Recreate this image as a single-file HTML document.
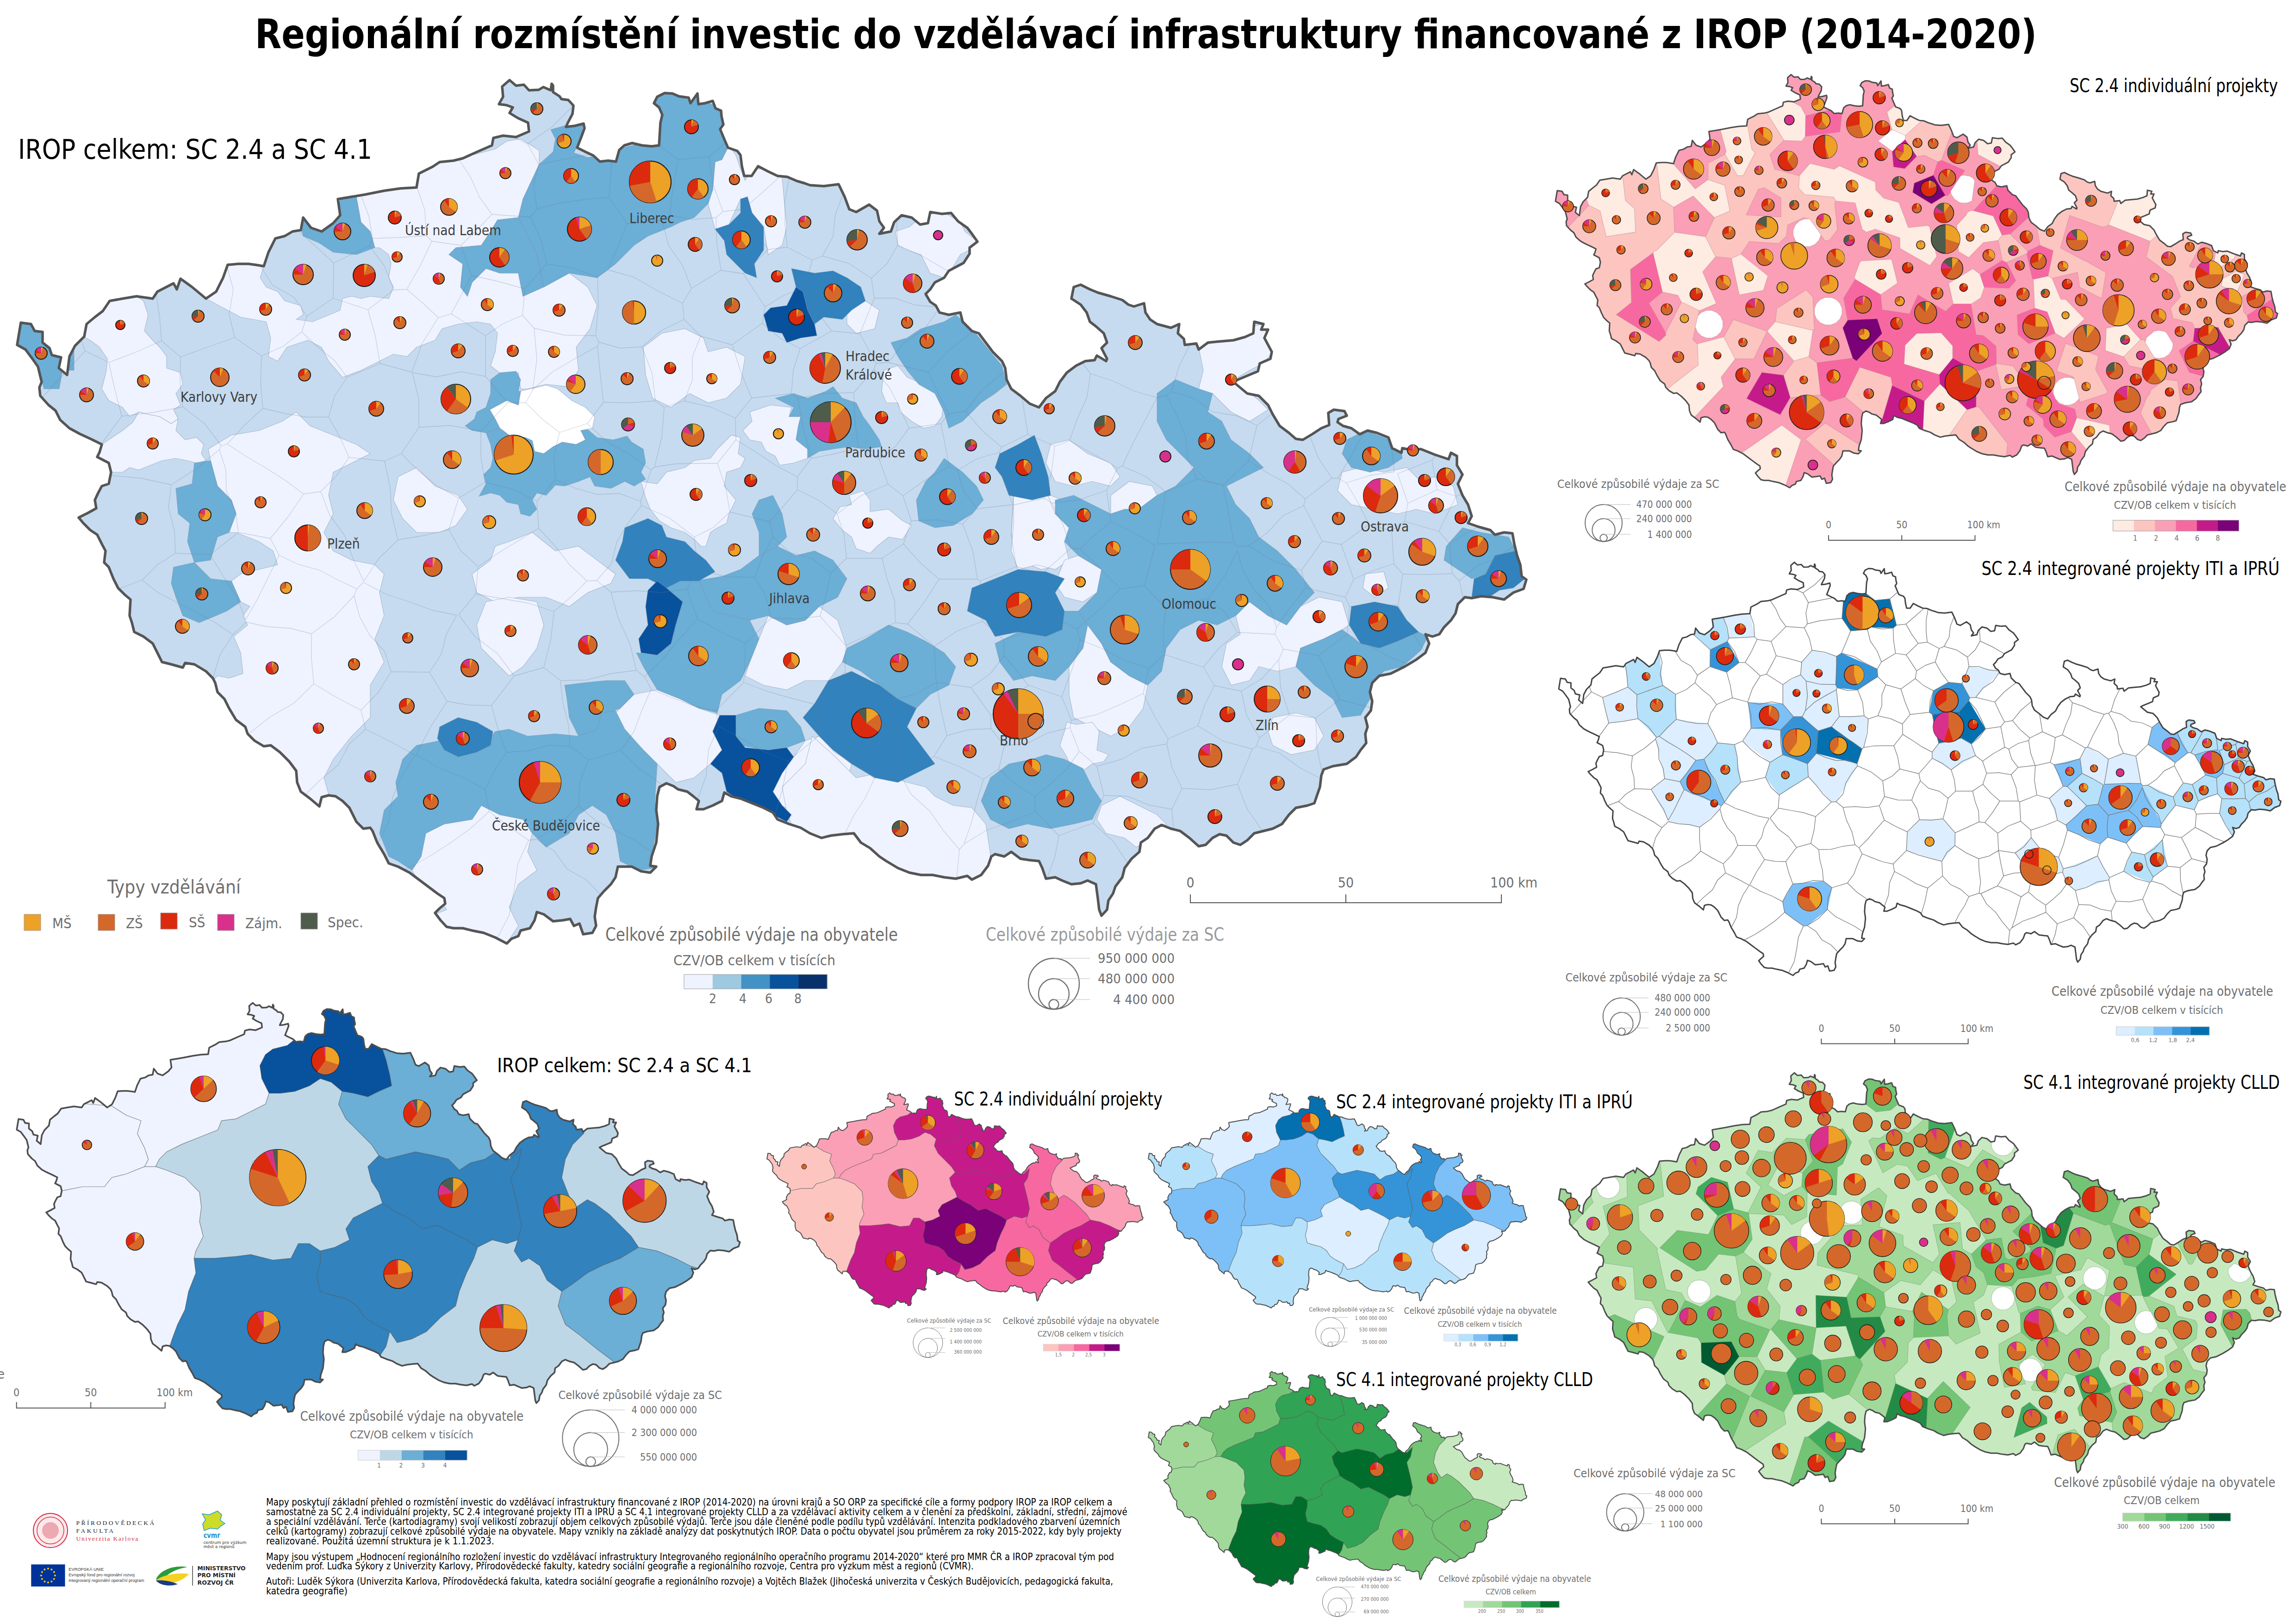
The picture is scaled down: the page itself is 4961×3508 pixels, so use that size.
<!DOCTYPE html><html><head><meta charset="utf-8"><style>html,body{margin:0;padding:0;background:#fff;overflow:hidden}svg{display:block}</style></head><body><svg width="4961" height="3508" viewBox="0 0 4961 3508" font-family="'DejaVu Sans Condensed','Liberation Sans','DejaVu Sans',sans-serif">
<defs><path id="mesh" d="M175,734L184,758M184,758L146,799M140,806L91,859M1239,228L1193,274L1140,311M1140,311L1107,295M184,758L235,783M219,959L263,899M235,783L248,841L263,899M337,634L345,685L349,736M235,783L293,761L349,736M1822,419L1805,463L1800,511L1777,553M1937,475L1940,529M1777,553L1834,569L1883,601M1883,601L1917,569L1940,529M257,1272L307,1253M239,1027L305,1033L370,1047M307,1253L340,1220L379,1195M370,1047L364,1097L377,1146L379,1195M2830,941L2849,990L2878,1033M2878,1033L2891,1033M2947,934L2920,984L2891,1033M2049,586L1996,555L1940,529M1883,601L1889,644M1889,644L1934,644L1978,659L2023,663M2820,1078L2878,1033M2749,893L2716,919M2820,1078L2783,1045L2739,1022L2698,995M2716,919L2698,995M2571,744L2547,793L2531,846M2716,919L2671,898L2621,890L2579,860L2531,846M263,899L330,891L395,879M349,736L390,771M395,879L389,825L390,771M491,576L504,626L495,679L507,729M390,771L448,750L507,729M3006,961L3013,1019M2891,1033L2909,1043M3013,1019L2960,1027L2909,1043M2437,1865L2405,1817L2362,1778M2262,1898L2279,1852L2288,1805M2362,1778L2288,1805M2521,1607L2468,1616L2421,1641L2370,1655M2521,1607L2532,1657L2554,1703M2554,1703L2532,1748M2532,1748L2483,1739L2436,1720L2385,1718M2385,1718L2370,1655M2674,1694L2695,1748L2728,1795M2536,1791L2532,1748M2674,1694L2615,1706L2554,1703M2362,1778L2385,1718M2332,1623L2370,1655M2332,1623L2305,1661L2271,1692L2236,1721M2236,1721L2237,1753M2288,1805L2237,1753M1943,1669L2018,1634M1943,1669L1969,1716L2009,1752L2039,1795L2073,1835M2018,1634L2073,1656L2125,1683M2125,1683L2111,1730L2099,1777L2083,1823M2073,1835L2083,1823M2067,1898L2073,1835M1935,1667L1943,1669M1889,1682L1935,1667M1889,1682L1870,1723L1845,1761L1825,1802M2237,1753L2185,1775L2132,1793L2083,1823M2158,1661L2195,1694L2236,1721M2158,1661L2125,1683M1777,553L1755,562M1705,384L1696,434L1696,484L1701,534M1755,562L1701,534M1074,2027L1100,1977L1111,1922L1119,1866L1142,1815M873,1879L923,1853L970,1823L1015,1791L1057,1753M1057,1753L1099,1785L1142,1815M1298,1933L1266,1900L1225,1877L1198,1839L1159,1813M1142,1815L1159,1813M1411,1841L1371,1815L1329,1794L1286,1772L1250,1740M1159,1813L1209,1782L1250,1740M562,574L589,616L635,642L663,683M507,729L565,769M565,769L612,748L652,717M663,683L652,717M652,717L686,749L722,778L750,815M568,882L563,825L565,769M568,882L615,893L662,901L710,901M710,901L723,855L750,815M568,882L528,919L491,959M395,879L443,916L478,963M491,959L478,963M370,1047L425,1012L474,971M474,971L478,963M3273,1178L3234,1206L3189,1224L3153,1255M3194,1138L3132,1174M3132,1174L3138,1239M3153,1255L3138,1239M3103,983L3094,994M3094,994L3020,1023M2524,1596L2588,1568M2524,1596L2521,1607M2674,1694L2706,1618M2588,1568L2643,1601L2706,1618M2854,1682L2808,1658L2765,1627L2714,1612M2706,1618L2714,1612M2588,1568L2603,1523L2624,1481M2721,1594L2714,1612M2721,1594L2694,1546L2682,1493M2682,1493L2624,1481M2158,1661L2170,1611M2332,1623L2312,1572M2312,1572L2264,1583L2219,1606L2170,1611M2018,1634L2046,1589M2046,1589L2093,1576L2141,1574M2170,1611L2141,1574M1057,1753L1048,1705M1048,1705L1069,1664L1094,1625M1094,1625L1140,1622L1185,1610L1232,1612M1250,1740L1253,1689L1271,1642M1232,1612L1271,1642M2519,1062L2587,1035M2519,1062L2475,1029L2425,1007M2587,1035L2567,991L2561,942L2543,897L2520,854M2425,1007L2448,957L2474,908L2500,859M2520,854L2500,859M2643,1048L2587,1035M2643,1048L2655,1110L2666,1172M2666,1172L2611,1171L2555,1173L2500,1175M2500,1175L2510,1119L2519,1062M2698,995L2643,1048M2531,846L2520,854M2311,952L2328,904L2349,857L2356,807M2311,952L2363,981L2415,1011M2356,807L2405,823L2451,845L2500,859M2415,1011L2425,1007M1160,451L1211,438L1264,431L1316,426M1164,355L1153,402L1160,451M1164,355L1220,344L1275,333M1316,426L1322,348M1568,308L1532,338M1532,338L1465,345M1465,345L1424,314M1140,311L1164,355M1355,483L1431,476M1314,583L1335,533L1355,483M1314,583L1371,599L1422,629L1475,655M1475,655L1494,623M1494,623L1475,574L1444,529L1431,476M1355,483L1316,426M1465,345L1454,405L1447,465M1447,465L1431,476M1889,1682L1851,1649L1805,1627L1770,1589M1674,1761L1691,1703L1703,1644M1703,1644L1770,1589M644,498L683,533L721,568M663,683L720,644M721,568L720,644M750,815L821,785M821,785L811,726L795,669M720,644L795,669M991,344L1017,383L1036,426L1063,463M1160,451L1146,469M1063,463L1146,469M816,1822L840,1776L848,1723L869,1675L897,1631M659,1717L694,1683L731,1652L754,1608L790,1575M790,1575L844,1602L897,1631M1048,1705L999,1679L947,1658L899,1630M1094,1625L1076,1575L1062,1524M1062,1524L1014,1523L966,1515M899,1630L930,1571L966,1515M1062,1524L1111,1460M1211,1470L1216,1517L1228,1564L1232,1612M1211,1470L1175,1442M1175,1442L1111,1460M3035,1126L3042,1087M3035,1126L3109,1148M3042,1087L3105,1058M3109,1148L3146,1072M3146,1072L3105,1058M3094,994L3105,1058M3020,1023L3042,1087M3132,1174L3109,1148M3159,1067L3146,1072M2820,1078L2817,1092M2857,1169L2898,1176M2817,1092L2857,1169M2909,1043L2935,1087L2958,1133M2898,1176L2958,1133M3035,1126L3007,1147M2958,1133L3007,1147M2674,1366L2634,1400L2600,1441M2600,1441L2516,1414M2610,1293L2648,1324L2674,1366M2610,1293L2564,1303L2519,1315M2519,1315L2513,1364L2516,1414M1797,715L1729,753M1797,715L1764,671L1737,623M1729,753L1685,730L1647,698M1737,623L1693,638L1653,663M1653,663L1647,698M1755,562L1737,623M1858,721L1797,715M1889,644L1858,721M1271,1642L1341,1621M1432,1696L1383,1662L1341,1621M1703,1644L1651,1624L1603,1595L1553,1569M1507,1727L1526,1675L1531,1619L1553,1569M1606,591L1660,539M1606,591L1558,584M1558,584L1549,527L1547,470M1660,539L1630,497L1605,452M1605,452L1562,457M1562,457L1547,470M1701,534L1660,539M1653,663L1606,591M1494,623L1558,584M1447,465L1497,474L1547,470M1686,381L1646,417L1605,452M1532,338L1541,399L1562,457M1710,850L1624,860M1710,850L1714,800L1729,753M1647,698L1582,745M1624,860L1601,804L1582,745M1475,655L1478,690M1478,690L1514,726M1582,745L1514,726M879,625L908,574L933,521M879,625L851,626M851,626L831,575L798,531M921,509L863,513L805,515M921,509L933,521M805,515L798,531M721,568L798,531M795,669L851,626M780,422L797,467L805,515M900,402L918,454L921,509M996,530L1030,497L1063,463M996,530L933,521M1314,583L1291,598M1146,469L1169,518L1181,570M1291,598L1238,579L1181,570M1111,1460L1075,1412L1027,1376L991,1328M1197,1321L1190,1382L1175,1442M1197,1321L1142,1303L1085,1293L1028,1283M1028,1283L991,1328M966,1515L928,1452M928,1452L953,1414L965,1369L987,1329M790,1575L780,1534M928,1452L845,1451M845,1451L817,1496L780,1534M379,1195L454,1198M474,971L488,1015L489,1061L509,1104L515,1150M515,1150L454,1198M2925,1251L2968,1232L3012,1218M2925,1251L2907,1290M2907,1290L2916,1310M2916,1310L2969,1307L3021,1307M3021,1307L3031,1240M3031,1240L3012,1218M2898,1176L2925,1251M3007,1147L3012,1218M3138,1239L3085,1241L3031,1240M2758,1355L2789,1311L2822,1270M2758,1355L2743,1310L2710,1274L2686,1234L2673,1189M2698,1179L2751,1212L2812,1232M2698,1179L2674,1181M2812,1232L2822,1270M2674,1366L2755,1370M2610,1293L2647,1244L2673,1189M2755,1370L2758,1355M2857,1169L2812,1232M2817,1092L2772,1114L2738,1151L2698,1179M2666,1172L2674,1181M2907,1290L2822,1270M2519,1315L2473,1265M2496,1178L2473,1265M2682,1493L2728,1465L2763,1425M2600,1441L2624,1481M2755,1370L2773,1402M2763,1425L2773,1402M2721,1594L2786,1545M2763,1425L2767,1486L2786,1545M2857,1670L2845,1611L2843,1551M2843,1551L2786,1545M2314,1184L2333,1185M2314,1184L2297,1134L2273,1087M2333,1185L2400,1126M2273,1087L2333,1079L2391,1059M2391,1059L2400,1126M2496,1178L2449,1150L2400,1126M2473,1265L2421,1272M2421,1272L2377,1228L2333,1185M2415,1011L2391,1059M2311,952L2279,964M2279,964L2272,1021L2256,1076M2256,1076L2273,1087M2524,1596L2495,1548L2470,1498M2516,1414L2482,1444M2470,1498L2482,1444M2312,1572L2315,1556M2470,1498L2420,1522L2369,1544L2315,1556M1772,1331L1785,1285L1795,1238M1772,1331L1719,1337L1666,1335M1795,1238L1756,1207L1707,1193L1670,1160M1666,1335L1655,1288L1631,1247M1670,1160L1647,1202L1631,1247M1577,1106L1663,1127M1663,1127L1670,1160M1500,1160L1508,1230M1508,1230L1568,1246L1631,1247M1500,1160L1542,1139L1577,1106M1767,1523L1770,1589M1935,1667L1942,1615L1935,1563L1933,1511M1767,1523L1790,1482L1826,1452M1826,1452L1877,1485L1933,1511M1547,1535L1499,1525L1452,1507L1407,1489M1547,1535L1607,1474M1607,1474L1611,1390M1393,1462L1407,1489M1393,1462L1433,1422L1469,1379L1507,1337M1611,1390L1558,1365L1507,1337M1341,1621L1370,1580L1387,1534L1407,1489M1553,1569L1547,1535M1767,1523L1713,1509L1659,1494L1607,1474M1666,1335L1611,1390M1826,1452L1827,1394M1772,1331L1827,1394M1211,1470L1267,1469L1320,1455L1375,1448M1375,1448L1393,1462M1375,1448L1361,1390L1336,1336L1320,1279M1485,1272L1430,1280L1375,1276L1320,1279M1485,1272L1507,1337M1508,1230L1485,1272M1624,860L1589,903M1514,726L1496,771L1496,821L1478,866M1589,903L1535,879L1478,866M1500,1160L1447,1119L1386,1092M1320,1279L1289,1254M1386,1092L1357,1130L1333,1170L1321,1218L1289,1254M1197,1321L1234,1289L1268,1255M1268,1255L1289,1254M1478,690L1429,714L1387,749M1387,749L1340,752L1294,739M1291,598L1293,662L1287,725M1287,725L1294,739M1268,1255L1230,1219L1199,1179L1164,1141M1028,1283L1033,1224M1033,1224L1076,1195L1120,1168L1164,1141M1386,1092L1384,1083M1384,1083L1339,1066L1290,1068L1244,1055L1200,1036M1200,1036L1160,1083M1164,1141L1160,1083M987,1329L934,1318L884,1300L833,1283L785,1258M765,1287L777,1332L799,1372L831,1407L845,1451M765,1287L771,1272M771,1272L785,1258M491,959L532,986L575,1011L617,1038L656,1067M515,1150L584,1163M656,1067L622,1117L584,1163M531,1338L557,1293L580,1246L603,1199M454,1198L482,1244L511,1289L531,1338M584,1163L603,1199M678,1477L673,1423L673,1369M678,1477L635,1519L583,1549L536,1586M673,1369L627,1357L579,1354L532,1344M460,1465L475,1415L503,1371M503,1371L532,1344M765,1287L723,1332L673,1369M780,1534L728,1507L678,1477M771,1272L729,1252L689,1231L644,1219L603,1199M307,1253L343,1281L384,1302L425,1323L465,1345L503,1371M2911,1370L2849,1416M2911,1370L2955,1392L2997,1417L3043,1435M2849,1416L2873,1463L2895,1511M2895,1511L2963,1529M2916,1310L2911,1370M2773,1402L2849,1416M3021,1307L3048,1360L3080,1410M2843,1551L2895,1511M3153,1255L3162,1293M2356,807L2338,783M2221,938L2208,858M2279,964L2221,938M2141,1545L2181,1512L2222,1480M2141,1574L2141,1545M2315,1556L2294,1505M2222,1480L2294,1505M2482,1444L2431,1427L2384,1402L2334,1382M2294,1505L2317,1444L2334,1382M2252,1239L2314,1184M2252,1239L2278,1286L2289,1338M2421,1272L2375,1317L2327,1359M2289,1338L2327,1359M2327,1359L2334,1382M2046,1589L2033,1532L2023,1474M2141,1545L2098,1485M2023,1474L2098,1485M1933,1511L1980,1499L2023,1474M2222,1480L2170,1416M2098,1485L2139,1456L2170,1416M2289,1338L2230,1362L2169,1382M2169,1382L2170,1416M2252,1239L2196,1224M2256,1076L2189,1091M2189,1091L2185,1158L2196,1224M2173,800L2125,840L2086,888M2221,938L2164,966M2164,966L2122,930L2086,888M1407,1015L1361,982L1311,954L1269,915M1407,1015L1414,1009M1414,1009L1430,945L1435,880M1269,915L1304,869M1304,869L1360,870L1416,866M1435,880L1416,866M1209,934L1197,984L1200,1036M1209,934L1269,915M1384,1083L1407,1015M1577,1106L1568,1053L1550,1001M1550,1001L1504,1001L1459,1002L1414,1009M1590,950L1550,1001M1590,950L1589,903M1478,866L1435,880M1294,739L1291,748M1291,748L1297,808L1304,869M1387,749L1409,806L1416,866M996,530L1019,595M1181,570L1134,624M1134,624L1077,608L1019,595M1033,1224L995,1189L970,1144M1048,1042L1106,1056L1160,1083M1048,1042L991,1076M991,1076L970,1144M1039,931L1039,987L1048,1042M905,923L972,919L1039,931M905,923L867,980M991,1076L945,1050L904,1017L867,980M2023,1474L2019,1396M2169,1382L2123,1342M2123,1342L2068,1363L2019,1396M2196,1224L2118,1255M2123,1342L2118,1255M2188,1090L2111,1099M2188,1090L2168,1035L2159,977M2111,1099L2082,1061L2069,1016M2159,977L2111,991L2069,1016M2118,1255L2112,1251M2080,1132L2102,1190L2112,1251M2080,1132L2111,1099M2164,966L2159,977M2080,1132L2025,1123L1969,1125M2051,1008L2069,1016M2051,1008L1999,1037L1951,1071M1969,1125L1951,1071M1964,925L2033,915M1964,925L1944,880L1921,836L1888,798M2006,804L2027,849L2050,894M2006,804L1920,783M2050,894L2033,915M1920,783L1893,785M1893,785L1888,798M2102,716L2051,756L2006,804M2086,888L2050,894M2027,669L1997,712L1952,741L1920,783M2051,1008L2042,961L2033,915M1858,721L1893,785M1845,848L1888,798M1845,848L1784,850L1724,860M1724,860L1710,850M1287,725L1220,724L1154,709M1291,748L1242,775L1193,804L1151,842M1154,709L1160,776L1151,842M1134,624L1129,681M1154,709L1129,681M1209,934L1170,904L1136,870M1039,931L1097,870M1097,870L1136,870M1136,870L1151,842M786,1256L763,1207L744,1156L712,1112L693,1062M786,1256L818,1207L860,1166M860,1166L846,1110L843,1053L831,996M693,1062L727,1028L754,988M754,988L831,996M656,1067L693,1062M970,1144L915,1157L860,1166M867,980L831,996M710,901L734,943L754,988M2029,1251L1997,1301L1961,1348M2029,1251L1988,1215L1952,1175M1906,1206L1952,1175M1906,1206L1917,1252L1933,1297L1935,1345M1935,1345L1961,1348M2112,1251L2029,1251M2019,1396L1961,1348M1969,1125L1952,1175M1827,1394L1881,1370L1935,1345M1795,1238L1829,1206M1829,1206L1906,1206M1900,993L1919,1046M1900,993L1855,967M1919,1046L1860,1071L1809,1110M1855,967L1805,980L1753,990M1809,1110L1768,1080L1723,1058M1753,990L1723,1030M1723,1058L1723,1030M1951,1071L1919,1046M1964,925L1936,963L1900,993M1845,848L1847,908L1855,967M1829,1206L1824,1157L1809,1110M1724,860L1736,926L1753,990M1663,1127L1693,1093L1723,1058M1590,950L1634,977L1677,1006L1723,1030M1049,813L1049,725M1049,813L997,803L943,814L891,805M1049,725L975,678M890,804L912,742L947,686M947,686L975,678M1129,681L1087,699L1049,725M1097,870L1049,813M905,923L905,863L891,805M1019,595L997,637L975,678M821,785L890,804M879,625L914,655L947,686" fill="none"/><polygon id="cz" points="45,697 67,700 75,715 92,717 92,740 107,752 112,767 132,772 127,795 145,810 150,770 162,747 182,727 187,700 205,685 222,672 237,650 265,645 295,640 330,645 340,630 375,612 382,625 390,602 415,620 445,645 467,630 482,600 492,572 515,570 537,570 552,572 570,575 580,545 595,515 615,510 632,500 650,497 655,470 672,492 695,500 720,482 735,465 730,430 760,425 790,420 830,412 865,407 900,405 905,375 935,360 950,350 980,347 1000,342 1031,328 1063,314 1066,298 1087,293 1115,296 1143,284 1141,265 1119,255 1101,244 1108,232 1094,227 1078,225 1087,209 1085,187 1101,173 1115,185 1132,183 1143,195 1164,194 1174,188 1190,195 1192,181 1195,185 1195,199 1209,208 1213,214 1228,216 1239,228 1237,246 1227,265 1223,274 1241,272 1261,267 1263,277 1256,296 1247,319 1265,328 1282,336 1296,349 1314,347 1331,349 1338,324 1349,314 1366,309 1387,314 1408,316 1424,314 1427,265 1431,248 1424,232 1413,223 1420,209 1436,201 1453,202 1467,208 1488,211 1492,223 1507,202 1509,225 1523,223 1540,218 1546,234 1558,239 1559,251 1563,269 1556,279 1566,303 1573,319 1593,326 1600,335 1603,359 1608,380 1624,380 1638,359 1659,370 1680,380 1701,382 1722,391 1739,396 1750,400 1780,402 1812,398 1825,425 1835,452 1850,458 1878,442 1895,455 1900,478 1910,492 1900,505 1925,500 1932,480 1948,465 1970,470 1988,485 2005,482 2010,458 2035,462 2055,460 2070,478 2090,492 2100,505 2112,522 2095,535 2095,548 2082,568 2050,585 2040,600 2020,610 2010,625 2000,635 2010,652 2022,660 2030,675 2050,680 2075,675 2080,695 2100,715 2115,720 2130,740 2145,760 2165,780 2172,795 2175,820 2185,840 2205,855 2225,872 2245,880 2260,860 2280,845 2290,825 2305,805 2325,790 2345,780 2365,778 2370,768 2390,780 2392,775 2380,752 2392,740 2385,720 2368,705 2355,695 2348,675 2335,658 2315,645 2320,620 2335,615 2355,625 2372,632 2400,640 2425,648 2438,658 2450,662 2472,655 2475,675 2485,690 2500,700 2530,708 2548,700 2545,720 2558,732 2560,745 2585,742 2590,755 2610,740 2630,738 2665,735 2690,728 2708,720 2710,695 2730,700 2725,712 2740,712 2732,730 2748,760 2745,775 2722,785 2718,802 2675,820 2665,825 2695,850 2720,855 2740,875 2750,895 2765,920 2785,935 2800,948 2815,950 2835,938 2855,925 2872,918 2870,892 2882,885 2905,888 2910,898 2892,905 2890,912 2902,920 2920,925 2938,938 2955,930 2975,935 3000,945 3008,968 3028,978 3030,968 3050,972 3070,970 3100,982 3130,992 3135,978 3148,985 3148,1005 3160,1025 3150,1045 3160,1070 3172,1090 3180,1115 3172,1130 3195,1138 3220,1145 3230,1155 3250,1150 3268,1152 3272,1175 3278,1200 3285,1220 3288,1245 3298,1252 3292,1272 3270,1280 3250,1295 3225,1290 3200,1288 3180,1292 3165,1290 3150,1305 3145,1325 3135,1340 3120,1355 3110,1370 3095,1375 3080,1370 3088,1390 3080,1410 3060,1425 3035,1440 3005,1455 2980,1460 2965,1475 2960,1495 2965,1515 2962,1535 2950,1550 2955,1570 2950,1585 2952,1605 2940,1620 2930,1635 2910,1650 2880,1655 2860,1662 2855,1675 2852,1700 2845,1720 2840,1735 2825,1740 2800,1745 2785,1760 2770,1780 2750,1790 2730,1795 2710,1800 2695,1815 2680,1825 2665,1820 2650,1805 2635,1802 2620,1810 2605,1825 2590,1828 2570,1810 2550,1795 2530,1790 2510,1782 2495,1790 2480,1810 2465,1820 2462,1840 2445,1855 2430,1875 2425,1895 2410,1915 2405,1930 2395,1945 2392,1965 2380,1978 2375,1965 2372,1940 2368,1910 2350,1902 2335,1908 2315,1910 2295,1902 2280,1895 2260,1898 2252,1875 2245,1860 2225,1858 2205,1855 2185,1840 2170,1850 2150,1845 2142,1850 2135,1870 2120,1890 2100,1900 2090,1892 2065,1898 2040,1895 2015,1890 1990,1890 1965,1885 1940,1875 1915,1860 1900,1850 1880,1832 1860,1820 1845,1800 1820,1802 1795,1805 1775,1810 1750,1800 1730,1788 1705,1780 1680,1770 1670,1755 1650,1745 1625,1735 1600,1725 1580,1720 1565,1712 1560,1730 1540,1740 1520,1748 1505,1748 1510,1730 1498,1720 1485,1710 1465,1705 1455,1698 1440,1692 1425,1700 1420,1720 1418,1750 1422,1780 1418,1820 1408,1850 1405,1870 1418,1872 1405,1885 1385,1882 1365,1872 1335,1872 1330,1895 1320,1910 1305,1925 1292,1940 1288,1960 1285,1980 1288,2000 1280,2015 1260,2018 1252,1995 1240,2000 1232,1985 1215,1988 1195,1990 1175,1975 1160,1970 1155,1988 1145,2005 1125,2010 1120,2022 1105,2028 1095,2038 1070,2025 1045,2015 1020,2010 1000,2005 980,2005 965,2002 952,1988 940,1972 950,1962 962,1952 960,1940 945,1930 925,1915 905,1900 885,1885 860,1872 840,1865 830,1845 815,1820 805,1795 800,1788 785,1790 770,1775 755,1745 740,1730 725,1720 710,1718 695,1722 690,1742 670,1725 650,1710 642,1690 640,1665 625,1645 605,1625 585,1610 570,1612 550,1600 535,1585 530,1570 510,1555 495,1530 485,1510 470,1495 465,1475 460,1465 445,1450 420,1435 400,1432 395,1442 370,1435 350,1430 340,1410 330,1390 310,1375 290,1365 285,1345 280,1330 282,1295 270,1285 255,1270 245,1250 235,1225 225,1215 228,1190 220,1175 210,1155 195,1145 180,1130 170,1118 190,1108 208,1098 205,1080 212,1065 220,1050 235,1045 240,1020 235,1000 210,987 215,977 220,960 200,950 172,937 150,925 130,907 120,887 105,875 87,855 85,837 90,825 82,792 70,775 55,755 37,745" stroke-linejoin="round"/></defs>
<clipPath id="c1"><use href="#cz" transform="matrix(1,0,0,1,0,0)"/></clipPath>
<g clip-path="url(#c1)">
<use href="#cz" transform="matrix(1,0,0,1,0,0)" fill="#c6dbef"/>
<g stroke="#7f93ad" stroke-opacity="0.5" stroke-width="1.2">
<polygon points="445,645 467,630 482,600 492,572 515,570 537,570 552,572 570,575 562,600 575,620 600,630 615,650 650,660 655,680 640,690 675,695 700,685 735,670 740,645 760,640 780,645 800,640 840,645 850,620 840,600 845,570 840,550 820,535 810,535 800,500 780,480 770,425 790,420 830,412 865,407 900,405 905,375 935,360 950,350 980,347 1010,337 1040,330 1070,322 1095,305 1125,300 1165,325 1165,355 1130,430 1120,470 1075,475 1060,500 1040,530 985,535 970,550 1000,570 995,620 1010,640 1020,610 1050,580 1080,590 1120,590 1130,640 1175,620 1230,590 1270,620 1290,660 1275,710 1245,750 1250,800 1225,835 1180,830 1140,840 1125,840 1120,805 1085,810 1060,790 1070,760 1075,720 1060,700 1030,695 990,700 955,710 940,735 900,750 880,770 850,765 820,780 780,800 740,815 710,780 695,750 665,735 620,750 600,780 580,770 585,730 575,695 520,685" fill="#eff3ff"/>
<polygon points="187,700 205,685 222,672 237,650 265,645 295,640 310,650 320,680 312,715 330,735 345,750 360,770 360,795 390,805 395,830 380,850 390,875 375,885 385,905 370,915 345,900 320,895 300,890 280,900 265,880 235,865 220,840 230,800 232,775 215,750 195,735 180,727" fill="#eff3ff"/>
<polygon points="220,960 265,930 287,912 300,890 320,895 345,900 370,915 385,905 380,930 400,950 425,945 440,960 435,980 445,995 425,1000 405,995 380,990 350,995 325,1005 300,1015 280,1010 265,1020 240,1020 235,1000 210,987 215,977" fill="#eff3ff"/>
<polygon points="450,970 500,940 560,930 610,910 640,890 670,920 720,940 770,960 800,980 760,1000 720,1020 710,1070 720,1110 700,1150 720,1190 760,1210 810,1220 830,1240 820,1280 830,1330 810,1380 830,1430 800,1480 800,1550 760,1590 720,1640 700,1680 720,1750 650,1810 560,1690 430,1500 470,1460 495,1465 525,1455 520,1410 505,1375 535,1350 525,1330 540,1310 520,1300 500,1255 520,1240 560,1230 600,1220 590,1190 560,1170 510,1150 495,1150 510,1110 500,1080 470,1050 455,995" fill="#eff3ff"/>
<polygon points="860,1030 900,1010 940,1050 990,1070 1010,1100 985,1135 950,1150 900,1150 870,1120 850,1080" fill="#eff3ff"/>
<polygon points="1100,1170 1150,1150 1200,1190 1250,1180 1290,1210 1330,1240 1320,1260 1270,1280 1230,1310 1180,1290 1120,1290 1070,1300 1030,1280 1020,1240 1060,1210 1070,1180" fill="#eff3ff"/>
<polygon points="1050,1300 1100,1290 1160,1300 1175,1350 1160,1400 1130,1440 1100,1460 1070,1430 1040,1400 1030,1350" fill="#eff3ff"/>
<polygon points="1390,750 1430,720 1480,710 1520,730 1530,760 1570,750 1610,770 1600,830 1570,860 1530,870 1490,850 1450,880 1410,860 1395,810" fill="#eff3ff"/>
<polygon points="1385,1040 1420,1045 1440,1020 1480,1010 1500,995 1535,990 1550,970 1580,940 1600,945 1595,980 1610,990 1600,1010 1570,1020 1565,1050 1590,1080 1575,1110 1570,1130 1550,1140 1535,1150 1525,1180 1515,1180 1500,1165 1480,1150 1450,1140 1425,1125 1405,1100 1395,1075" fill="#eff3ff"/>
<polygon points="1605,930 1625,910 1620,890 1665,875 1710,880 1705,900 1730,900 1725,920 1720,950 1745,970 1745,990 1715,1000 1685,1005 1675,985 1655,975 1645,955 1620,950" fill="#eff3ff"/>
<polygon points="1800,1120 1815,1095 1840,1090 1835,1070 1865,1060 1880,1080 1880,1105 1920,1100 1950,1125 1970,1135 1950,1165 1920,1160 1895,1180 1880,1195 1850,1185 1840,1160 1820,1145" fill="#eff3ff"/>
<polygon points="1905,845 1910,800 1940,790 1960,815 1995,830 2025,835 2040,865 2035,900 2020,920 1995,925 1970,910 1945,890 1940,870 1915,870" fill="#eff3ff"/>
<polygon points="1545,350 1575,315 1590,335 1600,365 1610,390 1625,365 1665,365 1690,385 1695,440 1700,490 1690,530 1660,550 1650,490 1625,460 1615,425 1600,430 1575,485 1545,495 1530,440 1540,410" fill="#eff3ff"/>
<polygon points="1935,500 1965,490 1995,465 2025,455 2050,465 2075,480 2085,500 2110,520 2095,540 2075,550 2060,575 2040,600 2010,590 1990,550 1960,540 1940,530" fill="#eff3ff"/>
<polygon points="1830,670 1870,650 1900,670 1890,710 1850,720 1830,700" fill="#eff3ff"/>
<polygon points="1340,1530 1370,1500 1420,1490 1470,1510 1510,1530 1555,1545 1540,1580 1560,1620 1535,1650 1500,1680 1460,1690 1420,1650 1390,1620 1350,1580 1330,1540" fill="#eff3ff"/>
<polygon points="1740,1600 1770,1590 1800,1620 1840,1650 1830,1690 1800,1730 1760,1750 1720,1760 1690,1740 1670,1710 1690,1670 1715,1635" fill="#eff3ff"/>
<polygon points="1640,1380 1660,1330 1700,1350 1740,1340 1770,1310 1810,1340 1830,1400 1820,1430 1790,1470 1740,1470 1700,1490 1650,1480 1610,1460 1620,1430" fill="#eff3ff"/>
<polygon points="2190,1070 2230,1080 2270,1070 2296,1080 2296,1220 2250,1230 2200,1210 2185,1150" fill="#eff3ff"/>
<polygon points="2590,750 2620,740 2650,730 2680,720 2705,705 2730,700 2740,725 2735,740 2750,760 2730,785 2700,800 2675,815 2690,840 2720,865 2740,885 2700,910 2660,890 2620,850 2590,840 2600,800" fill="#eff3ff"/>
<polygon points="2900,1020 2940,1010 2990,1020 3040,1010 3070,1040 3100,1030 3140,1050 3150,1090 3100,1110 3060,1100 3020,1110 2970,1100 2920,1090 2890,1060" fill="#eff3ff"/>
<polygon points="2190,1070 2260,1060 2280,1110 2310,1140 2300,1170 2310,1210 2280,1230 2240,1220 2200,1230 2185,1190 2190,1130" fill="#eff3ff"/>
<polygon points="2400,1070 2440,1040 2490,1050 2500,1070 2460,1100 2430,1100 2400,1110" fill="#eff3ff"/>
<polygon points="2270,960 2310,950 2350,980 2400,1000 2420,1030 2400,1050 2360,1040 2320,1050 2280,1040 2260,1000" fill="#eff3ff"/>
<polygon points="2300,1210 2330,1200 2380,1230 2390,1260 2370,1280 2340,1300 2300,1290 2280,1260" fill="#eff3ff"/>
<polygon points="2350,1350 2380,1390 2400,1430 2440,1460 2480,1480 2470,1530 2440,1570 2400,1590 2360,1570 2320,1550 2310,1500 2310,1440 2340,1400" fill="#eff3ff"/>
<polygon points="2670,1330 2700,1300 2740,1330 2780,1350 2810,1310 2850,1290 2900,1300 2915,1350 2900,1360 2860,1380 2810,1400 2800,1440 2760,1450 2720,1440 2700,1470 2660,1480 2640,1440 2650,1390 2680,1370" fill="#eff3ff"/>
<polygon points="2750,1550 2800,1540 2840,1550 2860,1590 2840,1620 2790,1630 2750,1610 2740,1580" fill="#eff3ff"/>
<polygon points="2950,1240 2990,1235 3000,1270 2970,1290 2945,1270" fill="#eff3ff"/>
<polygon points="1700,1755 1690,1700 1740,1650 1755,1590 1800,1630 1850,1680 1900,1670 1960,1690 2000,1700 2020,1720 2060,1740 2100,1745 2130,1780 2140,1845 2130,1920 2080,1930 2040,1930 2000,1925 1960,1920 1920,1905 1890,1880 1860,1865 1840,1845 1800,1830 1760,1820 1720,1805" fill="#eff3ff"/>
<polygon points="2380,1740 2420,1720 2460,1740 2500,1760 2520,1780 2505,1790 2480,1815 2455,1830 2430,1810 2390,1800 2370,1770" fill="#eff3ff"/>
<polygon points="920,1800 960,1780 1020,1770 1040,1740 1080,1760 1130,1770 1150,1800 1140,1840 1160,1880 1120,1910 1100,1960 1120,2000 1095,2037 1050,2020 1000,2010 960,2000 940,1975 965,1965 950,1940 910,1910 890,1880 910,1850" fill="#eff3ff"/>
<polygon points="2305,1560 2325,1565 2360,1560 2375,1580 2370,1620 2395,1630 2385,1645 2360,1650 2340,1665 2315,1660 2305,1635 2290,1610 2300,1580" fill="#eff3ff"/>
<polygon points="1058,885 1095,865 1120,875 1125,845 1180,832 1205,840 1235,865 1265,880 1285,900 1280,925 1255,930 1265,950 1245,960 1215,955 1195,965 1175,980 1155,975 1150,952 1135,945 1100,940 1080,925 1070,905" fill="#ffffff"/>
<polygon points="20,680 90,680 160,750 160,800 135,800 128,840 95,840 85,800 20,770" fill="#6baed6"/>
<polygon points="735,430 770,425 780,480 800,500 810,535 770,550 720,545 690,525 655,510 650,490 660,470 700,485 730,455" fill="#6baed6"/>
<polygon points="1165,355 1195,328 1200,300 1190,280 1225,270 1260,270 1255,300 1240,330 1270,340 1300,335 1330,340 1340,320 1385,310 1425,300 1425,250 1410,230 1420,210 1450,200 1470,205 1485,215 1500,200 1525,220 1550,230 1565,260 1560,280 1575,315 1560,345 1545,350 1540,410 1530,440 1500,470 1470,480 1450,490 1400,510 1370,530 1330,570 1290,600 1230,590 1175,620 1160,550 1120,470 1130,430" fill="#6baed6"/>
<polygon points="1075,475 1120,470 1160,550 1175,620 1130,640 1120,590 1080,590 1050,580 1020,610 1010,640 995,620 1000,570 970,550 985,535 1040,530 1060,500" fill="#6baed6"/>
<polygon points="1060,820 1080,805 1115,802 1125,820 1120,845 1125,845 1120,875 1095,865 1058,885 1070,905 1080,925 1050,935 1020,930 1005,920 1025,905 1030,890 1050,880 1060,850" fill="#6baed6"/>
<polygon points="1050,935 1080,925 1100,940 1135,945 1150,952 1155,975 1175,980 1195,965 1215,955 1245,960 1265,950 1255,930 1270,928 1290,945 1325,950 1355,942 1365,955 1390,970 1395,1000 1385,1020 1395,1035 1370,1050 1350,1040 1320,1055 1285,1050 1275,1030 1250,1040 1220,1050 1200,1048 1180,1070 1160,1065 1150,1080 1160,1100 1145,1115 1125,1110 1120,1090 1095,1085 1080,1070 1060,1065 1035,1072 1050,1045 1045,1025 1060,1010 1065,990 1060,960" fill="#6baed6"/>
<polygon points="420,1000 455,995 470,1050 500,1080 510,1110 495,1150 470,1160 455,1210 420,1215 405,1170 410,1130 385,1110 380,1055 415,1045" fill="#6baed6"/>
<polygon points="375,1225 420,1215 455,1250 500,1255 520,1300 490,1320 455,1335 430,1345 395,1330 380,1290 370,1260" fill="#6baed6"/>
<polygon points="1675,860 1715,850 1745,860 1785,845 1800,835 1820,860 1850,870 1865,900 1880,920 1900,950 1905,965 1870,970 1835,965 1800,970 1770,975 1745,990 1745,970 1720,950 1725,920 1730,900 1705,900 1715,880" fill="#6baed6"/>
<polygon points="1990,710 2040,695 2065,680 2100,710 2140,760 2165,790 2175,830 2150,850 2120,870 2080,910 2050,925 2040,890 2020,850 1985,830 1960,800 1940,770 1925,740 1960,730" fill="#6baed6"/>
<polygon points="2040,990 2080,1020 2110,1050 2125,1080 2100,1110 2060,1135 2020,1140 1985,1125 1980,1080 2000,1040 2020,1020" fill="#6baed6"/>
<polygon points="1560,1245 1600,1230 1640,1200 1680,1180 1720,1200 1760,1190 1800,1210 1830,1250 1810,1290 1770,1310 1740,1340 1700,1350 1660,1330 1620,1340 1580,1330 1540,1320 1510,1290 1500,1255" fill="#6baed6"/>
<polygon points="1510,1255 1540,1320 1580,1330 1620,1340 1640,1380 1620,1430 1600,1470 1560,1500 1550,1540 1510,1530 1470,1510 1420,1490 1390,1440 1375,1410 1420,1415 1450,1390 1460,1350 1475,1300 1440,1270 1470,1255" fill="#6baed6"/>
<polygon points="1640,1080 1670,1070 1690,1110 1700,1160 1680,1180 1640,1200 1640,1150 1625,1110" fill="#6baed6"/>
<polygon points="1220,1480 1260,1475 1310,1470 1350,1470 1370,1500 1340,1530 1300,1545 1290,1580 1250,1590 1230,1550 1225,1510" fill="#6baed6"/>
<polygon points="1830,1400 1870,1380 1920,1350 1960,1365 2000,1385 2040,1410 2065,1440 2050,1480 2010,1500 1980,1530 1940,1510 1900,1480 1860,1450 1820,1430" fill="#6baed6"/>
<polygon points="1590,1545 1640,1530 1700,1535 1730,1570 1740,1600 1700,1615 1650,1620 1600,1610 1585,1580" fill="#6baed6"/>
<polygon points="870,1640 900,1610 950,1600 990,1635 1040,1620 1070,1580 1100,1575 1140,1590 1200,1585 1250,1590 1290,1575 1300,1540 1330,1535 1350,1575 1390,1620 1420,1650 1415,1730 1420,1780 1410,1840 1415,1875 1380,1880 1340,1860 1330,1800 1310,1760 1280,1740 1250,1760 1230,1800 1180,1830 1150,1800 1130,1770 1080,1760 1040,1740 1020,1770 960,1780 920,1800 910,1850 890,1880 860,1860 840,1850 820,1800 830,1750 860,1720 855,1690" fill="#6baed6"/>
<polygon points="2500,850 2540,820 2590,840 2620,850 2610,890 2640,910 2660,950 2700,980 2730,1010 2690,1030 2650,1050 2610,1040 2580,1010 2550,980 2520,950 2500,910" fill="#6baed6"/>
<polygon points="2460,1100 2500,1070 2540,1050 2580,1010 2610,1040 2650,1050 2670,1090 2700,1120 2720,1160 2760,1190 2800,1230 2840,1280 2810,1310 2780,1350 2740,1330 2700,1300 2670,1330 2630,1350 2590,1340 2550,1360 2520,1400 2510,1450 2480,1480 2440,1460 2400,1430 2380,1390 2350,1350 2330,1320 2370,1280 2380,1230 2330,1200 2300,1170 2310,1140 2280,1110 2280,1080 2320,1070 2360,1090 2400,1110 2430,1100" fill="#6baed6"/>
<polygon points="2910,950 2950,930 2990,945 3025,960 3030,990 3000,1010 2960,1020 2920,1010 2900,980" fill="#6baed6"/>
<polygon points="3125,1180 3160,1140 3200,1150 3260,1160 3275,1190 3230,1200 3210,1240 3180,1250 3150,1230 3120,1210" fill="#6baed6"/>
<polygon points="2810,1400 2860,1380 2900,1360 2940,1390 2980,1400 3020,1385 3065,1365 3085,1375 3070,1405 3030,1440 2990,1450 2970,1475 2960,1510 2940,1545 2900,1550 2880,1510 2840,1480 2800,1440" fill="#6baed6"/>
<polygon points="2200,1365 2260,1375 2295,1360 2300,1320 2330,1320 2350,1350 2340,1400 2310,1440 2280,1470 2230,1460 2190,1470 2160,1430 2150,1390" fill="#6baed6"/>
<polygon points="2140,1680 2180,1650 2230,1640 2260,1630 2300,1640 2340,1660 2360,1700 2380,1730 2360,1770 2320,1780 2270,1790 2220,1780 2180,1790 2140,1770 2120,1730" fill="#6baed6"/>
<polygon points="1600,430 1615,425 1625,460 1650,490 1650,540 1630,570 1635,600 1610,590 1590,570 1570,550 1565,520 1545,495 1575,485 1600,460" fill="#3182bd"/>
<polygon points="1710,580 1760,590 1800,585 1830,600 1860,620 1870,650 1840,670 1820,690 1780,685 1760,700 1745,670 1735,630 1720,620" fill="#3182bd"/>
<polygon points="1400,1120 1430,1135 1440,1160 1480,1170 1500,1190 1525,1210 1545,1235 1510,1255 1470,1255 1440,1270 1400,1250 1360,1250 1330,1210 1345,1170 1350,1140" fill="#3182bd"/>
<polygon points="2160,980 2200,960 2235,940 2250,980 2265,1030 2270,1070 2230,1080 2180,1070 2165,1030 2150,1010" fill="#3182bd"/>
<polygon points="950,1570 990,1550 1030,1560 1065,1580 1060,1610 1030,1625 990,1635 960,1620 945,1595" fill="#3182bd"/>
<polygon points="1790,1470 1840,1450 1900,1480 1940,1510 1980,1530 1960,1570 1990,1610 2020,1650 1980,1670 1940,1690 1890,1680 1840,1650 1800,1620 1770,1590 1735,1550 1760,1520" fill="#3182bd"/>
<polygon points="2100,1270 2150,1250 2200,1230 2260,1235 2300,1250 2280,1280 2300,1320 2295,1360 2260,1375 2200,1365 2150,1375 2130,1340 2090,1320" fill="#3182bd"/>
<polygon points="3230,1200 3275,1190 3285,1225 3295,1250 3270,1270 3240,1275 3210,1295 3180,1290 3185,1250 3210,1240" fill="#3182bd"/>
<polygon points="2920,1310 2970,1300 3020,1310 3040,1340 3065,1365 3020,1385 2980,1400 2940,1390 2915,1350" fill="#3182bd"/>
<polygon points="1720,620 1735,630 1745,670 1760,700 1765,725 1730,730 1700,740 1690,720 1660,715 1650,680 1665,665 1700,660 1710,640" fill="#08519c"/>
<polygon points="1420,1255 1440,1270 1475,1300 1460,1350 1450,1390 1420,1415 1385,1410 1380,1380 1400,1350 1395,1310 1400,1275" fill="#08519c"/>
<polygon points="1555,1545 1590,1545 1590,1590 1610,1615 1660,1620 1700,1615 1715,1635 1690,1670 1670,1710 1690,1740 1710,1760 1700,1775 1650,1750 1600,1730 1570,1710 1560,1670 1535,1650 1560,1620 1540,1580" fill="#08519c"/>
</g>
<use href="#mesh" stroke="#6b7f9c" stroke-opacity="0.3" stroke-width="1.3"/>
</g>
<use href="#cz" transform="matrix(1,0,0,1,0,0)" fill="none" stroke="#555" stroke-width="5.5"/>
<circle cx="2200" cy="1542" r="54" fill="#dc2a0e" stroke="#1a1a1a" stroke-width="2"/><path d="M2200,1542L2200.0,1488.0A54,54 0 0 1 2254.0,1542.0Z" fill="#eda126"/><path d="M2200,1542L2254.0,1542.0A54,54 0 0 1 2200.0,1596.0Z" fill="#d4682a"/><path d="M2200,1542L2168.3,1498.3A54,54 0 0 1 2177.0,1493.1Z" fill="#d9308c"/><path d="M2200,1542L2177.0,1493.1A54,54 0 0 1 2200.0,1488.0Z" fill="#4f5b4b"/>
<circle cx="1405" cy="393" r="45" fill="#eda126" stroke="#1a1a1a" stroke-width="2"/><path d="M1405,393L1418.9,435.8A45,45 0 0 1 1360.8,401.4Z" fill="#d4682a"/><path d="M1405,393L1360.8,401.4A45,45 0 0 1 1405.0,348.0Z" fill="#dc2a0e"/>
<circle cx="1167" cy="1690" r="45" fill="#dc2a0e" stroke="#1a1a1a" stroke-width="2"/><path d="M1167,1690L1167.0,1645.0A45,45 0 0 1 1212.0,1690.0Z" fill="#eda126"/><path d="M1167,1690L1212.0,1690.0A45,45 0 0 1 1145.3,1729.4Z" fill="#d4682a"/><path d="M1167,1690L1153.1,1647.2A45,45 0 0 1 1167.0,1645.0Z" fill="#d9308c"/>
<circle cx="1795" cy="912" r="44" fill="#d4682a" stroke="#1a1a1a" stroke-width="2"/><path d="M1795,912L1795.0,868.0A44,44 0 0 1 1825.1,879.9Z" fill="#eda126"/><path d="M1795,912L1808.6,953.8A44,44 0 0 1 1789.5,955.7Z" fill="#dc2a0e"/><path d="M1795,912L1789.5,955.7A44,44 0 0 1 1751.0,912.0Z" fill="#d9308c"/><path d="M1795,912L1751.0,912.0A44,44 0 0 1 1795.0,868.0Z" fill="#4f5b4b"/>
<circle cx="2572" cy="1230" r="43" fill="#d4682a" stroke="#1a1a1a" stroke-width="2"/><path d="M2572,1230L2572.0,1187.0A43,43 0 0 1 2606.8,1255.3Z" fill="#eda126"/><path d="M2572,1230L2529.0,1230.0A43,43 0 0 1 2572.0,1187.0Z" fill="#dc2a0e"/>
<circle cx="1110" cy="982" r="42" fill="#eda126" stroke="#1a1a1a" stroke-width="2"/><path d="M1110,982L1070.1,995.0A42,42 0 0 1 1104.7,940.3Z" fill="#d4682a"/><path d="M1110,982L1104.7,940.3A42,42 0 0 1 1110.0,940.0Z" fill="#dc2a0e"/>
<circle cx="2983" cy="1071" r="37" fill="#d4682a" stroke="#1a1a1a" stroke-width="2"/><path d="M2983,1071L2983.0,1034.0A37,37 0 0 1 3012.9,1049.3Z" fill="#eda126"/><path d="M2983,1071L2971.6,1106.2A37,37 0 0 1 2953.1,1049.3Z" fill="#dc2a0e"/><path d="M2983,1071L2953.1,1049.3A37,37 0 0 1 2983.0,1034.0Z" fill="#d9308c"/>
<circle cx="1783" cy="795" r="33" fill="#d4682a" stroke="#1a1a1a" stroke-width="2"/><path d="M1783,795L1783.0,762.0A33,33 0 0 1 1798.9,766.1Z" fill="#eda126"/><path d="M1783,795L1776.8,827.4A33,33 0 0 1 1768.9,765.1Z" fill="#dc2a0e"/><path d="M1783,795L1768.9,765.1A33,33 0 0 1 1774.8,763.0Z" fill="#d9308c"/><path d="M1783,795L1774.8,763.0A33,33 0 0 1 1783.0,762.0Z" fill="#4f5b4b"/>
<circle cx="985" cy="862" r="32" fill="#eda126" stroke="#1a1a1a" stroke-width="2"/><path d="M985,862L1010.9,880.8A32,32 0 0 1 966.2,887.9Z" fill="#d4682a"/><path d="M985,862L966.2,887.9A32,32 0 0 1 966.2,836.1Z" fill="#dc2a0e"/><path d="M985,862L966.2,836.1A32,32 0 0 1 985.0,830.0Z" fill="#4f5b4b"/>
<circle cx="1872" cy="1562" r="32" fill="#dc2a0e" stroke="#1a1a1a" stroke-width="2"/><path d="M1872,1562L1872.0,1530.0A32,32 0 0 1 1897.9,1543.2Z" fill="#eda126"/><path d="M1872,1562L1897.9,1543.2A32,32 0 0 1 1897.9,1580.8Z" fill="#d4682a"/><path d="M1872,1562L1853.2,1536.1A32,32 0 0 1 1872.0,1530.0Z" fill="#4f5b4b"/>
<circle cx="2430" cy="1360" r="31" fill="#d4682a" stroke="#1a1a1a" stroke-width="2"/><path d="M2430,1360L2430.0,1329.0A31,31 0 0 1 2459.5,1369.6Z" fill="#eda126"/><path d="M2430,1360L2420.4,1330.5A31,31 0 0 1 2430.0,1329.0Z" fill="#dc2a0e"/>
<circle cx="3073" cy="1192" r="29" fill="#d4682a" stroke="#1a1a1a" stroke-width="2"/><path d="M3073,1192L3073.0,1163.0A29,29 0 0 1 3100.6,1201.0Z" fill="#eda126"/><path d="M3073,1192L3049.5,1175.0A29,29 0 0 1 3056.0,1168.5Z" fill="#dc2a0e"/><path d="M3073,1192L3056.0,1168.5A29,29 0 0 1 3073.0,1163.0Z" fill="#d9308c"/>
<circle cx="665" cy="1162" r="28" fill="#dc2a0e" stroke="#1a1a1a" stroke-width="2"/><path d="M665,1162L665.0,1134.0A28,28 0 0 1 668.5,1134.2Z" fill="#eda126"/><path d="M665,1162L668.5,1134.2A28,28 0 0 1 665.0,1190.0Z" fill="#d4682a"/>
<circle cx="2738" cy="1510" r="28" fill="#dc2a0e" stroke="#1a1a1a" stroke-width="2"/><path d="M2738,1510L2738.0,1482.0A28,28 0 0 1 2766.0,1510.0Z" fill="#eda126"/><path d="M2738,1510L2766.0,1510.0A28,28 0 0 1 2738.0,1538.0Z" fill="#d4682a"/>
<circle cx="1298" cy="998" r="27" fill="#eda126" stroke="#1a1a1a" stroke-width="2"/><path d="M1298,998L1298.0,1025.0A27,27 0 0 1 1298.0,971.0Z" fill="#d4682a"/>
<circle cx="2202" cy="1307" r="27" fill="#d4682a" stroke="#1a1a1a" stroke-width="2"/><path d="M2202,1307L2202.0,1280.0A27,27 0 0 1 2223.8,1291.1Z" fill="#eda126"/><path d="M2202,1307L2176.3,1315.3A27,27 0 0 1 2202.0,1280.0Z" fill="#dc2a0e"/>
<circle cx="1252" cy="495" r="26" fill="#dc2a0e" stroke="#1a1a1a" stroke-width="2"/><path d="M1252,495L1252.0,469.0A26,26 0 0 1 1276.7,487.0Z" fill="#eda126"/><path d="M1252,495L1276.7,487.0A26,26 0 0 1 1267.3,516.0Z" fill="#d4682a"/><path d="M1252,495L1244.0,470.3A26,26 0 0 1 1252.0,469.0Z" fill="#d9308c"/>
<circle cx="1370" cy="675" r="25" fill="#eda126" stroke="#1a1a1a" stroke-width="2"/><path d="M1370,675L1370.0,700.0A25,25 0 0 1 1366.9,650.2Z" fill="#d4682a"/><path d="M1370,675L1366.9,650.2A25,25 0 0 1 1370.0,650.0Z" fill="#dc2a0e"/>
<circle cx="1824" cy="1043" r="25" fill="#d4682a" stroke="#1a1a1a" stroke-width="2"/><path d="M1824,1043L1824.0,1018.0A25,25 0 0 1 1838.7,1022.8Z" fill="#eda126"/><path d="M1824,1043L1824.0,1068.0A25,25 0 0 1 1800.2,1035.3Z" fill="#dc2a0e"/><path d="M1824,1043L1800.2,1035.3A25,25 0 0 1 1809.3,1022.8Z" fill="#d9308c"/><path d="M1824,1043L1809.3,1022.8A25,25 0 0 1 1824.0,1018.0Z" fill="#4f5b4b"/>
<circle cx="2615" cy="1632" r="25" fill="#d4682a" stroke="#1a1a1a" stroke-width="2"/><path d="M2615,1632L2615.0,1607.0A25,25 0 0 1 2618.1,1607.2Z" fill="#eda126"/><path d="M2615,1632L2590.0,1632.0A25,25 0 0 1 2594.8,1617.3Z" fill="#dc2a0e"/><path d="M2615,1632L2594.8,1617.3A25,25 0 0 1 2615.0,1607.0Z" fill="#d9308c"/>
<circle cx="787" cy="595" r="24" fill="#dc2a0e" stroke="#1a1a1a" stroke-width="2"/><path d="M787,595L787.0,571.0A24,24 0 0 1 794.4,572.2Z" fill="#eda126"/><path d="M787,595L794.4,572.2A24,24 0 0 1 809.8,587.6Z" fill="#d4682a"/>
<circle cx="1497" cy="940" r="24" fill="#d4682a" stroke="#1a1a1a" stroke-width="2"/><path d="M1497,940L1497.0,916.0A24,24 0 0 1 1516.4,925.9Z" fill="#eda126"/><path d="M1497,940L1474.2,932.6A24,24 0 0 1 1482.9,920.6Z" fill="#d9308c"/><path d="M1497,940L1482.9,920.6A24,24 0 0 1 1497.0,916.0Z" fill="#4f5b4b"/>
<circle cx="2798" cy="998" r="24" fill="#d4682a" stroke="#1a1a1a" stroke-width="2"/><path d="M2798,998L2798.0,974.0A24,24 0 0 1 2801.0,974.2Z" fill="#eda126"/><path d="M2798,998L2809.6,1019.0A24,24 0 0 1 2783.9,1017.4Z" fill="#dc2a0e"/><path d="M2798,998L2783.9,1017.4A24,24 0 0 1 2798.0,974.0Z" fill="#d9308c"/>
<circle cx="2930" cy="1440" r="24" fill="#d4682a" stroke="#1a1a1a" stroke-width="2"/><path d="M2930,1440L2930.0,1416.0A24,24 0 0 1 2944.1,1420.6Z" fill="#eda126"/><path d="M2930,1440L2907.2,1432.6A24,24 0 0 1 2930.0,1416.0Z" fill="#dc2a0e"/>
<circle cx="1704" cy="1240" r="23" fill="#d4682a" stroke="#1a1a1a" stroke-width="2"/><path d="M1704,1240L1704.0,1217.0A23,23 0 0 1 1725.9,1247.1Z" fill="#eda126"/><path d="M1704,1240L1682.1,1232.9A23,23 0 0 1 1704.0,1217.0Z" fill="#dc2a0e"/>
<circle cx="1508" cy="408" r="22" fill="#eda126" stroke="#1a1a1a" stroke-width="2"/><path d="M1508,408L1520.9,425.8A22,22 0 0 1 1495.1,425.8Z" fill="#d4682a"/><path d="M1508,408L1495.1,425.8A22,22 0 0 1 1508.0,386.0Z" fill="#dc2a0e"/>
<circle cx="1852" cy="518" r="22" fill="#d4682a" stroke="#1a1a1a" stroke-width="2"/><path d="M1852,518L1852.0,496.0A22,22 0 0 1 1856.1,496.4Z" fill="#eda126"/><path d="M1852,518L1836.0,533.1A22,22 0 0 1 1830.2,520.8Z" fill="#dc2a0e"/><path d="M1852,518L1830.2,520.8A22,22 0 0 1 1852.0,496.0Z" fill="#4f5b4b"/>
<circle cx="655" cy="593" r="22" fill="#d4682a" stroke="#1a1a1a" stroke-width="2"/><path d="M655,593L655.0,571.0A22,22 0 0 1 661.8,572.1Z" fill="#eda126"/><path d="M655,593L633.0,593.0A22,22 0 0 1 637.2,580.1Z" fill="#dc2a0e"/><path d="M655,593L637.2,580.1A22,22 0 0 1 655.0,571.0Z" fill="#d9308c"/>
<circle cx="2387" cy="920" r="22" fill="#d4682a" stroke="#1a1a1a" stroke-width="2"/><path d="M2387,920L2387.0,898.0A22,22 0 0 1 2391.1,898.4Z" fill="#eda126"/><path d="M2387,920L2371.0,935.1A22,22 0 0 1 2365.2,922.8Z" fill="#dc2a0e"/><path d="M2387,920L2365.2,922.8A22,22 0 0 1 2387.0,898.0Z" fill="#4f5b4b"/>
<circle cx="3193" cy="1180" r="22" fill="#d4682a" stroke="#1a1a1a" stroke-width="2"/><path d="M3193,1180L3193.0,1158.0A22,22 0 0 1 3205.9,1162.2Z" fill="#eda126"/><path d="M3193,1180L3172.1,1186.8A22,22 0 0 1 3193.0,1158.0Z" fill="#dc2a0e"/>
<circle cx="1079" cy="556" r="21" fill="#dc2a0e" stroke="#1a1a1a" stroke-width="2"/><path d="M1079,556L1079.0,535.0A21,21 0 0 1 1091.3,539.0Z" fill="#eda126"/><path d="M1079,556L1091.3,539.0A21,21 0 0 1 1091.3,573.0Z" fill="#d4682a"/>
<circle cx="1509" cy="1417" r="21" fill="#d4682a" stroke="#1a1a1a" stroke-width="2"/><path d="M1509,1417L1509.0,1396.0A21,21 0 0 1 1526.0,1429.3Z" fill="#eda126"/><path d="M1509,1417L1496.7,1400.0A21,21 0 0 1 1509.0,1396.0Z" fill="#dc2a0e"/>
<circle cx="2243" cy="1418" r="21" fill="#d4682a" stroke="#1a1a1a" stroke-width="2"/><path d="M2243,1418L2243.0,1397.0A21,21 0 0 1 2260.0,1430.3Z" fill="#eda126"/><path d="M2243,1418L2230.7,1401.0A21,21 0 0 1 2243.0,1397.0Z" fill="#dc2a0e"/>
<circle cx="1972" cy="612" r="20" fill="#d4682a" stroke="#1a1a1a" stroke-width="2"/><path d="M1972,612L1972.0,592.0A20,20 0 0 1 1978.2,593.0Z" fill="#eda126"/><path d="M1972,612L1978.2,631.0A20,20 0 0 1 1955.8,600.2Z" fill="#dc2a0e"/><path d="M1972,612L1955.8,600.2A20,20 0 0 1 1972.0,592.0Z" fill="#d9308c"/>
<circle cx="475" cy="815" r="20" fill="#d4682a" stroke="#1a1a1a" stroke-width="2"/><path d="M475,815L475.0,795.0A20,20 0 0 1 482.4,796.4Z" fill="#eda126"/><path d="M475,815L461.3,800.4A20,20 0 0 1 475.0,795.0Z" fill="#dc2a0e"/>
<circle cx="1244" cy="830" r="20" fill="#eda126" stroke="#1a1a1a" stroke-width="2"/><path d="M1244,830L1232.2,846.2A20,20 0 0 1 1225.0,823.8Z" fill="#d4682a"/><path d="M1244,830L1225.0,823.8A20,20 0 0 1 1227.8,818.2Z" fill="#dc2a0e"/><path d="M1244,830L1227.8,818.2A20,20 0 0 1 1244.0,810.0Z" fill="#d9308c"/>
<circle cx="935" cy="1225" r="20" fill="#d4682a" stroke="#1a1a1a" stroke-width="2"/><path d="M935,1225L935.0,1205.0A20,20 0 0 1 941.2,1206.0Z" fill="#eda126"/><path d="M935,1225L915.0,1225.0A20,20 0 0 1 918.8,1213.2Z" fill="#dc2a0e"/><path d="M935,1225L918.8,1213.2A20,20 0 0 1 935.0,1205.0Z" fill="#d9308c"/>
<circle cx="1270" cy="1393" r="20" fill="#d4682a" stroke="#1a1a1a" stroke-width="2"/><path d="M1270,1393L1270.0,1373.0A20,20 0 0 1 1276.2,1374.0Z" fill="#eda126"/><path d="M1270,1393L1276.2,1412.0A20,20 0 0 1 1253.8,1381.2Z" fill="#dc2a0e"/><path d="M1270,1393L1253.8,1381.2A20,20 0 0 1 1270.0,1373.0Z" fill="#d9308c"/>
<circle cx="2978" cy="1343" r="20" fill="#d4682a" stroke="#1a1a1a" stroke-width="2"/><path d="M2978,1343L2978.0,1323.0A20,20 0 0 1 2989.8,1326.8Z" fill="#eda126"/><path d="M2978,1343L2959.0,1349.2A20,20 0 0 1 2978.0,1323.0Z" fill="#dc2a0e"/>
<circle cx="1602" cy="518" r="19" fill="#eda126" stroke="#1a1a1a" stroke-width="2"/><path d="M1602,518L1613.2,533.4A19,19 0 0 1 1590.8,533.4Z" fill="#d4682a"/><path d="M1602,518L1590.8,533.4A19,19 0 0 1 1602.0,499.0Z" fill="#dc2a0e"/>
<circle cx="1800" cy="633" r="19" fill="#d4682a" stroke="#1a1a1a" stroke-width="2"/><path d="M1800,633L1800.0,614.0A19,19 0 0 1 1807.0,615.3Z" fill="#eda126"/><path d="M1800,633L1787.0,619.1A19,19 0 0 1 1800.0,614.0Z" fill="#dc2a0e"/>
<circle cx="977" cy="993" r="19" fill="#d4682a" stroke="#1a1a1a" stroke-width="2"/><path d="M977,993L977.0,974.0A19,19 0 0 1 992.4,1004.2Z" fill="#eda126"/><path d="M977,993L965.8,977.6A19,19 0 0 1 977.0,974.0Z" fill="#dc2a0e"/>
<circle cx="1268" cy="1116" r="19" fill="#eda126" stroke="#1a1a1a" stroke-width="2"/><path d="M1268,1116L1279.2,1131.4A19,19 0 0 1 1256.8,1131.4Z" fill="#d4682a"/><path d="M1268,1116L1256.8,1131.4A19,19 0 0 1 1268.0,1097.0Z" fill="#dc2a0e"/>
<circle cx="1421" cy="1207" r="19" fill="#d4682a" stroke="#1a1a1a" stroke-width="2"/><path d="M1421,1207L1421.0,1188.0A19,19 0 0 1 1426.9,1188.9Z" fill="#eda126"/><path d="M1421,1207L1402.0,1207.0A19,19 0 0 1 1405.6,1195.8Z" fill="#dc2a0e"/><path d="M1421,1207L1405.6,1195.8A19,19 0 0 1 1421.0,1188.0Z" fill="#d9308c"/>
<circle cx="1943" cy="1432" r="19" fill="#d4682a" stroke="#1a1a1a" stroke-width="2"/><path d="M1943,1432L1943.0,1413.0A19,19 0 0 1 1948.9,1413.9Z" fill="#eda126"/><path d="M1943,1432L1924.0,1432.0A19,19 0 0 1 1927.6,1420.8Z" fill="#dc2a0e"/><path d="M1943,1432L1927.6,1420.8A19,19 0 0 1 1943.0,1413.0Z" fill="#d9308c"/>
<circle cx="1015" cy="1443" r="19" fill="#d4682a" stroke="#1a1a1a" stroke-width="2"/><path d="M1015,1443L1015.0,1424.0A19,19 0 0 1 1020.9,1424.9Z" fill="#eda126"/><path d="M1015,1443L996.0,1443.0A19,19 0 0 1 999.6,1431.8Z" fill="#dc2a0e"/><path d="M1015,1443L999.6,1431.8A19,19 0 0 1 1015.0,1424.0Z" fill="#d9308c"/>
<circle cx="1622" cy="1658" r="19" fill="#eda126" stroke="#1a1a1a" stroke-width="2"/><path d="M1622,1658L1633.2,1673.4A19,19 0 0 1 1610.8,1673.4Z" fill="#d4682a"/><path d="M1622,1658L1610.8,1673.4A19,19 0 0 1 1622.0,1639.0Z" fill="#dc2a0e"/>
<circle cx="2963" cy="985" r="19" fill="#d4682a" stroke="#1a1a1a" stroke-width="2"/><path d="M2963,985L2963.0,966.0A19,19 0 0 1 2978.4,996.2Z" fill="#eda126"/><path d="M2963,985L2951.8,969.6A19,19 0 0 1 2963.0,966.0Z" fill="#dc2a0e"/>
<circle cx="3124" cy="1030" r="19" fill="#dc2a0e" stroke="#1a1a1a" stroke-width="2"/><path d="M3124,1030L3124.0,1011.0A19,19 0 0 1 3135.2,1014.6Z" fill="#eda126"/><path d="M3124,1030L3135.2,1014.6A19,19 0 0 1 3135.2,1045.4Z" fill="#d4682a"/>
<circle cx="2605" cy="1366" r="19" fill="#d4682a" stroke="#1a1a1a" stroke-width="2"/><path d="M2605,1366L2605.0,1347.0A19,19 0 0 1 2610.9,1347.9Z" fill="#eda126"/><path d="M2605,1366L2610.9,1384.1A19,19 0 0 1 2589.6,1354.8Z" fill="#dc2a0e"/><path d="M2605,1366L2589.6,1354.8A19,19 0 0 1 2605.0,1347.0Z" fill="#d9308c"/>
<circle cx="970" cy="447" r="18" fill="#d4682a" stroke="#1a1a1a" stroke-width="2"/><path d="M970,447L970.0,429.0A18,18 0 0 1 984.6,457.6Z" fill="#eda126"/><path d="M970,447L959.4,432.4A18,18 0 0 1 970.0,429.0Z" fill="#dc2a0e"/>
<circle cx="740" cy="500" r="18" fill="#d4682a" stroke="#1a1a1a" stroke-width="2"/><path d="M740,500L740.0,482.0A18,18 0 0 1 745.6,482.9Z" fill="#eda126"/><path d="M740,500L722.0,500.0A18,18 0 0 1 725.4,489.4Z" fill="#dc2a0e"/><path d="M740,500L725.4,489.4A18,18 0 0 1 740.0,482.0Z" fill="#d9308c"/>
<circle cx="2230" cy="1658" r="18" fill="#d4682a" stroke="#1a1a1a" stroke-width="2"/><path d="M2230,1658L2230.0,1640.0A18,18 0 0 1 2244.6,1668.6Z" fill="#eda126"/><path d="M2230,1658L2219.4,1643.4A18,18 0 0 1 2230.0,1640.0Z" fill="#dc2a0e"/>
<circle cx="2302" cy="1725" r="18" fill="#d4682a" stroke="#1a1a1a" stroke-width="2"/><path d="M2302,1725L2302.0,1707.0A18,18 0 0 1 2312.6,1710.4Z" fill="#eda126"/><path d="M2302,1725L2284.9,1730.6A18,18 0 0 1 2302.0,1707.0Z" fill="#dc2a0e"/>
<circle cx="1721" cy="685" r="17" fill="#dc2a0e" stroke="#1a1a1a" stroke-width="2"/><path d="M1721,685L1721.0,668.0A17,17 0 0 1 1726.3,668.8Z" fill="#eda126"/><path d="M1721,685L1726.3,668.8A17,17 0 0 1 1737.2,679.7Z" fill="#d4682a"/>
<circle cx="2073" cy="813" r="17" fill="#dc2a0e" stroke="#1a1a1a" stroke-width="2"/><path d="M2073,813L2073.0,796.0A17,17 0 0 1 2083.0,799.2Z" fill="#eda126"/><path d="M2073,813L2083.0,799.2A17,17 0 0 1 2083.0,826.8Z" fill="#d4682a"/>
<circle cx="2212" cy="1010" r="17" fill="#dc2a0e" stroke="#1a1a1a" stroke-width="2"/><path d="M2212,1010L2212.0,993.0A17,17 0 0 1 2222.0,996.2Z" fill="#eda126"/><path d="M2212,1010L2222.0,996.2A17,17 0 0 1 2222.0,1023.8Z" fill="#d4682a"/>
<circle cx="2047" cy="1073" r="17" fill="#dc2a0e" stroke="#1a1a1a" stroke-width="2"/><path d="M2047,1073L2047.0,1056.0A17,17 0 0 1 2057.0,1059.2Z" fill="#eda126"/><path d="M2047,1073L2057.0,1059.2A17,17 0 0 1 2057.0,1086.8Z" fill="#d4682a"/>
<circle cx="788" cy="1103" r="17" fill="#d4682a" stroke="#1a1a1a" stroke-width="2"/><path d="M788,1103L788.0,1086.0A17,17 0 0 1 801.8,1113.0Z" fill="#eda126"/><path d="M788,1103L778.0,1089.2A17,17 0 0 1 788.0,1086.0Z" fill="#dc2a0e"/>
<circle cx="1710" cy="1427" r="17" fill="#eda126" stroke="#1a1a1a" stroke-width="2"/><path d="M1710,1427L1720.0,1440.8A17,17 0 0 1 1700.0,1440.8Z" fill="#d4682a"/><path d="M1710,1427L1700.0,1440.8A17,17 0 0 1 1710.0,1410.0Z" fill="#dc2a0e"/>
<circle cx="2607" cy="953" r="17" fill="#d4682a" stroke="#1a1a1a" stroke-width="2"/><path d="M2607,953L2607.0,936.0A17,17 0 0 1 2617.0,939.2Z" fill="#eda126"/><path d="M2607,953L2590.8,958.3A17,17 0 0 1 2607.0,936.0Z" fill="#dc2a0e"/>
<circle cx="2755" cy="1260" r="17" fill="#d4682a" stroke="#1a1a1a" stroke-width="2"/><path d="M2755,1260L2755.0,1243.0A17,17 0 0 1 2768.8,1270.0Z" fill="#eda126"/><path d="M2755,1260L2745.0,1246.2A17,17 0 0 1 2755.0,1243.0Z" fill="#dc2a0e"/>
<circle cx="3238" cy="1250" r="17" fill="#d4682a" stroke="#1a1a1a" stroke-width="2"/><path d="M3238,1250L3238.0,1233.0A17,17 0 0 1 3243.3,1233.8Z" fill="#eda126"/><path d="M3238,1250L3221.0,1250.0A17,17 0 0 1 3224.2,1240.0Z" fill="#dc2a0e"/><path d="M3238,1250L3224.2,1240.0A17,17 0 0 1 3238.0,1233.0Z" fill="#d9308c"/>
<circle cx="2462" cy="1685" r="17" fill="#d4682a" stroke="#1a1a1a" stroke-width="2"/><path d="M2462,1685L2462.0,1668.0A17,17 0 0 1 2472.0,1671.2Z" fill="#eda126"/><path d="M2462,1685L2445.8,1690.3A17,17 0 0 1 2462.0,1668.0Z" fill="#dc2a0e"/>
<circle cx="1945" cy="1790" r="17" fill="#d4682a" stroke="#1a1a1a" stroke-width="2"/><path d="M1945,1790L1945.0,1773.0A17,17 0 0 1 1948.2,1773.3Z" fill="#eda126"/><path d="M1945,1790L1932.6,1801.6A17,17 0 0 1 1928.1,1792.1Z" fill="#dc2a0e"/><path d="M1945,1790L1928.1,1792.1A17,17 0 0 1 1945.0,1773.0Z" fill="#4f5b4b"/>
<circle cx="2350" cy="1858" r="17" fill="#d4682a" stroke="#1a1a1a" stroke-width="2"/><path d="M2350,1858L2350.0,1841.0A17,17 0 0 1 2363.8,1868.0Z" fill="#eda126"/><path d="M2350,1858L2340.0,1844.2A17,17 0 0 1 2350.0,1841.0Z" fill="#dc2a0e"/>
<circle cx="1234" cy="380" r="16" fill="#eda126" stroke="#1a1a1a" stroke-width="2"/><path d="M1234,380L1243.4,392.9A16,16 0 0 1 1224.6,392.9Z" fill="#d4682a"/><path d="M1234,380L1224.6,392.9A16,16 0 0 1 1234.0,364.0Z" fill="#dc2a0e"/>
<circle cx="1582" cy="660" r="16" fill="#d4682a" stroke="#1a1a1a" stroke-width="2"/><path d="M1582,660L1582.0,644.0A16,16 0 0 1 1585.0,644.3Z" fill="#eda126"/><path d="M1582,660L1570.3,671.0A16,16 0 0 1 1566.1,662.0Z" fill="#dc2a0e"/><path d="M1582,660L1566.1,662.0A16,16 0 0 1 1582.0,644.0Z" fill="#4f5b4b"/>
<circle cx="813" cy="883" r="16" fill="#d4682a" stroke="#1a1a1a" stroke-width="2"/><path d="M813,883L813.0,867.0A16,16 0 0 1 822.4,870.1Z" fill="#eda126"/><path d="M813,883L797.8,887.9A16,16 0 0 1 813.0,867.0Z" fill="#dc2a0e"/>
<circle cx="2142" cy="1160" r="16" fill="#d4682a" stroke="#1a1a1a" stroke-width="2"/><path d="M2142,1160L2142.0,1144.0A16,16 0 0 1 2151.4,1147.1Z" fill="#eda126"/><path d="M2142,1160L2126.8,1164.9A16,16 0 0 1 2142.0,1144.0Z" fill="#dc2a0e"/>
<circle cx="1875" cy="1282" r="16" fill="#d4682a" stroke="#1a1a1a" stroke-width="2"/><path d="M1875,1282L1875.0,1266.0A16,16 0 0 1 1879.9,1266.8Z" fill="#eda126"/><path d="M1875,1282L1859.0,1282.0A16,16 0 0 1 1862.1,1272.6Z" fill="#dc2a0e"/><path d="M1875,1282L1862.1,1272.6A16,16 0 0 1 1875.0,1266.0Z" fill="#d9308c"/>
<circle cx="879" cy="1525" r="16" fill="#d4682a" stroke="#1a1a1a" stroke-width="2"/><path d="M879,1525L879.0,1509.0A16,16 0 0 1 888.4,1512.1Z" fill="#eda126"/><path d="M879,1525L863.8,1529.9A16,16 0 0 1 879.0,1509.0Z" fill="#dc2a0e"/>
<circle cx="931" cy="1732" r="16" fill="#d4682a" stroke="#1a1a1a" stroke-width="2"/><path d="M931,1732L931.0,1716.0A16,16 0 0 1 936.9,1717.1Z" fill="#eda126"/><path d="M931,1732L920.0,1720.3A16,16 0 0 1 931.0,1716.0Z" fill="#dc2a0e"/>
<circle cx="3103" cy="1092" r="16" fill="#d4682a" stroke="#1a1a1a" stroke-width="2"/><path d="M3103,1092L3103.0,1076.0A16,16 0 0 1 3107.9,1076.8Z" fill="#eda126"/><path d="M3103,1092L3107.9,1107.2A16,16 0 0 1 3090.1,1082.6Z" fill="#dc2a0e"/><path d="M3103,1092L3090.1,1082.6A16,16 0 0 1 3103.0,1076.0Z" fill="#d9308c"/>
<circle cx="2560" cy="1505" r="16" fill="#d4682a" stroke="#1a1a1a" stroke-width="2"/><path d="M2560,1505L2560.0,1489.0A16,16 0 0 1 2563.0,1489.3Z" fill="#eda126"/><path d="M2560,1505L2548.3,1516.0A16,16 0 0 1 2544.1,1507.0Z" fill="#dc2a0e"/><path d="M2560,1505L2544.1,1507.0A16,16 0 0 1 2560.0,1489.0Z" fill="#4f5b4b"/>
<circle cx="2652" cy="1543" r="16" fill="#dc2a0e" stroke="#1a1a1a" stroke-width="2"/><path d="M2652,1543L2652.0,1527.0A16,16 0 0 1 2656.9,1527.8Z" fill="#eda126"/><path d="M2652,1543L2656.9,1527.8A16,16 0 0 1 2667.2,1538.1Z" fill="#d4682a"/>
<circle cx="1219" cy="305" r="15" fill="#eda126" stroke="#1a1a1a" stroke-width="2"/><path d="M1219,305L1204.7,309.6A15,15 0 0 1 1214.4,290.7Z" fill="#d4682a"/><path d="M1219,305L1214.4,290.7A15,15 0 0 1 1219.0,290.0Z" fill="#dc2a0e"/>
<circle cx="1494" cy="274" r="15" fill="#dc2a0e" stroke="#1a1a1a" stroke-width="2"/><path d="M1494,274L1494.0,259.0A15,15 0 0 1 1498.6,259.7Z" fill="#eda126"/><path d="M1494,274L1498.6,259.7A15,15 0 0 1 1508.3,269.4Z" fill="#d4682a"/>
<circle cx="1502" cy="528" r="15" fill="#dc2a0e" stroke="#1a1a1a" stroke-width="2"/><path d="M1502,528L1502.0,513.0A15,15 0 0 1 1510.8,515.9Z" fill="#eda126"/><path d="M1502,528L1510.8,515.9A15,15 0 0 1 1510.8,540.1Z" fill="#d4682a"/>
<circle cx="2003" cy="737" r="15" fill="#d4682a" stroke="#1a1a1a" stroke-width="2"/><path d="M2003,737L2003.0,722.0A15,15 0 0 1 2008.5,723.1Z" fill="#eda126"/><path d="M2003,737L1992.7,726.1A15,15 0 0 1 2003.0,722.0Z" fill="#dc2a0e"/>
<circle cx="990" cy="758" r="15" fill="#d4682a" stroke="#1a1a1a" stroke-width="2"/><path d="M990,758L990.0,743.0A15,15 0 0 1 998.8,745.9Z" fill="#eda126"/><path d="M990,758L975.7,762.6A15,15 0 0 1 990.0,743.0Z" fill="#dc2a0e"/>
<circle cx="187" cy="853" r="15" fill="#d4682a" stroke="#1a1a1a" stroke-width="2"/><path d="M187,853L187.0,838.0A15,15 0 0 1 191.6,838.7Z" fill="#eda126"/><path d="M187,853L172.0,853.0A15,15 0 0 1 174.9,844.2Z" fill="#dc2a0e"/><path d="M187,853L174.9,844.2A15,15 0 0 1 187.0,838.0Z" fill="#d9308c"/>
<circle cx="2160" cy="900" r="15" fill="#d4682a" stroke="#1a1a1a" stroke-width="2"/><path d="M2160,900L2160.0,885.0A15,15 0 0 1 2172.1,908.8Z" fill="#eda126"/><path d="M2160,900L2151.2,887.9A15,15 0 0 1 2160.0,885.0Z" fill="#dc2a0e"/>
<circle cx="394" cy="1353" r="15" fill="#d4682a" stroke="#1a1a1a" stroke-width="2"/><path d="M394,1353L394.0,1338.0A15,15 0 0 1 406.1,1361.8Z" fill="#eda126"/><path d="M394,1353L385.2,1340.9A15,15 0 0 1 394.0,1338.0Z" fill="#dc2a0e"/>
<circle cx="1288" cy="1528" r="15" fill="#d4682a" stroke="#1a1a1a" stroke-width="2"/><path d="M1288,1528L1288.0,1513.0A15,15 0 0 1 1300.1,1536.8Z" fill="#eda126"/><path d="M1288,1528L1279.2,1515.9A15,15 0 0 1 1288.0,1513.0Z" fill="#dc2a0e"/>
<circle cx="2453" cy="740" r="15" fill="#d4682a" stroke="#1a1a1a" stroke-width="2"/><path d="M2453,740L2453.0,725.0A15,15 0 0 1 2461.8,727.9Z" fill="#eda126"/><path d="M2453,740L2438.7,744.6A15,15 0 0 1 2453.0,725.0Z" fill="#dc2a0e"/>
<circle cx="2570" cy="1118" r="15" fill="#d4682a" stroke="#1a1a1a" stroke-width="2"/><path d="M2570,1118L2570.0,1103.0A15,15 0 0 1 2582.1,1126.8Z" fill="#eda126"/><path d="M2570,1118L2561.2,1105.9A15,15 0 0 1 2570.0,1103.0Z" fill="#dc2a0e"/>
<circle cx="2405" cy="1185" r="15" fill="#d4682a" stroke="#1a1a1a" stroke-width="2"/><path d="M2405,1185L2405.0,1170.0A15,15 0 0 1 2417.1,1193.8Z" fill="#eda126"/><path d="M2405,1185L2396.2,1172.9A15,15 0 0 1 2405.0,1170.0Z" fill="#dc2a0e"/>
<circle cx="2875" cy="1227" r="15" fill="#d4682a" stroke="#1a1a1a" stroke-width="2"/><path d="M2875,1227L2875.0,1212.0A15,15 0 0 1 2879.6,1212.7Z" fill="#eda126"/><path d="M2875,1227L2879.6,1241.3A15,15 0 0 1 2862.9,1218.2Z" fill="#dc2a0e"/><path d="M2875,1227L2862.9,1218.2A15,15 0 0 1 2875.0,1212.0Z" fill="#d9308c"/>
<circle cx="2760" cy="1692" r="15" fill="#d4682a" stroke="#1a1a1a" stroke-width="2"/><path d="M2760,1692L2760.0,1677.0A15,15 0 0 1 2768.8,1679.9Z" fill="#eda126"/><path d="M2760,1692L2745.7,1696.6A15,15 0 0 1 2760.0,1677.0Z" fill="#dc2a0e"/>
<circle cx="2625" cy="1764" r="15" fill="#dc2a0e" stroke="#1a1a1a" stroke-width="2"/><path d="M2625,1764L2625.0,1749.0A15,15 0 0 1 2629.6,1749.7Z" fill="#eda126"/><path d="M2625,1764L2629.6,1749.7A15,15 0 0 1 2639.3,1759.4Z" fill="#d4682a"/>
<circle cx="853" cy="470" r="14" fill="#dc2a0e" stroke="#1a1a1a" stroke-width="2"/><path d="M853,470L853.0,456.0A14,14 0 0 1 857.3,456.7Z" fill="#eda126"/><path d="M853,470L857.3,456.7A14,14 0 0 1 866.3,465.7Z" fill="#d4682a"/>
<circle cx="1357" cy="917" r="14" fill="#d9308c" stroke="#1a1a1a" stroke-width="2"/><path d="M1357,917L1357.0,903.0A14,14 0 0 1 1370.3,912.7Z" fill="#d4682a"/><path d="M1357,917L1370.3,912.7A14,14 0 0 1 1370.3,921.3Z" fill="#dc2a0e"/><path d="M1357,917L1345.7,925.2A14,14 0 0 1 1357.0,903.0Z" fill="#4f5b4b"/>
<circle cx="1057" cy="1128" r="14" fill="#eda126" stroke="#1a1a1a" stroke-width="2"/><path d="M1057,1128L1043.7,1132.3A14,14 0 0 1 1052.7,1114.7Z" fill="#d4682a"/><path d="M1057,1128L1052.7,1114.7A14,14 0 0 1 1057.0,1114.0Z" fill="#dc2a0e"/>
<circle cx="1757" cy="1155" r="14" fill="#d4682a" stroke="#1a1a1a" stroke-width="2"/><path d="M1757,1155L1757.0,1141.0A14,14 0 0 1 1762.2,1142.0Z" fill="#eda126"/><path d="M1757,1155L1747.4,1144.8A14,14 0 0 1 1757.0,1141.0Z" fill="#dc2a0e"/>
<circle cx="2040" cy="1187" r="14" fill="#dc2a0e" stroke="#1a1a1a" stroke-width="2"/><path d="M2040,1187L2040.0,1173.0A14,14 0 0 1 2044.3,1173.7Z" fill="#eda126"/><path d="M2040,1187L2044.3,1173.7A14,14 0 0 1 2053.3,1182.7Z" fill="#d4682a"/>
<circle cx="536" cy="1228" r="14" fill="#d4682a" stroke="#1a1a1a" stroke-width="2"/><path d="M536,1228L536.0,1214.0A14,14 0 0 1 541.2,1215.0Z" fill="#eda126"/><path d="M536,1228L526.4,1217.8A14,14 0 0 1 536.0,1214.0Z" fill="#dc2a0e"/>
<circle cx="1427" cy="1342" r="14" fill="#eda126" stroke="#1a1a1a" stroke-width="2"/><path d="M1427,1342L1413.7,1346.3A14,14 0 0 1 1422.7,1328.7Z" fill="#d4682a"/><path d="M1427,1342L1422.7,1328.7A14,14 0 0 1 1427.0,1328.0Z" fill="#dc2a0e"/>
<circle cx="2098" cy="1425" r="14" fill="#eda126" stroke="#1a1a1a" stroke-width="2"/><path d="M2098,1425L2084.7,1429.3A14,14 0 0 1 2093.7,1411.7Z" fill="#d4682a"/><path d="M2098,1425L2093.7,1411.7A14,14 0 0 1 2098.0,1411.0Z" fill="#dc2a0e"/>
<circle cx="1000" cy="1595" r="14" fill="#d4682a" stroke="#1a1a1a" stroke-width="2"/><path d="M1000,1595L1000.0,1581.0A14,14 0 0 1 1004.3,1581.7Z" fill="#eda126"/><path d="M1000,1595L1004.3,1608.3A14,14 0 0 1 988.7,1586.8Z" fill="#dc2a0e"/><path d="M1000,1595L988.7,1586.8A14,14 0 0 1 1000.0,1581.0Z" fill="#d9308c"/>
<circle cx="2060" cy="1700" r="14" fill="#d4682a" stroke="#1a1a1a" stroke-width="2"/><path d="M2060,1700L2060.0,1686.0A14,14 0 0 1 2071.3,1708.2Z" fill="#eda126"/><path d="M2060,1700L2051.8,1688.7A14,14 0 0 1 2060.0,1686.0Z" fill="#dc2a0e"/>
<circle cx="1347" cy="1728" r="14" fill="#dc2a0e" stroke="#1a1a1a" stroke-width="2"/><path d="M1347,1728L1347.0,1714.0A14,14 0 0 1 1351.3,1714.7Z" fill="#eda126"/><path d="M1347,1728L1351.3,1714.7A14,14 0 0 1 1360.3,1723.7Z" fill="#d4682a"/>
<circle cx="2342" cy="1113" r="14" fill="#dc2a0e" stroke="#1a1a1a" stroke-width="2"/><path d="M2342,1113L2342.0,1099.0A14,14 0 0 1 2350.2,1101.7Z" fill="#eda126"/><path d="M2342,1113L2350.2,1101.7A14,14 0 0 1 2350.2,1124.3Z" fill="#d4682a"/>
<circle cx="2948" cy="1200" r="14" fill="#d4682a" stroke="#1a1a1a" stroke-width="2"/><path d="M2948,1200L2948.0,1186.0A14,14 0 0 1 2956.2,1188.7Z" fill="#eda126"/><path d="M2948,1200L2934.7,1204.3A14,14 0 0 1 2948.0,1186.0Z" fill="#dc2a0e"/>
<circle cx="3074" cy="1288" r="14" fill="#d4682a" stroke="#1a1a1a" stroke-width="2"/><path d="M3074,1288L3074.0,1274.0A14,14 0 0 1 3085.3,1296.2Z" fill="#eda126"/><path d="M3074,1288L3065.8,1276.7A14,14 0 0 1 3074.0,1274.0Z" fill="#dc2a0e"/>
<circle cx="2386" cy="1465" r="14" fill="#d4682a" stroke="#1a1a1a" stroke-width="2"/><path d="M2386,1465L2386.0,1451.0A14,14 0 0 1 2390.3,1451.7Z" fill="#eda126"/><path d="M2386,1465L2372.0,1465.0A14,14 0 0 1 2374.7,1456.8Z" fill="#dc2a0e"/><path d="M2386,1465L2374.7,1456.8A14,14 0 0 1 2386.0,1451.0Z" fill="#d9308c"/>
<circle cx="2095" cy="1623" r="14" fill="#d4682a" stroke="#1a1a1a" stroke-width="2"/><path d="M2095,1623L2095.0,1609.0A14,14 0 0 1 2099.3,1609.7Z" fill="#eda126"/><path d="M2095,1623L2081.0,1623.0A14,14 0 0 1 2083.7,1614.8Z" fill="#dc2a0e"/><path d="M2095,1623L2083.7,1614.8A14,14 0 0 1 2095.0,1609.0Z" fill="#d9308c"/>
<circle cx="2443" cy="1778" r="14" fill="#d4682a" stroke="#1a1a1a" stroke-width="2"/><path d="M2443,1778L2443.0,1764.0A14,14 0 0 1 2454.3,1786.2Z" fill="#eda126"/><path d="M2443,1778L2434.8,1766.7A14,14 0 0 1 2443.0,1764.0Z" fill="#dc2a0e"/>
<circle cx="1160" cy="235" r="13" fill="#d4682a" stroke="#1a1a1a" stroke-width="2"/><path d="M1160,235L1160.0,222.0A13,13 0 0 1 1162.4,222.2Z" fill="#eda126"/><path d="M1160,235L1150.5,243.9A13,13 0 0 1 1147.1,236.6Z" fill="#dc2a0e"/><path d="M1160,235L1147.1,236.6A13,13 0 0 1 1160.0,222.0Z" fill="#4f5b4b"/>
<circle cx="1739" cy="480" r="13" fill="#d4682a" stroke="#1a1a1a" stroke-width="2"/><path d="M1739,480L1739.0,467.0A13,13 0 0 1 1743.0,467.6Z" fill="#eda126"/><path d="M1739,480L1726.0,480.0A13,13 0 0 1 1728.5,472.4Z" fill="#dc2a0e"/><path d="M1739,480L1728.5,472.4A13,13 0 0 1 1739.0,467.0Z" fill="#d9308c"/>
<circle cx="1053" cy="658" r="13" fill="#d4682a" stroke="#1a1a1a" stroke-width="2"/><path d="M1053,658L1053.0,645.0A13,13 0 0 1 1063.5,665.6Z" fill="#eda126"/><path d="M1053,658L1045.4,647.5A13,13 0 0 1 1053.0,645.0Z" fill="#dc2a0e"/>
<circle cx="1208" cy="670" r="13" fill="#d4682a" stroke="#1a1a1a" stroke-width="2"/><path d="M1208,670L1208.0,657.0A13,13 0 0 1 1215.6,659.5Z" fill="#eda126"/><path d="M1208,670L1195.6,674.0A13,13 0 0 1 1208.0,657.0Z" fill="#dc2a0e"/>
<circle cx="574" cy="668" r="13" fill="#d4682a" stroke="#1a1a1a" stroke-width="2"/><path d="M574,668L574.0,655.0A13,13 0 0 1 581.6,657.5Z" fill="#eda126"/><path d="M574,668L561.6,672.0A13,13 0 0 1 574.0,655.0Z" fill="#dc2a0e"/>
<circle cx="428" cy="683" r="13" fill="#d4682a" stroke="#1a1a1a" stroke-width="2"/><path d="M428,683L428.0,670.0A13,13 0 0 1 430.4,670.2Z" fill="#eda126"/><path d="M428,683L418.5,691.9A13,13 0 0 1 415.1,684.6Z" fill="#dc2a0e"/><path d="M428,683L415.1,684.6A13,13 0 0 1 428.0,670.0Z" fill="#4f5b4b"/>
<circle cx="864" cy="697" r="13" fill="#d4682a" stroke="#1a1a1a" stroke-width="2"/><path d="M864,697L864.0,684.0A13,13 0 0 1 868.8,684.9Z" fill="#eda126"/><path d="M864,697L855.1,687.5A13,13 0 0 1 864.0,684.0Z" fill="#dc2a0e"/>
<circle cx="1663" cy="772" r="13" fill="#d4682a" stroke="#1a1a1a" stroke-width="2"/><path d="M1663,772L1663.0,759.0A13,13 0 0 1 1670.6,761.5Z" fill="#eda126"/><path d="M1663,772L1650.6,776.0A13,13 0 0 1 1663.0,759.0Z" fill="#dc2a0e"/>
<circle cx="89" cy="763" r="13" fill="#d4682a" stroke="#1a1a1a" stroke-width="2"/><path d="M89,763L89.0,750.0A13,13 0 0 1 93.0,750.6Z" fill="#eda126"/><path d="M89,763L76.0,763.0A13,13 0 0 1 78.5,755.4Z" fill="#dc2a0e"/><path d="M89,763L78.5,755.4A13,13 0 0 1 89.0,750.0Z" fill="#d9308c"/>
<circle cx="658" cy="810" r="13" fill="#d4682a" stroke="#1a1a1a" stroke-width="2"/><path d="M658,810L658.0,797.0A13,13 0 0 1 665.6,799.5Z" fill="#eda126"/><path d="M658,810L645.6,814.0A13,13 0 0 1 658.0,797.0Z" fill="#dc2a0e"/>
<circle cx="310" cy="823" r="13" fill="#d4682a" stroke="#1a1a1a" stroke-width="2"/><path d="M310,823L310.0,810.0A13,13 0 0 1 320.5,830.6Z" fill="#eda126"/><path d="M310,823L302.4,812.5A13,13 0 0 1 310.0,810.0Z" fill="#dc2a0e"/>
<circle cx="1355" cy="818" r="13" fill="#d4682a" stroke="#1a1a1a" stroke-width="2"/><path d="M1355,818L1355.0,805.0A13,13 0 0 1 1359.8,805.9Z" fill="#eda126"/><path d="M1355,818L1346.1,808.5A13,13 0 0 1 1355.0,805.0Z" fill="#dc2a0e"/>
<circle cx="1905" cy="902" r="13" fill="#dc2a0e" stroke="#1a1a1a" stroke-width="2"/><path d="M1905,902L1905.0,889.0A13,13 0 0 1 1909.0,889.6Z" fill="#eda126"/><path d="M1905,902L1909.0,889.6A13,13 0 0 1 1917.4,898.0Z" fill="#d4682a"/>
<circle cx="1990" cy="983" r="13" fill="#d4682a" stroke="#1a1a1a" stroke-width="2"/><path d="M1990,983L1990.0,970.0A13,13 0 0 1 2000.5,990.6Z" fill="#eda126"/><path d="M1990,983L1982.4,972.5A13,13 0 0 1 1990.0,970.0Z" fill="#dc2a0e"/>
<circle cx="1622" cy="1038" r="13" fill="#dc2a0e" stroke="#1a1a1a" stroke-width="2"/><path d="M1622,1038L1622.0,1025.0A13,13 0 0 1 1626.0,1025.6Z" fill="#eda126"/><path d="M1622,1038L1626.0,1025.6A13,13 0 0 1 1634.4,1034.0Z" fill="#d4682a"/>
<circle cx="1504" cy="1068" r="13" fill="#dc2a0e" stroke="#1a1a1a" stroke-width="2"/><path d="M1504,1068L1504.0,1055.0A13,13 0 0 1 1511.6,1057.5Z" fill="#eda126"/><path d="M1504,1068L1511.6,1057.5A13,13 0 0 1 1511.6,1078.5Z" fill="#d4682a"/>
<circle cx="306" cy="1120" r="13" fill="#d4682a" stroke="#1a1a1a" stroke-width="2"/><path d="M306,1120L306.0,1107.0A13,13 0 0 1 308.4,1107.2Z" fill="#eda126"/><path d="M306,1120L296.5,1128.9A13,13 0 0 1 293.1,1121.6Z" fill="#dc2a0e"/><path d="M306,1120L293.1,1121.6A13,13 0 0 1 306.0,1107.0Z" fill="#4f5b4b"/>
<circle cx="443" cy="1112" r="13" fill="#eda126" stroke="#1a1a1a" stroke-width="2"/><path d="M443,1112L435.4,1122.5A13,13 0 0 1 430.6,1108.0Z" fill="#d4682a"/><path d="M443,1112L430.6,1108.0A13,13 0 0 1 432.5,1104.4Z" fill="#dc2a0e"/><path d="M443,1112L432.5,1104.4A13,13 0 0 1 443.0,1099.0Z" fill="#d9308c"/>
<circle cx="1587" cy="1188" r="13" fill="#eda126" stroke="#1a1a1a" stroke-width="2"/><path d="M1587,1188L1574.6,1192.0A13,13 0 0 1 1583.0,1175.6Z" fill="#d4682a"/><path d="M1587,1188L1583.0,1175.6A13,13 0 0 1 1587.0,1175.0Z" fill="#dc2a0e"/>
<circle cx="1965" cy="1263" r="13" fill="#d4682a" stroke="#1a1a1a" stroke-width="2"/><path d="M1965,1263L1965.0,1250.0A13,13 0 0 1 1972.6,1252.5Z" fill="#eda126"/><path d="M1965,1263L1952.6,1267.0A13,13 0 0 1 1965.0,1250.0Z" fill="#dc2a0e"/>
<circle cx="436" cy="1283" r="13" fill="#d4682a" stroke="#1a1a1a" stroke-width="2"/><path d="M436,1283L436.0,1270.0A13,13 0 0 1 438.4,1270.2Z" fill="#eda126"/><path d="M436,1283L426.5,1291.9A13,13 0 0 1 423.1,1284.6Z" fill="#dc2a0e"/><path d="M436,1283L423.1,1284.6A13,13 0 0 1 436.0,1270.0Z" fill="#4f5b4b"/>
<circle cx="1573" cy="1292" r="13" fill="#dc2a0e" stroke="#1a1a1a" stroke-width="2"/><path d="M1573,1292L1573.0,1279.0A13,13 0 0 1 1577.0,1279.6Z" fill="#eda126"/><path d="M1573,1292L1577.0,1279.6A13,13 0 0 1 1585.4,1288.0Z" fill="#d4682a"/>
<circle cx="2040" cy="1315" r="13" fill="#d4682a" stroke="#1a1a1a" stroke-width="2"/><path d="M2040,1315L2040.0,1302.0A13,13 0 0 1 2044.8,1302.9Z" fill="#eda126"/><path d="M2040,1315L2031.1,1305.5A13,13 0 0 1 2040.0,1302.0Z" fill="#dc2a0e"/>
<circle cx="588" cy="1443" r="13" fill="#d4682a" stroke="#1a1a1a" stroke-width="2"/><path d="M588,1443L588.0,1430.0A13,13 0 0 1 592.0,1430.6Z" fill="#eda126"/><path d="M588,1443L592.0,1455.4A13,13 0 0 1 577.5,1435.4Z" fill="#dc2a0e"/><path d="M588,1443L577.5,1435.4A13,13 0 0 1 588.0,1430.0Z" fill="#d9308c"/>
<circle cx="2157" cy="1488" r="13" fill="#eda126" stroke="#1a1a1a" stroke-width="2"/><path d="M2157,1488L2144.6,1492.0A13,13 0 0 1 2153.0,1475.6Z" fill="#d4682a"/><path d="M2157,1488L2153.0,1475.6A13,13 0 0 1 2157.0,1475.0Z" fill="#dc2a0e"/>
<circle cx="1666" cy="1570" r="13" fill="#d4682a" stroke="#1a1a1a" stroke-width="2"/><path d="M1666,1570L1666.0,1557.0A13,13 0 0 1 1676.5,1577.6Z" fill="#eda126"/><path d="M1666,1570L1658.4,1559.5A13,13 0 0 1 1666.0,1557.0Z" fill="#dc2a0e"/>
<circle cx="1447" cy="1607" r="13" fill="#d4682a" stroke="#1a1a1a" stroke-width="2"/><path d="M1447,1607L1447.0,1594.0A13,13 0 0 1 1451.0,1594.6Z" fill="#eda126"/><path d="M1447,1607L1451.0,1619.4A13,13 0 0 1 1436.5,1599.4Z" fill="#dc2a0e"/><path d="M1447,1607L1436.5,1599.4A13,13 0 0 1 1447.0,1594.0Z" fill="#d9308c"/>
<circle cx="2170" cy="1733" r="13" fill="#d4682a" stroke="#1a1a1a" stroke-width="2"/><path d="M2170,1733L2170.0,1720.0A13,13 0 0 1 2180.5,1740.6Z" fill="#eda126"/><path d="M2170,1733L2162.4,1722.5A13,13 0 0 1 2170.0,1720.0Z" fill="#dc2a0e"/>
<circle cx="2895" cy="947" r="13" fill="#d4682a" stroke="#1a1a1a" stroke-width="2"/><path d="M2895,947L2895.0,934.0A13,13 0 0 1 2902.6,936.5Z" fill="#eda126"/><path d="M2895,947L2882.6,951.0A13,13 0 0 1 2895.0,934.0Z" fill="#dc2a0e"/>
<circle cx="2323" cy="1033" r="13" fill="#d4682a" stroke="#1a1a1a" stroke-width="2"/><path d="M2323,1033L2323.0,1020.0A13,13 0 0 1 2333.5,1040.6Z" fill="#eda126"/><path d="M2323,1033L2315.4,1022.5A13,13 0 0 1 2323.0,1020.0Z" fill="#dc2a0e"/>
<circle cx="3078" cy="1038" r="13" fill="#dc2a0e" stroke="#1a1a1a" stroke-width="2"/><path d="M3078,1038L3078.0,1025.0A13,13 0 0 1 3082.0,1025.6Z" fill="#eda126"/><path d="M3078,1038L3082.0,1025.6A13,13 0 0 1 3090.4,1034.0Z" fill="#d4682a"/>
<circle cx="3157" cy="1118" r="13" fill="#dc2a0e" stroke="#1a1a1a" stroke-width="2"/><path d="M3157,1118L3157.0,1105.0A13,13 0 0 1 3161.0,1105.6Z" fill="#eda126"/><path d="M3157,1118L3161.0,1105.6A13,13 0 0 1 3169.4,1114.0Z" fill="#d4682a"/>
<circle cx="2892" cy="1120" r="13" fill="#d4682a" stroke="#1a1a1a" stroke-width="2"/><path d="M2892,1120L2892.0,1107.0A13,13 0 0 1 2896.8,1107.9Z" fill="#eda126"/><path d="M2892,1120L2883.1,1110.5A13,13 0 0 1 2892.0,1107.0Z" fill="#dc2a0e"/>
<circle cx="2797" cy="1170" r="13" fill="#d4682a" stroke="#1a1a1a" stroke-width="2"/><path d="M2797,1170L2797.0,1157.0A13,13 0 0 1 2804.6,1159.5Z" fill="#eda126"/><path d="M2797,1170L2784.6,1174.0A13,13 0 0 1 2797.0,1157.0Z" fill="#dc2a0e"/>
<circle cx="2683" cy="1297" r="13" fill="#eda126" stroke="#1a1a1a" stroke-width="2"/><path d="M2683,1297L2670.6,1301.0A13,13 0 0 1 2679.0,1284.6Z" fill="#d4682a"/><path d="M2683,1297L2679.0,1284.6A13,13 0 0 1 2683.0,1284.0Z" fill="#dc2a0e"/>
<circle cx="2850" cy="1332" r="13" fill="#dc2a0e" stroke="#1a1a1a" stroke-width="2"/><path d="M2850,1332L2850.0,1319.0A13,13 0 0 1 2857.6,1321.5Z" fill="#eda126"/><path d="M2850,1332L2857.6,1321.5A13,13 0 0 1 2857.6,1342.5Z" fill="#d4682a"/>
<circle cx="2818" cy="1495" r="13" fill="#d4682a" stroke="#1a1a1a" stroke-width="2"/><path d="M2818,1495L2818.0,1482.0A13,13 0 0 1 2822.8,1482.9Z" fill="#eda126"/><path d="M2818,1495L2809.1,1485.5A13,13 0 0 1 2818.0,1482.0Z" fill="#dc2a0e"/>
<circle cx="2082" cy="1542" r="13" fill="#d4682a" stroke="#1a1a1a" stroke-width="2"/><path d="M2082,1542L2082.0,1529.0A13,13 0 0 1 2086.0,1529.6Z" fill="#eda126"/><path d="M2082,1542L2069.0,1542.0A13,13 0 0 1 2071.5,1534.4Z" fill="#dc2a0e"/><path d="M2082,1542L2071.5,1534.4A13,13 0 0 1 2082.0,1529.0Z" fill="#d9308c"/>
<circle cx="2890" cy="1590" r="13" fill="#d4682a" stroke="#1a1a1a" stroke-width="2"/><path d="M2890,1590L2890.0,1577.0A13,13 0 0 1 2897.6,1579.5Z" fill="#eda126"/><path d="M2890,1590L2877.6,1594.0A13,13 0 0 1 2890.0,1577.0Z" fill="#dc2a0e"/>
<circle cx="2806" cy="1600" r="13" fill="#dc2a0e" stroke="#1a1a1a" stroke-width="2"/><path d="M2806,1600L2806.0,1587.0A13,13 0 0 1 2810.0,1587.6Z" fill="#eda126"/><path d="M2806,1600L2810.0,1587.6A13,13 0 0 1 2818.4,1596.0Z" fill="#d4682a"/>
<circle cx="2208" cy="1817" r="13" fill="#d4682a" stroke="#1a1a1a" stroke-width="2"/><path d="M2208,1817L2208.0,1804.0A13,13 0 0 1 2218.5,1824.6Z" fill="#eda126"/><path d="M2208,1817L2200.4,1806.5A13,13 0 0 1 2208.0,1804.0Z" fill="#dc2a0e"/>
<circle cx="1196" cy="1931" r="13" fill="#d4682a" stroke="#1a1a1a" stroke-width="2"/><path d="M1196,1931L1196.0,1918.0A13,13 0 0 1 1200.0,1918.6Z" fill="#eda126"/><path d="M1196,1931L1200.0,1943.4A13,13 0 0 1 1185.5,1923.4Z" fill="#dc2a0e"/><path d="M1196,1931L1185.5,1923.4A13,13 0 0 1 1196.0,1918.0Z" fill="#d9308c"/>
<circle cx="1092" cy="374" r="12" fill="#d4682a" stroke="#1a1a1a" stroke-width="2"/><path d="M1092,374L1092.0,362.0A12,12 0 0 1 1095.7,362.6Z" fill="#eda126"/><path d="M1092,374L1080.0,374.0A12,12 0 0 1 1082.3,366.9Z" fill="#dc2a0e"/><path d="M1092,374L1082.3,366.9A12,12 0 0 1 1092.0,362.0Z" fill="#d9308c"/>
<circle cx="1666" cy="478" r="12" fill="#d4682a" stroke="#1a1a1a" stroke-width="2"/><path d="M1666,478L1666.0,466.0A12,12 0 0 1 1670.4,466.8Z" fill="#eda126"/><path d="M1666,478L1657.8,469.3A12,12 0 0 1 1666.0,466.0Z" fill="#dc2a0e"/>
<circle cx="1420" cy="563" r="12" fill="#eda126" stroke="#1a1a1a" stroke-width="2"/><path d="M1420,563L1416.3,551.6A12,12 0 0 1 1420.0,551.0Z" fill="#d4682a"/>
<circle cx="948" cy="602" r="12" fill="#d4682a" stroke="#1a1a1a" stroke-width="2"/><path d="M948,602L948.0,590.0A12,12 0 0 1 951.7,590.6Z" fill="#eda126"/><path d="M948,602L951.7,613.4A12,12 0 0 1 938.3,594.9Z" fill="#dc2a0e"/><path d="M948,602L938.3,594.9A12,12 0 0 1 948.0,590.0Z" fill="#d9308c"/>
<circle cx="1679" cy="597" r="12" fill="#dc2a0e" stroke="#1a1a1a" stroke-width="2"/><path d="M1679,597L1679.0,585.0A12,12 0 0 1 1682.7,585.6Z" fill="#eda126"/><path d="M1679,597L1682.7,585.6A12,12 0 0 1 1690.4,593.3Z" fill="#d4682a"/>
<circle cx="745" cy="723" r="12" fill="#d4682a" stroke="#1a1a1a" stroke-width="2"/><path d="M745,723L745.0,711.0A12,12 0 0 1 748.7,711.6Z" fill="#eda126"/><path d="M745,723L733.0,723.0A12,12 0 0 1 735.3,715.9Z" fill="#dc2a0e"/><path d="M745,723L735.3,715.9A12,12 0 0 1 745.0,711.0Z" fill="#d9308c"/>
<circle cx="1960" cy="697" r="12" fill="#d4682a" stroke="#1a1a1a" stroke-width="2"/><path d="M1960,697L1960.0,685.0A12,12 0 0 1 1964.4,685.8Z" fill="#eda126"/><path d="M1960,697L1951.8,688.3A12,12 0 0 1 1960.0,685.0Z" fill="#dc2a0e"/>
<circle cx="1108" cy="758" r="12" fill="#d4682a" stroke="#1a1a1a" stroke-width="2"/><path d="M1108,758L1108.0,746.0A12,12 0 0 1 1115.1,748.3Z" fill="#eda126"/><path d="M1108,758L1096.6,761.7A12,12 0 0 1 1108.0,746.0Z" fill="#dc2a0e"/>
<circle cx="1197" cy="760" r="12" fill="#d4682a" stroke="#1a1a1a" stroke-width="2"/><path d="M1197,760L1197.0,748.0A12,12 0 0 1 1206.7,767.1Z" fill="#eda126"/><path d="M1197,760L1189.9,750.3A12,12 0 0 1 1197.0,748.0Z" fill="#dc2a0e"/>
<circle cx="1448" cy="795" r="12" fill="#dc2a0e" stroke="#1a1a1a" stroke-width="2"/><path d="M1448,795L1448.0,783.0A12,12 0 0 1 1451.7,783.6Z" fill="#eda126"/><path d="M1448,795L1451.7,783.6A12,12 0 0 1 1459.4,791.3Z" fill="#d4682a"/>
<circle cx="330" cy="958" r="12" fill="#d4682a" stroke="#1a1a1a" stroke-width="2"/><path d="M330,958L330.0,946.0A12,12 0 0 1 337.1,948.3Z" fill="#eda126"/><path d="M330,958L318.6,961.7A12,12 0 0 1 330.0,946.0Z" fill="#dc2a0e"/>
<circle cx="635" cy="975" r="12" fill="#dc2a0e" stroke="#1a1a1a" stroke-width="2"/><path d="M635,975L635.0,963.0A12,12 0 0 1 638.7,963.6Z" fill="#eda126"/><path d="M635,975L638.7,963.6A12,12 0 0 1 646.4,971.3Z" fill="#d4682a"/>
<circle cx="2098" cy="962" r="12" fill="#d9308c" stroke="#1a1a1a" stroke-width="2"/><path d="M2098,962L2098.0,950.0A12,12 0 0 1 2109.4,958.3Z" fill="#d4682a"/><path d="M2098,962L2109.4,958.3A12,12 0 0 1 2109.4,965.7Z" fill="#dc2a0e"/><path d="M2098,962L2088.3,969.1A12,12 0 0 1 2098.0,950.0Z" fill="#4f5b4b"/>
<circle cx="2128" cy="1032" r="12" fill="#d4682a" stroke="#1a1a1a" stroke-width="2"/><path d="M2128,1032L2128.0,1020.0A12,12 0 0 1 2131.7,1020.6Z" fill="#eda126"/><path d="M2128,1032L2131.7,1043.4A12,12 0 0 1 2118.3,1024.9Z" fill="#dc2a0e"/><path d="M2128,1032L2118.3,1024.9A12,12 0 0 1 2128.0,1020.0Z" fill="#d9308c"/>
<circle cx="563" cy="1085" r="12" fill="#d4682a" stroke="#1a1a1a" stroke-width="2"/><path d="M563,1085L563.0,1073.0A12,12 0 0 1 567.4,1073.8Z" fill="#eda126"/><path d="M563,1085L554.8,1076.3A12,12 0 0 1 563.0,1073.0Z" fill="#dc2a0e"/>
<circle cx="907" cy="1083" r="12" fill="#eda126" stroke="#1a1a1a" stroke-width="2"/><path d="M907,1083L895.6,1086.7A12,12 0 0 1 903.3,1071.6Z" fill="#d4682a"/><path d="M907,1083L903.3,1071.6A12,12 0 0 1 907.0,1071.0Z" fill="#dc2a0e"/>
<circle cx="2243" cy="1155" r="12" fill="#d4682a" stroke="#1a1a1a" stroke-width="2"/><path d="M2243,1155L2243.0,1143.0A12,12 0 0 1 2247.4,1143.8Z" fill="#eda126"/><path d="M2243,1155L2234.8,1146.3A12,12 0 0 1 2243.0,1143.0Z" fill="#dc2a0e"/>
<circle cx="1130" cy="1243" r="12" fill="#d4682a" stroke="#1a1a1a" stroke-width="2"/><path d="M1130,1243L1130.0,1231.0A12,12 0 0 1 1134.4,1231.8Z" fill="#eda126"/><path d="M1130,1243L1121.8,1234.3A12,12 0 0 1 1130.0,1231.0Z" fill="#dc2a0e"/>
<circle cx="618" cy="1270" r="12" fill="#eda126" stroke="#1a1a1a" stroke-width="2"/><path d="M618,1270L606.6,1273.7A12,12 0 0 1 614.3,1258.6Z" fill="#d4682a"/><path d="M618,1270L614.3,1258.6A12,12 0 0 1 618.0,1258.0Z" fill="#dc2a0e"/>
<circle cx="1103" cy="1363" r="12" fill="#d4682a" stroke="#1a1a1a" stroke-width="2"/><path d="M1103,1363L1103.0,1351.0A12,12 0 0 1 1110.1,1353.3Z" fill="#eda126"/><path d="M1103,1363L1091.6,1366.7A12,12 0 0 1 1103.0,1351.0Z" fill="#dc2a0e"/>
<circle cx="765" cy="1435" r="12" fill="#d4682a" stroke="#1a1a1a" stroke-width="2"/><path d="M765,1435L765.0,1423.0A12,12 0 0 1 769.4,1423.8Z" fill="#eda126"/><path d="M765,1435L756.8,1426.3A12,12 0 0 1 765.0,1423.0Z" fill="#dc2a0e"/>
<circle cx="1154" cy="1547" r="12" fill="#d4682a" stroke="#1a1a1a" stroke-width="2"/><path d="M1154,1547L1154.0,1535.0A12,12 0 0 1 1161.1,1537.3Z" fill="#eda126"/><path d="M1154,1547L1142.6,1550.7A12,12 0 0 1 1154.0,1535.0Z" fill="#dc2a0e"/>
<circle cx="1995" cy="1560" r="12" fill="#d4682a" stroke="#1a1a1a" stroke-width="2"/><path d="M1995,1560L1995.0,1548.0A12,12 0 0 1 1999.4,1548.8Z" fill="#eda126"/><path d="M1995,1560L1986.8,1551.3A12,12 0 0 1 1995.0,1548.0Z" fill="#dc2a0e"/>
<circle cx="800" cy="1677" r="12" fill="#d4682a" stroke="#1a1a1a" stroke-width="2"/><path d="M800,1677L800.0,1665.0A12,12 0 0 1 803.7,1665.6Z" fill="#eda126"/><path d="M800,1677L803.7,1688.4A12,12 0 0 1 790.3,1669.9Z" fill="#dc2a0e"/><path d="M800,1677L790.3,1669.9A12,12 0 0 1 800.0,1665.0Z" fill="#d9308c"/>
<circle cx="2660" cy="820" r="12" fill="#dc2a0e" stroke="#1a1a1a" stroke-width="2"/><path d="M2660,820L2660.0,808.0A12,12 0 0 1 2667.1,810.3Z" fill="#eda126"/><path d="M2660,820L2667.1,810.3A12,12 0 0 1 2667.1,829.7Z" fill="#d4682a"/>
<circle cx="2518" cy="986" r="12" fill="#d9308c" stroke="#1a1a1a" stroke-width="2"/>
<circle cx="3053" cy="973" r="12" fill="#d4682a" stroke="#1a1a1a" stroke-width="2"/><path d="M3053,973L3053.0,961.0A12,12 0 0 1 3056.7,961.6Z" fill="#eda126"/><path d="M3053,973L3041.0,973.0A12,12 0 0 1 3043.3,965.9Z" fill="#dc2a0e"/><path d="M3053,973L3043.3,965.9A12,12 0 0 1 3053.0,961.0Z" fill="#d9308c"/>
<circle cx="2452" cy="1098" r="12" fill="#eda126" stroke="#1a1a1a" stroke-width="2"/><path d="M2452,1098L2440.6,1101.7A12,12 0 0 1 2448.3,1086.6Z" fill="#d4682a"/><path d="M2452,1098L2448.3,1086.6A12,12 0 0 1 2452.0,1086.0Z" fill="#dc2a0e"/>
<circle cx="2737" cy="1087" r="12" fill="#d4682a" stroke="#1a1a1a" stroke-width="2"/><path d="M2737,1087L2737.0,1075.0A12,12 0 0 1 2746.7,1094.1Z" fill="#eda126"/><path d="M2737,1087L2729.9,1077.3A12,12 0 0 1 2737.0,1075.0Z" fill="#dc2a0e"/>
<circle cx="2976" cy="1274" r="12" fill="#d4682a" stroke="#1a1a1a" stroke-width="2"/><path d="M2976,1274L2976.0,1262.0A12,12 0 0 1 2979.7,1262.6Z" fill="#eda126"/><path d="M2976,1274L2979.7,1285.4A12,12 0 0 1 2966.3,1266.9Z" fill="#dc2a0e"/><path d="M2976,1274L2966.3,1266.9A12,12 0 0 1 2976.0,1262.0Z" fill="#d9308c"/>
<circle cx="2675" cy="1435" r="12" fill="#d9308c" stroke="#1a1a1a" stroke-width="2"/>
<circle cx="2428" cy="1578" r="12" fill="#eda126" stroke="#1a1a1a" stroke-width="2"/><path d="M2428,1578L2416.6,1581.7A12,12 0 0 1 2424.3,1566.6Z" fill="#d4682a"/><path d="M2428,1578L2424.3,1566.6A12,12 0 0 1 2428.0,1566.0Z" fill="#dc2a0e"/>
<circle cx="1281" cy="1833" r="12" fill="#eda126" stroke="#1a1a1a" stroke-width="2"/><path d="M1281,1833L1273.9,1842.7A12,12 0 0 1 1269.6,1829.3Z" fill="#d4682a"/><path d="M1281,1833L1269.6,1829.3A12,12 0 0 1 1271.3,1825.9Z" fill="#dc2a0e"/><path d="M1281,1833L1271.3,1825.9A12,12 0 0 1 1281.0,1821.0Z" fill="#d9308c"/>
<circle cx="1031" cy="1878" r="12" fill="#d4682a" stroke="#1a1a1a" stroke-width="2"/><path d="M1031,1878L1031.0,1866.0A12,12 0 0 1 1034.7,1866.6Z" fill="#eda126"/><path d="M1031,1878L1034.7,1889.4A12,12 0 0 1 1021.3,1870.9Z" fill="#dc2a0e"/><path d="M1031,1878L1021.3,1870.9A12,12 0 0 1 1031.0,1866.0Z" fill="#d9308c"/>
<circle cx="1587" cy="388" r="11" fill="#d4682a" stroke="#1a1a1a" stroke-width="2"/><path d="M1587,388L1587.0,377.0A11,11 0 0 1 1591.0,377.8Z" fill="#eda126"/><path d="M1587,388L1579.5,380.0A11,11 0 0 1 1587.0,377.0Z" fill="#dc2a0e"/>
<circle cx="858" cy="555" r="11" fill="#d4682a" stroke="#1a1a1a" stroke-width="2"/><path d="M858,555L858.0,544.0A11,11 0 0 1 864.5,546.1Z" fill="#eda126"/><path d="M858,555L847.5,558.4A11,11 0 0 1 858.0,544.0Z" fill="#dc2a0e"/>
<circle cx="1538" cy="818" r="11" fill="#d4682a" stroke="#1a1a1a" stroke-width="2"/><path d="M1538,818L1538.0,807.0A11,11 0 0 1 1546.9,824.5Z" fill="#eda126"/><path d="M1538,818L1531.5,809.1A11,11 0 0 1 1538.0,807.0Z" fill="#dc2a0e"/>
<circle cx="1972" cy="862" r="11" fill="#eda126" stroke="#1a1a1a" stroke-width="2"/><path d="M1972,862L1961.5,865.4A11,11 0 0 1 1968.6,851.5Z" fill="#d4682a"/><path d="M1972,862L1968.6,851.5A11,11 0 0 1 1972.0,851.0Z" fill="#dc2a0e"/>
<circle cx="2267" cy="883" r="11" fill="#d4682a" stroke="#1a1a1a" stroke-width="2"/><path d="M2267,883L2267.0,872.0A11,11 0 0 1 2273.5,874.1Z" fill="#eda126"/><path d="M2267,883L2256.5,886.4A11,11 0 0 1 2267.0,872.0Z" fill="#dc2a0e"/>
<circle cx="1682" cy="937" r="11" fill="#eda126" stroke="#1a1a1a" stroke-width="2"/><path d="M1682,937L1678.6,926.5A11,11 0 0 1 1682.0,926.0Z" fill="#d4682a"/>
<circle cx="1875" cy="1130" r="11" fill="#dc2a0e" stroke="#1a1a1a" stroke-width="2"/><path d="M1875,1130L1875.0,1119.0A11,11 0 0 1 1878.4,1119.5Z" fill="#eda126"/><path d="M1875,1130L1878.4,1119.5A11,11 0 0 1 1885.5,1126.6Z" fill="#d4682a"/>
<circle cx="881" cy="1378" r="11" fill="#d4682a" stroke="#1a1a1a" stroke-width="2"/><path d="M881,1378L881.0,1367.0A11,11 0 0 1 887.5,1369.1Z" fill="#eda126"/><path d="M881,1378L870.5,1381.4A11,11 0 0 1 881.0,1367.0Z" fill="#dc2a0e"/>
<circle cx="688" cy="1573" r="11" fill="#d4682a" stroke="#1a1a1a" stroke-width="2"/><path d="M688,1573L688.0,1562.0A11,11 0 0 1 691.4,1562.5Z" fill="#eda126"/><path d="M688,1573L691.4,1583.5A11,11 0 0 1 679.1,1566.5Z" fill="#dc2a0e"/><path d="M688,1573L679.1,1566.5A11,11 0 0 1 688.0,1562.0Z" fill="#d9308c"/>
<circle cx="1768" cy="1695" r="11" fill="#d4682a" stroke="#1a1a1a" stroke-width="2"/><path d="M1768,1695L1768.0,1684.0A11,11 0 0 1 1774.5,1686.1Z" fill="#eda126"/><path d="M1768,1695L1757.5,1698.4A11,11 0 0 1 1768.0,1684.0Z" fill="#dc2a0e"/>
<circle cx="2334" cy="1257" r="11" fill="#eda126" stroke="#1a1a1a" stroke-width="2"/><path d="M2334,1257L2323.5,1260.4A11,11 0 0 1 2330.6,1246.5Z" fill="#d4682a"/><path d="M2334,1257L2330.6,1246.5A11,11 0 0 1 2334.0,1246.0Z" fill="#dc2a0e"/>
<circle cx="2027" cy="508" r="10" fill="#d9308c" stroke="#1a1a1a" stroke-width="2"/>
<circle cx="260" cy="702" r="10" fill="#dc2a0e" stroke="#1a1a1a" stroke-width="2"/><path d="M260,702L260.0,692.0A10,10 0 0 1 263.1,692.5Z" fill="#eda126"/><path d="M260,702L263.1,692.5A10,10 0 0 1 269.5,698.9Z" fill="#d4682a"/>
<circle cx="2238" cy="1558" r="17" fill="none" stroke="#1a1a1a" stroke-width="2"/>
<g font-size="29.5" fill="#3c3c3c">
<text x="1360" y="482">Liberec</text>
<text x="875" y="508">Ústí nad Labem</text>
<text x="390" y="868">Karlovy Vary</text>
<text x="707" y="1185">Plzeň</text>
<text x="1827" y="780">Hradec</text>
<text x="1827" y="820">Králové</text>
<text x="1826" y="988">Pardubice</text>
<text x="1662" y="1303">Jihlava</text>
<text x="2160" y="1610">Brno</text>
<text x="1063" y="1794">České Budějovice</text>
<text x="2510" y="1315">Olomouc</text>
<text x="2940" y="1148">Ostrava</text>
<text x="2713" y="1577">Zlín</text>
</g>
<clipPath id="c2"><use href="#cz" transform="matrix(0.4785,0,0,0.4785,3343.2,78.3)"/></clipPath>
<g clip-path="url(#c2)">
<use href="#cz" transform="matrix(0.4785,0,0,0.4785,3343.2,78.3)" fill="#fa9fb5"/>
<g stroke="#b07a8a" stroke-opacity="0.4" stroke-width="1.2">
<polygon points="3745.9,139.7 3678.9,140.0 3729.8,327.0 3726.9,333.8 3753.8,380.0 3766.9,379.7 3792.8,329.7 3785.7,322.2 3756.1,153.4" fill="#feebe2"/>
<polygon points="3902.0,250.3 3890.8,229.8 3767.0,163.6 3854.1,303.3 3893.1,304.7 3901.1,294.0" fill="#feebe2"/>
<polygon points="3479.4,139.9 3339.7,140.0 3339.7,182.0 3432.8,443.8 3456.7,455.6 3470.3,511.6 3534.4,501.6 3532.1,449.9 3512.6,433.0" fill="#feebe2"/>
<polygon points="3588.4,430.0 3615.7,447.8 3658.3,423.3 3704.8,470.4 3738.6,456.1 3727.1,399.6 3691.0,387.7 3662.9,408.1 3573.6,305.9" fill="#feebe2"/>
<polygon points="3911.0,353.0 3887.6,379.8 3885.9,406.4 3898.6,420.5 3962.0,426.6 3965.9,434.0 4008.6,438.2 4023.7,495.3 4032.4,501.6 4052.0,495.0 4105.1,513.7 4105.6,536.8 4170.3,573.4 4184.7,554.1 4169.4,490.0 4165.5,487.2 4123.4,491.6 4102.9,437.2 4070.3,428.1 4053.2,410.8 4052.1,393.3 3974.5,358.2 3963.2,365.8" fill="#feebe2"/>
<polygon points="3707.2,554.1 3685.6,511.3 3617.7,501.7 3579.4,540.0 3573.3,542.1 3571.3,546.0 3591.6,630.7 3625.5,637.8 3633.3,653.0 3671.4,671.5 3708.4,655.6 3679.0,587.3" fill="#feebe2"/>
<polygon points="3761.1,548.6 3741.1,557.9 3758.1,636.9 3810.1,627.1 3819.9,595.7" fill="#feebe2"/>
<polygon points="3908.2,771.0 3917.3,713.0 3836.2,694.4 3818.1,715.4 3876.6,779.9" fill="#feebe2"/>
<polygon points="3749.5,774.9 3725.2,727.6 3667.2,743.0 3668.9,788.1 3504.1,915.7 3382.5,1080.2 3492.3,1080.2 3723.9,835.0 3718.8,815.0" fill="#feebe2"/>
<polygon points="3891.8,949.7 3850.0,918.3 3711.2,1014.3 3655.7,1080.1 3847.5,1080.3" fill="#feebe2"/>
<polygon points="4077.3,242.1 4088.3,280.5 4117.2,293.4 4162.7,252.3 4231.2,139.8 4204.3,139.7" fill="#feebe2"/>
<polygon points="4546.9,140.0 4264.3,139.8 4262.2,159.9 4273.9,333.9 4372.9,386.1 4387.3,387.7 4415.1,383.2" fill="#feebe2"/>
<polygon points="4866.0,140.1 4694.1,139.8 4555.5,485.2 4646.1,521.3 4680.1,494.5" fill="#feebe2"/>
<polygon points="4783.1,569.0 4794.4,580.2 4828.1,558.7 4961.3,227.6 4961.1,139.7 4909.2,139.9 4807.5,434.6" fill="#feebe2"/>
<polygon points="4318.2,519.0 4326.6,508.1 4307.1,465.9 4264.4,454.7 4257.6,455.2 4250.8,458.8 4248.6,464.5 4228.1,486.4 4232.0,543.5 4253.9,556.3 4285.6,523.7" fill="#feebe2"/>
<polygon points="4007.2,597.6 4008.4,603.8 4063.2,636.8 4099.9,611.4 4087.1,559.9 4021.5,563.6 4018.3,566.7" fill="#feebe2"/>
<polygon points="4834.6,629.8 4850.6,592.7 4831.8,585.5 4801.8,601.7 4799.1,618.4" fill="#feebe2"/>
<polygon points="4278.8,592.9 4262.8,580.5 4210.5,612.0 4220.5,657.1 4258.6,657.2 4279.5,643.6 4287.8,620.2" fill="#feebe2"/>
<polygon points="4433.8,601.0 4425.6,595.7 4393.6,602.7 4396.3,666.1 4422.9,674.1 4440.2,719.5 4459.7,730.4 4504.3,688.8 4463.5,647.0 4452.8,646.4" fill="#feebe2"/>
<polygon points="4589.1,770.7 4625.5,734.0 4594.9,699.5 4551.1,709.2 4549.0,757.1" fill="#feebe2"/>
<polygon points="4141.4,719.7 4115.7,745.4 4113.6,786.9 4190.8,809.7 4219.7,774.1 4219.7,746.8 4194.4,718.4" fill="#feebe2"/>
<polygon points="4157.4,866.3 4149.3,1029.9 4149.6,1030.2 4251.0,884.8 4191.9,828.9" fill="#feebe2"/>
<polygon points="4565.4,1038.8 4558.0,918.3 4486.8,902.2 4475.3,932.2" fill="#feebe2"/>
<polygon points="3975.6,284.8 3981.0,231.3 3901.4,250.3 3900.7,294.2" fill="#f768a1"/>
<polygon points="4202.8,422.3 4209.0,422.7 4244.9,368.2 4194.6,345.9 4187.0,349.1 4177.1,378.7" fill="#f768a1"/>
<polygon points="3592.1,630.7 3571.5,545.7 3522.3,581.8 3524.5,653.3 3491.6,680.0 3585.1,738.3 3599.7,724.5 3599.3,719.2 3562.7,654.8" fill="#f768a1"/>
<polygon points="3983.5,644.1 3992.4,691.9 4055.6,689.1 4066.0,720.2 4011.3,779.1 4003.6,773.6 3925.2,783.7 3933.5,852.8 3953.2,867.6 3987.3,857.5 4018.6,793.8 4085.4,815.4 4088.5,833.2 4157.9,866.6 4192.1,829.3 4191.0,809.4 4114.2,786.5 4116.3,745.6 4141.7,720.3 4194.2,718.9 4219.1,747.1 4219.2,774.2 4270.4,802.1 4312.6,786.9 4313.7,785.7 4312.9,747.9 4285.9,725.1 4269.8,723.2 4258.7,656.6 4220.6,656.6 4204.1,672.5 4144.2,636.9 4125.9,677.9 4066.7,669.2 4063.5,636.3 4008.6,603.3" fill="#f768a1"/>
<polygon points="4316.5,398.8 4264.1,455.1 4306.8,466.4 4326.1,508.3 4342.8,506.0 4394.9,458.2 4417.6,395.0 4415.2,382.9 4387.3,387.1 4373.0,385.5" fill="#f768a1"/>
<polygon points="4393.9,603.2 4425.9,596.2 4436.8,541.0 4408.4,529.4 4381.0,543.1 4379.1,547.7 4391.5,602.0" fill="#f768a1"/>
<polygon points="4341.2,622.6 4355.6,606.0 4335.6,566.7 4326.9,562.3 4278.3,593.0 4287.4,620.5" fill="#f768a1"/>
<polygon points="4423.4,673.7 4396.6,665.7 4358.5,680.4 4360.4,722.7 4383.7,742.4 4440.7,719.6" fill="#f768a1"/>
<polygon points="4854.5,682.0 4889.4,833.8 4839.3,787.0 4739.2,736.2 4708.3,757.6 4730.5,804.2 4900.2,851.7 4961.1,914.5 4961.2,611.9" fill="#f768a1"/>
<polygon points="4378.1,875.1 4414.9,905.5 4416.0,920.3 4439.9,944.2 4475.8,932.2 4487.2,902.5 4483.0,883.8 4447.1,871.9 4430.2,840.5 4383.8,852.6" fill="#f768a1"/>
<path d="M3854.5,303.1 3767.5,163.6 3755.7,153.2 3785.1,322.4 3792.2,329.8 3766.7,379.1 3754.2,379.5 3727.2,333.4 3690.8,352.5 3690.8,388.1 3726.6,400.1 3738.0,455.9 3704.6,469.9 3685.2,511.5 3706.7,554.3 3741.6,558.2 3761.2,549.1 3780.0,521.7 3843.5,525.9 3859.6,510.3 3862.7,486.1 3897.2,470.2 3910.3,473.5 3943.7,520.8 3953.8,517.6 3970.0,496.1 3964.2,439.1 3966.2,433.6 3962.4,426.1 3898.9,420.0 3886.5,406.3 3888.1,379.7 3834.5,365.5 3824.0,333.7ZM3848.2,427.8 3848.2,468.6 3772.9,464.3 3799.2,408.7 3812.3,405.3Z" fill="#fcc5c0" fill-rule="evenodd"/>
<polygon points="3512.0,433.3 3531.6,450.2 3533.8,501.4 3470.6,511.0 3457.2,455.3 3433.0,443.4 3339.7,542.7 3339.9,1080.3 3382.9,1080.2 3504.5,916.1 3669.5,788.3 3667.7,743.2 3657.4,733.4 3671.6,671.0 3633.4,652.5 3598.8,719.1 3599.2,724.2 3584.9,737.7 3492.4,679.8 3525.1,653.5 3522.9,582.1 3571.7,546.3 3573.8,542.5 3579.8,540.5 3618.2,501.9 3615.9,447.4 3589.0,429.7 3573.9,306.1 3541.9,223.8 3491.8,139.8 3479.0,139.7" fill="#fcc5c0"/>
<polygon points="3818.2,715.7 3745.2,690.1 3724.8,727.9 3749.0,775.1 3789.4,775.2" fill="#fcc5c0"/>
<polygon points="4187.2,349.5 4194.9,346.3 4262.8,159.9 4264.6,139.7 4230.8,139.8 4162.2,252.0 4116.8,293.0 4115.7,301.4 4141.0,337.9 4158.9,335.7" fill="#fcc5c0"/>
<polygon points="4694.6,139.9 4546.4,139.9 4414.6,382.9 4417.0,394.9 4394.3,458.0 4408.1,529.9 4436.2,541.4 4425.3,596.0 4433.4,601.4 4489.1,588.3 4493.5,620.3 4541.2,644.8 4550.2,588.7 4503.8,562.2 4502.5,562.5 4452.1,535.4 4471.8,465.3 4543.2,490.8 4551.2,488.8 4556.0,485.2" fill="#fcc5c0"/>
<polygon points="4379.7,547.8 4381.5,543.1 4342.9,505.4 4326.1,507.9 4317.7,518.6 4326.5,562.7 4335.3,567.1" fill="#fcc5c0"/>
<polygon points="3839.1,666.6 3836.1,695.0 3917.0,713.5 3920.2,710.7 3916.9,641.6 3902.7,626.3" fill="#fcc5c0"/>
<polygon points="4444.0,800.7 4444.6,801.7 4480.3,814.3 4494.0,868.7 4551.9,850.1 4553.4,844.9 4527.7,798.1 4534.6,769.3 4463.2,741.6" fill="#fcc5c0"/>
<polygon points="4370.8,820.3 4349.7,790.7 4313.4,785.3 4312.3,786.5 4324.1,841.7 4370.3,834.2" fill="#fcc5c0"/>
<polygon points="3853.1,810.7 3867.7,859.0 3934.1,852.9 3925.7,783.8 3908.2,770.5 3876.6,779.4" fill="#fcc5c0"/>
<polygon points="4085.9,815.0 4018.3,793.2 3986.8,857.3 4062.9,920.4 4088.9,833.0" fill="#fcc5c0"/>
<polygon points="4337.8,958.3 4276.5,879.9 4269.6,878.5 4250.5,884.6 4149.4,1029.7 4129.2,1080.1 4324.7,1080.3" fill="#fcc5c0"/>
<polygon points="4084.0,1003.0 3943.8,914.0 3900.5,948.6 4048.0,1080.3 4123.0,1080.3" fill="#fcc5c0"/>
<path d="M4808.0,434.8 4909.6,139.7 4865.5,139.8 4679.6,494.1 4645.8,520.8 4637.4,555.1 4694.6,597.5 4711.6,640.6 4689.8,665.8 4695.6,688.0 4737.1,697.3 4742.1,709.7 4792.0,707.4 4838.9,787.4 4890.0,835.0 4855.1,682.1 4847.7,673.8 4844.8,640.2 4961.3,578.4 4961.2,227.3 4827.6,558.3 4794.4,579.6 4783.4,568.7 4737.3,579.0 4730.2,575.2ZM4834.3,629.2 4799.7,618.2 4802.3,602.1 4831.8,586.1 4849.9,592.9Z" fill="#fcc5c0" fill-rule="evenodd"/>
<polygon points="4600.4,790.2 4628.4,795.9 4655.7,772.9 4632.5,734.3 4625.1,733.9 4588.7,770.2" fill="#fcc5c0"/>
<polygon points="4647.8,842.3 4643.7,853.2 4639.8,856.1 4625.0,892.0 4726.3,1080.2 4871.7,1080.2 4714.0,886.5 4705.1,823.0 4678.2,819.7" fill="#fcc5c0"/>
<polygon points="4088.4,326.4 4091.5,360.4 4115.5,364.2 4141.4,337.7 4116.1,300.9" fill="#c51b8a"/>
<polygon points="4742.1,709.1 4738.9,736.7 4839.3,787.4 4792.3,706.9" fill="#c51b8a"/>
<polygon points="4219.5,773.7 4190.4,809.3 4191.5,829.3 4250.5,885.1 4269.7,879.1 4270.8,801.7" fill="#c51b8a"/>
<polygon points="3807.0,804.5 3774.0,860.8 3846.5,895.8 3868.2,858.7 3853.7,810.6" fill="#c51b8a"/>
<polygon points="4062.7,920.1 4083.6,1003.3 4122.6,1080.2 4129.6,1080.3 4149.9,1029.9 4158.0,866.2 4088.5,832.7" fill="#c51b8a"/>
<polygon points="4132.7,415.4 4173.5,440.6 4203.2,422.0 4177.5,378.4 4136.2,395.6" fill="#7a0177"/>
<polygon points="4056.1,688.6 3992.5,691.4 3981.7,708.1 4003.3,774.0 4011.2,779.8 4066.6,720.4" fill="#7a0177"/>
<polygon points="4088.6,280.0 4058.1,304.4 4088.6,326.9 4116.2,301.4 4117.2,294.4 4116.5,292.6" fill="#ffffff"/>
<polygon points="4266.8,390.2 4262.4,384.4 4256.0,380.7 4244.5,378.4 4236.7,379.6 4214.6,413.2 4216.4,420.3 4223.0,430.1 4232.8,436.7 4238.5,438.4 4250.3,438.4 4260.8,434.1" fill="#ffffff"/>
<polygon points="3898.9,532.5 3910.4,532.5 3921.3,528.0 3929.7,519.6 3934.2,508.7 3934.3,506.5 3910.4,473.1 3898.5,473.1 3887.6,477.6 3879.3,486.0 3874.7,496.9 3874.7,508.7 3879.3,519.6 3882.3,523.3" fill="#ffffff"/>
<polygon points="3944.3,642.4 3933.5,646.9 3925.1,655.3 3920.6,666.2 3920.6,678.0 3925.1,689.0 3933.5,697.3 3944.4,701.8 3956.2,701.8 3967.2,697.3 3975.5,689.0 3980.0,678.0 3980.0,666.2 3975.5,655.3 3967.2,646.9 3957.9,642.9" fill="#ffffff"/>
<polygon points="3663.1,706.2 3667.6,717.2 3676.0,725.5 3686.9,730.1 3698.7,730.1 3709.6,725.5 3718.0,717.2 3722.5,706.3 3722.5,694.4 3718.0,683.5 3709.6,675.2 3698.7,670.6 3686.9,670.6 3676.0,675.2 3668.6,682.3" fill="#ffffff"/>
<polygon points="4654.9,772.4 4665.0,774.3 4676.6,772.0 4686.4,765.4 4693.0,755.6 4694.7,749.9 4695.1,741.6 4680.7,718.2 4676.6,716.0 4665.0,713.7 4654.6,715.6 4639.1,728.5 4637.0,732.4 4635.2,739.7" fill="#ffffff"/>
<polygon points="4482.2,819.3 4472.5,815.4 4460.7,815.4 4449.8,820.0 4441.4,828.3 4436.9,839.3 4436.9,851.1 4441.4,862.0 4449.8,870.4 4460.7,874.9 4472.5,874.9 4483.4,870.4 4491.8,862.0 4492.5,860.5" fill="#ffffff"/>
</g>
</g>
<use href="#cz" transform="matrix(0.4785,0,0,0.4785,3343.2,78.3)" fill="none" stroke="#4d4d4d" stroke-width="6.27"/>
<circle cx="4399.5" cy="820.1" r="40.3" fill="#dc2a0e" stroke="#1a1a1a" stroke-width="1.5"/><path d="M4399.5,820.1L4399.5,779.8A40.3,40.3 0 0 1 4439.1,812.5Z" fill="#eda126"/><path d="M4399.5,820.1L4439.1,812.5A40.3,40.3 0 0 1 4433.5,841.7Z" fill="#d4682a"/><path d="M4399.5,820.1L4363.0,802.9A40.3,40.3 0 0 1 4366.9,796.4Z" fill="#d9308c"/><path d="M4399.5,820.1L4366.9,796.4A40.3,40.3 0 0 1 4399.5,779.8Z" fill="#4f5b4b"/>
<circle cx="4241.3" cy="827.1" r="38.8" fill="#dc2a0e" stroke="#1a1a1a" stroke-width="1.5"/><path d="M4241.3,827.1L4241.3,788.3A38.8,38.8 0 0 1 4272.7,804.3Z" fill="#eda126"/><path d="M4241.3,827.1L4272.7,804.3A38.8,38.8 0 0 1 4278.2,839.1Z" fill="#d4682a"/><path d="M4241.3,827.1L4229.3,790.2A38.8,38.8 0 0 1 4241.3,788.3Z" fill="#4f5b4b"/>
<circle cx="3903.6" cy="890.7" r="37.4" fill="#dc2a0e" stroke="#1a1a1a" stroke-width="1.5"/><path d="M3903.6,890.7L3903.6,853.3A37.4,37.4 0 0 1 3933.9,868.7Z" fill="#eda126"/><path d="M3903.6,890.7L3933.9,868.7A37.4,37.4 0 0 1 3933.9,912.7Z" fill="#d4682a"/><path d="M3903.6,890.7L3892.0,855.1A37.4,37.4 0 0 1 3896.6,854.0Z" fill="#d9308c"/><path d="M3903.6,890.7L3896.6,854.0A37.4,37.4 0 0 1 3903.6,853.3Z" fill="#4f5b4b"/>
<circle cx="4577.5" cy="670.3" r="33.9" fill="#eda126" stroke="#1a1a1a" stroke-width="1.5"/><path d="M4577.5,670.3L4567.0,702.5A33.9,33.9 0 0 1 4567.0,638.1Z" fill="#d4682a"/><path d="M4577.5,670.3L4567.0,638.1A33.9,33.9 0 0 1 4577.5,636.4Z" fill="#dc2a0e"/>
<circle cx="4203.8" cy="516.4" r="31.1" fill="#4f5b4b" stroke="#1a1a1a" stroke-width="1.5"/><path d="M4203.8,516.4L4203.8,485.3A31.1,31.1 0 0 1 4233.4,526.0Z" fill="#eda126"/><path d="M4203.8,516.4L4233.4,526.0A31.1,31.1 0 0 1 4203.8,547.5Z" fill="#d4682a"/>
<circle cx="4773.8" cy="592.6" r="29.7" fill="#d4682a" stroke="#1a1a1a" stroke-width="1.5"/><path d="M4773.8,592.6L4773.8,562.9A29.7,29.7 0 0 1 4803.5,592.6Z" fill="#eda126"/><path d="M4773.8,592.6L4745.6,601.8A29.7,29.7 0 0 1 4749.8,575.1Z" fill="#dc2a0e"/><path d="M4773.8,592.6L4749.8,575.1A29.7,29.7 0 0 1 4773.8,562.9Z" fill="#d9308c"/>
<circle cx="3876.8" cy="552.4" r="29.0" fill="#eda126" stroke="#1a1a1a" stroke-width="1.5"/><path d="M3876.8,552.4L3867.8,524.8A29.0,29.0 0 0 1 3876.8,523.4Z" fill="#d4682a"/>
<circle cx="4509.0" cy="730.4" r="29.0" fill="#d4682a" stroke="#1a1a1a" stroke-width="1.5"/><path d="M4509.0,730.4L4509.0,701.4A29.0,29.0 0 0 1 4526.0,706.9Z" fill="#eda126"/><path d="M4509.0,730.4L4500.0,702.8A29.0,29.0 0 0 1 4509.0,701.4Z" fill="#4f5b4b"/>
<circle cx="4018.1" cy="269.1" r="28.3" fill="#eda126" stroke="#1a1a1a" stroke-width="1.5"/><path d="M4018.1,269.1L4026.8,296.0A28.3,28.3 0 0 1 3990.3,274.4Z" fill="#d4682a"/><path d="M4018.1,269.1L3990.3,274.4A28.3,28.3 0 0 1 4018.1,240.8Z" fill="#dc2a0e"/>
<circle cx="4596.5" cy="862.5" r="28.3" fill="#d4682a" stroke="#1a1a1a" stroke-width="1.5"/><path d="M4596.5,862.5L4596.5,834.2A28.3,28.3 0 0 1 4600.0,834.4Z" fill="#eda126"/><path d="M4596.5,862.5L4568.7,867.8A28.3,28.3 0 0 1 4573.6,845.9Z" fill="#dc2a0e"/><path d="M4596.5,862.5L4573.6,845.9A28.3,28.3 0 0 1 4596.5,834.2Z" fill="#d9308c"/>
<circle cx="4816.2" cy="650.6" r="27.5" fill="#d4682a" stroke="#1a1a1a" stroke-width="1.5"/><path d="M4816.2,650.6L4816.2,623.1A27.5,27.5 0 0 1 4842.4,659.1Z" fill="#eda126"/><path d="M4816.2,650.6L4794.0,634.4A27.5,27.5 0 0 1 4800.0,628.4Z" fill="#dc2a0e"/><path d="M4816.2,650.6L4800.0,628.4A27.5,27.5 0 0 1 4816.2,623.1Z" fill="#d9308c"/>
<circle cx="4398.1" cy="705.6" r="27.5" fill="#d4682a" stroke="#1a1a1a" stroke-width="1.5"/><path d="M4398.1,705.6L4398.1,678.1A27.5,27.5 0 0 1 4425.6,705.6Z" fill="#eda126"/><path d="M4398.1,705.6L4371.9,697.1A27.5,27.5 0 0 1 4398.1,678.1Z" fill="#dc2a0e"/>
<circle cx="4747.7" cy="770.6" r="26.8" fill="#d4682a" stroke="#1a1a1a" stroke-width="1.5"/><path d="M4747.7,770.6L4747.7,743.8A26.8,26.8 0 0 1 4763.5,748.9Z" fill="#eda126"/><path d="M4747.7,770.6L4722.2,778.9A26.8,26.8 0 0 1 4747.7,743.8Z" fill="#dc2a0e"/>
<circle cx="4655.2" cy="803.1" r="26.1" fill="#eda126" stroke="#1a1a1a" stroke-width="1.5"/><path d="M4655.2,803.1L4670.5,824.2A26.1,26.1 0 0 1 4639.9,824.2Z" fill="#d4682a"/><path d="M4655.2,803.1L4639.9,824.2A26.1,26.1 0 0 1 4655.2,777.0Z" fill="#dc2a0e"/>
<circle cx="3943.9" cy="317.2" r="25.4" fill="#dc2a0e" stroke="#1a1a1a" stroke-width="1.5"/><path d="M3943.9,317.2L3943.9,291.8A25.4,25.4 0 0 1 3951.7,341.4Z" fill="#eda126"/><path d="M3943.9,317.2L3951.7,341.4A25.4,25.4 0 0 1 3947.1,342.4Z" fill="#d4682a"/><path d="M3943.9,317.2L3940.7,292.0A25.4,25.4 0 0 1 3943.9,291.8Z" fill="#4f5b4b"/>
<circle cx="4061.2" cy="530.5" r="25.4" fill="#d4682a" stroke="#1a1a1a" stroke-width="1.5"/><path d="M4061.2,530.5L4061.2,505.1A25.4,25.4 0 0 1 4085.4,538.3Z" fill="#eda126"/><path d="M4061.2,530.5L4040.7,515.6A25.4,25.4 0 0 1 4046.3,510.0Z" fill="#d9308c"/><path d="M4061.2,530.5L4046.3,510.0A25.4,25.4 0 0 1 4061.2,505.1Z" fill="#4f5b4b"/>
<circle cx="3817.5" cy="491.6" r="24.0" fill="#eda126" stroke="#1a1a1a" stroke-width="1.5"/><path d="M3817.5,491.6L3794.7,499.0A24.0,24.0 0 0 1 3794.7,484.2Z" fill="#d4682a"/><path d="M3817.5,491.6L3794.7,484.2A24.0,24.0 0 0 1 3796.5,480.0Z" fill="#dc2a0e"/><path d="M3817.5,491.6L3796.5,480.0A24.0,24.0 0 0 1 3817.5,467.6Z" fill="#4f5b4b"/>
<circle cx="4160.7" cy="675.3" r="24.0" fill="#d4682a" stroke="#1a1a1a" stroke-width="1.5"/><path d="M4160.7,675.3L4160.7,651.3A24.0,24.0 0 0 1 4172.3,654.3Z" fill="#eda126"/><path d="M4160.7,675.3L4144.3,657.8A24.0,24.0 0 0 1 4150.5,653.6Z" fill="#dc2a0e"/><path d="M4160.7,675.3L4150.5,653.6A24.0,24.0 0 0 1 4160.7,651.3Z" fill="#4f5b4b"/>
<circle cx="4231.4" cy="329.9" r="23.3" fill="#d4682a" stroke="#1a1a1a" stroke-width="1.5"/><path d="M4231.4,329.9L4224.2,352.1A23.3,23.3 0 0 1 4209.2,337.1Z" fill="#dc2a0e"/><path d="M4231.4,329.9L4209.2,337.1A23.3,23.3 0 0 1 4231.4,306.6Z" fill="#4f5b4b"/>
<circle cx="4218.0" cy="579.9" r="23.3" fill="#d4682a" stroke="#1a1a1a" stroke-width="1.5"/><path d="M4218.0,579.9L4218.0,556.6A23.3,23.3 0 0 1 4231.7,561.0Z" fill="#eda126"/><path d="M4218.0,579.9L4204.3,598.8A23.3,23.3 0 0 1 4194.7,579.9Z" fill="#dc2a0e"/><path d="M4218.0,579.9L4194.7,579.9A23.3,23.3 0 0 1 4199.1,566.2Z" fill="#d9308c"/><path d="M4218.0,579.9L4199.1,566.2A23.3,23.3 0 0 1 4218.0,556.6Z" fill="#4f5b4b"/>
<circle cx="4487.8" cy="518.5" r="22.6" fill="#d4682a" stroke="#1a1a1a" stroke-width="1.5"/><path d="M4487.8,518.5L4487.8,495.9A22.6,22.6 0 0 1 4510.4,518.5Z" fill="#eda126"/><path d="M4487.8,518.5L4465.2,518.5A22.6,22.6 0 0 1 4466.3,511.5Z" fill="#dc2a0e"/><path d="M4487.8,518.5L4466.3,511.5A22.6,22.6 0 0 1 4474.5,500.2Z" fill="#d9308c"/><path d="M4487.8,518.5L4474.5,500.2A22.6,22.6 0 0 1 4487.8,495.9Z" fill="#4f5b4b"/>
<circle cx="3659.3" cy="365.2" r="21.9" fill="#d4682a" stroke="#1a1a1a" stroke-width="1.5"/><path d="M3659.3,365.2L3659.3,343.3A21.9,21.9 0 0 1 3677.0,378.1Z" fill="#eda126"/><path d="M3659.3,365.2L3646.4,347.5A21.9,21.9 0 0 1 3659.3,343.3Z" fill="#dc2a0e"/>
<circle cx="4067.5" cy="758.6" r="21.9" fill="#d4682a" stroke="#1a1a1a" stroke-width="1.5"/><path d="M4067.5,758.6L4067.5,736.7A21.9,21.9 0 0 1 4085.2,771.5Z" fill="#eda126"/><path d="M4067.5,758.6L4054.6,740.9A21.9,21.9 0 0 1 4067.5,736.7Z" fill="#dc2a0e"/>
<circle cx="4771.7" cy="723.3" r="21.9" fill="#d4682a" stroke="#1a1a1a" stroke-width="1.5"/><path d="M4771.7,723.3L4771.7,701.4A21.9,21.9 0 0 1 4784.6,705.6Z" fill="#eda126"/><path d="M4771.7,723.3L4750.9,730.1A21.9,21.9 0 0 1 4771.7,701.4Z" fill="#dc2a0e"/>
<circle cx="4419.3" cy="758.6" r="21.9" fill="#eda126" stroke="#1a1a1a" stroke-width="1.5"/><path d="M4419.3,758.6L4432.2,776.3A21.9,21.9 0 0 1 4406.4,776.3Z" fill="#d4682a"/><path d="M4419.3,758.6L4406.4,776.3A21.9,21.9 0 0 1 4419.3,736.7Z" fill="#dc2a0e"/>
<circle cx="3862.7" cy="347.5" r="21.2" fill="#dc2a0e" stroke="#1a1a1a" stroke-width="1.5"/><path d="M3862.7,347.5L3862.7,326.3A21.2,21.2 0 0 1 3875.2,330.3Z" fill="#eda126"/><path d="M3862.7,347.5L3875.2,330.3A21.2,21.2 0 0 1 3875.2,364.7Z" fill="#d4682a"/>
<circle cx="4200.3" cy="459.9" r="21.2" fill="#d4682a" stroke="#1a1a1a" stroke-width="1.5"/><path d="M4200.3,459.9L4200.3,438.7A21.2,21.2 0 0 1 4212.8,442.7Z" fill="#eda126"/><path d="M4200.3,459.9L4206.9,480.1A21.2,21.2 0 0 1 4179.1,459.9Z" fill="#dc2a0e"/><path d="M4200.3,459.9L4179.1,459.9A21.2,21.2 0 0 1 4183.1,447.4Z" fill="#d9308c"/><path d="M4200.3,459.9L4183.1,447.4A21.2,21.2 0 0 1 4200.3,438.7Z" fill="#4f5b4b"/>
<circle cx="3953.1" cy="746.6" r="20.5" fill="#d4682a" stroke="#1a1a1a" stroke-width="1.5"/><path d="M3953.1,746.6L3953.1,726.1A20.5,20.5 0 0 1 3965.1,730.0Z" fill="#eda126"/><path d="M3953.1,746.6L3933.6,752.9A20.5,20.5 0 0 1 3953.1,726.1Z" fill="#dc2a0e"/>
<circle cx="3831.6" cy="771.3" r="20.5" fill="#d4682a" stroke="#1a1a1a" stroke-width="1.5"/><path d="M3831.6,771.3L3831.6,750.8A20.5,20.5 0 0 1 3837.9,751.8Z" fill="#eda126"/><path d="M3831.6,771.3L3811.1,771.3A20.5,20.5 0 0 1 3815.0,759.3Z" fill="#dc2a0e"/><path d="M3831.6,771.3L3815.0,759.3A20.5,20.5 0 0 1 3831.6,750.8Z" fill="#d9308c"/>
<circle cx="4275.9" cy="763.6" r="20.5" fill="#d4682a" stroke="#1a1a1a" stroke-width="1.5"/><path d="M4275.9,763.6L4275.9,743.1A20.5,20.5 0 0 1 4292.5,775.6Z" fill="#eda126"/><path d="M4275.9,763.6L4263.9,747.0A20.5,20.5 0 0 1 4275.9,743.1Z" fill="#dc2a0e"/>
<circle cx="4290.0" cy="373.7" r="19.8" fill="#dc2a0e" stroke="#1a1a1a" stroke-width="1.5"/><path d="M4290.0,373.7L4290.0,353.9A19.8,19.8 0 0 1 4301.6,357.7Z" fill="#eda126"/><path d="M4290.0,373.7L4301.6,357.7A19.8,19.8 0 0 1 4301.6,389.7Z" fill="#d4682a"/>
<circle cx="3792.0" cy="664.7" r="19.8" fill="#d4682a" stroke="#1a1a1a" stroke-width="1.5"/><path d="M3792.0,664.7L3792.0,644.9A19.8,19.8 0 0 1 3798.1,645.9Z" fill="#eda126"/><path d="M3792.0,664.7L3772.2,664.7A19.8,19.8 0 0 1 3776.0,653.1Z" fill="#dc2a0e"/><path d="M3792.0,664.7L3776.0,653.1A19.8,19.8 0 0 1 3792.0,644.9Z" fill="#d9308c"/>
<circle cx="3809.7" cy="294.6" r="19.1" fill="#d4682a" stroke="#1a1a1a" stroke-width="1.5"/><path d="M3809.7,294.6L3809.7,275.5A19.1,19.1 0 0 1 3825.2,305.8Z" fill="#eda126"/><path d="M3809.7,294.6L3798.5,279.1A19.1,19.1 0 0 1 3809.7,275.5Z" fill="#dc2a0e"/>
<circle cx="4113.4" cy="329.2" r="19.1" fill="#eda126" stroke="#1a1a1a" stroke-width="1.5"/><path d="M4113.4,329.2L4102.2,344.7A19.1,19.1 0 0 1 4095.2,323.3Z" fill="#d4682a"/><path d="M4113.4,329.2L4095.2,323.3A19.1,19.1 0 0 1 4097.9,318.0Z" fill="#dc2a0e"/><path d="M4113.4,329.2L4097.9,318.0A19.1,19.1 0 0 1 4113.4,310.1Z" fill="#d9308c"/>
<circle cx="3966.5" cy="557.3" r="19.1" fill="#d4682a" stroke="#1a1a1a" stroke-width="1.5"/><path d="M3966.5,557.3L3966.5,538.2A19.1,19.1 0 0 1 3982.0,568.5Z" fill="#eda126"/><path d="M3966.5,557.3L3955.3,541.8A19.1,19.1 0 0 1 3966.5,538.2Z" fill="#dc2a0e"/>
<circle cx="3952.4" cy="613.8" r="19.1" fill="#eda126" stroke="#1a1a1a" stroke-width="1.5"/><path d="M3952.4,613.8L3934.2,619.7A19.1,19.1 0 0 1 3946.5,595.6Z" fill="#d4682a"/><path d="M3952.4,613.8L3946.5,595.6A19.1,19.1 0 0 1 3952.4,594.7Z" fill="#dc2a0e"/>
<circle cx="4874.1" cy="645.6" r="19.1" fill="#d4682a" stroke="#1a1a1a" stroke-width="1.5"/><path d="M4874.1,645.6L4874.1,626.5A19.1,19.1 0 0 1 4885.3,630.1Z" fill="#eda126"/><path d="M4874.1,645.6L4855.9,651.5A19.1,19.1 0 0 1 4874.1,626.5Z" fill="#dc2a0e"/>
<circle cx="4413.6" cy="873.8" r="19.1" fill="#eda126" stroke="#1a1a1a" stroke-width="1.5"/><path d="M4413.6,873.8L4402.4,889.3A19.1,19.1 0 0 1 4395.4,867.9Z" fill="#d4682a"/><path d="M4413.6,873.8L4395.4,867.9A19.1,19.1 0 0 1 4398.1,862.6Z" fill="#dc2a0e"/><path d="M4413.6,873.8L4398.1,862.6A19.1,19.1 0 0 1 4413.6,854.7Z" fill="#d9308c"/>
<circle cx="4207.4" cy="384.3" r="18.4" fill="#d4682a" stroke="#1a1a1a" stroke-width="1.5"/><path d="M4207.4,384.3L4207.4,365.9A18.4,18.4 0 0 1 4214.2,367.2Z" fill="#eda126"/><path d="M4207.4,384.3L4194.8,370.9A18.4,18.4 0 0 1 4207.4,365.9Z" fill="#dc2a0e"/>
<circle cx="4339.4" cy="469.7" r="18.4" fill="#dc2a0e" stroke="#1a1a1a" stroke-width="1.5"/><path d="M4339.4,469.7L4339.4,451.3A18.4,18.4 0 0 1 4350.2,454.8Z" fill="#eda126"/><path d="M4339.4,469.7L4350.2,454.8A18.4,18.4 0 0 1 4350.2,484.6Z" fill="#d4682a"/>
<circle cx="4025.1" cy="658.3" r="18.4" fill="#d4682a" stroke="#1a1a1a" stroke-width="1.5"/><path d="M4025.1,658.3L4025.1,639.9A18.4,18.4 0 0 1 4030.8,640.8Z" fill="#eda126"/><path d="M4025.1,658.3L4006.7,658.3A18.4,18.4 0 0 1 4010.2,647.5Z" fill="#dc2a0e"/><path d="M4025.1,658.3L4010.2,647.5A18.4,18.4 0 0 1 4025.1,639.9Z" fill="#d9308c"/>
<circle cx="4121.9" cy="875.2" r="18.4" fill="#eda126" stroke="#1a1a1a" stroke-width="1.5"/><path d="M4121.9,875.2L4132.7,890.1A18.4,18.4 0 0 1 4111.1,890.1Z" fill="#d4682a"/><path d="M4121.9,875.2L4111.1,890.1A18.4,18.4 0 0 1 4121.9,856.8Z" fill="#dc2a0e"/>
<circle cx="3936.8" cy="260.7" r="17.7" fill="#eda126" stroke="#1a1a1a" stroke-width="1.5"/><path d="M3936.8,260.7L3947.2,275.0A17.7,17.7 0 0 1 3926.4,275.0Z" fill="#d4682a"/><path d="M3936.8,260.7L3926.4,275.0A17.7,17.7 0 0 1 3936.8,243.0Z" fill="#dc2a0e"/>
<circle cx="4167.8" cy="407.6" r="17.7" fill="#dc2a0e" stroke="#1a1a1a" stroke-width="1.5"/><path d="M4167.8,407.6L4167.8,389.9A17.7,17.7 0 0 1 4173.3,390.8Z" fill="#eda126"/><path d="M4167.8,407.6L4173.3,390.8A17.7,17.7 0 0 1 4184.6,402.1Z" fill="#d4682a"/>
<circle cx="3813.2" cy="555.9" r="17.7" fill="#d4682a" stroke="#1a1a1a" stroke-width="1.5"/><path d="M3813.2,555.9L3813.2,538.2A17.7,17.7 0 0 1 3827.5,566.3Z" fill="#eda126"/><path d="M3813.2,555.9L3802.8,541.6A17.7,17.7 0 0 1 3813.2,538.2Z" fill="#dc2a0e"/>
<circle cx="4569.0" cy="801.0" r="17.7" fill="#d4682a" stroke="#1a1a1a" stroke-width="1.5"/><path d="M4569.0,801.0L4569.0,783.3A17.7,17.7 0 0 1 4572.3,783.6Z" fill="#eda126"/><path d="M4569.0,801.0L4556.1,813.1A17.7,17.7 0 0 1 4551.4,803.2Z" fill="#dc2a0e"/><path d="M4569.0,801.0L4551.4,803.2A17.7,17.7 0 0 1 4569.0,783.3Z" fill="#4f5b4b"/>
<circle cx="4446.8" cy="905.5" r="17.7" fill="#d4682a" stroke="#1a1a1a" stroke-width="1.5"/><path d="M4446.8,905.5L4446.8,887.8A17.7,17.7 0 0 1 4461.1,915.9Z" fill="#eda126"/><path d="M4446.8,905.5L4436.4,891.2A17.7,17.7 0 0 1 4446.8,887.8Z" fill="#dc2a0e"/>
<circle cx="3698.8" cy="319.3" r="17.0" fill="#d4682a" stroke="#1a1a1a" stroke-width="1.5"/><path d="M3698.8,319.3L3698.8,302.3A17.0,17.0 0 0 1 3704.1,303.1Z" fill="#eda126"/><path d="M3698.8,319.3L3681.8,319.3A17.0,17.0 0 0 1 3685.0,309.3Z" fill="#dc2a0e"/><path d="M3698.8,319.3L3685.0,309.3A17.0,17.0 0 0 1 3698.8,302.3Z" fill="#d9308c"/>
<circle cx="4404.4" cy="564.4" r="17.0" fill="#d4682a" stroke="#1a1a1a" stroke-width="1.5"/><path d="M4404.4,564.4L4404.4,547.4A17.0,17.0 0 0 1 4414.4,550.6Z" fill="#eda126"/><path d="M4404.4,564.4L4388.2,569.7A17.0,17.0 0 0 1 4404.4,547.4Z" fill="#dc2a0e"/>
<circle cx="4323.9" cy="594.1" r="17.0" fill="#eda126" stroke="#1a1a1a" stroke-width="1.5"/><path d="M4323.9,594.1L4333.9,607.9A17.0,17.0 0 0 1 4313.9,607.9Z" fill="#d4682a"/><path d="M4323.9,594.1L4313.9,607.9A17.0,17.0 0 0 1 4323.9,577.1Z" fill="#dc2a0e"/>
<circle cx="4593.7" cy="536.1" r="16.2" fill="#d4682a" stroke="#1a1a1a" stroke-width="1.5"/><path d="M4593.7,536.1L4593.7,519.9A16.2,16.2 0 0 1 4603.2,523.0Z" fill="#eda126"/><path d="M4593.7,536.1L4578.3,541.1A16.2,16.2 0 0 1 4593.7,519.9Z" fill="#dc2a0e"/>
<circle cx="4764.6" cy="551.7" r="16.2" fill="#d4682a" stroke="#1a1a1a" stroke-width="1.5"/><path d="M4764.6,551.7L4764.6,535.5A16.2,16.2 0 0 1 4777.7,561.2Z" fill="#eda126"/><path d="M4764.6,551.7L4755.1,538.6A16.2,16.2 0 0 1 4764.6,535.5Z" fill="#dc2a0e"/>
<circle cx="3790.6" cy="909.1" r="16.2" fill="#d4682a" stroke="#1a1a1a" stroke-width="1.5"/><path d="M3790.6,909.1L3790.6,892.9A16.2,16.2 0 0 1 3800.1,896.0Z" fill="#eda126"/><path d="M3790.6,909.1L3775.2,914.1A16.2,16.2 0 0 1 3790.6,892.9Z" fill="#dc2a0e"/>
<circle cx="4524.5" cy="887.9" r="16.2" fill="#d4682a" stroke="#1a1a1a" stroke-width="1.5"/><path d="M4524.5,887.9L4524.5,871.7A16.2,16.2 0 0 1 4534.0,874.8Z" fill="#eda126"/><path d="M4524.5,887.9L4509.1,892.9A16.2,16.2 0 0 1 4524.5,871.7Z" fill="#dc2a0e"/>
<circle cx="4276.6" cy="937.3" r="16.2" fill="#d4682a" stroke="#1a1a1a" stroke-width="1.5"/><path d="M4276.6,937.3L4276.6,921.1A16.2,16.2 0 0 1 4279.6,921.4Z" fill="#eda126"/><path d="M4276.6,937.3L4264.8,948.4A16.2,16.2 0 0 1 4260.5,939.3Z" fill="#dc2a0e"/><path d="M4276.6,937.3L4260.5,939.3A16.2,16.2 0 0 1 4276.6,921.1Z" fill="#4f5b4b"/>
<circle cx="4468.7" cy="970.5" r="16.2" fill="#d4682a" stroke="#1a1a1a" stroke-width="1.5"/><path d="M4468.7,970.5L4468.7,954.3A16.2,16.2 0 0 1 4481.8,980.0Z" fill="#eda126"/><path d="M4468.7,970.5L4459.2,957.4A16.2,16.2 0 0 1 4468.7,954.3Z" fill="#dc2a0e"/>
<circle cx="4067.5" cy="276.2" r="15.5" fill="#dc2a0e" stroke="#1a1a1a" stroke-width="1.5"/><path d="M4067.5,276.2L4067.5,260.7A15.5,15.5 0 0 1 4072.3,261.5Z" fill="#eda126"/><path d="M4067.5,276.2L4072.3,261.5A15.5,15.5 0 0 1 4082.2,271.4Z" fill="#d4682a"/>
<circle cx="3722.8" cy="365.2" r="15.5" fill="#d4682a" stroke="#1a1a1a" stroke-width="1.5"/><path d="M3722.8,365.2L3722.8,349.7A15.5,15.5 0 0 1 3727.6,350.5Z" fill="#eda126"/><path d="M3722.8,365.2L3707.3,365.2A15.5,15.5 0 0 1 3710.3,356.1Z" fill="#dc2a0e"/><path d="M3722.8,365.2L3710.3,356.1A15.5,15.5 0 0 1 3722.8,349.7Z" fill="#d9308c"/>
<circle cx="3940.4" cy="477.5" r="15.5" fill="#eda126" stroke="#1a1a1a" stroke-width="1.5"/><path d="M3940.4,477.5L3931.3,490.0A15.5,15.5 0 0 1 3925.7,472.7Z" fill="#d4682a"/><path d="M3940.4,477.5L3925.7,472.7A15.5,15.5 0 0 1 3927.9,468.4Z" fill="#dc2a0e"/><path d="M3940.4,477.5L3927.9,468.4A15.5,15.5 0 0 1 3940.4,462.0Z" fill="#d9308c"/>
<circle cx="3723.5" cy="610.3" r="15.5" fill="#d4682a" stroke="#1a1a1a" stroke-width="1.5"/><path d="M3723.5,610.3L3723.5,594.8A15.5,15.5 0 0 1 3736.0,619.4Z" fill="#eda126"/><path d="M3723.5,610.3L3714.4,597.8A15.5,15.5 0 0 1 3723.5,594.8Z" fill="#dc2a0e"/>
<circle cx="4242.7" cy="692.9" r="15.5" fill="#d4682a" stroke="#1a1a1a" stroke-width="1.5"/><path d="M4242.7,692.9L4242.7,677.4A15.5,15.5 0 0 1 4247.5,678.2Z" fill="#eda126"/><path d="M4242.7,692.9L4227.2,692.9A15.5,15.5 0 0 1 4230.2,683.8Z" fill="#dc2a0e"/><path d="M4242.7,692.9L4230.2,683.8A15.5,15.5 0 0 1 4242.7,677.4Z" fill="#d9308c"/>
<circle cx="4664.3" cy="683.0" r="15.5" fill="#d4682a" stroke="#1a1a1a" stroke-width="1.5"/><path d="M4664.3,683.0L4664.3,667.5A15.5,15.5 0 0 1 4676.8,692.1Z" fill="#eda126"/><path d="M4664.3,683.0L4655.2,670.5A15.5,15.5 0 0 1 4664.3,667.5Z" fill="#dc2a0e"/>
<circle cx="4896.0" cy="678.8" r="15.5" fill="#d4682a" stroke="#1a1a1a" stroke-width="1.5"/><path d="M4896.0,678.8L4896.0,663.3A15.5,15.5 0 0 1 4908.5,687.9Z" fill="#eda126"/><path d="M4896.0,678.8L4886.9,666.3A15.5,15.5 0 0 1 4896.0,663.3Z" fill="#dc2a0e"/>
<circle cx="3765.9" cy="810.2" r="15.5" fill="#dc2a0e" stroke="#1a1a1a" stroke-width="1.5"/><path d="M3765.9,810.2L3765.9,794.7A15.5,15.5 0 0 1 3775.0,797.7Z" fill="#eda126"/><path d="M3765.9,810.2L3775.0,797.7A15.5,15.5 0 0 1 3775.0,822.7Z" fill="#d4682a"/>
<circle cx="4102.8" cy="396.3" r="14.8" fill="#d4682a" stroke="#1a1a1a" stroke-width="1.5"/><path d="M4102.8,396.3L4102.8,381.5A14.8,14.8 0 0 1 4105.6,381.8Z" fill="#eda126"/><path d="M4102.8,396.3L4092.0,406.4A14.8,14.8 0 0 1 4088.1,398.2Z" fill="#dc2a0e"/><path d="M4102.8,396.3L4088.1,398.2A14.8,14.8 0 0 1 4102.8,381.5Z" fill="#4f5b4b"/>
<circle cx="4685.5" cy="558.7" r="14.8" fill="#d4682a" stroke="#1a1a1a" stroke-width="1.5"/><path d="M4685.5,558.7L4685.5,543.9A14.8,14.8 0 0 1 4690.1,544.6Z" fill="#eda126"/><path d="M4685.5,558.7L4670.7,558.7A14.8,14.8 0 0 1 4673.5,550.0Z" fill="#dc2a0e"/><path d="M4685.5,558.7L4673.5,550.0A14.8,14.8 0 0 1 4685.5,543.9Z" fill="#d9308c"/>
<circle cx="4602.2" cy="926.0" r="14.8" fill="#dc2a0e" stroke="#1a1a1a" stroke-width="1.5"/><path d="M4602.2,926.0L4602.2,911.2A14.8,14.8 0 0 1 4610.9,914.0Z" fill="#eda126"/><path d="M4602.2,926.0L4610.9,914.0A14.8,14.8 0 0 1 4610.9,938.0Z" fill="#d4682a"/>
<circle cx="3433.9" cy="488.8" r="14.1" fill="#d4682a" stroke="#1a1a1a" stroke-width="1.5"/><path d="M3433.9,488.8L3433.9,474.7A14.1,14.1 0 0 1 3438.3,475.4Z" fill="#eda126"/><path d="M3433.9,488.8L3419.8,488.8A14.1,14.1 0 0 1 3422.5,480.5Z" fill="#dc2a0e"/><path d="M3433.9,488.8L3422.5,480.5A14.1,14.1 0 0 1 3433.9,474.7Z" fill="#d9308c"/>
<circle cx="3573.1" cy="471.2" r="14.1" fill="#d4682a" stroke="#1a1a1a" stroke-width="1.5"/><path d="M3573.1,471.2L3573.1,457.1A14.1,14.1 0 0 1 3578.3,458.1Z" fill="#eda126"/><path d="M3573.1,471.2L3563.4,460.9A14.1,14.1 0 0 1 3573.1,457.1Z" fill="#dc2a0e"/>
<circle cx="4842.3" cy="573.6" r="14.1" fill="#d4682a" stroke="#1a1a1a" stroke-width="1.5"/><path d="M4842.3,573.6L4842.3,559.5A14.1,14.1 0 0 1 4847.5,560.5Z" fill="#eda126"/><path d="M4842.3,573.6L4832.6,563.3A14.1,14.1 0 0 1 4842.3,559.5Z" fill="#dc2a0e"/>
<circle cx="3961.6" cy="813.0" r="14.1" fill="#eda126" stroke="#1a1a1a" stroke-width="1.5"/><path d="M3961.6,813.0L3969.9,824.4A14.1,14.1 0 0 1 3953.3,824.4Z" fill="#d4682a"/><path d="M3961.6,813.0L3953.3,824.4A14.1,14.1 0 0 1 3961.6,798.9Z" fill="#dc2a0e"/>
<circle cx="3989.8" cy="908.4" r="14.1" fill="#dc2a0e" stroke="#1a1a1a" stroke-width="1.5"/><path d="M3989.8,908.4L3989.8,894.3A14.1,14.1 0 0 1 3998.1,897.0Z" fill="#eda126"/><path d="M3989.8,908.4L3998.1,897.0A14.1,14.1 0 0 1 3998.1,919.8Z" fill="#d4682a"/>
<circle cx="3928.4" cy="225.4" r="13.4" fill="#eda126" stroke="#1a1a1a" stroke-width="1.5"/><path d="M3928.4,225.4L3915.7,229.5A13.4,13.4 0 0 1 3924.3,212.7Z" fill="#d4682a"/><path d="M3928.4,225.4L3924.3,212.7A13.4,13.4 0 0 1 3928.4,212.0Z" fill="#dc2a0e"/>
<circle cx="4060.4" cy="211.2" r="13.4" fill="#dc2a0e" stroke="#1a1a1a" stroke-width="1.5"/><path d="M4060.4,211.2L4060.4,197.8A13.4,13.4 0 0 1 4064.5,198.5Z" fill="#eda126"/><path d="M4060.4,211.2L4064.5,198.5A13.4,13.4 0 0 1 4073.1,207.1Z" fill="#d4682a"/>
<circle cx="4064.7" cy="333.4" r="13.4" fill="#dc2a0e" stroke="#1a1a1a" stroke-width="1.5"/><path d="M4064.7,333.4L4064.7,320.0A13.4,13.4 0 0 1 4072.6,322.6Z" fill="#eda126"/><path d="M4064.7,333.4L4072.6,322.6A13.4,13.4 0 0 1 4072.6,344.2Z" fill="#d4682a"/>
<circle cx="4304.1" cy="433.7" r="13.4" fill="#d4682a" stroke="#1a1a1a" stroke-width="1.5"/><path d="M4304.1,433.7L4304.1,420.3A13.4,13.4 0 0 1 4309.0,421.2Z" fill="#eda126"/><path d="M4304.1,433.7L4294.9,423.9A13.4,13.4 0 0 1 4304.1,420.3Z" fill="#dc2a0e"/>
<circle cx="3820.3" cy="442.9" r="13.4" fill="#d4682a" stroke="#1a1a1a" stroke-width="1.5"/><path d="M3820.3,442.9L3820.3,429.5A13.4,13.4 0 0 1 3828.2,432.1Z" fill="#eda126"/><path d="M3820.3,442.9L3807.6,447.0A13.4,13.4 0 0 1 3820.3,429.5Z" fill="#dc2a0e"/>
<circle cx="3735.5" cy="502.9" r="13.4" fill="#d4682a" stroke="#1a1a1a" stroke-width="1.5"/><path d="M3735.5,502.9L3735.5,489.5A13.4,13.4 0 0 1 3743.4,492.1Z" fill="#eda126"/><path d="M3735.5,502.9L3722.8,507.0A13.4,13.4 0 0 1 3735.5,489.5Z" fill="#dc2a0e"/>
<circle cx="4378.3" cy="512.1" r="13.4" fill="#dc2a0e" stroke="#1a1a1a" stroke-width="1.5"/><path d="M4378.3,512.1L4378.3,498.7A13.4,13.4 0 0 1 4386.2,501.3Z" fill="#eda126"/><path d="M4378.3,512.1L4386.2,501.3A13.4,13.4 0 0 1 4386.2,522.9Z" fill="#d4682a"/>
<circle cx="4574.6" cy="615.9" r="13.4" fill="#d4682a" stroke="#1a1a1a" stroke-width="1.5"/><path d="M4574.6,615.9L4574.6,602.5A13.4,13.4 0 0 1 4579.5,603.4Z" fill="#eda126"/><path d="M4574.6,615.9L4565.4,606.1A13.4,13.4 0 0 1 4574.6,602.5Z" fill="#dc2a0e"/>
<circle cx="4371.2" cy="635.7" r="13.4" fill="#d4682a" stroke="#1a1a1a" stroke-width="1.5"/><path d="M4371.2,635.7L4371.2,622.3A13.4,13.4 0 0 1 4379.1,624.9Z" fill="#eda126"/><path d="M4371.2,635.7L4358.5,639.8A13.4,13.4 0 0 1 4371.2,622.3Z" fill="#dc2a0e"/>
<circle cx="3664.9" cy="635.7" r="13.4" fill="#dc2a0e" stroke="#1a1a1a" stroke-width="1.5"/><path d="M3664.9,635.7L3664.9,622.3A13.4,13.4 0 0 1 3669.0,623.0Z" fill="#eda126"/><path d="M3664.9,635.7L3669.0,623.0A13.4,13.4 0 0 1 3677.6,631.6Z" fill="#d4682a"/>
<circle cx="3822.4" cy="843.4" r="13.4" fill="#d4682a" stroke="#1a1a1a" stroke-width="1.5"/><path d="M3822.4,843.4L3822.4,830.0A13.4,13.4 0 0 1 3826.5,830.7Z" fill="#eda126"/><path d="M3822.4,843.4L3809.0,843.4A13.4,13.4 0 0 1 3811.6,835.5Z" fill="#dc2a0e"/><path d="M3822.4,843.4L3811.6,835.5A13.4,13.4 0 0 1 3822.4,830.0Z" fill="#d9308c"/>
<circle cx="3901.5" cy="193.6" r="12.7" fill="#d4682a" stroke="#1a1a1a" stroke-width="1.5"/><path d="M3901.5,193.6L3901.5,180.9A12.7,12.7 0 0 1 3903.9,181.1Z" fill="#eda126"/><path d="M3901.5,193.6L3892.2,202.3A12.7,12.7 0 0 1 3888.9,195.2Z" fill="#dc2a0e"/><path d="M3901.5,193.6L3888.9,195.2A12.7,12.7 0 0 1 3901.5,180.9Z" fill="#4f5b4b"/>
<circle cx="4001.8" cy="401.9" r="12.7" fill="#d4682a" stroke="#1a1a1a" stroke-width="1.5"/><path d="M4001.8,401.9L4001.8,389.2A12.7,12.7 0 0 1 4012.1,409.4Z" fill="#eda126"/><path d="M4001.8,401.9L3994.3,391.6A12.7,12.7 0 0 1 4001.8,389.2Z" fill="#dc2a0e"/>
<circle cx="4297.1" cy="551.7" r="12.7" fill="#d4682a" stroke="#1a1a1a" stroke-width="1.5"/><path d="M4297.1,551.7L4297.1,539.0A12.7,12.7 0 0 1 4307.4,559.2Z" fill="#eda126"/><path d="M4297.1,551.7L4289.6,541.4A12.7,12.7 0 0 1 4297.1,539.0Z" fill="#dc2a0e"/>
<circle cx="3556.8" cy="613.8" r="12.7" fill="#eda126" stroke="#1a1a1a" stroke-width="1.5"/><path d="M3556.8,613.8L3549.3,624.1A12.7,12.7 0 0 1 3544.7,609.9Z" fill="#d4682a"/><path d="M3556.8,613.8L3544.7,609.9A12.7,12.7 0 0 1 3546.5,606.3Z" fill="#dc2a0e"/><path d="M3556.8,613.8L3546.5,606.3A12.7,12.7 0 0 1 3556.8,601.1Z" fill="#d9308c"/>
<circle cx="4185.5" cy="633.6" r="12.7" fill="#d4682a" stroke="#1a1a1a" stroke-width="1.5"/><path d="M4185.5,633.6L4185.5,620.9A12.7,12.7 0 0 1 4193.0,623.3Z" fill="#eda126"/><path d="M4185.5,633.6L4173.4,637.5A12.7,12.7 0 0 1 4185.5,620.9Z" fill="#dc2a0e"/>
<circle cx="4496.9" cy="647.7" r="12.7" fill="#d4682a" stroke="#1a1a1a" stroke-width="1.5"/><path d="M4496.9,647.7L4496.9,635.0A12.7,12.7 0 0 1 4501.6,635.9Z" fill="#eda126"/><path d="M4496.9,647.7L4488.2,638.4A12.7,12.7 0 0 1 4496.9,635.0Z" fill="#dc2a0e"/>
<circle cx="4028.0" cy="721.9" r="12.7" fill="#eda126" stroke="#1a1a1a" stroke-width="1.5"/><path d="M4028.0,721.9L4015.9,725.8A12.7,12.7 0 0 1 4024.1,709.8Z" fill="#d4682a"/><path d="M4028.0,721.9L4024.1,709.8A12.7,12.7 0 0 1 4028.0,709.2Z" fill="#dc2a0e"/>
<circle cx="4097.9" cy="698.6" r="12.7" fill="#dc2a0e" stroke="#1a1a1a" stroke-width="1.5"/><path d="M4097.9,698.6L4097.9,685.9A12.7,12.7 0 0 1 4105.4,688.3Z" fill="#eda126"/><path d="M4097.9,698.6L4105.4,688.3A12.7,12.7 0 0 1 4105.4,708.9Z" fill="#d4682a"/>
<circle cx="4162.9" cy="763.6" r="12.7" fill="#d4682a" stroke="#1a1a1a" stroke-width="1.5"/><path d="M4162.9,763.6L4162.9,750.9A12.7,12.7 0 0 1 4170.4,753.3Z" fill="#eda126"/><path d="M4162.9,763.6L4150.8,767.5A12.7,12.7 0 0 1 4162.9,750.9Z" fill="#dc2a0e"/>
<circle cx="4347.9" cy="857.5" r="12.7" fill="#d4682a" stroke="#1a1a1a" stroke-width="1.5"/><path d="M4347.9,857.5L4347.9,844.8A12.7,12.7 0 0 1 4358.2,865.0Z" fill="#eda126"/><path d="M4347.9,857.5L4340.4,847.2A12.7,12.7 0 0 1 4347.9,844.8Z" fill="#dc2a0e"/>
<circle cx="4331.7" cy="894.2" r="12.7" fill="#eda126" stroke="#1a1a1a" stroke-width="1.5"/><path d="M4331.7,894.2L4319.6,898.1A12.7,12.7 0 0 1 4327.8,882.1Z" fill="#d4682a"/><path d="M4331.7,894.2L4327.8,882.1A12.7,12.7 0 0 1 4331.7,881.5Z" fill="#dc2a0e"/>
<circle cx="4666.5" cy="891.4" r="12.7" fill="#d4682a" stroke="#1a1a1a" stroke-width="1.5"/><path d="M4666.5,891.4L4666.5,878.7A12.7,12.7 0 0 1 4670.4,879.3Z" fill="#eda126"/><path d="M4666.5,891.4L4670.4,903.5A12.7,12.7 0 0 1 4656.2,883.9Z" fill="#dc2a0e"/><path d="M4666.5,891.4L4656.2,883.9A12.7,12.7 0 0 1 4666.5,878.7Z" fill="#d9308c"/>
<circle cx="4518.1" cy="433.7" r="12.0" fill="#d4682a" stroke="#1a1a1a" stroke-width="1.5"/><path d="M4518.1,433.7L4518.1,421.7A12.0,12.0 0 0 1 4520.3,421.9Z" fill="#eda126"/><path d="M4518.1,433.7L4509.4,441.9A12.0,12.0 0 0 1 4506.2,435.2Z" fill="#dc2a0e"/><path d="M4518.1,433.7L4506.2,435.2A12.0,12.0 0 0 1 4518.1,421.7Z" fill="#4f5b4b"/>
<circle cx="3388.0" cy="445.7" r="12.0" fill="#d4682a" stroke="#1a1a1a" stroke-width="1.5"/><path d="M3388.0,445.7L3388.0,433.7A12.0,12.0 0 0 1 3391.7,434.3Z" fill="#eda126"/><path d="M3388.0,445.7L3376.0,445.7A12.0,12.0 0 0 1 3378.3,438.6Z" fill="#dc2a0e"/><path d="M3388.0,445.7L3378.3,438.6A12.0,12.0 0 0 1 3388.0,433.7Z" fill="#d9308c"/>
<circle cx="3994.8" cy="471.9" r="12.0" fill="#d4682a" stroke="#1a1a1a" stroke-width="1.5"/><path d="M3994.8,471.9L3994.8,459.9A12.0,12.0 0 0 1 4004.5,479.0Z" fill="#eda126"/><path d="M3994.8,471.9L3987.7,462.2A12.0,12.0 0 0 1 3994.8,459.9Z" fill="#dc2a0e"/>
<circle cx="3490.4" cy="615.9" r="12.0" fill="#d4682a" stroke="#1a1a1a" stroke-width="1.5"/><path d="M3490.4,615.9L3490.4,603.9A12.0,12.0 0 0 1 3492.6,604.1Z" fill="#eda126"/><path d="M3490.4,615.9L3481.7,624.1A12.0,12.0 0 0 1 3478.5,617.4Z" fill="#dc2a0e"/><path d="M3490.4,615.9L3478.5,617.4A12.0,12.0 0 0 1 3490.4,603.9Z" fill="#4f5b4b"/>
<circle cx="3851.4" cy="620.9" r="12.0" fill="#eda126" stroke="#1a1a1a" stroke-width="1.5"/><path d="M3851.4,620.9L3847.7,609.5A12.0,12.0 0 0 1 3851.4,608.9Z" fill="#d4682a"/>
<circle cx="4321.8" cy="649.1" r="12.0" fill="#dc2a0e" stroke="#1a1a1a" stroke-width="1.5"/><path d="M4321.8,649.1L4321.8,637.1A12.0,12.0 0 0 1 4325.5,637.7Z" fill="#eda126"/><path d="M4321.8,649.1L4325.5,637.7A12.0,12.0 0 0 1 4333.2,645.4Z" fill="#d4682a"/>
<circle cx="3601.3" cy="668.2" r="12.0" fill="#d4682a" stroke="#1a1a1a" stroke-width="1.5"/><path d="M3601.3,668.2L3601.3,656.2A12.0,12.0 0 0 1 3605.7,657.0Z" fill="#eda126"/><path d="M3601.3,668.2L3593.1,659.5A12.0,12.0 0 0 1 3601.3,656.2Z" fill="#dc2a0e"/>
<circle cx="4720.9" cy="668.2" r="12.0" fill="#d4682a" stroke="#1a1a1a" stroke-width="1.5"/><path d="M4720.9,668.2L4720.9,656.2A12.0,12.0 0 0 1 4728.0,658.5Z" fill="#eda126"/><path d="M4720.9,668.2L4709.5,671.9A12.0,12.0 0 0 1 4720.9,656.2Z" fill="#dc2a0e"/>
<circle cx="3554.0" cy="695.1" r="12.0" fill="#d4682a" stroke="#1a1a1a" stroke-width="1.5"/><path d="M3554.0,695.1L3554.0,683.1A12.0,12.0 0 0 1 3556.2,683.3Z" fill="#eda126"/><path d="M3554.0,695.1L3545.3,703.3A12.0,12.0 0 0 1 3542.1,696.6Z" fill="#dc2a0e"/><path d="M3554.0,695.1L3542.1,696.6A12.0,12.0 0 0 1 3554.0,683.1Z" fill="#4f5b4b"/>
<circle cx="3532.8" cy="729.0" r="12.0" fill="#d4682a" stroke="#1a1a1a" stroke-width="1.5"/><path d="M3532.8,729.0L3532.8,717.0A12.0,12.0 0 0 1 3536.5,717.6Z" fill="#eda126"/><path d="M3532.8,729.0L3520.8,729.0A12.0,12.0 0 0 1 3523.1,721.9Z" fill="#dc2a0e"/><path d="M3532.8,729.0L3523.1,721.9A12.0,12.0 0 0 1 3532.8,717.0Z" fill="#d9308c"/>
<circle cx="3626.1" cy="771.3" r="12.0" fill="#d4682a" stroke="#1a1a1a" stroke-width="1.5"/><path d="M3626.1,771.3L3626.1,759.3A12.0,12.0 0 0 1 3629.8,759.9Z" fill="#eda126"/><path d="M3626.1,771.3L3614.1,771.3A12.0,12.0 0 0 1 3616.4,764.2Z" fill="#dc2a0e"/><path d="M3626.1,771.3L3616.4,764.2A12.0,12.0 0 0 1 3626.1,759.3Z" fill="#d9308c"/>
<circle cx="4142.4" cy="832.8" r="12.0" fill="#d4682a" stroke="#1a1a1a" stroke-width="1.5"/><path d="M4142.4,832.8L4142.4,820.8A12.0,12.0 0 0 1 4152.1,839.9Z" fill="#eda126"/><path d="M4142.4,832.8L4135.3,823.1A12.0,12.0 0 0 1 4142.4,820.8Z" fill="#dc2a0e"/>
<circle cx="4614.9" cy="820.1" r="12.0" fill="#dc2a0e" stroke="#1a1a1a" stroke-width="1.5"/><path d="M4614.9,820.1L4614.9,808.1A12.0,12.0 0 0 1 4618.6,808.7Z" fill="#eda126"/><path d="M4614.9,820.1L4618.6,808.7A12.0,12.0 0 0 1 4626.3,816.4Z" fill="#d4682a"/>
<circle cx="4727.9" cy="841.3" r="12.0" fill="#d4682a" stroke="#1a1a1a" stroke-width="1.5"/><path d="M4727.9,841.3L4727.9,829.3A12.0,12.0 0 0 1 4731.6,829.9Z" fill="#eda126"/><path d="M4727.9,841.3L4715.9,841.3A12.0,12.0 0 0 1 4718.2,834.2Z" fill="#dc2a0e"/><path d="M4727.9,841.3L4718.2,834.2A12.0,12.0 0 0 1 4727.9,829.3Z" fill="#d9308c"/>
<circle cx="3995.5" cy="519.2" r="11.3" fill="#d9308c" stroke="#1a1a1a" stroke-width="1.5"/><path d="M3995.5,519.2L3995.5,507.9A11.3,11.3 0 0 1 4006.2,515.7Z" fill="#d4682a"/><path d="M3995.5,519.2L4006.2,515.7A11.3,11.3 0 0 1 4006.2,522.7Z" fill="#dc2a0e"/><path d="M3995.5,519.2L3986.4,525.8A11.3,11.3 0 0 1 3995.5,507.9Z" fill="#4f5b4b"/>
<circle cx="4121.9" cy="578.5" r="11.3" fill="#dc2a0e" stroke="#1a1a1a" stroke-width="1.5"/><path d="M4121.9,578.5L4121.9,567.2A11.3,11.3 0 0 1 4125.4,567.8Z" fill="#eda126"/><path d="M4121.9,578.5L4125.4,567.8A11.3,11.3 0 0 1 4132.6,575.0Z" fill="#d4682a"/>
<circle cx="4683.4" cy="635.7" r="11.3" fill="#d4682a" stroke="#1a1a1a" stroke-width="1.5"/><path d="M4683.4,635.7L4683.4,624.4A11.3,11.3 0 0 1 4687.6,625.2Z" fill="#eda126"/><path d="M4683.4,635.7L4675.7,627.5A11.3,11.3 0 0 1 4683.4,624.4Z" fill="#dc2a0e"/>
<circle cx="4285.1" cy="685.9" r="11.3" fill="#d4682a" stroke="#1a1a1a" stroke-width="1.5"/><path d="M4285.1,685.9L4285.1,674.6A11.3,11.3 0 0 1 4289.3,675.4Z" fill="#eda126"/><path d="M4285.1,685.9L4277.4,677.7A11.3,11.3 0 0 1 4285.1,674.6Z" fill="#dc2a0e"/>
<circle cx="4350.0" cy="762.2" r="11.3" fill="#d4682a" stroke="#1a1a1a" stroke-width="1.5"/><path d="M4350.0,762.2L4350.0,750.9A11.3,11.3 0 0 1 4359.1,768.8Z" fill="#eda126"/><path d="M4350.0,762.2L4343.4,753.1A11.3,11.3 0 0 1 4350.0,750.9Z" fill="#dc2a0e"/>
<circle cx="4401.6" cy="950.7" r="11.3" fill="#d4682a" stroke="#1a1a1a" stroke-width="1.5"/><path d="M4401.6,950.7L4401.6,939.4A11.3,11.3 0 0 1 4410.7,957.3Z" fill="#eda126"/><path d="M4401.6,950.7L4395.0,941.6A11.3,11.3 0 0 1 4401.6,939.4Z" fill="#dc2a0e"/>
<circle cx="4514.6" cy="931.7" r="11.3" fill="#d4682a" stroke="#1a1a1a" stroke-width="1.5"/><path d="M4514.6,931.7L4514.6,920.4A11.3,11.3 0 0 1 4523.7,938.3Z" fill="#eda126"/><path d="M4514.6,931.7L4508.0,922.6A11.3,11.3 0 0 1 4514.6,920.4Z" fill="#dc2a0e"/>
<circle cx="3866.2" cy="259.3" r="10.6" fill="#d9308c" stroke="#1a1a1a" stroke-width="1.5"/>
<circle cx="4177.0" cy="310.1" r="10.6" fill="#d4682a" stroke="#1a1a1a" stroke-width="1.5"/><path d="M4177.0,310.1L4177.0,299.5A10.6,10.6 0 0 1 4180.9,300.2Z" fill="#eda126"/><path d="M4177.0,310.1L4169.7,302.4A10.6,10.6 0 0 1 4177.0,299.5Z" fill="#dc2a0e"/>
<circle cx="4025.1" cy="350.4" r="10.6" fill="#eda126" stroke="#1a1a1a" stroke-width="1.5"/><path d="M4025.1,350.4L4015.0,353.7A10.6,10.6 0 0 1 4021.8,340.3Z" fill="#d4682a"/><path d="M4025.1,350.4L4021.8,340.3A10.6,10.6 0 0 1 4025.1,339.8Z" fill="#dc2a0e"/>
<circle cx="3850.0" cy="395.6" r="10.6" fill="#d4682a" stroke="#1a1a1a" stroke-width="1.5"/><path d="M3850.0,395.6L3850.0,385.0A10.6,10.6 0 0 1 3856.2,387.0Z" fill="#eda126"/><path d="M3850.0,395.6L3839.9,398.9A10.6,10.6 0 0 1 3850.0,385.0Z" fill="#dc2a0e"/>
<circle cx="3550.5" cy="407.6" r="10.6" fill="#d4682a" stroke="#1a1a1a" stroke-width="1.5"/><path d="M3550.5,407.6L3550.5,397.0A10.6,10.6 0 0 1 3552.5,397.2Z" fill="#eda126"/><path d="M3550.5,407.6L3542.8,414.9A10.6,10.6 0 0 1 3540.0,408.9Z" fill="#dc2a0e"/><path d="M3550.5,407.6L3540.0,408.9A10.6,10.6 0 0 1 3550.5,397.0Z" fill="#4f5b4b"/>
<circle cx="3758.8" cy="413.9" r="10.6" fill="#d4682a" stroke="#1a1a1a" stroke-width="1.5"/><path d="M3758.8,413.9L3758.8,403.3A10.6,10.6 0 0 1 3762.7,404.0Z" fill="#eda126"/><path d="M3758.8,413.9L3751.5,406.2A10.6,10.6 0 0 1 3758.8,403.3Z" fill="#dc2a0e"/>
<circle cx="3919.2" cy="444.3" r="10.6" fill="#d4682a" stroke="#1a1a1a" stroke-width="1.5"/><path d="M3919.2,444.3L3919.2,433.7A10.6,10.6 0 0 1 3927.8,450.5Z" fill="#eda126"/><path d="M3919.2,444.3L3913.0,435.7A10.6,10.6 0 0 1 3919.2,433.7Z" fill="#dc2a0e"/>
<circle cx="3660.0" cy="467.6" r="10.6" fill="#d4682a" stroke="#1a1a1a" stroke-width="1.5"/><path d="M3660.0,467.6L3660.0,457.0A10.6,10.6 0 0 1 3666.2,459.0Z" fill="#eda126"/><path d="M3660.0,467.6L3649.9,470.9A10.6,10.6 0 0 1 3660.0,457.0Z" fill="#dc2a0e"/>
<circle cx="4350.0" cy="541.1" r="10.6" fill="#d9308c" stroke="#1a1a1a" stroke-width="1.5"/><path d="M4350.0,541.1L4350.0,530.5A10.6,10.6 0 0 1 4360.1,537.8Z" fill="#d4682a"/><path d="M4350.0,541.1L4360.1,537.8A10.6,10.6 0 0 1 4360.1,544.4Z" fill="#dc2a0e"/><path d="M4350.0,541.1L4341.4,547.3A10.6,10.6 0 0 1 4350.0,530.5Z" fill="#4f5b4b"/>
<circle cx="4457.4" cy="575.0" r="10.6" fill="#d4682a" stroke="#1a1a1a" stroke-width="1.5"/><path d="M4457.4,575.0L4457.4,564.4A10.6,10.6 0 0 1 4466.0,581.2Z" fill="#eda126"/><path d="M4457.4,575.0L4451.2,566.4A10.6,10.6 0 0 1 4457.4,564.4Z" fill="#dc2a0e"/>
<circle cx="4818.3" cy="577.1" r="10.6" fill="#d4682a" stroke="#1a1a1a" stroke-width="1.5"/><path d="M4818.3,577.1L4818.3,566.5A10.6,10.6 0 0 1 4822.2,567.2Z" fill="#eda126"/><path d="M4818.3,577.1L4811.0,569.4A10.6,10.6 0 0 1 4818.3,566.5Z" fill="#dc2a0e"/>
<circle cx="4064.7" cy="592.6" r="10.6" fill="#dc2a0e" stroke="#1a1a1a" stroke-width="1.5"/><path d="M4064.7,592.6L4064.7,582.0A10.6,10.6 0 0 1 4068.0,582.5Z" fill="#eda126"/><path d="M4064.7,592.6L4068.0,582.5A10.6,10.6 0 0 1 4074.8,589.3Z" fill="#d4682a"/>
<circle cx="4518.1" cy="606.8" r="10.6" fill="#d4682a" stroke="#1a1a1a" stroke-width="1.5"/><path d="M4518.1,606.8L4518.1,596.2A10.6,10.6 0 0 1 4526.7,613.0Z" fill="#eda126"/><path d="M4518.1,606.8L4511.9,598.2A10.6,10.6 0 0 1 4518.1,596.2Z" fill="#dc2a0e"/>
<circle cx="4466.6" cy="613.8" r="10.6" fill="#dc2a0e" stroke="#1a1a1a" stroke-width="1.5"/><path d="M4466.6,613.8L4466.6,603.2A10.6,10.6 0 0 1 4469.9,603.7Z" fill="#eda126"/><path d="M4466.6,613.8L4469.9,603.7A10.6,10.6 0 0 1 4476.7,610.5Z" fill="#d4682a"/>
<circle cx="4729.3" cy="617.4" r="10.6" fill="#d4682a" stroke="#1a1a1a" stroke-width="1.5"/><path d="M4729.3,617.4L4729.3,606.8A10.6,10.6 0 0 1 4733.2,607.5Z" fill="#eda126"/><path d="M4729.3,617.4L4722.0,609.7A10.6,10.6 0 0 1 4729.3,606.8Z" fill="#dc2a0e"/>
<circle cx="4757.6" cy="654.8" r="10.6" fill="#d4682a" stroke="#1a1a1a" stroke-width="1.5"/><path d="M4757.6,654.8L4757.6,644.2A10.6,10.6 0 0 1 4761.5,644.9Z" fill="#eda126"/><path d="M4757.6,654.8L4750.3,647.1A10.6,10.6 0 0 1 4757.6,644.2Z" fill="#dc2a0e"/>
<circle cx="4321.8" cy="709.2" r="10.6" fill="#d4682a" stroke="#1a1a1a" stroke-width="1.5"/><path d="M4321.8,709.2L4321.8,698.6A10.6,10.6 0 0 1 4325.7,699.3Z" fill="#eda126"/><path d="M4321.8,709.2L4314.5,701.5A10.6,10.6 0 0 1 4321.8,698.6Z" fill="#dc2a0e"/>
<circle cx="4710.3" cy="716.2" r="10.6" fill="#d4682a" stroke="#1a1a1a" stroke-width="1.5"/><path d="M4710.3,716.2L4710.3,705.6A10.6,10.6 0 0 1 4716.5,707.6Z" fill="#eda126"/><path d="M4710.3,716.2L4700.2,719.5A10.6,10.6 0 0 1 4710.3,705.6Z" fill="#dc2a0e"/>
<circle cx="4037.8" cy="850.4" r="10.6" fill="#d4682a" stroke="#1a1a1a" stroke-width="1.5"/><path d="M4037.8,850.4L4037.8,839.8A10.6,10.6 0 0 1 4041.1,840.3Z" fill="#eda126"/><path d="M4037.8,850.4L4041.1,860.5A10.6,10.6 0 0 1 4029.2,844.2Z" fill="#dc2a0e"/><path d="M4037.8,850.4L4029.2,844.2A10.6,10.6 0 0 1 4037.8,839.8Z" fill="#d9308c"/>
<circle cx="4489.2" cy="781.2" r="10.6" fill="#d4682a" stroke="#1a1a1a" stroke-width="1.5"/><path d="M4489.2,781.2L4489.2,770.6A10.6,10.6 0 0 1 4497.8,787.4Z" fill="#eda126"/><path d="M4489.2,781.2L4483.0,772.6A10.6,10.6 0 0 1 4489.2,770.6Z" fill="#dc2a0e"/>
<circle cx="4383.9" cy="909.8" r="10.6" fill="#d4682a" stroke="#1a1a1a" stroke-width="1.5"/><path d="M4383.9,909.8L4383.9,899.2A10.6,10.6 0 0 1 4392.5,916.0Z" fill="#eda126"/><path d="M4383.9,909.8L4377.7,901.2A10.6,10.6 0 0 1 4383.9,899.2Z" fill="#dc2a0e"/>
<circle cx="3917.1" cy="1004.4" r="10.6" fill="#d9308c" stroke="#1a1a1a" stroke-width="1.5"/>
<circle cx="4143.1" cy="308.7" r="9.9" fill="#d4682a" stroke="#1a1a1a" stroke-width="1.5"/><path d="M4143.1,308.7L4143.1,298.8A9.9,9.9 0 0 1 4146.7,299.5Z" fill="#eda126"/><path d="M4143.1,308.7L4136.3,301.5A9.9,9.9 0 0 1 4143.1,298.8Z" fill="#dc2a0e"/>
<circle cx="3620.4" cy="399.1" r="9.9" fill="#d4682a" stroke="#1a1a1a" stroke-width="1.5"/><path d="M3620.4,399.1L3620.4,389.2A9.9,9.9 0 0 1 3626.2,391.1Z" fill="#eda126"/><path d="M3620.4,399.1L3611.0,402.2A9.9,9.9 0 0 1 3620.4,389.2Z" fill="#dc2a0e"/>
<circle cx="3876.8" cy="442.9" r="9.9" fill="#d4682a" stroke="#1a1a1a" stroke-width="1.5"/><path d="M3876.8,442.9L3876.8,433.0A9.9,9.9 0 0 1 3878.7,433.2Z" fill="#eda126"/><path d="M3876.8,442.9L3869.6,449.7A9.9,9.9 0 0 1 3867.0,444.1Z" fill="#dc2a0e"/><path d="M3876.8,442.9L3867.0,444.1A9.9,9.9 0 0 1 3876.8,433.0Z" fill="#4f5b4b"/>
<circle cx="4141.7" cy="450.0" r="9.9" fill="#d4682a" stroke="#1a1a1a" stroke-width="1.5"/><path d="M4141.7,450.0L4141.7,440.1A9.9,9.9 0 0 1 4147.5,442.0Z" fill="#eda126"/><path d="M4141.7,450.0L4132.3,453.1A9.9,9.9 0 0 1 4141.7,440.1Z" fill="#dc2a0e"/>
<circle cx="4549.2" cy="552.4" r="9.9" fill="#d4682a" stroke="#1a1a1a" stroke-width="1.5"/><path d="M4549.2,552.4L4549.2,542.5A9.9,9.9 0 0 1 4552.3,543.0Z" fill="#eda126"/><path d="M4549.2,552.4L4539.3,552.4A9.9,9.9 0 0 1 4541.2,546.6Z" fill="#dc2a0e"/><path d="M4549.2,552.4L4541.2,546.6A9.9,9.9 0 0 1 4549.2,542.5Z" fill="#d9308c"/>
<circle cx="4731.4" cy="533.3" r="9.9" fill="#d4682a" stroke="#1a1a1a" stroke-width="1.5"/><path d="M4731.4,533.3L4731.4,523.4A9.9,9.9 0 0 1 4735.0,524.1Z" fill="#eda126"/><path d="M4731.4,533.3L4724.6,526.1A9.9,9.9 0 0 1 4731.4,523.4Z" fill="#dc2a0e"/>
<circle cx="4364.2" cy="573.6" r="9.9" fill="#d4682a" stroke="#1a1a1a" stroke-width="1.5"/><path d="M4364.2,573.6L4364.2,563.7A9.9,9.9 0 0 1 4367.3,564.2Z" fill="#eda126"/><path d="M4364.2,573.6L4367.3,583.0A9.9,9.9 0 0 1 4356.2,567.8Z" fill="#dc2a0e"/><path d="M4364.2,573.6L4356.2,567.8A9.9,9.9 0 0 1 4364.2,563.7Z" fill="#d9308c"/>
<circle cx="3886.0" cy="675.3" r="9.9" fill="#d4682a" stroke="#1a1a1a" stroke-width="1.5"/><path d="M3886.0,675.3L3886.0,665.4A9.9,9.9 0 0 1 3889.6,666.1Z" fill="#eda126"/><path d="M3886.0,675.3L3879.2,668.1A9.9,9.9 0 0 1 3886.0,665.4Z" fill="#dc2a0e"/>
<circle cx="4104.9" cy="650.6" r="9.9" fill="#eda126" stroke="#1a1a1a" stroke-width="1.5"/><path d="M4104.9,650.6L4095.5,653.7A9.9,9.9 0 0 1 4101.8,641.2Z" fill="#d4682a"/><path d="M4104.9,650.6L4101.8,641.2A9.9,9.9 0 0 1 4104.9,640.7Z" fill="#dc2a0e"/>
<circle cx="4816.2" cy="697.2" r="9.9" fill="#d4682a" stroke="#1a1a1a" stroke-width="1.5"/><path d="M4816.2,697.2L4816.2,687.3A9.9,9.9 0 0 1 4824.2,703.0Z" fill="#eda126"/><path d="M4816.2,697.2L4810.4,689.2A9.9,9.9 0 0 1 4816.2,687.3Z" fill="#dc2a0e"/>
<circle cx="4591.6" cy="733.9" r="9.9" fill="#d9308c" stroke="#1a1a1a" stroke-width="1.5"/><path d="M4591.6,733.9L4591.6,724.0A9.9,9.9 0 0 1 4601.0,730.8Z" fill="#d4682a"/><path d="M4591.6,733.9L4601.0,730.8A9.9,9.9 0 0 1 4601.0,737.0Z" fill="#dc2a0e"/><path d="M4591.6,733.9L4583.6,739.7A9.9,9.9 0 0 1 4591.6,724.0Z" fill="#4f5b4b"/>
<circle cx="4341.6" cy="818.7" r="9.9" fill="#eda126" stroke="#1a1a1a" stroke-width="1.5"/><path d="M4341.6,818.7L4335.8,826.7A9.9,9.9 0 0 1 4332.2,815.6Z" fill="#d4682a"/><path d="M4341.6,818.7L4332.2,815.6A9.9,9.9 0 0 1 4333.6,812.9Z" fill="#dc2a0e"/><path d="M4341.6,818.7L4333.6,812.9A9.9,9.9 0 0 1 4341.6,808.8Z" fill="#d9308c"/>
<circle cx="4378.3" cy="792.5" r="9.9" fill="#eda126" stroke="#1a1a1a" stroke-width="1.5"/><path d="M4378.3,792.5L4368.9,795.6A9.9,9.9 0 0 1 4375.2,783.1Z" fill="#d4682a"/><path d="M4378.3,792.5L4375.2,783.1A9.9,9.9 0 0 1 4378.3,782.6Z" fill="#dc2a0e"/>
<circle cx="4694.0" cy="796.1" r="9.9" fill="#d4682a" stroke="#1a1a1a" stroke-width="1.5"/><path d="M4694.0,796.1L4694.0,786.2A9.9,9.9 0 0 1 4697.6,786.9Z" fill="#eda126"/><path d="M4694.0,796.1L4687.2,788.9A9.9,9.9 0 0 1 4694.0,786.2Z" fill="#dc2a0e"/>
<circle cx="3727.1" cy="883.6" r="9.9" fill="#d9308c" stroke="#1a1a1a" stroke-width="1.5"/><path d="M3727.1,883.6L3727.1,873.7A9.9,9.9 0 0 1 3736.5,880.5Z" fill="#d4682a"/><path d="M3727.1,883.6L3736.5,880.5A9.9,9.9 0 0 1 3736.5,886.7Z" fill="#dc2a0e"/><path d="M3727.1,883.6L3719.1,889.4A9.9,9.9 0 0 1 3727.1,873.7Z" fill="#4f5b4b"/>
<circle cx="3838.0" cy="977.6" r="9.9" fill="#eda126" stroke="#1a1a1a" stroke-width="1.5"/><path d="M3838.0,977.6L3832.2,985.6A9.9,9.9 0 0 1 3828.6,974.5Z" fill="#d4682a"/><path d="M3838.0,977.6L3828.6,974.5A9.9,9.9 0 0 1 3830.0,971.8Z" fill="#dc2a0e"/><path d="M3838.0,977.6L3830.0,971.8A9.9,9.9 0 0 1 3838.0,967.7Z" fill="#d9308c"/>
<circle cx="3800.5" cy="368.0" r="9.2" fill="#d4682a" stroke="#1a1a1a" stroke-width="1.5"/><path d="M3800.5,368.0L3800.5,358.8A9.2,9.2 0 0 1 3803.3,359.3Z" fill="#eda126"/><path d="M3800.5,368.0L3791.3,368.0A9.2,9.2 0 0 1 3793.1,362.6Z" fill="#dc2a0e"/><path d="M3800.5,368.0L3793.1,362.6A9.2,9.2 0 0 1 3800.5,358.8Z" fill="#d9308c"/>
<circle cx="4150.1" cy="365.2" r="9.2" fill="#d4682a" stroke="#1a1a1a" stroke-width="1.5"/><path d="M4150.1,365.2L4150.1,356.0A9.2,9.2 0 0 1 4155.5,357.8Z" fill="#eda126"/><path d="M4150.1,365.2L4141.4,368.0A9.2,9.2 0 0 1 4150.1,356.0Z" fill="#dc2a0e"/>
<circle cx="3923.4" cy="400.5" r="9.2" fill="#d4682a" stroke="#1a1a1a" stroke-width="1.5"/><path d="M3923.4,400.5L3923.4,391.3A9.2,9.2 0 0 1 3928.8,393.1Z" fill="#eda126"/><path d="M3923.4,400.5L3914.7,403.3A9.2,9.2 0 0 1 3923.4,391.3Z" fill="#dc2a0e"/>
<circle cx="4282.9" cy="413.9" r="9.2" fill="#d4682a" stroke="#1a1a1a" stroke-width="1.5"/><path d="M4282.9,413.9L4282.9,404.7A9.2,9.2 0 0 1 4286.3,405.3Z" fill="#eda126"/><path d="M4282.9,413.9L4276.6,407.2A9.2,9.2 0 0 1 4282.9,404.7Z" fill="#dc2a0e"/>
<circle cx="3492.6" cy="474.7" r="9.2" fill="#d4682a" stroke="#1a1a1a" stroke-width="1.5"/><path d="M3492.6,474.7L3492.6,465.5A9.2,9.2 0 0 1 3496.0,466.1Z" fill="#eda126"/><path d="M3492.6,474.7L3486.3,468.0A9.2,9.2 0 0 1 3492.6,465.5Z" fill="#dc2a0e"/>
<circle cx="4150.1" cy="529.1" r="9.2" fill="#eda126" stroke="#1a1a1a" stroke-width="1.5"/><path d="M4150.1,529.1L4147.3,520.4A9.2,9.2 0 0 1 4150.1,519.9Z" fill="#d4682a"/>
<circle cx="3502.5" cy="539.7" r="9.2" fill="#d4682a" stroke="#1a1a1a" stroke-width="1.5"/><path d="M3502.5,539.7L3502.5,530.5A9.2,9.2 0 0 1 3507.9,532.3Z" fill="#eda126"/><path d="M3502.5,539.7L3493.8,542.5A9.2,9.2 0 0 1 3502.5,530.5Z" fill="#dc2a0e"/>
<circle cx="4655.2" cy="599.7" r="9.2" fill="#eda126" stroke="#1a1a1a" stroke-width="1.5"/><path d="M4655.2,599.7L4646.5,602.5A9.2,9.2 0 0 1 4652.4,591.0Z" fill="#d4682a"/><path d="M4655.2,599.7L4652.4,591.0A9.2,9.2 0 0 1 4655.2,590.5Z" fill="#dc2a0e"/>
<circle cx="4831.7" cy="601.8" r="9.2" fill="#d4682a" stroke="#1a1a1a" stroke-width="1.5"/><path d="M4831.7,601.8L4831.7,592.6A9.2,9.2 0 0 1 4835.1,593.2Z" fill="#eda126"/><path d="M4831.7,601.8L4825.4,595.1A9.2,9.2 0 0 1 4831.7,592.6Z" fill="#dc2a0e"/>
<circle cx="4856.5" cy="612.4" r="9.2" fill="#d4682a" stroke="#1a1a1a" stroke-width="1.5"/><path d="M4856.5,612.4L4856.5,603.2A9.2,9.2 0 0 1 4859.3,603.7Z" fill="#eda126"/><path d="M4856.5,612.4L4847.3,612.4A9.2,9.2 0 0 1 4849.1,607.0Z" fill="#dc2a0e"/><path d="M4856.5,612.4L4849.1,607.0A9.2,9.2 0 0 1 4856.5,603.2Z" fill="#d9308c"/>
<circle cx="3779.3" cy="598.3" r="9.2" fill="#eda126" stroke="#1a1a1a" stroke-width="1.5"/><path d="M3779.3,598.3L3776.5,589.6A9.2,9.2 0 0 1 3779.3,589.1Z" fill="#d4682a"/>
<circle cx="4419.3" cy="633.6" r="9.2" fill="#d4682a" stroke="#1a1a1a" stroke-width="1.5"/><path d="M4419.3,633.6L4419.3,624.4A9.2,9.2 0 0 1 4421.0,624.6Z" fill="#eda126"/><path d="M4419.3,633.6L4412.6,639.9A9.2,9.2 0 0 1 4410.2,634.8Z" fill="#dc2a0e"/><path d="M4419.3,633.6L4410.2,634.8A9.2,9.2 0 0 1 4419.3,624.4Z" fill="#4f5b4b"/>
<circle cx="3639.5" cy="688.0" r="9.2" fill="#eda126" stroke="#1a1a1a" stroke-width="1.5"/><path d="M3639.5,688.0L3636.7,679.3A9.2,9.2 0 0 1 3639.5,678.8Z" fill="#d4682a"/>
<circle cx="3765.9" cy="739.6" r="9.2" fill="#d4682a" stroke="#1a1a1a" stroke-width="1.5"/><path d="M3765.9,739.6L3765.9,730.4A9.2,9.2 0 0 1 3771.3,732.2Z" fill="#eda126"/><path d="M3765.9,739.6L3757.2,742.4A9.2,9.2 0 0 1 3765.9,730.4Z" fill="#dc2a0e"/>
<circle cx="4629.0" cy="700.7" r="9.2" fill="#d4682a" stroke="#1a1a1a" stroke-width="1.5"/><path d="M4629.0,700.7L4629.0,691.5A9.2,9.2 0 0 1 4636.4,706.1Z" fill="#eda126"/><path d="M4629.0,700.7L4623.6,693.3A9.2,9.2 0 0 1 4629.0,691.5Z" fill="#dc2a0e"/>
<circle cx="4625.5" cy="767.8" r="9.2" fill="#d9308c" stroke="#1a1a1a" stroke-width="1.5"/>
<circle cx="4299.2" cy="827.8" r="9.2" fill="#d4682a" stroke="#1a1a1a" stroke-width="1.5"/><path d="M4299.2,827.8L4299.2,818.6A9.2,9.2 0 0 1 4302.6,819.2Z" fill="#eda126"/><path d="M4299.2,827.8L4292.9,821.1A9.2,9.2 0 0 1 4299.2,818.6Z" fill="#dc2a0e"/>
<circle cx="4507.5" cy="834.9" r="9.2" fill="#d4682a" stroke="#1a1a1a" stroke-width="1.5"/><path d="M4507.5,834.9L4507.5,825.7A9.2,9.2 0 0 1 4514.9,840.3Z" fill="#eda126"/><path d="M4507.5,834.9L4502.1,827.5A9.2,9.2 0 0 1 4507.5,825.7Z" fill="#dc2a0e"/>
<circle cx="4687.7" cy="846.9" r="9.2" fill="#dc2a0e" stroke="#1a1a1a" stroke-width="1.5"/><path d="M4687.7,846.9L4687.7,837.7A9.2,9.2 0 0 1 4690.5,838.2Z" fill="#eda126"/><path d="M4687.7,846.9L4690.5,838.2A9.2,9.2 0 0 1 4696.4,844.1Z" fill="#d4682a"/>
<circle cx="3958.0" cy="958.5" r="9.2" fill="#d4682a" stroke="#1a1a1a" stroke-width="1.5"/><path d="M3958.0,958.5L3958.0,949.3A9.2,9.2 0 0 1 3965.4,963.9Z" fill="#eda126"/><path d="M3958.0,958.5L3952.6,951.1A9.2,9.2 0 0 1 3958.0,949.3Z" fill="#dc2a0e"/>
<circle cx="4104.2" cy="265.6" r="8.5" fill="#eda126" stroke="#1a1a1a" stroke-width="1.5"/><path d="M4104.2,265.6L4096.1,268.2A8.5,8.5 0 0 1 4101.6,257.5Z" fill="#d4682a"/><path d="M4104.2,265.6L4101.6,257.5A8.5,8.5 0 0 1 4104.2,257.1Z" fill="#dc2a0e"/>
<circle cx="3753.2" cy="304.5" r="8.5" fill="#d4682a" stroke="#1a1a1a" stroke-width="1.5"/><path d="M3753.2,304.5L3753.2,296.0A8.5,8.5 0 0 1 3755.8,296.4Z" fill="#eda126"/><path d="M3753.2,304.5L3744.7,304.5A8.5,8.5 0 0 1 3746.3,299.5Z" fill="#dc2a0e"/><path d="M3753.2,304.5L3746.3,299.5A8.5,8.5 0 0 1 3753.2,296.0Z" fill="#d9308c"/>
<circle cx="3756.7" cy="345.4" r="8.5" fill="#d4682a" stroke="#1a1a1a" stroke-width="1.5"/><path d="M3756.7,345.4L3756.7,336.9A8.5,8.5 0 0 1 3759.8,337.5Z" fill="#eda126"/><path d="M3756.7,345.4L3750.9,339.2A8.5,8.5 0 0 1 3756.7,336.9Z" fill="#dc2a0e"/>
<circle cx="3469.3" cy="416.8" r="8.5" fill="#dc2a0e" stroke="#1a1a1a" stroke-width="1.5"/><path d="M3469.3,416.8L3469.3,408.3A8.5,8.5 0 0 1 3471.9,408.7Z" fill="#eda126"/><path d="M3469.3,416.8L3471.9,408.7A8.5,8.5 0 0 1 3477.4,414.2Z" fill="#d4682a"/>
<circle cx="3703.0" cy="425.2" r="8.5" fill="#d4682a" stroke="#1a1a1a" stroke-width="1.5"/><path d="M3703.0,425.2L3703.0,416.7A8.5,8.5 0 0 1 3708.0,418.3Z" fill="#eda126"/><path d="M3703.0,425.2L3694.9,427.8A8.5,8.5 0 0 1 3703.0,416.7Z" fill="#dc2a0e"/>
<circle cx="4037.8" cy="460.6" r="8.5" fill="#dc2a0e" stroke="#1a1a1a" stroke-width="1.5"/><path d="M4037.8,460.6L4037.8,452.1A8.5,8.5 0 0 1 4040.4,452.5Z" fill="#eda126"/><path d="M4037.8,460.6L4040.4,452.5A8.5,8.5 0 0 1 4045.9,458.0Z" fill="#d4682a"/>
<circle cx="4288.6" cy="493.0" r="8.5" fill="#eda126" stroke="#1a1a1a" stroke-width="1.5"/><path d="M4288.6,493.0L4280.5,495.6A8.5,8.5 0 0 1 4286.0,484.9Z" fill="#d4682a"/><path d="M4288.6,493.0L4286.0,484.9A8.5,8.5 0 0 1 4288.6,484.5Z" fill="#dc2a0e"/>
<circle cx="4256.8" cy="512.8" r="8.5" fill="#d4682a" stroke="#1a1a1a" stroke-width="1.5"/><path d="M4256.8,512.8L4256.8,504.3A8.5,8.5 0 0 1 4259.9,504.9Z" fill="#eda126"/><path d="M4256.8,512.8L4251.0,506.6A8.5,8.5 0 0 1 4256.8,504.3Z" fill="#dc2a0e"/>
<circle cx="4429.8" cy="502.2" r="8.5" fill="#d4682a" stroke="#1a1a1a" stroke-width="1.5"/><path d="M4429.8,502.2L4429.8,493.7A8.5,8.5 0 0 1 4432.9,494.3Z" fill="#eda126"/><path d="M4429.8,502.2L4424.0,496.0A8.5,8.5 0 0 1 4429.8,493.7Z" fill="#dc2a0e"/>
<circle cx="3648.7" cy="546.7" r="8.5" fill="#dc2a0e" stroke="#1a1a1a" stroke-width="1.5"/><path d="M3648.7,546.7L3648.7,538.2A8.5,8.5 0 0 1 3651.3,538.6Z" fill="#eda126"/><path d="M3648.7,546.7L3651.3,538.6A8.5,8.5 0 0 1 3656.8,544.1Z" fill="#d4682a"/>
<circle cx="4807.0" cy="559.4" r="8.5" fill="#d4682a" stroke="#1a1a1a" stroke-width="1.5"/><path d="M4807.0,559.4L4807.0,550.9A8.5,8.5 0 0 1 4810.1,551.5Z" fill="#eda126"/><path d="M4807.0,559.4L4801.2,553.2A8.5,8.5 0 0 1 4807.0,550.9Z" fill="#dc2a0e"/>
<circle cx="3615.5" cy="599.7" r="8.5" fill="#d4682a" stroke="#1a1a1a" stroke-width="1.5"/><path d="M3615.5,599.7L3615.5,591.2A8.5,8.5 0 0 1 3618.6,591.8Z" fill="#eda126"/><path d="M3615.5,599.7L3609.7,593.5A8.5,8.5 0 0 1 3615.5,591.2Z" fill="#dc2a0e"/>
<circle cx="4242.7" cy="620.9" r="8.5" fill="#dc2a0e" stroke="#1a1a1a" stroke-width="1.5"/><path d="M4242.7,620.9L4242.7,612.4A8.5,8.5 0 0 1 4245.3,612.8Z" fill="#eda126"/><path d="M4242.7,620.9L4245.3,612.8A8.5,8.5 0 0 1 4250.8,618.3Z" fill="#d4682a"/>
<circle cx="3872.6" cy="733.9" r="8.5" fill="#d4682a" stroke="#1a1a1a" stroke-width="1.5"/><path d="M3872.6,733.9L3872.6,725.4A8.5,8.5 0 0 1 3877.6,727.0Z" fill="#eda126"/><path d="M3872.6,733.9L3864.5,736.5A8.5,8.5 0 0 1 3872.6,725.4Z" fill="#dc2a0e"/>
<circle cx="4770.3" cy="692.9" r="8.5" fill="#d4682a" stroke="#1a1a1a" stroke-width="1.5"/><path d="M4770.3,692.9L4770.3,684.4A8.5,8.5 0 0 1 4773.4,685.0Z" fill="#eda126"/><path d="M4770.3,692.9L4764.5,686.7A8.5,8.5 0 0 1 4770.3,684.4Z" fill="#dc2a0e"/>
<circle cx="3897.3" cy="820.8" r="8.5" fill="#d4682a" stroke="#1a1a1a" stroke-width="1.5"/><path d="M3897.3,820.8L3897.3,812.3A8.5,8.5 0 0 1 3902.3,813.9Z" fill="#eda126"/><path d="M3897.3,820.8L3889.2,823.4A8.5,8.5 0 0 1 3897.3,812.3Z" fill="#dc2a0e"/>
<circle cx="3674.8" cy="834.2" r="8.5" fill="#d4682a" stroke="#1a1a1a" stroke-width="1.5"/><path d="M3674.8,834.2L3674.8,825.7A8.5,8.5 0 0 1 3677.4,826.1Z" fill="#eda126"/><path d="M3674.8,834.2L3677.4,842.3A8.5,8.5 0 0 1 3667.9,829.2Z" fill="#dc2a0e"/><path d="M3674.8,834.2L3667.9,829.2A8.5,8.5 0 0 1 3674.8,825.7Z" fill="#d9308c"/>
<circle cx="4192.5" cy="878.7" r="8.5" fill="#d4682a" stroke="#1a1a1a" stroke-width="1.5"/><path d="M4192.5,878.7L4192.5,870.2A8.5,8.5 0 0 1 4197.5,871.8Z" fill="#eda126"/><path d="M4192.5,878.7L4184.4,881.3A8.5,8.5 0 0 1 4192.5,870.2Z" fill="#dc2a0e"/>
<circle cx="4316.1" cy="324.2" r="7.8" fill="#d9308c" stroke="#1a1a1a" stroke-width="1.5"/>
<circle cx="4618.4" cy="474.0" r="7.8" fill="#dc2a0e" stroke="#1a1a1a" stroke-width="1.5"/><path d="M4618.4,474.0L4618.4,466.2A7.8,7.8 0 0 1 4620.8,466.6Z" fill="#eda126"/><path d="M4618.4,474.0L4620.8,466.6A7.8,7.8 0 0 1 4625.8,471.6Z" fill="#d4682a"/>
<circle cx="4081.6" cy="472.6" r="7.8" fill="#dc2a0e" stroke="#1a1a1a" stroke-width="1.5"/><path d="M4081.6,472.6L4081.6,464.8A7.8,7.8 0 0 1 4084.0,465.2Z" fill="#eda126"/><path d="M4081.6,472.6L4084.0,465.2A7.8,7.8 0 0 1 4089.0,470.2Z" fill="#d4682a"/>
<circle cx="4463.0" cy="680.9" r="7.8" fill="#eda126" stroke="#1a1a1a" stroke-width="1.5"/><path d="M4463.0,680.9L4460.6,673.5A7.8,7.8 0 0 1 4463.0,673.1Z" fill="#d4682a"/>
<circle cx="3710.8" cy="767.8" r="7.8" fill="#dc2a0e" stroke="#1a1a1a" stroke-width="1.5"/><path d="M3710.8,767.8L3710.8,760.0A7.8,7.8 0 0 1 3713.2,760.4Z" fill="#eda126"/><path d="M3710.8,767.8L3713.2,760.4A7.8,7.8 0 0 1 3718.2,765.4Z" fill="#d4682a"/>
<circle cx="4417.1" cy="827.1" r="14.1" fill="none" stroke="#1a1a1a" stroke-width="1.5"/>
<clipPath id="c3"><use href="#cz" transform="matrix(0.4785,0,0,0.4785,3350.3,1131.8)"/></clipPath>
<g clip-path="url(#c3)">
<use href="#cz" transform="matrix(0.4785,0,0,0.4785,3350.3,1131.8)" fill="#ffffff"/>
<g stroke="#777" stroke-opacity="0" stroke-width="1.2">
<polygon points="3998.3,1363.2 4035.3,1360.0 4042.8,1354.7 4090.6,1357.0 4098.2,1350.3 4083.7,1293.2 4051.2,1296.5 3997.7,1256.7 3983.7,1286.2 3979.9,1335.6" fill="#0570b0"/>
<polygon points="4290.4,1574.6 4253.9,1513.3 4232.8,1537.2 4175.1,1543.3 4189.0,1605.8 4238.1,1595.0 4259.4,1607.1" fill="#0570b0"/>
<polygon points="3957.5,1569.2 3928.4,1578.6 3924.3,1627.7 4012.8,1650.1 4023.8,1617.5" fill="#0570b0"/>
<polygon points="3735.1,1378.6 3791.5,1375.2 3757.6,1203.0 3755.0,1199.7 3687.8,1199.7" fill="#dceeff"/>
<polygon points="3968.5,1417.8 3915.3,1404.4 3892.4,1430.4 3890.3,1457.6 3852.0,1478.7 3852.0,1520.9 3875.2,1548.4 3893.7,1548.3 3928.5,1579.0 3957.4,1569.8 4023.6,1618.0 4027.1,1614.5 4037.2,1552.9 4028.0,1546.0 3974.7,1547.1 3968.5,1489.5 3969.9,1485.5 3966.6,1478.8" fill="#dceeff"/>
<polygon points="3537.2,1500.5 3517.2,1483.7 3462.6,1506.3 3476.1,1562.1 3539.7,1552.8" fill="#dceeff"/>
<polygon points="3622.2,1553.4 3585.0,1590.5 3579.0,1592.5 3576.9,1596.1 3596.2,1681.9 3567.5,1705.2 3604.3,1772.1 3604.6,1775.2 3672.6,1787.0 3716.3,1748.1 3719.4,1740.5 3638.9,1705.3 3630.2,1688.3 3664.5,1642.9 3681.9,1640.0 3711.6,1604.4 3690.0,1562.8" fill="#dceeff"/>
<polygon points="3783.3,1573.1 3765.0,1600.8 3824.3,1646.9 3852.0,1630.7 3847.6,1577.1" fill="#dceeff"/>
<polygon points="4269.3,1506.7 4322.4,1449.6 4322.4,1449.2 4253.8,1439.5 4238.9,1476.8 4255.9,1507.5" fill="#dceeff"/>
<polygon points="4259.5,1606.6 4238.2,1594.4 4189.0,1605.2 4174.6,1624.4 4174.3,1638.3 4216.1,1663.3 4268.7,1632.4" fill="#dceeff"/>
<polygon points="4544.8,1695.9 4546.5,1694.5 4626.4,1693.0 4615.4,1633.0 4588.1,1626.8 4555.6,1639.6 4511.0,1613.3 4505.8,1615.1 4493.9,1638.6 4498.3,1670.7" fill="#dceeff"/>
<polygon points="3956.9,1732.4 3967.5,1732.2 4013.7,1654.4 4012.9,1649.8 3924.5,1627.2 3905.2,1649.9 3906.8,1677.9" fill="#dceeff"/>
<polygon points="4457.2,1697.9 4427.4,1724.6 4445.4,1772.1 4464.0,1782.6 4509.1,1740.4 4466.7,1698.4" fill="#dceeff"/>
<polygon points="4147.2,1770.2 4120.9,1797.0 4118.9,1837.0 4196.1,1860.8 4224.3,1826.9 4224.9,1798.7 4198.4,1768.6" fill="#dceeff"/>
<polygon points="4388.9,1809.3 4353.7,1842.1 4374.5,1871.1 4374.5,1885.1 4388.3,1903.0 4456.5,1884.4 4466.0,1908.7 4484.2,1924.2 4556.8,1901.1 4558.4,1895.3 4532.3,1848.4 4458.0,1875.9 4448.0,1851.7 4413.8,1839.8" fill="#dceeff"/>
<polygon points="3695.4,1404.0 3732.1,1386.0 3735.6,1378.4 3688.1,1199.8 3484.9,1199.8 3517.0,1484.1 3536.7,1500.8 3539.2,1552.7 3579.0,1593.0 3585.3,1591.0 3622.6,1553.8 3621.1,1499.7 3593.0,1480.6 3581.1,1364.8 3540.5,1262.5" fill="#b5e1fa"/>
<polygon points="4684.5,1544.4 4727.4,1626.4 4733.7,1626.6 4742.4,1631.1 4792.1,1619.5 4794.9,1621.6 4805.6,1652.2 4802.4,1670.5 4789.3,1680.2 4765.6,1673.9 4736.7,1694.1 4717.4,1691.1 4695.6,1720.8 4641.3,1695.4 4629.6,1696.7 4628.9,1700.6 4669.8,1780.1 4700.9,1739.8 4741.4,1749.4 4750.3,1730.6 4791.4,1715.0 4800.2,1725.4 4795.7,1757.4 4840.7,1836.0 4894.4,1886.9 4902.2,1899.5 4961.2,1959.5 4961.2,1199.8 4857.4,1199.8 4822.9,1288.2" fill="#b5e1fa"/>
<polygon points="3726.0,1732.8 3762.0,1689.7 3748.3,1608.5 3711.2,1604.1 3681.4,1639.9" fill="#b5e1fa"/>
<polygon points="3905.8,1649.8 3851.7,1630.2 3824.2,1646.5 3814.3,1679.4 3844.9,1717.6 3907.3,1678.0" fill="#b5e1fa"/>
<polygon points="4508.8,1740.7 4533.9,1737.1 4545.1,1695.5 4498.6,1670.3 4466.2,1698.7" fill="#b5e1fa"/>
<polygon points="4683.6,1871.0 4672.6,1813.2 4633.6,1845.9 4605.7,1840.0 4588.2,1882.3 4645.1,1906.1 4649.3,1903.1 4652.4,1894.6" fill="#b5e1fa"/>
<polygon points="3732.1,1385.5 3695.2,1403.7 3694.7,1440.1 3730.9,1452.1 3758.0,1431.6" fill="#3594d8"/>
<polygon points="4014.2,1490.5 4057.6,1462.3 4056.4,1445.0 3979.0,1410.4 3967.9,1417.8 3966.0,1479.0 3969.5,1485.9" fill="#3594d8"/>
<polygon points="4256.4,1507.4 4239.3,1476.5 4210.1,1473.4 4177.3,1492.0 4168.4,1538.7 4175.4,1543.7 4233.1,1537.7 4254.1,1513.8" fill="#3594d8"/>
<polygon points="3847.1,1577.1 3851.5,1630.6 3905.7,1650.2 3924.8,1627.6 3928.9,1578.5 3893.8,1547.7 3875.2,1547.9" fill="#3594d8"/>
<polygon points="3776.5,1516.9 3783.3,1573.7 3847.4,1577.6 3875.7,1548.2 3852.4,1520.5" fill="#7dc0f7"/>
<polygon points="4699.5,1648.1 4727.9,1626.1 4684.7,1544.3 4649.5,1571.5 4641.0,1607.9" fill="#7dc0f7"/>
<polygon points="4789.3,1680.9 4802.9,1670.8 4806.2,1652.2 4795.4,1621.2 4792.1,1618.9 4742.1,1630.6 4765.5,1674.4" fill="#7dc0f7"/>
<polygon points="4498.9,1670.7 4494.3,1638.3 4437.5,1652.0 4457.3,1698.5 4466.7,1698.9" fill="#7dc0f7"/>
<polygon points="3664.2,1642.3 3629.5,1688.2 3638.4,1705.7 3719.2,1740.8 3726.1,1734.0 3726.5,1732.5 3681.9,1639.7" fill="#7dc0f7"/>
<polygon points="4668.5,1787.8 4670.3,1779.9 4629.5,1700.5 4630.1,1696.8 4626.2,1692.4 4546.2,1693.9 4544.5,1695.5 4533.5,1736.6 4508.7,1740.2 4463.6,1782.3 4467.1,1793.1 4538.2,1822.9 4554.2,1808.7 4594.5,1821.7 4630.1,1785.6" fill="#7dc0f7"/>
<polygon points="3855.6,1970.9 3896.7,2000.6 3905.1,1999.7 3948.8,1964.8 3958.8,1917.2 3939.6,1902.9 3873.5,1908.9 3851.5,1947.6" fill="#7dc0f7"/>
</g>
<use href="#mesh" transform="translate(3350.3,1131.8) scale(.4785)" stroke="#777" stroke-width="2.6"/>
</g>
<use href="#cz" transform="matrix(0.4785,0,0,0.4785,3350.3,1131.8)" fill="none" stroke="#444" stroke-width="6.27"/>
<circle cx="4405.1" cy="1872.4" r="40.3" fill="#d4682a" stroke="#1a1a1a" stroke-width="1.5"/><path d="M4405.1,1872.4L4405.1,1832.1A40.3,40.3 0 0 1 4443.4,1884.9Z" fill="#eda126"/><path d="M4405.1,1872.4L4366.8,1859.9A40.3,40.3 0 0 1 4405.1,1832.1Z" fill="#dc2a0e"/>
<circle cx="4024.4" cy="1323.6" r="36.0" fill="#eda126" stroke="#1a1a1a" stroke-width="1.5"/><path d="M4024.4,1323.6L4024.4,1359.6A36.0,36.0 0 0 1 3995.3,1302.4Z" fill="#d4682a"/><path d="M4024.4,1323.6L3995.3,1302.4A36.0,36.0 0 0 1 4024.4,1287.6Z" fill="#dc2a0e"/>
<circle cx="4210.2" cy="1570.1" r="33.2" fill="#d4682a" stroke="#1a1a1a" stroke-width="1.5"/><path d="M4210.2,1570.1L4220.5,1601.7A33.2,33.2 0 0 1 4199.9,1601.7Z" fill="#dc2a0e"/><path d="M4210.2,1570.1L4199.9,1601.7A33.2,33.2 0 0 1 4210.2,1536.9Z" fill="#d9308c"/>
<circle cx="3882.5" cy="1604.0" r="29.7" fill="#eda126" stroke="#1a1a1a" stroke-width="1.5"/><path d="M3882.5,1604.0L3865.0,1628.0A29.7,29.7 0 0 1 3878.8,1574.5Z" fill="#d4682a"/><path d="M3882.5,1604.0L3878.8,1574.5A29.7,29.7 0 0 1 3882.5,1574.3Z" fill="#dc2a0e"/>
<circle cx="3670.6" cy="1689.5" r="26.1" fill="#d4682a" stroke="#1a1a1a" stroke-width="1.5"/><path d="M3670.6,1689.5L3655.3,1710.6A26.1,26.1 0 0 1 3670.6,1663.4Z" fill="#dc2a0e"/>
<circle cx="3910.0" cy="1941.6" r="26.1" fill="#eda126" stroke="#1a1a1a" stroke-width="1.5"/><path d="M3910.0,1941.6L3925.3,1962.7A26.1,26.1 0 0 1 3885.2,1933.5Z" fill="#d4682a"/><path d="M3910.0,1941.6L3885.2,1933.5A26.1,26.1 0 0 1 3910.0,1915.5Z" fill="#dc2a0e"/>
<circle cx="4205.9" cy="1512.9" r="25.4" fill="#d4682a" stroke="#1a1a1a" stroke-width="1.5"/><path d="M4205.9,1512.9L4185.4,1527.8A25.4,25.4 0 0 1 4205.9,1487.5Z" fill="#dc2a0e"/>
<circle cx="4581.7" cy="1722.7" r="25.4" fill="#d4682a" stroke="#1a1a1a" stroke-width="1.5"/><path d="M4581.7,1722.7L4581.7,1697.3A25.4,25.4 0 0 1 4596.6,1702.2Z" fill="#eda126"/><path d="M4581.7,1722.7L4561.2,1737.6A25.4,25.4 0 0 1 4581.7,1697.3Z" fill="#dc2a0e"/>
<circle cx="4778.8" cy="1647.1" r="24.0" fill="#d4682a" stroke="#1a1a1a" stroke-width="1.5"/><path d="M4778.8,1647.1L4786.2,1669.9A24.0,24.0 0 0 1 4759.4,1633.0Z" fill="#dc2a0e"/><path d="M4778.8,1647.1L4759.4,1633.0A24.0,24.0 0 0 1 4778.8,1623.1Z" fill="#d9308c"/>
<circle cx="4006.1" cy="1457.8" r="21.2" fill="#d4682a" stroke="#1a1a1a" stroke-width="1.5"/><path d="M4006.1,1457.8L4006.1,1436.6A21.2,21.2 0 0 1 4012.7,1478.0Z" fill="#eda126"/>
<circle cx="3822.4" cy="1546.1" r="21.2" fill="#dc2a0e" stroke="#1a1a1a" stroke-width="1.5"/><path d="M3822.4,1546.1L3822.4,1524.9A21.2,21.2 0 0 1 3829.0,1525.9Z" fill="#eda126"/><path d="M3822.4,1546.1L3829.0,1525.9A21.2,21.2 0 0 1 3839.6,1558.6Z" fill="#d4682a"/>
<circle cx="3972.2" cy="1611.1" r="19.1" fill="#eda126" stroke="#1a1a1a" stroke-width="1.5"/><path d="M3972.2,1611.1L3961.0,1626.6A19.1,19.1 0 0 1 3969.8,1592.2Z" fill="#d4682a"/><path d="M3972.2,1611.1L3969.8,1592.2A19.1,19.1 0 0 1 3972.2,1592.0Z" fill="#dc2a0e"/>
<circle cx="3727.1" cy="1417.5" r="18.4" fill="#dc2a0e" stroke="#1a1a1a" stroke-width="1.5"/><path d="M3727.1,1417.5L3727.1,1399.1A18.4,18.4 0 0 1 3732.8,1400.0Z" fill="#eda126"/><path d="M3727.1,1417.5L3732.8,1400.0A18.4,18.4 0 0 1 3744.6,1411.8Z" fill="#d4682a"/>
<circle cx="4690.5" cy="1611.8" r="18.4" fill="#d4682a" stroke="#1a1a1a" stroke-width="1.5"/><path d="M4690.5,1611.8L4705.4,1622.6A18.4,18.4 0 0 1 4675.6,1622.6Z" fill="#dc2a0e"/><path d="M4690.5,1611.8L4675.6,1622.6A18.4,18.4 0 0 1 4690.5,1593.4Z" fill="#d9308c"/>
<circle cx="4597.2" cy="1787.7" r="17.0" fill="#d4682a" stroke="#1a1a1a" stroke-width="1.5"/><path d="M4597.2,1787.7L4597.2,1770.7A17.0,17.0 0 0 1 4607.2,1773.9Z" fill="#eda126"/><path d="M4597.2,1787.7L4581.0,1793.0A17.0,17.0 0 0 1 4597.2,1770.7Z" fill="#dc2a0e"/>
<circle cx="4074.6" cy="1329.3" r="16.2" fill="#d4682a" stroke="#1a1a1a" stroke-width="1.5"/><path d="M4074.6,1329.3L4074.6,1313.1A16.2,16.2 0 0 1 4087.7,1338.8Z" fill="#eda126"/><path d="M4074.6,1329.3L4065.1,1316.2A16.2,16.2 0 0 1 4074.6,1313.1Z" fill="#dc2a0e"/>
<circle cx="4513.9" cy="1784.8" r="15.5" fill="#d4682a" stroke="#1a1a1a" stroke-width="1.5"/><path d="M4513.9,1784.8L4513.9,1769.3A15.5,15.5 0 0 1 4519.6,1770.4Z" fill="#eda126"/><path d="M4513.9,1784.8L4503.3,1773.5A15.5,15.5 0 0 1 4513.9,1769.3Z" fill="#dc2a0e"/>
<circle cx="4660.8" cy="1856.9" r="14.8" fill="#dc2a0e" stroke="#1a1a1a" stroke-width="1.5"/><path d="M4660.8,1856.9L4660.8,1842.1A14.8,14.8 0 0 1 4669.5,1844.9Z" fill="#eda126"/><path d="M4660.8,1856.9L4669.5,1844.9A14.8,14.8 0 0 1 4669.5,1868.9Z" fill="#d4682a"/>
<circle cx="4821.1" cy="1703.6" r="14.1" fill="#d4682a" stroke="#1a1a1a" stroke-width="1.5"/><path d="M4821.1,1703.6L4821.1,1689.5A14.1,14.1 0 0 1 4825.5,1690.2Z" fill="#eda126"/><path d="M4821.1,1703.6L4825.5,1717.0A14.1,14.1 0 0 1 4809.7,1695.3Z" fill="#dc2a0e"/><path d="M4821.1,1703.6L4809.7,1695.3A14.1,14.1 0 0 1 4821.1,1689.5Z" fill="#d9308c"/>
<circle cx="3579.4" cy="1523.5" r="13.4" fill="#d4682a" stroke="#1a1a1a" stroke-width="1.5"/><path d="M3579.4,1523.5L3579.4,1510.1A13.4,13.4 0 0 1 3584.3,1511.0Z" fill="#eda126"/><path d="M3579.4,1523.5L3570.2,1513.7A13.4,13.4 0 0 1 3579.4,1510.1Z" fill="#dc2a0e"/>
<circle cx="4836.0" cy="1655.6" r="13.4" fill="#d4682a" stroke="#1a1a1a" stroke-width="1.5"/><path d="M4836.0,1655.6L4836.0,1642.2A13.4,13.4 0 0 1 4840.1,1642.9Z" fill="#eda126"/><path d="M4836.0,1655.6L4840.1,1668.3A13.4,13.4 0 0 1 4825.2,1647.7Z" fill="#dc2a0e"/><path d="M4836.0,1655.6L4825.2,1647.7A13.4,13.4 0 0 1 4836.0,1642.2Z" fill="#d9308c"/>
<circle cx="4846.6" cy="1625.9" r="12.0" fill="#d4682a" stroke="#1a1a1a" stroke-width="1.5"/><path d="M4846.6,1625.9L4846.6,1613.9A12.0,12.0 0 0 1 4850.3,1614.5Z" fill="#eda126"/><path d="M4846.6,1625.9L4834.6,1625.9A12.0,12.0 0 0 1 4836.9,1618.8Z" fill="#dc2a0e"/><path d="M4846.6,1625.9L4836.9,1618.8A12.0,12.0 0 0 1 4846.6,1613.9Z" fill="#d9308c"/>
<circle cx="4879.8" cy="1698.7" r="12.0" fill="#d4682a" stroke="#1a1a1a" stroke-width="1.5"/><path d="M4879.8,1698.7L4879.8,1686.7A12.0,12.0 0 0 1 4886.9,1689.0Z" fill="#eda126"/><path d="M4879.8,1698.7L4868.4,1702.4A12.0,12.0 0 0 1 4879.8,1686.7Z" fill="#dc2a0e"/>
<circle cx="3760.3" cy="1358.9" r="11.3" fill="#dc2a0e" stroke="#1a1a1a" stroke-width="1.5"/><path d="M3760.3,1358.9L3760.3,1347.6A11.3,11.3 0 0 1 3763.8,1348.2Z" fill="#eda126"/><path d="M3760.3,1358.9L3763.8,1348.2A11.3,11.3 0 0 1 3771.0,1355.4Z" fill="#d4682a"/>
<circle cx="4263.2" cy="1565.2" r="10.6" fill="#dc2a0e" stroke="#1a1a1a" stroke-width="1.5"/><path d="M4263.2,1565.2L4263.2,1554.6A10.6,10.6 0 0 1 4266.5,1555.1Z" fill="#eda126"/><path d="M4263.2,1565.2L4266.5,1555.1A10.6,10.6 0 0 1 4273.3,1561.9Z" fill="#d4682a"/>
<circle cx="4224.3" cy="1632.3" r="10.6" fill="#dc2a0e" stroke="#1a1a1a" stroke-width="1.5"/><path d="M4224.3,1632.3L4224.3,1621.7A10.6,10.6 0 0 1 4230.5,1623.7Z" fill="#eda126"/><path d="M4224.3,1632.3L4230.5,1623.7A10.6,10.6 0 0 1 4230.5,1640.9Z" fill="#d4682a"/>
<circle cx="4727.2" cy="1721.3" r="10.6" fill="#d4682a" stroke="#1a1a1a" stroke-width="1.5"/><path d="M4727.2,1721.3L4727.2,1710.7A10.6,10.6 0 0 1 4730.5,1711.2Z" fill="#eda126"/><path d="M4727.2,1721.3L4716.6,1721.3A10.6,10.6 0 0 1 4718.6,1715.1Z" fill="#dc2a0e"/><path d="M4727.2,1721.3L4718.6,1715.1A10.6,10.6 0 0 1 4727.2,1710.7Z" fill="#d9308c"/>
<circle cx="3947.4" cy="1530.6" r="9.9" fill="#d4682a" stroke="#1a1a1a" stroke-width="1.5"/><path d="M3947.4,1530.6L3947.4,1520.7A9.9,9.9 0 0 1 3955.4,1536.4Z" fill="#eda126"/><path d="M3947.4,1530.6L3941.6,1522.6A9.9,9.9 0 0 1 3947.4,1520.7Z" fill="#dc2a0e"/>
<circle cx="3621.1" cy="1653.5" r="9.9" fill="#d4682a" stroke="#1a1a1a" stroke-width="1.5"/><path d="M3621.1,1653.5L3621.1,1643.6A9.9,9.9 0 0 1 3624.7,1644.3Z" fill="#eda126"/><path d="M3621.1,1653.5L3614.3,1646.3A9.9,9.9 0 0 1 3621.1,1643.6Z" fill="#dc2a0e"/>
<circle cx="3727.8" cy="1662.6" r="9.9" fill="#d4682a" stroke="#1a1a1a" stroke-width="1.5"/><path d="M3727.8,1662.6L3727.8,1652.7A9.9,9.9 0 0 1 3733.6,1654.6Z" fill="#eda126"/><path d="M3727.8,1662.6L3718.4,1665.7A9.9,9.9 0 0 1 3727.8,1652.7Z" fill="#dc2a0e"/>
<circle cx="4169.2" cy="1818.0" r="9.9" fill="#eda126" stroke="#1a1a1a" stroke-width="1.5"/><path d="M4169.2,1818.0L4166.1,1808.6A9.9,9.9 0 0 1 4169.2,1808.1Z" fill="#d4682a"/>
<circle cx="4768.9" cy="1605.4" r="9.9" fill="#d4682a" stroke="#1a1a1a" stroke-width="1.5"/><path d="M4768.9,1605.4L4768.9,1595.5A9.9,9.9 0 0 1 4772.0,1596.0Z" fill="#eda126"/><path d="M4768.9,1605.4L4759.0,1605.4A9.9,9.9 0 0 1 4760.9,1599.6Z" fill="#dc2a0e"/><path d="M4768.9,1605.4L4760.9,1599.6A9.9,9.9 0 0 1 4768.9,1595.5Z" fill="#d9308c"/>
<circle cx="4860.7" cy="1664.8" r="9.9" fill="#dc2a0e" stroke="#1a1a1a" stroke-width="1.5"/><path d="M4860.7,1664.8L4860.7,1654.9A9.9,9.9 0 0 1 4863.8,1655.4Z" fill="#eda126"/><path d="M4860.7,1664.8L4863.8,1655.4A9.9,9.9 0 0 1 4870.1,1661.7Z" fill="#d4682a"/>
<circle cx="4670.0" cy="1736.8" r="9.9" fill="#d4682a" stroke="#1a1a1a" stroke-width="1.5"/><path d="M4670.0,1736.8L4670.0,1726.9A9.9,9.9 0 0 1 4673.6,1727.6Z" fill="#eda126"/><path d="M4670.0,1736.8L4663.2,1729.6A9.9,9.9 0 0 1 4670.0,1726.9Z" fill="#dc2a0e"/>
<circle cx="4761.8" cy="1707.1" r="9.9" fill="#d4682a" stroke="#1a1a1a" stroke-width="1.5"/><path d="M4761.8,1707.1L4761.8,1697.2A9.9,9.9 0 0 1 4767.6,1699.1Z" fill="#eda126"/><path d="M4761.8,1707.1L4752.4,1710.2A9.9,9.9 0 0 1 4761.8,1697.2Z" fill="#dc2a0e"/>
<circle cx="3705.2" cy="1373.0" r="9.2" fill="#dc2a0e" stroke="#1a1a1a" stroke-width="1.5"/><path d="M3705.2,1373.0L3705.2,1363.8A9.2,9.2 0 0 1 3708.0,1364.3Z" fill="#eda126"/><path d="M3705.2,1373.0L3708.0,1364.3A9.2,9.2 0 0 1 3713.9,1370.2Z" fill="#d4682a"/>
<circle cx="3818.9" cy="1608.3" r="9.2" fill="#d4682a" stroke="#1a1a1a" stroke-width="1.5"/><path d="M3818.9,1608.3L3818.9,1599.1A9.2,9.2 0 0 1 3821.7,1599.6Z" fill="#eda126"/><path d="M3818.9,1608.3L3821.7,1617.0A9.2,9.2 0 0 1 3811.5,1602.9Z" fill="#dc2a0e"/><path d="M3818.9,1608.3L3811.5,1602.9A9.2,9.2 0 0 1 3818.9,1599.1Z" fill="#d9308c"/>
<circle cx="4620.6" cy="1872.4" r="9.2" fill="#dc2a0e" stroke="#1a1a1a" stroke-width="1.5"/><path d="M4620.6,1872.4L4620.6,1863.2A9.2,9.2 0 0 1 4623.4,1863.7Z" fill="#eda126"/><path d="M4620.6,1872.4L4623.4,1863.7A9.2,9.2 0 0 1 4629.3,1869.6Z" fill="#d4682a"/>
<circle cx="4812.7" cy="1612.5" r="9.2" fill="#d4682a" stroke="#1a1a1a" stroke-width="1.5"/><path d="M4812.7,1612.5L4812.7,1603.3A9.2,9.2 0 0 1 4815.5,1603.8Z" fill="#eda126"/><path d="M4812.7,1612.5L4803.5,1612.5A9.2,9.2 0 0 1 4805.3,1607.1Z" fill="#dc2a0e"/><path d="M4812.7,1612.5L4805.3,1607.1A9.2,9.2 0 0 1 4812.7,1603.3Z" fill="#d9308c"/>
<circle cx="4472.2" cy="1666.2" r="9.2" fill="#d4682a" stroke="#1a1a1a" stroke-width="1.5"/><path d="M4472.2,1666.2L4472.2,1657.0A9.2,9.2 0 0 1 4475.0,1657.5Z" fill="#eda126"/><path d="M4472.2,1666.2L4463.0,1666.2A9.2,9.2 0 0 1 4464.8,1660.8Z" fill="#dc2a0e"/><path d="M4472.2,1666.2L4464.8,1660.8A9.2,9.2 0 0 1 4472.2,1657.0Z" fill="#d9308c"/>
<circle cx="4501.9" cy="1701.5" r="9.2" fill="#d4682a" stroke="#1a1a1a" stroke-width="1.5"/><path d="M4501.9,1701.5L4501.9,1692.3A9.2,9.2 0 0 1 4509.3,1706.9Z" fill="#eda126"/><path d="M4501.9,1701.5L4496.5,1694.1A9.2,9.2 0 0 1 4501.9,1692.3Z" fill="#dc2a0e"/>
<circle cx="3556.8" cy="1461.3" r="8.5" fill="#dc2a0e" stroke="#1a1a1a" stroke-width="1.5"/><path d="M3556.8,1461.3L3556.8,1452.8A8.5,8.5 0 0 1 3561.8,1454.4Z" fill="#eda126"/><path d="M3556.8,1461.3L3561.8,1454.4A8.5,8.5 0 0 1 3561.8,1468.2Z" fill="#d4682a"/>
<circle cx="3929.1" cy="1454.3" r="8.5" fill="#dc2a0e" stroke="#1a1a1a" stroke-width="1.5"/><path d="M3929.1,1454.3L3929.1,1445.8A8.5,8.5 0 0 1 3931.7,1446.2Z" fill="#eda126"/><path d="M3929.1,1454.3L3931.7,1446.2A8.5,8.5 0 0 1 3937.2,1451.7Z" fill="#d4682a"/>
<circle cx="3499.6" cy="1527.7" r="8.5" fill="#d4682a" stroke="#1a1a1a" stroke-width="1.5"/><path d="M3499.6,1527.7L3499.6,1519.2A8.5,8.5 0 0 1 3504.6,1520.8Z" fill="#eda126"/><path d="M3499.6,1527.7L3491.5,1530.3A8.5,8.5 0 0 1 3499.6,1519.2Z" fill="#dc2a0e"/>
<circle cx="3655.7" cy="1600.5" r="8.5" fill="#dc2a0e" stroke="#1a1a1a" stroke-width="1.5"/><path d="M3655.7,1600.5L3655.7,1592.0A8.5,8.5 0 0 1 3658.3,1592.4Z" fill="#eda126"/><path d="M3655.7,1600.5L3658.3,1592.4A8.5,8.5 0 0 1 3663.8,1597.9Z" fill="#d4682a"/>
<circle cx="3857.7" cy="1673.9" r="8.5" fill="#d4682a" stroke="#1a1a1a" stroke-width="1.5"/><path d="M3857.7,1673.9L3857.7,1665.4A8.5,8.5 0 0 1 3860.8,1666.0Z" fill="#eda126"/><path d="M3857.7,1673.9L3851.9,1667.7A8.5,8.5 0 0 1 3857.7,1665.4Z" fill="#dc2a0e"/>
<circle cx="3958.7" cy="1667.6" r="8.5" fill="#d4682a" stroke="#1a1a1a" stroke-width="1.5"/><path d="M3958.7,1667.6L3958.7,1659.1A8.5,8.5 0 0 1 3963.7,1660.7Z" fill="#eda126"/><path d="M3958.7,1667.6L3950.6,1670.2A8.5,8.5 0 0 1 3958.7,1659.1Z" fill="#dc2a0e"/>
<circle cx="3607.7" cy="1721.3" r="8.5" fill="#d4682a" stroke="#1a1a1a" stroke-width="1.5"/><path d="M3607.7,1721.3L3607.7,1712.8A8.5,8.5 0 0 1 3610.8,1713.4Z" fill="#eda126"/><path d="M3607.7,1721.3L3601.9,1715.1A8.5,8.5 0 0 1 3607.7,1712.8Z" fill="#dc2a0e"/>
<circle cx="4470.1" cy="1902.8" r="8.5" fill="#d4682a" stroke="#1a1a1a" stroke-width="1.5"/><path d="M4470.1,1902.8L4470.1,1894.3A8.5,8.5 0 0 1 4473.2,1894.9Z" fill="#eda126"/><path d="M4470.1,1902.8L4464.3,1896.6A8.5,8.5 0 0 1 4470.1,1894.3Z" fill="#dc2a0e"/>
<circle cx="4581.0" cy="1669.0" r="8.5" fill="#d9308c" stroke="#1a1a1a" stroke-width="1.5"/>
<circle cx="4634.7" cy="1754.5" r="8.5" fill="#eda126" stroke="#1a1a1a" stroke-width="1.5"/><path d="M4634.7,1754.5L4626.6,1757.1A8.5,8.5 0 0 1 4632.1,1746.4Z" fill="#d4682a"/><path d="M4634.7,1754.5L4632.1,1746.4A8.5,8.5 0 0 1 4634.7,1746.0Z" fill="#dc2a0e"/>
<circle cx="4901.0" cy="1731.9" r="8.5" fill="#d4682a" stroke="#1a1a1a" stroke-width="1.5"/><path d="M4901.0,1731.9L4901.0,1723.4A8.5,8.5 0 0 1 4904.1,1724.0Z" fill="#eda126"/><path d="M4901.0,1731.9L4895.2,1725.7A8.5,8.5 0 0 1 4901.0,1723.4Z" fill="#dc2a0e"/>
<circle cx="4823.3" cy="1750.9" r="8.5" fill="#d4682a" stroke="#1a1a1a" stroke-width="1.5"/><path d="M4823.3,1750.9L4823.3,1742.4A8.5,8.5 0 0 1 4826.4,1743.0Z" fill="#eda126"/><path d="M4823.3,1750.9L4817.5,1744.7A8.5,8.5 0 0 1 4823.3,1742.4Z" fill="#dc2a0e"/>
<circle cx="4247.6" cy="1465.6" r="7.8" fill="#d4682a" stroke="#1a1a1a" stroke-width="1.5"/><path d="M4247.6,1465.6L4247.6,1457.8A7.8,7.8 0 0 1 4250.5,1458.3Z" fill="#eda126"/><path d="M4247.6,1465.6L4242.3,1459.9A7.8,7.8 0 0 1 4247.6,1457.8Z" fill="#dc2a0e"/>
<circle cx="3881.7" cy="1496.7" r="7.8" fill="#dc2a0e" stroke="#1a1a1a" stroke-width="1.5"/><path d="M3881.7,1496.7L3881.7,1488.9A7.8,7.8 0 0 1 3884.1,1489.3Z" fill="#eda126"/><path d="M3881.7,1496.7L3884.1,1489.3A7.8,7.8 0 0 1 3889.1,1494.3Z" fill="#d4682a"/>
<circle cx="3924.8" cy="1498.1" r="7.8" fill="#dc2a0e" stroke="#1a1a1a" stroke-width="1.5"/><path d="M3924.8,1498.1L3924.8,1490.3A7.8,7.8 0 0 1 3927.2,1490.7Z" fill="#eda126"/><path d="M3924.8,1498.1L3927.2,1490.7A7.8,7.8 0 0 1 3932.2,1495.7Z" fill="#d4682a"/>
<circle cx="4001.8" cy="1572.2" r="7.8" fill="#d4682a" stroke="#1a1a1a" stroke-width="1.5"/><path d="M4001.8,1572.2L4001.8,1564.4A7.8,7.8 0 0 1 4004.7,1564.9Z" fill="#eda126"/><path d="M4001.8,1572.2L3996.5,1566.5A7.8,7.8 0 0 1 4001.8,1564.4Z" fill="#dc2a0e"/>
<circle cx="3703.8" cy="1735.4" r="7.8" fill="#dc2a0e" stroke="#1a1a1a" stroke-width="1.5"/><path d="M3703.8,1735.4L3703.8,1727.6A7.8,7.8 0 0 1 3706.2,1728.0Z" fill="#eda126"/><path d="M3703.8,1735.4L3706.2,1728.0A7.8,7.8 0 0 1 3711.2,1733.0Z" fill="#d4682a"/>
<circle cx="4736.4" cy="1585.6" r="7.8" fill="#dc2a0e" stroke="#1a1a1a" stroke-width="1.5"/><path d="M4736.4,1585.6L4736.4,1577.8A7.8,7.8 0 0 1 4738.8,1578.2Z" fill="#eda126"/><path d="M4736.4,1585.6L4738.8,1578.2A7.8,7.8 0 0 1 4743.8,1583.2Z" fill="#d4682a"/>
<circle cx="4823.3" cy="1629.4" r="7.8" fill="#dc2a0e" stroke="#1a1a1a" stroke-width="1.5"/><path d="M4823.3,1629.4L4823.3,1621.6A7.8,7.8 0 0 1 4825.7,1622.0Z" fill="#eda126"/><path d="M4823.3,1629.4L4825.7,1622.0A7.8,7.8 0 0 1 4830.7,1627.0Z" fill="#d4682a"/>
<circle cx="4524.5" cy="1659.8" r="7.8" fill="#d4682a" stroke="#1a1a1a" stroke-width="1.5"/><path d="M4524.5,1659.8L4524.5,1652.0A7.8,7.8 0 0 1 4527.4,1652.5Z" fill="#eda126"/><path d="M4524.5,1659.8L4519.2,1654.1A7.8,7.8 0 0 1 4524.5,1652.0Z" fill="#dc2a0e"/>
<circle cx="4468.7" cy="1734.7" r="7.8" fill="#d4682a" stroke="#1a1a1a" stroke-width="1.5"/><path d="M4468.7,1734.7L4468.7,1726.9A7.8,7.8 0 0 1 4471.6,1727.4Z" fill="#eda126"/><path d="M4468.7,1734.7L4463.4,1729.0A7.8,7.8 0 0 1 4468.7,1726.9Z" fill="#dc2a0e"/>
<circle cx="4383.9" cy="1844.9" r="9.2" fill="none" stroke="#1a1a1a" stroke-width="1.5"/>
<circle cx="4422.8" cy="1879.5" r="9.2" fill="none" stroke="#1a1a1a" stroke-width="1.5"/>
<clipPath id="c4"><use href="#cz" transform="matrix(0.4785,0,0,0.4785,3350.3,2234.6)"/></clipPath>
<g clip-path="url(#c4)">
<use href="#cz" transform="matrix(0.4785,0,0,0.4785,3350.3,2234.6)" fill="#c7e9c0"/>
<g stroke="#5c8a5c" stroke-opacity="0.4" stroke-width="1.2">
<polygon points="3900.3,2461.6 3916.8,2507.9 3894.9,2533.1 3892.8,2563.0 3904.3,2575.5 3967.9,2581.7 3970.2,2521.6 3981.6,2514.1 4000.7,2467.1 3981.9,2438.4 3908.2,2450.7" fill="#74c476"/>
<polygon points="3777.5,2619.6 3745.7,2611.2 3711.4,2625.2 3691.6,2666.7 3624.2,2657.7 3586.4,2695.4 3665.8,2746.2 3684.9,2743.0 3713.5,2709.1 3750.5,2713.3 3767.0,2705.5 3786.1,2677.2 3778.4,2621.0" fill="#74c476"/>
<polygon points="3999.1,2847.2 4062.3,2845.2 4074.4,2823.1 4070.6,2791.6 4015.7,2758.5 3989.5,2802.1" fill="#74c476"/>
<polygon points="3709.8,2798.0 3674.3,2822.9 3640.8,2808.6 3604.8,2878.5 3668.7,2890.2 3675.6,2901.3 3740.5,2898.5 3757.3,2930.7 3796.4,2931.1 3824.3,2871.9 3758.7,2848.9 3753.9,2841.5 3749.1,2811.2" fill="#74c476"/>
<polygon points="3843.5,2850.4 3826.5,2871.2 3882.8,2935.0 3915.3,2925.5 3924.3,2868.2" fill="#74c476"/>
<polygon points="3933.1,2938.6 3940.5,3007.2 3960.5,3022.3 3994.9,3011.7 4025.4,2948.3 4018.9,2935.2 4009.9,2928.8" fill="#74c476"/>
<polygon points="3875.9,3012.3 3861.0,2964.7 3814.2,2959.6 3782.3,3015.6 3854.2,3050.1" fill="#74c476"/>
<polygon points="3595.6,2887.1 3488.8,2839.6 3339.8,2897.5 3339.8,3299.1 3509.6,3073.2" fill="#74c476"/>
<polygon points="3781.2,3016.1 3730.6,2989.0 3444.8,3300.2 3603.9,3300.2 3719.6,3167.8" fill="#74c476"/>
<polygon points="3907.8,3103.2 3899.3,3104.4 3836.0,3300.2 4124.6,3300.2" fill="#74c476"/>
<polygon points="3999.7,2361.3 4053.5,2401.7 4084.9,2398.2 4215.8,2289.9 3995.6,2289.7 3993.7,2305.2" fill="#74c476"/>
<polygon points="4479.5,2621.1 4548.4,2647.0 4558.0,2644.5 4590.0,2732.0 4615.9,2737.6 4643.6,2710.6 4652.0,2675.8 4563.4,2640.6 4702.7,2289.7 4570.8,2289.8 4422.7,2537.8 4424.4,2547.7" fill="#74c476"/>
<polygon points="4402.6,2608.2 4348.6,2660.0 4388.0,2697.0 4384.7,2704.8 4341.4,2721.0 4333.2,2716.9 4324.5,2673.7 4291.7,2678.1 4259.4,2709.2 4269.2,2736.5 4285.3,2749.0 4293.9,2775.1 4346.9,2778.2 4361.7,2762.4 4399.4,2758.0 4432.2,2751.0 4443.2,2696.0 4415.2,2684.0" fill="#74c476"/>
<polygon points="4210.5,2829.0 4151.8,2791.4 4131.6,2832.9 4135.7,2844.0 4134.1,2889.0 4210.8,2885.6 4207.5,2842.1" fill="#74c476"/>
<polygon points="4364.9,2836.5 4366.7,2878.0 4389.9,2897.3 4447.7,2874.9 4429.9,2828.5 4403.0,2820.9" fill="#74c476"/>
<polygon points="4798.1,2861.1 4839.2,2938.2 4900.8,2998.3 4861.5,2836.6 4853.4,2828.1 4803.4,2829.6" fill="#74c476"/>
<polygon points="4493.3,3058.1 4564.1,3072.5 4574.5,3050.8 4559.3,3005.2 4501.3,3022.5 4489.2,3041.8" fill="#74c476"/>
<polygon points="4198.9,2984.0 4164.6,3020.7 4156.2,3187.4 4257.2,3039.9" fill="#74c476"/>
<polygon points="3510.0,2311.1 3516.1,2585.5 3463.9,2605.7 3477.9,2665.9 3433.9,2723.5 3529.0,2737.5 3533.4,2806.3 3568.7,2810.0 3603.6,2878.9 3605.3,2878.4 3641.3,2808.8 3632.8,2792.7 3599.1,2785.7 3580.2,2699.4 3581.3,2697.0 3542.0,2656.9 3539.3,2604.7 3594.7,2584.2 3582.7,2464.9 3551.7,2382.3" fill="#a1d99b"/>
<polygon points="4045.4,2458.2 4037.8,2464.1 4068.1,2533.3 4099.3,2515.1 4121.1,2518.3 4143.0,2550.3 4183.2,2534.7 4209.2,2576.9 4211.8,2577.3 4255.6,2616.6 4255.4,2617.5 4291.7,2678.5 4324.3,2674.3 4332.8,2717.4 4341.5,2721.6 4385.2,2705.2 4388.6,2696.7 4349.3,2660.1 4402.6,2608.5 4425.0,2547.5 4423.1,2537.6 4395.8,2540.6 4380.4,2538.4 4284.0,2483.7 4253.3,2522.9 4202.1,2500.0 4193.6,2503.4 4166.5,2489.8 4167.9,2408.8 4122.4,2448.9 4095.8,2435.6 4062.6,2458.8" fill="#a1d99b"/>
<polygon points="3900.7,2461.5 3860.1,2458.4 3829.4,2489.4 3798.9,2485.0 3772.8,2534.2 3805.1,2563.7 3777.1,2619.8 3777.9,2621.3 3854.1,2624.6 3871.3,2645.2 3903.8,2628.7 3904.7,2575.2 3893.3,2562.6 3854.2,2582.5 3820.0,2559.9 3840.4,2521.6 3895.2,2533.5 3917.4,2508.2" fill="#a1d99b"/>
<polygon points="3442.4,2596.8 3340.3,2378.0 3339.9,2377.9 3339.8,2709.2" fill="#a1d99b"/>
<polygon points="4077.1,2583.2 4059.4,2565.6 4020.7,2590.6 4024.4,2646.1 3979.2,2647.7 3959.8,2673.0 3956.3,2674.1 3928.1,2706.1 3926.0,2732.7 4014.6,2753.9 4015.7,2759.0 4070.3,2792.1 4106.8,2766.2 4149.0,2775.4 4176.6,2743.0 4217.3,2767.1 4227.7,2812.5 4209.9,2829.0 4206.9,2842.1 4210.4,2885.5 4226.4,2903.6 4278.7,2879.3 4263.6,2812.8 4286.0,2797.6 4294.3,2774.8 4285.8,2748.7 4269.8,2736.2 4259.9,2709.2 4240.4,2698.1 4235.0,2640.6 4176.5,2645.8 4190.4,2709.2 4176.7,2727.4 4112.5,2691.3 4111.8,2668.6 4060.0,2649.6" fill="#a1d99b"/>
<polygon points="3766.8,2705.0 3750.1,2713.0 3763.0,2794.1 3748.6,2811.4 3753.3,2841.7 3758.3,2849.5 3824.1,2872.4 3827.0,2871.2 3843.8,2850.8 3846.5,2821.4 3817.2,2784.1 3826.8,2751.3" fill="#a1d99b"/>
<polygon points="4121.4,2941.9 4123.3,2900.5 4134.6,2888.9 4136.3,2843.9 4132.2,2832.8 4074.0,2822.7 4061.8,2845.0 4072.4,2875.8 4018.4,2935.2 4024.8,2948.2 3994.5,3011.6 4070.5,3074.3 4096.2,2988.8 4093.3,2970.6" fill="#a1d99b"/>
<polygon points="3796.4,2930.6 3757.3,2930.2 3725.7,2970.3 3730.6,2989.5 3780.5,3016.2 3719.3,3167.9 3858.9,3075.5 3854.4,3049.6 3783.0,3015.4 3814.5,2960.0" fill="#a1d99b"/>
<polygon points="4361.3,2761.9 4346.6,2778.0 4361.9,2834.7 4365.1,2837.0 4403.1,2821.5 4429.9,2829.0 4459.5,2801.5 4439.7,2755.8 4496.7,2742.4 4508.7,2719.0 4512.3,2717.6 4558.3,2743.7 4547.2,2799.3 4629.5,2798.0 4616.1,2737.2 4590.4,2731.5 4558.4,2644.0 4548.5,2646.4 4479.6,2620.6 4458.3,2690.0 4442.6,2696.0 4431.7,2750.5 4399.3,2757.5" fill="#a1d99b"/>
<polygon points="4318.9,2903.8 4319.8,2941.4 4330.9,2996.8 4376.5,2989.3 4361.2,2947.5 4391.9,2924.8 4419.5,2947.9 4389.2,2997.0 4391.9,3003.3 4441.2,3007.8 4462.3,2965.1 4484.2,2972.3 4533.9,2953.1 4539.7,2926.9 4556.5,2911.9 4558.1,2865.3 4535.4,2840.8 4546.6,2799.8 4500.8,2774.0 4468.4,2801.8 4510.6,2844.5 4465.9,2884.9 4447.4,2874.5 4390.0,2896.7 4366.9,2877.6" fill="#a1d99b"/>
<polygon points="4562.7,2640.8 4651.8,2676.3 4685.8,2649.5 4729.6,2730.8 4736.5,2731.0 4815.4,2582.2 4912.6,2289.8 4702.3,2289.8" fill="#a1d99b"/>
<polygon points="4631.8,2800.6 4631.2,2803.1 4665.2,2869.5 4682.6,2870.3 4707.4,2912.0 4677.8,2930.3 4684.2,2973.9 4654.1,2997.0 4650.2,3007.9 4648.4,3009.1 4589.8,2986.4 4560.5,2999.7 4558.8,3005.5 4573.8,3050.8 4563.6,3072.3 4573.2,3192.6 4482.5,3087.3 4446.8,3099.3 4387.6,3300.2 4961.2,3300.2 4961.3,3059.4 4901.0,2998.1 4738.4,2958.3 4715.1,2913.5 4745.7,2890.9 4748.0,2862.1 4743.6,2852.2 4703.7,2842.7 4697.2,2821.4 4642.6,2799.3" fill="#a1d99b"/>
<polygon points="4167.6,2409.0 4165.9,2490.1 4193.6,2504.0 4202.3,2500.4 4263.0,2327.0 4264.7,2289.8 4239.3,2289.8" fill="#41ab5d"/>
<polygon points="3664.4,2578.7 3711.4,2625.8 3746.0,2611.6 3732.7,2553.8 3697.8,2543.1 3669.0,2564.1" fill="#41ab5d"/>
<polygon points="4701.6,2752.3 4643.4,2710.1 4615.5,2737.2 4628.9,2798.0 4631.7,2801.2 4642.7,2799.9 4701.2,2753.6" fill="#41ab5d"/>
<polygon points="3940.9,3007.3 3933.5,2938.7 3915.2,2925.0 3882.8,2934.6 3860.6,2964.9 3875.4,3012.5" fill="#41ab5d"/>
<polygon points="4559.2,3005.7 4561.0,2999.7 4533.9,2952.6 4483.8,2971.9 4501.4,3023.0" fill="#41ab5d"/>
<polygon points="4385.5,3029.0 4368.3,3041.0 4351.5,3105.0 4423.1,3075.1 4422.6,3060.7" fill="#41ab5d"/>
<polygon points="4135.1,3240.7 4089.6,3152.9 3950.8,3069.6 3907.4,3103.3 4124.3,3300.3 4139.4,3300.1" fill="#41ab5d"/>
<polygon points="4402.1,2608.3 4414.6,2684.4 4442.8,2696.4 4458.7,2690.5 4479.9,2620.8 4424.8,2547.2" fill="#238b45"/>
<polygon points="3990.1,2802.1 3923.5,2798.1 3924.2,2868.0 3988.7,2864.5 4009.7,2929.2 4018.7,2935.7 4073.1,2875.8 4062.2,2844.7 3999.6,2846.7" fill="#238b45"/>
<polygon points="4134.5,3241.0 4156.5,3187.2 4165.2,3020.7 4095.9,2988.4 4070.1,3074.1 4089.1,3153.2" fill="#238b45"/>
<polygon points="3675.6,2900.7 3676.4,2943.0 3725.8,2970.7 3757.7,2930.6 3740.8,2898.0" fill="#005a32"/>
<polygon points="4351.1,2461.8 4345.6,2453.5 4337.4,2448.0 4327.7,2446.1 4318.1,2448.0 4309.9,2453.5 4304.4,2461.7 4302.4,2471.4 4304.4,2481.1 4309.9,2489.3 4318.1,2494.8 4327.7,2496.7 4337.4,2494.8 4345.6,2489.3 4351.1,2481.1 4353.0,2471.4" fill="#ffffff"/>
<polygon points="3498.3,2554.2 3492.8,2546.0 3484.6,2540.5 3474.9,2538.6 3465.2,2540.5 3457.0,2546.0 3451.5,2554.2 3449.6,2563.9 3451.5,2573.5 3457.0,2581.7 3465.2,2587.2 3474.9,2589.2 3484.6,2587.2 3492.8,2581.7 3498.3,2573.5 3500.2,2563.9" fill="#ffffff"/>
<polygon points="4022.3,2606.4 4018.5,2601.5 4014.7,2598.4 4005.6,2594.6 3995.7,2594.6 3986.6,2598.4 3979.6,2605.3 3975.8,2614.5 3975.8,2624.3 3979.6,2633.5 3986.6,2640.4 3995.7,2644.2 4005.6,2644.2 4014.7,2640.4 4018.5,2637.3 4023.9,2629.3" fill="#ffffff"/>
<polygon points="3923.6,2639.2 3915.3,2637.8 3905.6,2639.7 3897.4,2645.2 3892.0,2653.4 3890.0,2663.1 3892.0,2672.7 3897.4,2680.9 3905.6,2686.4 3915.3,2688.4 3925.0,2686.4 3933.2,2680.9 3938.7,2672.7 3940.6,2663.1 3939.5,2656.0" fill="#ffffff"/>
<polygon points="3694.7,2780.3 3689.2,2772.1 3681.0,2766.6 3671.3,2764.7 3661.6,2766.6 3653.4,2772.1 3647.9,2780.3 3646.0,2790.0 3647.9,2799.7 3653.4,2807.9 3661.6,2813.4 3671.3,2815.3 3681.0,2813.4 3689.2,2807.9 3694.7,2799.7 3696.6,2790.0" fill="#ffffff"/>
<polygon points="3564.0,2873.5 3570.3,2870.6 3574.1,2867.4 3579.6,2859.2 3581.5,2849.5 3579.6,2839.9 3574.1,2831.6 3565.9,2826.2 3556.2,2824.2 3546.6,2826.2 3538.4,2831.6 3532.9,2839.9 3530.9,2849.5 3532.9,2859.2" fill="#ffffff"/>
<polygon points="4827.8,2728.5 4814.8,2740.2 4814.8,2750.1 4818.6,2759.3 4825.5,2766.2 4834.7,2770.0 4844.5,2770.0 4853.6,2766.2 4860.6,2759.2 4863.0,2754.9 4864.7,2746.4" fill="#ffffff"/>
<polygon points="4521.2,2785.9 4531.1,2785.9 4540.2,2782.1 4547.2,2775.1 4550.9,2766.0 4550.9,2756.1 4547.2,2747.0 4540.2,2740.0 4531.1,2736.3 4521.2,2736.3 4512.1,2740.0 4505.1,2747.0 4501.3,2756.1 4501.3,2766.0 4505.1,2775.1 4508.1,2778.7" fill="#ffffff"/>
<polygon points="4313.7,2825.7 4322.8,2829.5 4332.7,2829.5 4341.8,2825.7 4348.8,2818.8 4352.6,2809.6 4352.6,2799.8 4348.8,2790.7 4341.8,2783.7 4332.7,2779.9 4322.8,2779.9 4313.7,2783.7 4306.7,2790.7 4302.9,2799.8 4302.9,2809.6 4306.7,2818.8" fill="#ffffff"/>
<polygon points="4647.2,2833.1 4637.2,2831.0 4627.5,2832.9 4619.3,2838.4 4613.9,2846.6 4611.9,2856.3 4613.9,2866.0 4619.3,2874.2 4627.5,2879.7 4637.2,2881.6 4646.9,2879.7 4655.1,2874.2 4660.6,2866.0 4661.9,2861.6" fill="#ffffff"/>
<polygon points="4372.6,2980.0 4377.6,2982.8 4387.2,2984.8 4392.2,2984.3 4399.6,2981.4 4412.6,2959.5 4412.1,2954.5 4408.3,2945.4 4401.3,2938.4 4392.2,2934.6 4382.3,2934.6 4373.2,2938.4 4366.2,2945.4 4362.8,2953.5" fill="#ffffff"/>
</g>
</g>
<use href="#cz" transform="matrix(0.4785,0,0,0.4785,3350.3,2234.6)" fill="none" stroke="#4d4d4d" stroke-width="6.27"/>
<circle cx="3951.0" cy="2472.2" r="39.6" fill="#d4682a" stroke="#1a1a1a" stroke-width="1.3"/><path d="M3951.0,2472.2L3951.0,2432.6A39.6,39.6 0 0 1 3988.7,2460.0Z" fill="#eda126"/><path d="M3951.0,2472.2L3931.9,2506.9A39.6,39.6 0 0 1 3919.0,2495.5Z" fill="#dc2a0e"/><path d="M3951.0,2472.2L3919.0,2495.5A39.6,39.6 0 0 1 3951.0,2432.6Z" fill="#d9308c"/>
<circle cx="3947.4" cy="2632.6" r="38.1" fill="#d4682a" stroke="#1a1a1a" stroke-width="1.3"/><path d="M3947.4,2632.6L3947.4,2594.5A38.1,38.1 0 0 1 3952.2,2670.4Z" fill="#eda126"/>
<circle cx="3741.2" cy="2658.7" r="37.4" fill="#d4682a" stroke="#1a1a1a" stroke-width="1.3"/><path d="M3741.2,2658.7L3741.2,2621.3A37.4,37.4 0 0 1 3771.5,2636.7Z" fill="#eda126"/><path d="M3741.2,2658.7L3729.6,2623.1A37.4,37.4 0 0 1 3741.2,2621.3Z" fill="#d9308c"/>
<circle cx="3883.2" cy="2706.7" r="36.0" fill="#d4682a" stroke="#1a1a1a" stroke-width="1.3"/><path d="M3883.2,2706.7L3883.2,2670.7A36.0,36.0 0 0 1 3912.3,2685.5Z" fill="#eda126"/><path d="M3883.2,2706.7L3862.0,2677.6A36.0,36.0 0 0 1 3883.2,2670.7Z" fill="#d9308c"/>
<circle cx="3868.3" cy="2501.9" r="34.6" fill="#d4682a" stroke="#1a1a1a" stroke-width="1.3"/>
<circle cx="4225.0" cy="2735.0" r="33.2" fill="#d4682a" stroke="#1a1a1a" stroke-width="1.3"/><path d="M4225.0,2735.0L4214.7,2766.6A33.2,33.2 0 0 1 4214.7,2703.4Z" fill="#dc2a0e"/><path d="M4225.0,2735.0L4214.7,2703.4A33.2,33.2 0 0 1 4225.0,2701.8Z" fill="#d9308c"/>
<circle cx="4582.4" cy="2824.7" r="33.2" fill="#d4682a" stroke="#1a1a1a" stroke-width="1.3"/><path d="M4582.4,2824.7L4582.4,2791.5A33.2,33.2 0 0 1 4601.9,2797.8Z" fill="#eda126"/><path d="M4582.4,2824.7L4555.5,2805.2A33.2,33.2 0 0 1 4582.4,2791.5Z" fill="#d9308c"/>
<circle cx="4530.1" cy="3042.2" r="32.5" fill="#d4682a" stroke="#1a1a1a" stroke-width="1.3"/><path d="M4530.1,3042.2L4511.0,3015.9A32.5,32.5 0 0 1 4530.1,3009.7Z" fill="#dc2a0e"/>
<circle cx="4405.1" cy="2860.7" r="31.8" fill="#d4682a" stroke="#1a1a1a" stroke-width="1.3"/><path d="M4405.1,2860.7L4414.9,2890.9A31.8,31.8 0 0 1 4374.9,2850.9Z" fill="#dc2a0e"/><path d="M4405.1,2860.7L4374.9,2850.9A31.8,31.8 0 0 1 4405.1,2828.9Z" fill="#d9308c"/>
<circle cx="4166.4" cy="2830.3" r="31.1" fill="#d4682a" stroke="#1a1a1a" stroke-width="1.3"/><path d="M4166.4,2830.3L4166.4,2799.2A31.1,31.1 0 0 1 4184.7,2855.5Z" fill="#eda126"/>
<circle cx="4475.8" cy="3125.6" r="30.4" fill="#d4682a" stroke="#1a1a1a" stroke-width="1.3"/><path d="M4475.8,3125.6L4475.8,3095.2A30.4,30.4 0 0 1 4493.7,3101.0Z" fill="#eda126"/>
<circle cx="3929.8" cy="2555.6" r="29.7" fill="#d4682a" stroke="#1a1a1a" stroke-width="1.3"/><path d="M3929.8,2555.6L3929.8,2525.9A29.7,29.7 0 0 1 3958.0,2546.4Z" fill="#eda126"/><path d="M3929.8,2555.6L3901.6,2564.8A29.7,29.7 0 0 1 3929.8,2525.9Z" fill="#dc2a0e"/>
<circle cx="4067.5" cy="2685.5" r="29.0" fill="#d4682a" stroke="#1a1a1a" stroke-width="1.3"/><path d="M4067.5,2685.5L4067.5,2656.5A29.0,29.0 0 0 1 4076.5,2657.9Z" fill="#eda126"/><path d="M4067.5,2685.5L4044.0,2668.5A29.0,29.0 0 0 1 4067.5,2656.5Z" fill="#d9308c"/>
<circle cx="4526.6" cy="2590.2" r="27.5" fill="#d4682a" stroke="#1a1a1a" stroke-width="1.3"/><path d="M4526.6,2590.2L4526.6,2617.7A27.5,27.5 0 0 1 4526.6,2562.7Z" fill="#dc2a0e"/>
<circle cx="3500.3" cy="2629.7" r="27.5" fill="#d4682a" stroke="#1a1a1a" stroke-width="1.3"/><path d="M3500.3,2629.7L3500.3,2602.2A27.5,27.5 0 0 1 3526.5,2621.2Z" fill="#eda126"/>
<circle cx="4184.1" cy="2464.5" r="26.8" fill="#d4682a" stroke="#1a1a1a" stroke-width="1.3"/><path d="M4184.1,2464.5L4171.2,2441.0A26.8,26.8 0 0 1 4184.1,2437.7Z" fill="#d9308c"/>
<circle cx="3709.4" cy="2581.0" r="26.8" fill="#d4682a" stroke="#1a1a1a" stroke-width="1.3"/><path d="M3709.4,2581.0L3683.9,2589.3A26.8,26.8 0 0 1 3682.6,2581.0Z" fill="#dc2a0e"/><path d="M3709.4,2581.0L3682.6,2581.0A26.8,26.8 0 0 1 3709.4,2554.2Z" fill="#d9308c"/>
<circle cx="3910.7" cy="3044.3" r="26.8" fill="#d4682a" stroke="#1a1a1a" stroke-width="1.3"/><path d="M3910.7,3044.3L3910.7,3017.5A26.8,26.8 0 0 1 3936.2,3052.6Z" fill="#eda126"/>
<circle cx="3541.3" cy="2883.3" r="26.1" fill="#eda126" stroke="#1a1a1a" stroke-width="1.3"/><path d="M3541.3,2883.3L3533.2,2858.5A26.1,26.1 0 0 1 3541.3,2857.2Z" fill="#d4682a"/>
<circle cx="3935.4" cy="2381.8" r="25.4" fill="#dc2a0e" stroke="#1a1a1a" stroke-width="1.3"/><path d="M3935.4,2381.8L3935.4,2356.4A25.4,25.4 0 0 1 3950.3,2402.3Z" fill="#d4682a"/>
<circle cx="3626.8" cy="2554.9" r="25.4" fill="#d4682a" stroke="#1a1a1a" stroke-width="1.3"/>
<circle cx="3972.9" cy="2713.8" r="25.4" fill="#d4682a" stroke="#1a1a1a" stroke-width="1.3"/>
<circle cx="4074.6" cy="2914.4" r="25.4" fill="#d4682a" stroke="#1a1a1a" stroke-width="1.3"/><path d="M4074.6,2914.4L4062.4,2892.1A25.4,25.4 0 0 1 4074.6,2889.0Z" fill="#d9308c"/>
<circle cx="4169.9" cy="2918.6" r="25.4" fill="#d4682a" stroke="#1a1a1a" stroke-width="1.3"/><path d="M4169.9,2918.6L4157.7,2896.3A25.4,25.4 0 0 1 4169.9,2893.2Z" fill="#d9308c"/>
<circle cx="3773.0" cy="2965.9" r="25.4" fill="#d4682a" stroke="#1a1a1a" stroke-width="1.3"/>
<circle cx="4604.3" cy="3017.5" r="25.4" fill="#d4682a" stroke="#1a1a1a" stroke-width="1.3"/><path d="M4604.3,3017.5L4604.3,2992.1A25.4,25.4 0 0 1 4629.7,3017.5Z" fill="#eda126"/><path d="M4604.3,3017.5L4585.8,3000.1A25.4,25.4 0 0 1 4604.3,2992.1Z" fill="#d9308c"/>
<circle cx="4672.8" cy="3047.2" r="25.4" fill="#d4682a" stroke="#1a1a1a" stroke-width="1.3"/><path d="M4672.8,3047.2L4672.8,3021.8A25.4,25.4 0 0 1 4693.3,3062.1Z" fill="#eda126"/><path d="M4672.8,3047.2L4657.9,3026.7A25.4,25.4 0 0 1 4672.8,3021.8Z" fill="#dc2a0e"/>
<circle cx="4599.4" cy="2691.2" r="24.7" fill="#d4682a" stroke="#1a1a1a" stroke-width="1.3"/><path d="M4599.4,2691.2L4587.5,2669.6A24.7,24.7 0 0 1 4599.4,2666.5Z" fill="#d9308c"/>
<circle cx="4410.8" cy="2718.7" r="24.7" fill="#d4682a" stroke="#1a1a1a" stroke-width="1.3"/><path d="M4410.8,2718.7L4410.8,2694.0A24.7,24.7 0 0 1 4418.4,2695.2Z" fill="#eda126"/><path d="M4410.8,2718.7L4418.4,2742.2A24.7,24.7 0 0 1 4390.8,2704.2Z" fill="#dc2a0e"/><path d="M4410.8,2718.7L4390.8,2704.2A24.7,24.7 0 0 1 4410.8,2694.0Z" fill="#d9308c"/>
<circle cx="4425.6" cy="2913.7" r="24.7" fill="#d4682a" stroke="#1a1a1a" stroke-width="1.3"/><path d="M4425.6,2913.7L4413.7,2892.1A24.7,24.7 0 0 1 4425.6,2889.0Z" fill="#d9308c"/>
<circle cx="4494.1" cy="2937.7" r="24.7" fill="#d4682a" stroke="#1a1a1a" stroke-width="1.3"/><path d="M4494.1,2937.7L4482.2,2916.1A24.7,24.7 0 0 1 4494.1,2913.0Z" fill="#d9308c"/>
<circle cx="4129.7" cy="3030.2" r="24.7" fill="#dc2a0e" stroke="#1a1a1a" stroke-width="1.3"/><path d="M4129.7,3030.2L4129.7,3005.5A24.7,24.7 0 0 1 4149.7,3044.7Z" fill="#d4682a"/><path d="M4129.7,3030.2L4109.7,3015.7A24.7,24.7 0 0 1 4129.7,3005.5Z" fill="#d9308c"/>
<circle cx="4295.6" cy="2528.0" r="24.0" fill="#d4682a" stroke="#1a1a1a" stroke-width="1.3"/><path d="M4295.6,2528.0L4284.0,2507.0A24.0,24.0 0 0 1 4295.6,2504.0Z" fill="#d9308c"/>
<circle cx="4424.2" cy="2982.2" r="24.0" fill="#d4682a" stroke="#1a1a1a" stroke-width="1.3"/><path d="M4424.2,2982.2L4424.2,2958.2A24.0,24.0 0 0 1 4448.2,2982.2Z" fill="#eda126"/><path d="M4424.2,2982.2L4406.7,2965.8A24.0,24.0 0 0 1 4424.2,2958.2Z" fill="#d9308c"/>
<circle cx="4007.5" cy="2558.4" r="23.3" fill="#d4682a" stroke="#1a1a1a" stroke-width="1.3"/><path d="M4007.5,2558.4L4007.5,2535.1A23.3,23.3 0 0 1 4026.4,2544.7Z" fill="#eda126"/><path d="M4007.5,2558.4L3988.6,2544.7A23.3,23.3 0 0 1 4007.5,2535.1Z" fill="#dc2a0e"/>
<circle cx="4205.9" cy="2614.9" r="23.3" fill="#d4682a" stroke="#1a1a1a" stroke-width="1.3"/><path d="M4205.9,2614.9L4205.9,2591.6A23.3,23.3 0 0 1 4224.8,2628.6Z" fill="#eda126"/><path d="M4205.9,2614.9L4192.2,2596.0A23.3,23.3 0 0 1 4205.9,2591.6Z" fill="#dc2a0e"/>
<circle cx="4494.8" cy="2674.9" r="23.3" fill="#d4682a" stroke="#1a1a1a" stroke-width="1.3"/><path d="M4494.8,2674.9L4483.6,2654.5A23.3,23.3 0 0 1 4494.8,2651.6Z" fill="#d9308c"/>
<circle cx="4072.5" cy="2747.7" r="23.3" fill="#d4682a" stroke="#1a1a1a" stroke-width="1.3"/><path d="M4072.5,2747.7L4072.5,2724.4A23.3,23.3 0 0 1 4091.4,2761.4Z" fill="#eda126"/><path d="M4072.5,2747.7L4058.8,2728.8A23.3,23.3 0 0 1 4072.5,2724.4Z" fill="#dc2a0e"/>
<circle cx="3665.6" cy="2521.0" r="22.6" fill="#d4682a" stroke="#1a1a1a" stroke-width="1.3"/><path d="M3665.6,2521.0L3654.7,2501.2A22.6,22.6 0 0 1 3665.6,2498.4Z" fill="#d9308c"/>
<circle cx="4624.1" cy="2629.0" r="22.6" fill="#d4682a" stroke="#1a1a1a" stroke-width="1.3"/><path d="M4624.1,2629.0L4624.1,2606.4A22.6,22.6 0 0 1 4642.4,2642.3Z" fill="#eda126"/><path d="M4624.1,2629.0L4610.8,2610.7A22.6,22.6 0 0 1 4624.1,2606.4Z" fill="#dc2a0e"/>
<circle cx="4044.9" cy="2616.3" r="22.6" fill="#d4682a" stroke="#1a1a1a" stroke-width="1.3"/><path d="M4044.9,2616.3L4034.0,2596.5A22.6,22.6 0 0 1 4044.9,2593.7Z" fill="#d9308c"/>
<circle cx="4385.4" cy="2665.8" r="22.6" fill="#d4682a" stroke="#1a1a1a" stroke-width="1.3"/><path d="M4385.4,2665.8L4385.4,2643.2A22.6,22.6 0 0 1 4392.4,2644.3Z" fill="#eda126"/><path d="M4385.4,2665.8L4392.4,2687.3A22.6,22.6 0 0 1 4367.1,2652.5Z" fill="#dc2a0e"/><path d="M4385.4,2665.8L4367.1,2652.5A22.6,22.6 0 0 1 4385.4,2643.2Z" fill="#d9308c"/>
<circle cx="3799.1" cy="2822.6" r="22.6" fill="#d4682a" stroke="#1a1a1a" stroke-width="1.3"/><path d="M3799.1,2822.6L3799.1,2800.0A22.6,22.6 0 0 1 3806.1,2801.1Z" fill="#eda126"/><path d="M3799.1,2822.6L3806.1,2844.1A22.6,22.6 0 0 1 3780.8,2809.3Z" fill="#dc2a0e"/><path d="M3799.1,2822.6L3780.8,2809.3A22.6,22.6 0 0 1 3799.1,2800.0Z" fill="#d9308c"/>
<circle cx="4770.3" cy="2706.7" r="21.9" fill="#d4682a" stroke="#1a1a1a" stroke-width="1.3"/>
<circle cx="4302.7" cy="2706.7" r="21.9" fill="#d4682a" stroke="#1a1a1a" stroke-width="1.3"/><path d="M4302.7,2706.7L4302.7,2684.8A21.9,21.9 0 0 1 4309.5,2685.9Z" fill="#eda126"/><path d="M4302.7,2706.7L4309.5,2727.5A21.9,21.9 0 0 1 4285.0,2693.8Z" fill="#dc2a0e"/><path d="M4302.7,2706.7L4285.0,2693.8A21.9,21.9 0 0 1 4302.7,2684.8Z" fill="#d9308c"/>
<circle cx="3719.3" cy="2923.6" r="21.9" fill="#d4682a" stroke="#1a1a1a" stroke-width="1.3"/>
<circle cx="3823.8" cy="2647.4" r="21.2" fill="#d4682a" stroke="#1a1a1a" stroke-width="1.3"/><path d="M3823.8,2647.4L3823.8,2626.2A21.2,21.2 0 0 1 3836.3,2630.2Z" fill="#eda126"/><path d="M3823.8,2647.4L3803.6,2654.0A21.2,21.2 0 0 1 3823.8,2626.2Z" fill="#dc2a0e"/>
<circle cx="4691.2" cy="2713.8" r="21.2" fill="#d4682a" stroke="#1a1a1a" stroke-width="1.3"/><path d="M4691.2,2713.8L4691.2,2692.6A21.2,21.2 0 0 1 4708.4,2726.3Z" fill="#eda126"/><path d="M4691.2,2713.8L4678.7,2696.6A21.2,21.2 0 0 1 4691.2,2692.6Z" fill="#dc2a0e"/>
<circle cx="4376.9" cy="2791.5" r="21.2" fill="#d4682a" stroke="#1a1a1a" stroke-width="1.3"/>
<circle cx="3955.9" cy="2830.3" r="21.2" fill="#d4682a" stroke="#1a1a1a" stroke-width="1.3"/><path d="M3955.9,2830.3L3955.9,2809.1A21.2,21.2 0 0 1 3973.1,2842.8Z" fill="#eda126"/><path d="M3955.9,2830.3L3943.4,2813.1A21.2,21.2 0 0 1 3955.9,2809.1Z" fill="#dc2a0e"/>
<circle cx="4608.5" cy="3079.7" r="21.2" fill="#d4682a" stroke="#1a1a1a" stroke-width="1.3"/><path d="M4608.5,3079.7L4608.5,3058.5A21.2,21.2 0 0 1 4625.7,3092.2Z" fill="#eda126"/><path d="M4608.5,3079.7L4596.0,3062.5A21.2,21.2 0 0 1 4608.5,3058.5Z" fill="#dc2a0e"/>
<circle cx="3965.8" cy="3115.0" r="21.2" fill="#d4682a" stroke="#1a1a1a" stroke-width="1.3"/><path d="M3965.8,3115.0L3965.8,3093.8A21.2,21.2 0 0 1 3987.0,3115.0Z" fill="#eda126"/><path d="M3965.8,3115.0L3950.3,3100.5A21.2,21.2 0 0 1 3965.8,3093.8Z" fill="#d9308c"/>
<circle cx="4025.1" cy="2424.2" r="20.5" fill="#d4682a" stroke="#1a1a1a" stroke-width="1.3"/>
<circle cx="4238.4" cy="2483.5" r="20.5" fill="#d4682a" stroke="#1a1a1a" stroke-width="1.3"/><path d="M4238.4,2483.5L4228.5,2465.5A20.5,20.5 0 0 1 4238.4,2463.0Z" fill="#d9308c"/>
<circle cx="4463.8" cy="2729.3" r="20.5" fill="#d4682a" stroke="#1a1a1a" stroke-width="1.3"/>
<circle cx="4067.5" cy="2367.7" r="19.8" fill="#d4682a" stroke="#1a1a1a" stroke-width="1.3"/><path d="M4067.5,2367.7L4048.7,2361.6A19.8,19.8 0 0 1 4067.5,2347.9Z" fill="#dc2a0e"/>
<circle cx="3760.3" cy="2460.9" r="19.8" fill="#d4682a" stroke="#1a1a1a" stroke-width="1.3"/>
<circle cx="4331.0" cy="2749.1" r="19.8" fill="#d4682a" stroke="#1a1a1a" stroke-width="1.3"/><path d="M4331.0,2749.1L4331.0,2729.3A19.8,19.8 0 0 1 4350.8,2749.1Z" fill="#eda126"/><path d="M4331.0,2749.1L4316.6,2735.5A19.8,19.8 0 0 1 4331.0,2729.3Z" fill="#d9308c"/>
<circle cx="3786.4" cy="2754.8" r="19.8" fill="#d4682a" stroke="#1a1a1a" stroke-width="1.3"/>
<circle cx="4249.0" cy="2775.9" r="19.8" fill="#d4682a" stroke="#1a1a1a" stroke-width="1.3"/><path d="M4249.0,2775.9L4239.5,2758.5A19.8,19.8 0 0 1 4249.0,2756.1Z" fill="#d9308c"/>
<circle cx="4032.2" cy="2814.1" r="19.8" fill="#d4682a" stroke="#1a1a1a" stroke-width="1.3"/><path d="M4032.2,2814.1L4032.2,2794.3A19.8,19.8 0 0 1 4048.2,2825.7Z" fill="#eda126"/><path d="M4032.2,2814.1L4020.6,2798.1A19.8,19.8 0 0 1 4032.2,2794.3Z" fill="#dc2a0e"/>
<circle cx="4824.0" cy="2852.9" r="19.8" fill="#d4682a" stroke="#1a1a1a" stroke-width="1.3"/><path d="M4824.0,2852.9L4814.5,2835.5A19.8,19.8 0 0 1 4824.0,2833.1Z" fill="#d9308c"/>
<circle cx="4515.3" cy="2886.8" r="19.8" fill="#d4682a" stroke="#1a1a1a" stroke-width="1.3"/><path d="M4515.3,2886.8L4505.8,2869.4A19.8,19.8 0 0 1 4515.3,2867.0Z" fill="#d9308c"/>
<circle cx="4715.9" cy="2872.7" r="19.8" fill="#d4682a" stroke="#1a1a1a" stroke-width="1.3"/>
<circle cx="4357.1" cy="2918.6" r="19.8" fill="#d4682a" stroke="#1a1a1a" stroke-width="1.3"/><path d="M4357.1,2918.6L4357.1,2898.8A19.8,19.8 0 0 1 4376.9,2918.6Z" fill="#eda126"/><path d="M4357.1,2918.6L4342.7,2905.0A19.8,19.8 0 0 1 4357.1,2898.8Z" fill="#d9308c"/>
<circle cx="4248.3" cy="2982.2" r="19.8" fill="#d4682a" stroke="#1a1a1a" stroke-width="1.3"/><path d="M4248.3,2982.2L4248.3,2962.4A19.8,19.8 0 0 1 4268.1,2982.2Z" fill="#eda126"/><path d="M4248.3,2982.2L4233.9,2968.6A19.8,19.8 0 0 1 4248.3,2962.4Z" fill="#d9308c"/>
<circle cx="4348.6" cy="2973.7" r="19.8" fill="#d4682a" stroke="#1a1a1a" stroke-width="1.3"/><path d="M4348.6,2973.7L4348.6,2953.9A19.8,19.8 0 0 1 4364.6,2985.3Z" fill="#eda126"/><path d="M4348.6,2973.7L4337.0,2957.7A19.8,19.8 0 0 1 4348.6,2953.9Z" fill="#dc2a0e"/>
<circle cx="4621.3" cy="2973.7" r="19.8" fill="#d4682a" stroke="#1a1a1a" stroke-width="1.3"/><path d="M4621.3,2973.7L4621.3,2953.9A19.8,19.8 0 0 1 4627.4,2954.9Z" fill="#eda126"/><path d="M4621.3,2973.7L4627.4,2992.5A19.8,19.8 0 0 1 4605.3,2962.1Z" fill="#dc2a0e"/><path d="M4621.3,2973.7L4605.3,2962.1A19.8,19.8 0 0 1 4621.3,2953.9Z" fill="#d9308c"/>
<circle cx="4044.9" cy="3004.8" r="19.8" fill="#d4682a" stroke="#1a1a1a" stroke-width="1.3"/>
<circle cx="3806.2" cy="2523.1" r="19.1" fill="#d4682a" stroke="#1a1a1a" stroke-width="1.3"/>
<circle cx="3825.9" cy="2598.7" r="19.1" fill="#d4682a" stroke="#1a1a1a" stroke-width="1.3"/><path d="M3825.9,2598.7L3825.9,2579.6A19.1,19.1 0 0 1 3841.4,2609.9Z" fill="#eda126"/><path d="M3825.9,2598.7L3814.7,2583.2A19.1,19.1 0 0 1 3825.9,2579.6Z" fill="#dc2a0e"/>
<circle cx="4210.9" cy="2671.4" r="19.1" fill="#d4682a" stroke="#1a1a1a" stroke-width="1.3"/><path d="M4210.9,2671.4L4210.9,2652.3A19.1,19.1 0 0 1 4226.4,2682.6Z" fill="#eda126"/><path d="M4210.9,2671.4L4199.7,2655.9A19.1,19.1 0 0 1 4210.9,2652.3Z" fill="#dc2a0e"/>
<circle cx="3656.4" cy="2702.5" r="19.1" fill="#d4682a" stroke="#1a1a1a" stroke-width="1.3"/>
<circle cx="4425.6" cy="2788.7" r="19.1" fill="#d4682a" stroke="#1a1a1a" stroke-width="1.3"/><path d="M4425.6,2788.7L4416.4,2772.0A19.1,19.1 0 0 1 4425.6,2769.6Z" fill="#d9308c"/>
<circle cx="4822.6" cy="2805.6" r="19.1" fill="#eda126" stroke="#1a1a1a" stroke-width="1.3"/><path d="M4822.6,2805.6L4804.4,2811.5A19.1,19.1 0 0 1 4816.7,2787.4Z" fill="#d4682a"/><path d="M4822.6,2805.6L4816.7,2787.4A19.1,19.1 0 0 1 4822.6,2786.5Z" fill="#dc2a0e"/>
<circle cx="4391.0" cy="3063.4" r="19.1" fill="#d4682a" stroke="#1a1a1a" stroke-width="1.3"/><path d="M4391.0,3063.4L4381.8,3046.7A19.1,19.1 0 0 1 4391.0,3044.3Z" fill="#d9308c"/>
<circle cx="4072.5" cy="2487.8" r="18.4" fill="#d4682a" stroke="#1a1a1a" stroke-width="1.3"/><path d="M4072.5,2487.8L4072.5,2469.4A18.4,18.4 0 0 1 4090.9,2487.8Z" fill="#eda126"/><path d="M4072.5,2487.8L4059.1,2475.2A18.4,18.4 0 0 1 4072.5,2469.4Z" fill="#d9308c"/>
<circle cx="4344.4" cy="2623.4" r="18.4" fill="#d4682a" stroke="#1a1a1a" stroke-width="1.3"/><path d="M4344.4,2623.4L4335.5,2607.3A18.4,18.4 0 0 1 4344.4,2605.0Z" fill="#d9308c"/>
<circle cx="4002.5" cy="2674.9" r="18.4" fill="#d4682a" stroke="#1a1a1a" stroke-width="1.3"/><path d="M4002.5,2674.9L3996.8,2692.4A18.4,18.4 0 0 1 3991.7,2689.8Z" fill="#dc2a0e"/><path d="M4002.5,2674.9L3991.7,2689.8A18.4,18.4 0 0 1 4002.5,2656.5Z" fill="#d9308c"/>
<circle cx="4737.1" cy="2689.1" r="18.4" fill="#d4682a" stroke="#1a1a1a" stroke-width="1.3"/>
<circle cx="3819.6" cy="2711.7" r="18.4" fill="#d4682a" stroke="#1a1a1a" stroke-width="1.3"/><path d="M3819.6,2711.7L3819.6,2693.3A18.4,18.4 0 0 1 3834.5,2722.5Z" fill="#eda126"/><path d="M3819.6,2711.7L3808.8,2696.8A18.4,18.4 0 0 1 3819.6,2693.3Z" fill="#dc2a0e"/>
<circle cx="4357.1" cy="2696.1" r="18.4" fill="#d4682a" stroke="#1a1a1a" stroke-width="1.3"/><path d="M4357.1,2696.1L4348.2,2680.0A18.4,18.4 0 0 1 4357.1,2677.7Z" fill="#d9308c"/>
<circle cx="3648.0" cy="2843.8" r="18.4" fill="#d4682a" stroke="#1a1a1a" stroke-width="1.3"/><path d="M3648.0,2843.8L3642.3,2861.3A18.4,18.4 0 0 1 3637.2,2858.7Z" fill="#dc2a0e"/><path d="M3648.0,2843.8L3637.2,2858.7A18.4,18.4 0 0 1 3648.0,2825.4Z" fill="#d9308c"/>
<circle cx="4754.0" cy="2924.3" r="18.4" fill="#d4682a" stroke="#1a1a1a" stroke-width="1.3"/><path d="M4754.0,2924.3L4745.1,2908.2A18.4,18.4 0 0 1 4754.0,2905.9Z" fill="#d9308c"/>
<circle cx="3968.6" cy="2968.1" r="18.4" fill="#d4682a" stroke="#1a1a1a" stroke-width="1.3"/>
<circle cx="4514.6" cy="2990.7" r="18.4" fill="#d4682a" stroke="#1a1a1a" stroke-width="1.3"/><path d="M4514.6,2990.7L4514.6,2972.3A18.4,18.4 0 0 1 4533.0,2990.7Z" fill="#eda126"/><path d="M4514.6,2990.7L4501.2,2978.1A18.4,18.4 0 0 1 4514.6,2972.3Z" fill="#d9308c"/>
<circle cx="4198.9" cy="3033.8" r="18.4" fill="#d4682a" stroke="#1a1a1a" stroke-width="1.3"/>
<circle cx="3799.1" cy="3063.4" r="18.4" fill="#d4682a" stroke="#1a1a1a" stroke-width="1.3"/><path d="M3799.1,3063.4L3790.2,3047.3A18.4,18.4 0 0 1 3799.1,3045.0Z" fill="#d9308c"/>
<circle cx="4283.6" cy="3091.7" r="18.4" fill="#d4682a" stroke="#1a1a1a" stroke-width="1.3"/>
<circle cx="3924.8" cy="3160.2" r="18.4" fill="#dc2a0e" stroke="#1a1a1a" stroke-width="1.3"/><path d="M3924.8,3160.2L3924.8,3141.8A18.4,18.4 0 0 1 3930.5,3142.7Z" fill="#eda126"/><path d="M3924.8,3160.2L3930.5,3142.7A18.4,18.4 0 0 1 3942.3,3154.5Z" fill="#d4682a"/>
<circle cx="3874.7" cy="2417.1" r="17.7" fill="#d4682a" stroke="#1a1a1a" stroke-width="1.3"/>
<circle cx="4111.3" cy="2420.7" r="17.7" fill="#d4682a" stroke="#1a1a1a" stroke-width="1.3"/>
<circle cx="4213.7" cy="2538.6" r="17.7" fill="#d4682a" stroke="#1a1a1a" stroke-width="1.3"/>
<circle cx="4249.0" cy="2849.4" r="17.7" fill="#d4682a" stroke="#1a1a1a" stroke-width="1.3"/>
<circle cx="3960.1" cy="2901.7" r="17.7" fill="#d4682a" stroke="#1a1a1a" stroke-width="1.3"/>
<circle cx="3905.1" cy="2975.1" r="17.7" fill="#d4682a" stroke="#1a1a1a" stroke-width="1.3"/>
<circle cx="4521.0" cy="3086.7" r="17.7" fill="#d4682a" stroke="#1a1a1a" stroke-width="1.3"/>
<circle cx="3816.8" cy="2451.0" r="17.0" fill="#d4682a" stroke="#1a1a1a" stroke-width="1.3"/>
<circle cx="4092.9" cy="2457.4" r="17.0" fill="#d4682a" stroke="#1a1a1a" stroke-width="1.3"/><path d="M4092.9,2457.4L4084.7,2442.5A17.0,17.0 0 0 1 4092.9,2440.4Z" fill="#d9308c"/>
<circle cx="3556.8" cy="2561.9" r="17.0" fill="#d4682a" stroke="#1a1a1a" stroke-width="1.3"/>
<circle cx="4661.5" cy="2754.8" r="17.0" fill="#d4682a" stroke="#1a1a1a" stroke-width="1.3"/><path d="M4661.5,2754.8L4653.3,2739.9A17.0,17.0 0 0 1 4661.5,2737.8Z" fill="#d9308c"/>
<circle cx="3959.4" cy="2770.3" r="17.0" fill="#eda126" stroke="#1a1a1a" stroke-width="1.3"/><path d="M3959.4,2770.3L3943.2,2775.6A17.0,17.0 0 0 1 3954.1,2754.1Z" fill="#d4682a"/><path d="M3959.4,2770.3L3954.1,2754.1A17.0,17.0 0 0 1 3959.4,2753.3Z" fill="#dc2a0e"/>
<circle cx="3608.4" cy="2823.3" r="17.0" fill="#d4682a" stroke="#1a1a1a" stroke-width="1.3"/>
<circle cx="3879.6" cy="2889.0" r="17.0" fill="#d4682a" stroke="#1a1a1a" stroke-width="1.3"/><path d="M3879.6,2889.0L3879.6,2872.0A17.0,17.0 0 0 1 3889.6,2875.2Z" fill="#eda126"/><path d="M3879.6,2889.0L3863.4,2894.3A17.0,17.0 0 0 1 3879.6,2872.0Z" fill="#dc2a0e"/>
<circle cx="3846.4" cy="3134.8" r="17.0" fill="#d4682a" stroke="#1a1a1a" stroke-width="1.3"/><path d="M3846.4,3134.8L3846.4,3117.8A17.0,17.0 0 0 1 3860.2,3144.8Z" fill="#eda126"/><path d="M3846.4,3134.8L3836.4,3121.0A17.0,17.0 0 0 1 3846.4,3117.8Z" fill="#dc2a0e"/>
<circle cx="3765.2" cy="2568.3" r="16.2" fill="#d4682a" stroke="#1a1a1a" stroke-width="1.3"/>
<circle cx="4109.9" cy="2551.3" r="16.2" fill="#d4682a" stroke="#1a1a1a" stroke-width="1.3"/>
<circle cx="3882.5" cy="2598.7" r="16.2" fill="#d4682a" stroke="#1a1a1a" stroke-width="1.3"/><path d="M3882.5,2598.7L3882.5,2582.5A16.2,16.2 0 0 1 3895.6,2608.2Z" fill="#eda126"/><path d="M3882.5,2598.7L3873.0,2585.6A16.2,16.2 0 0 1 3882.5,2582.5Z" fill="#dc2a0e"/>
<circle cx="4294.9" cy="2648.1" r="16.2" fill="#d4682a" stroke="#1a1a1a" stroke-width="1.3"/><path d="M4294.9,2648.1L4287.1,2633.9A16.2,16.2 0 0 1 4294.9,2631.9Z" fill="#d9308c"/>
<circle cx="4879.8" cy="2800.7" r="16.2" fill="#d4682a" stroke="#1a1a1a" stroke-width="1.3"/><path d="M4879.8,2800.7L4879.8,2784.5A16.2,16.2 0 0 1 4892.9,2810.2Z" fill="#eda126"/><path d="M4879.8,2800.7L4870.3,2787.6A16.2,16.2 0 0 1 4879.8,2784.5Z" fill="#dc2a0e"/>
<circle cx="4671.4" cy="2838.8" r="16.2" fill="#d4682a" stroke="#1a1a1a" stroke-width="1.3"/>
<circle cx="4034.3" cy="2877.7" r="16.2" fill="#d4682a" stroke="#1a1a1a" stroke-width="1.3"/>
<circle cx="4576.1" cy="2955.4" r="16.2" fill="#d4682a" stroke="#1a1a1a" stroke-width="1.3"/>
<circle cx="3734.8" cy="3037.3" r="16.2" fill="#d4682a" stroke="#1a1a1a" stroke-width="1.3"/>
<circle cx="3908.6" cy="2350.0" r="15.5" fill="#d4682a" stroke="#1a1a1a" stroke-width="1.3"/><path d="M3908.6,2350.0L3901.1,2336.4A15.5,15.5 0 0 1 3908.6,2334.5Z" fill="#d9308c"/>
<circle cx="3857.7" cy="2550.6" r="15.5" fill="#eda126" stroke="#1a1a1a" stroke-width="1.3"/><path d="M3857.7,2550.6L3843.0,2555.4A15.5,15.5 0 0 1 3852.9,2535.9Z" fill="#d4682a"/><path d="M3857.7,2550.6L3852.9,2535.9A15.5,15.5 0 0 1 3857.7,2535.1Z" fill="#dc2a0e"/>
<circle cx="4147.3" cy="2604.3" r="15.5" fill="#d4682a" stroke="#1a1a1a" stroke-width="1.3"/>
<circle cx="4436.9" cy="2657.3" r="15.5" fill="#d4682a" stroke="#1a1a1a" stroke-width="1.3"/><path d="M4436.9,2657.3L4436.9,2641.8A15.5,15.5 0 0 1 4441.7,2642.6Z" fill="#eda126"/><path d="M4436.9,2657.3L4441.7,2672.0A15.5,15.5 0 0 1 4424.4,2648.2Z" fill="#dc2a0e"/><path d="M4436.9,2657.3L4424.4,2648.2A15.5,15.5 0 0 1 4436.9,2641.8Z" fill="#d9308c"/>
<circle cx="4128.3" cy="2733.6" r="15.5" fill="#eda126" stroke="#1a1a1a" stroke-width="1.3"/><path d="M4128.3,2733.6L4123.5,2718.9A15.5,15.5 0 0 1 4128.3,2718.1Z" fill="#d4682a"/>
<circle cx="4735.7" cy="2772.4" r="15.5" fill="#d4682a" stroke="#1a1a1a" stroke-width="1.3"/>
<circle cx="4502.6" cy="2802.8" r="15.5" fill="#dc2a0e" stroke="#1a1a1a" stroke-width="1.3"/><path d="M4502.6,2802.8L4502.6,2787.3A15.5,15.5 0 0 1 4511.7,2790.3Z" fill="#eda126"/><path d="M4502.6,2802.8L4511.7,2790.3A15.5,15.5 0 0 1 4511.7,2815.3Z" fill="#d4682a"/>
<circle cx="3717.2" cy="2874.8" r="15.5" fill="#d4682a" stroke="#1a1a1a" stroke-width="1.3"/>
<circle cx="3773.7" cy="2895.3" r="15.5" fill="#d4682a" stroke="#1a1a1a" stroke-width="1.3"/>
<circle cx="4119.8" cy="2482.8" r="14.8" fill="#d4682a" stroke="#1a1a1a" stroke-width="1.3"/>
<circle cx="3763.8" cy="2500.5" r="14.8" fill="#d4682a" stroke="#1a1a1a" stroke-width="1.3"/>
<circle cx="4088.7" cy="2627.6" r="14.8" fill="#d4682a" stroke="#1a1a1a" stroke-width="1.3"/><path d="M4088.7,2627.6L4088.7,2612.8A14.8,14.8 0 0 1 4100.7,2636.3Z" fill="#eda126"/><path d="M4088.7,2627.6L4080.0,2615.6A14.8,14.8 0 0 1 4088.7,2612.8Z" fill="#dc2a0e"/>
<circle cx="4263.9" cy="2666.5" r="14.8" fill="#d4682a" stroke="#1a1a1a" stroke-width="1.3"/>
<circle cx="3509.5" cy="2694.7" r="14.8" fill="#d4682a" stroke="#1a1a1a" stroke-width="1.3"/>
<circle cx="3498.2" cy="2772.4" r="14.8" fill="#d4682a" stroke="#1a1a1a" stroke-width="1.3"/><path d="M3498.2,2772.4L3498.2,2757.6A14.8,14.8 0 0 1 3510.2,2781.1Z" fill="#eda126"/><path d="M3498.2,2772.4L3489.5,2760.4A14.8,14.8 0 0 1 3498.2,2757.6Z" fill="#dc2a0e"/>
<circle cx="3704.5" cy="2837.4" r="14.8" fill="#d4682a" stroke="#1a1a1a" stroke-width="1.3"/><path d="M3704.5,2837.4L3699.9,2851.5A14.8,14.8 0 0 1 3695.8,2849.4Z" fill="#dc2a0e"/><path d="M3704.5,2837.4L3695.8,2849.4A14.8,14.8 0 0 1 3704.5,2822.6Z" fill="#d9308c"/>
<circle cx="4598.7" cy="2889.7" r="14.8" fill="#d4682a" stroke="#1a1a1a" stroke-width="1.3"/>
<circle cx="4631.9" cy="2922.9" r="14.8" fill="#d4682a" stroke="#1a1a1a" stroke-width="1.3"/><path d="M4631.9,2922.9L4631.9,2908.1A14.8,14.8 0 0 1 4646.7,2922.9Z" fill="#eda126"/><path d="M4631.9,2922.9L4621.1,2912.8A14.8,14.8 0 0 1 4631.9,2908.1Z" fill="#d9308c"/>
<circle cx="4694.7" cy="2999.8" r="14.8" fill="#dc2a0e" stroke="#1a1a1a" stroke-width="1.3"/><path d="M4694.7,2999.8L4694.7,2985.0A14.8,14.8 0 0 1 4703.4,2987.8Z" fill="#eda126"/><path d="M4694.7,2999.8L4703.4,2987.8A14.8,14.8 0 0 1 4703.4,3011.8Z" fill="#d4682a"/>
<circle cx="4736.4" cy="2996.3" r="14.8" fill="#eda126" stroke="#1a1a1a" stroke-width="1.3"/><path d="M4736.4,2996.3L4722.3,3000.9A14.8,14.8 0 0 1 4731.8,2982.2Z" fill="#d4682a"/><path d="M4736.4,2996.3L4731.8,2982.2A14.8,14.8 0 0 1 4736.4,2981.5Z" fill="#dc2a0e"/>
<circle cx="3941.8" cy="2417.1" r="14.1" fill="#d4682a" stroke="#1a1a1a" stroke-width="1.3"/><path d="M3941.8,2417.1L3935.0,2404.7A14.1,14.1 0 0 1 3941.8,2403.0Z" fill="#d9308c"/>
<circle cx="4149.4" cy="2463.8" r="14.1" fill="#d4682a" stroke="#1a1a1a" stroke-width="1.3"/>
<circle cx="4249.0" cy="2566.9" r="14.1" fill="#d4682a" stroke="#1a1a1a" stroke-width="1.3"/>
<circle cx="4311.2" cy="2588.8" r="14.1" fill="#dc2a0e" stroke="#1a1a1a" stroke-width="1.3"/><path d="M4311.2,2588.8L4311.2,2574.7A14.1,14.1 0 0 1 4319.5,2577.4Z" fill="#eda126"/><path d="M4311.2,2588.8L4319.5,2577.4A14.1,14.1 0 0 1 4319.5,2600.2Z" fill="#d4682a"/>
<circle cx="3442.4" cy="2643.2" r="14.1" fill="#d4682a" stroke="#1a1a1a" stroke-width="1.3"/><path d="M3442.4,2643.2L3438.0,2656.6A14.1,14.1 0 0 1 3434.1,2654.6Z" fill="#dc2a0e"/><path d="M3442.4,2643.2L3434.1,2654.6A14.1,14.1 0 0 1 3442.4,2629.1Z" fill="#d9308c"/>
<circle cx="3564.6" cy="2768.2" r="14.1" fill="#d4682a" stroke="#1a1a1a" stroke-width="1.3"/>
<circle cx="4581.7" cy="2772.4" r="14.1" fill="#d4682a" stroke="#1a1a1a" stroke-width="1.3"/>
<circle cx="3838.0" cy="2925.7" r="14.1" fill="#d4682a" stroke="#1a1a1a" stroke-width="1.3"/>
<circle cx="3830.2" cy="2998.4" r="14.1" fill="#dc2a0e" stroke="#1a1a1a" stroke-width="1.3"/><path d="M3830.2,2998.4L3830.2,2984.3A14.1,14.1 0 0 1 3838.5,2987.0Z" fill="#d4682a"/><path d="M3830.2,2998.4L3821.9,3009.8A14.1,14.1 0 0 1 3830.2,2984.3Z" fill="#d9308c"/>
<circle cx="4420.0" cy="3029.5" r="14.1" fill="#d4682a" stroke="#1a1a1a" stroke-width="1.3"/>
<circle cx="3395.8" cy="2600.8" r="13.4" fill="#d4682a" stroke="#1a1a1a" stroke-width="1.3"/>
<circle cx="3580.1" cy="2625.5" r="13.4" fill="#d4682a" stroke="#1a1a1a" stroke-width="1.3"/>
<circle cx="4193.2" cy="2788.7" r="13.4" fill="#eda126" stroke="#1a1a1a" stroke-width="1.3"/><path d="M4193.2,2788.7L4201.1,2799.5A13.4,13.4 0 0 1 4185.3,2799.5Z" fill="#d4682a"/><path d="M4193.2,2788.7L4185.3,2799.5A13.4,13.4 0 0 1 4193.2,2775.3Z" fill="#dc2a0e"/>
<circle cx="4762.5" cy="2809.9" r="13.4" fill="#d4682a" stroke="#1a1a1a" stroke-width="1.3"/>
<circle cx="4282.2" cy="2920.7" r="13.4" fill="#d4682a" stroke="#1a1a1a" stroke-width="1.3"/>
<circle cx="4453.9" cy="3061.3" r="13.4" fill="#d4682a" stroke="#1a1a1a" stroke-width="1.3"/><path d="M4453.9,3061.3L4453.9,3047.9A13.4,13.4 0 0 1 4461.8,3050.5Z" fill="#eda126"/><path d="M4453.9,3061.3L4441.2,3065.4A13.4,13.4 0 0 1 4453.9,3047.9Z" fill="#dc2a0e"/>
<circle cx="4156.5" cy="2519.6" r="12.7" fill="#d4682a" stroke="#1a1a1a" stroke-width="1.3"/>
<circle cx="4173.5" cy="2563.3" r="12.7" fill="#d4682a" stroke="#1a1a1a" stroke-width="1.3"/>
<circle cx="3667.0" cy="2623.4" r="12.7" fill="#d4682a" stroke="#1a1a1a" stroke-width="1.3"/>
<circle cx="4813.4" cy="2714.5" r="12.7" fill="#d4682a" stroke="#1a1a1a" stroke-width="1.3"/>
<circle cx="4369.8" cy="2730.0" r="12.7" fill="#d4682a" stroke="#1a1a1a" stroke-width="1.3"/><path d="M4369.8,2730.0L4369.8,2717.3A12.7,12.7 0 0 1 4377.3,2719.7Z" fill="#eda126"/><path d="M4369.8,2730.0L4357.7,2733.9A12.7,12.7 0 0 1 4369.8,2717.3Z" fill="#dc2a0e"/>
<circle cx="3858.4" cy="2775.9" r="12.7" fill="#d4682a" stroke="#1a1a1a" stroke-width="1.3"/>
<circle cx="4327.4" cy="2864.2" r="12.7" fill="#d4682a" stroke="#1a1a1a" stroke-width="1.3"/>
<circle cx="4662.2" cy="2957.5" r="12.7" fill="#d4682a" stroke="#1a1a1a" stroke-width="1.3"/><path d="M4662.2,2957.5L4662.2,2944.8A12.7,12.7 0 0 1 4672.5,2965.0Z" fill="#eda126"/><path d="M4662.2,2957.5L4654.7,2947.2A12.7,12.7 0 0 1 4662.2,2944.8Z" fill="#dc2a0e"/>
<circle cx="4701.1" cy="2951.8" r="12.7" fill="#d4682a" stroke="#1a1a1a" stroke-width="1.3"/><path d="M4701.1,2951.8L4695.0,2940.7A12.7,12.7 0 0 1 4701.1,2939.1Z" fill="#d9308c"/>
<circle cx="4338.0" cy="3049.3" r="12.7" fill="#d4682a" stroke="#1a1a1a" stroke-width="1.3"/>
<circle cx="3728.5" cy="2518.8" r="12.0" fill="#d4682a" stroke="#1a1a1a" stroke-width="1.3"/>
<circle cx="4290.0" cy="2567.6" r="12.0" fill="#eda126" stroke="#1a1a1a" stroke-width="1.3"/><path d="M4290.0,2567.6L4297.1,2577.3A12.0,12.0 0 0 1 4282.9,2577.3Z" fill="#d4682a"/><path d="M4290.0,2567.6L4282.9,2577.3A12.0,12.0 0 0 1 4290.0,2555.6Z" fill="#dc2a0e"/>
<circle cx="4557.0" cy="2706.7" r="12.0" fill="#d4682a" stroke="#1a1a1a" stroke-width="1.3"/>
<circle cx="3622.5" cy="2755.5" r="12.0" fill="#d4682a" stroke="#1a1a1a" stroke-width="1.3"/>
<circle cx="4776.7" cy="2845.2" r="12.0" fill="#d9308c" stroke="#1a1a1a" stroke-width="1.3"/>
<circle cx="4669.3" cy="2900.3" r="12.0" fill="#d4682a" stroke="#1a1a1a" stroke-width="1.3"/>
<circle cx="3997.6" cy="3062.0" r="12.0" fill="#d4682a" stroke="#1a1a1a" stroke-width="1.3"/>
<circle cx="4032.2" cy="2505.4" r="11.3" fill="#d4682a" stroke="#1a1a1a" stroke-width="1.3"/>
<circle cx="4780.2" cy="2749.1" r="11.3" fill="#d4682a" stroke="#1a1a1a" stroke-width="1.3"/>
<circle cx="3729.2" cy="2763.9" r="11.3" fill="#d4682a" stroke="#1a1a1a" stroke-width="1.3"/>
<circle cx="4690.5" cy="2791.5" r="11.3" fill="#d4682a" stroke="#1a1a1a" stroke-width="1.3"/>
<circle cx="3892.3" cy="2831.0" r="11.3" fill="#d4682a" stroke="#1a1a1a" stroke-width="1.3"/><path d="M3892.3,2831.0L3888.8,2841.7A11.3,11.3 0 0 1 3885.7,2840.1Z" fill="#dc2a0e"/><path d="M3892.3,2831.0L3885.7,2840.1A11.3,11.3 0 0 1 3892.3,2819.7Z" fill="#d9308c"/>
<circle cx="4292.1" cy="2839.5" r="11.3" fill="#d4682a" stroke="#1a1a1a" stroke-width="1.3"/>
<circle cx="4777.4" cy="2877.7" r="11.3" fill="#d4682a" stroke="#1a1a1a" stroke-width="1.3"/>
<circle cx="4149.4" cy="2987.8" r="11.3" fill="#d4682a" stroke="#1a1a1a" stroke-width="1.3"/>
<circle cx="4306.2" cy="2982.2" r="11.3" fill="#d4682a" stroke="#1a1a1a" stroke-width="1.3"/>
<circle cx="3682.6" cy="2989.3" r="11.3" fill="#d4682a" stroke="#1a1a1a" stroke-width="1.3"/><path d="M3682.6,2989.3L3682.6,2978.0A11.3,11.3 0 0 1 3691.7,2995.9Z" fill="#eda126"/><path d="M3682.6,2989.3L3676.0,2980.2A11.3,11.3 0 0 1 3682.6,2978.0Z" fill="#dc2a0e"/>
<circle cx="4074.6" cy="2431.3" r="10.6" fill="#d4682a" stroke="#1a1a1a" stroke-width="1.3"/>
<circle cx="3705.2" cy="2475.1" r="10.6" fill="#d9308c" stroke="#1a1a1a" stroke-width="1.3"/>
<circle cx="4848.0" cy="2727.9" r="10.6" fill="#dc2a0e" stroke="#1a1a1a" stroke-width="1.3"/><path d="M4848.0,2727.9L4848.0,2717.3A10.6,10.6 0 0 1 4854.2,2719.3Z" fill="#eda126"/><path d="M4848.0,2727.9L4854.2,2719.3A10.6,10.6 0 0 1 4854.2,2736.5Z" fill="#d4682a"/>
<circle cx="4472.9" cy="2768.2" r="10.6" fill="#d4682a" stroke="#1a1a1a" stroke-width="1.3"/>
<circle cx="4112.7" cy="2804.2" r="10.6" fill="#d4682a" stroke="#1a1a1a" stroke-width="1.3"/>
<circle cx="4469.4" cy="2836.0" r="10.6" fill="#d4682a" stroke="#1a1a1a" stroke-width="1.3"/>
<circle cx="4727.9" cy="2821.9" r="10.6" fill="#d4682a" stroke="#1a1a1a" stroke-width="1.3"/>
<circle cx="4901.7" cy="2833.9" r="10.6" fill="#d4682a" stroke="#1a1a1a" stroke-width="1.3"/>
<circle cx="4104.2" cy="2853.6" r="10.6" fill="#dc2a0e" stroke="#1a1a1a" stroke-width="1.3"/><path d="M4104.2,2853.6L4104.2,2843.0A10.6,10.6 0 0 1 4107.5,2843.5Z" fill="#eda126"/><path d="M4104.2,2853.6L4107.5,2843.5A10.6,10.6 0 0 1 4114.3,2850.3Z" fill="#d4682a"/>
<circle cx="3633.1" cy="2925.7" r="10.6" fill="#d4682a" stroke="#1a1a1a" stroke-width="1.3"/><path d="M3633.1,2925.7L3633.1,2915.1A10.6,10.6 0 0 1 3641.7,2931.9Z" fill="#eda126"/><path d="M3633.1,2925.7L3626.9,2917.1A10.6,10.6 0 0 1 3633.1,2915.1Z" fill="#dc2a0e"/>
<circle cx="4471.5" cy="3005.5" r="10.6" fill="#d4682a" stroke="#1a1a1a" stroke-width="1.3"/>
<circle cx="3925.5" cy="2599.4" r="9.9" fill="#d4682a" stroke="#1a1a1a" stroke-width="1.3"/>
<circle cx="4355.0" cy="3012.6" r="9.9" fill="#d4682a" stroke="#1a1a1a" stroke-width="1.3"/>
<circle cx="4408.7" cy="3105.8" r="9.9" fill="#d4682a" stroke="#1a1a1a" stroke-width="1.3"/>
<circle cx="4156.5" cy="2683.4" r="9.2" fill="#d9308c" stroke="#1a1a1a" stroke-width="1.3"/>
<clipPath id="c5"><use href="#cz" transform="matrix(0.47917,0,0,0.479,18.44,2083.375)"/></clipPath>
<g clip-path="url(#c5)">
<use href="#cz" transform="matrix(0.47917,0,0,0.479,18.44,2083.375)" fill="#eff3ff"/>
<g stroke="#555" stroke-opacity="0.55" stroke-width="1.2">
<polygon points="4.4,2369.3 241.5,2389.1 273.2,2409.0 304.8,2420.8 296.9,2448.6 312.7,2480.3 320.6,2504.1 312.7,2519.9 273.2,2535.8 241.5,2543.7 225.7,2563.5 178.3,2563.5 138.8,2571.4 83.5,2575.4 4.4,2575.4" fill="#eff3ff"/>
<polygon points="83.5,2575.4 138.8,2571.4 178.3,2563.5 225.7,2563.5 241.5,2543.7 273.2,2535.8 312.7,2519.9 336.4,2519.9 360.1,2527.8 399.7,2543.7 431.2,2575.4 435.2,2607.1 431.2,2638.8 439.2,2670.5 423.3,2702.2 419.4,2718.1 423.3,2749.8 407.6,2789.4 399.7,2829.1 383.9,2860.8 372.0,2892.5 364.1,2916.3 320.6,3082.7 4.4,3082.7 4.4,2575.4" fill="#eff3ff"/>
<polygon points="241.5,2389.1 273.2,2409.0 304.8,2420.8 296.9,2448.6 312.7,2480.3 320.6,2504.1 312.7,2519.9 336.4,2519.9 344.3,2504.1 360.1,2488.2 391.8,2472.4 431.2,2456.5 470.8,2440.7 478.7,2420.8 510.3,2416.9 541.9,2401.0 573.6,2385.1 581.5,2361.4 565.7,2329.7 561.7,2301.9 573.6,2278.1 589.4,2266.3 621.0,2258.3 660.5,2226.6 692.1,2210.8 700.0,2163.2 478.7,2131.5 241.5,2290.0" fill="#eff3ff"/>
<polygon points="581.5,2361.4 605.2,2361.4 636.8,2357.4 668.4,2345.5 692.1,2329.7 715.8,2337.6 739.5,2357.4 731.6,2385.1 747.4,2416.9 779.1,2448.6 802.8,2472.4 818.6,2496.1 794.9,2519.9 802.8,2551.6 818.6,2575.4 826.5,2599.2 794.9,2615.0 763.3,2630.9 747.4,2654.7 755.4,2678.4 723.7,2694.3 692.1,2702.2 668.4,2686.4 644.7,2686.4 628.9,2718.1 589.4,2722.0 541.9,2710.1 510.3,2714.1 462.9,2718.1 419.4,2718.1 423.3,2702.2 439.2,2670.5 431.2,2638.8 435.2,2607.1 431.2,2575.4 399.7,2543.7 360.1,2527.8 336.4,2519.9 344.3,2504.1 360.1,2488.2 391.8,2472.4 431.2,2456.5 470.8,2440.7 478.7,2420.8 510.3,2416.9 541.9,2401.0 573.6,2385.1" fill="#bdd7e7"/>
<polygon points="589.4,2266.3 621.0,2258.3 660.5,2226.6 692.1,2210.8 700.0,2163.2 787.0,2163.2 794.9,2250.4 826.5,2266.3 834.4,2290.0 842.3,2321.7 846.3,2345.5 818.6,2357.4 794.9,2369.3 763.3,2361.4 739.5,2357.4 715.8,2337.6 692.1,2329.7 668.4,2345.5 636.8,2357.4 605.2,2361.4 581.5,2361.4 565.7,2329.7 561.7,2301.9 573.6,2278.1" fill="#08519c"/>
<polygon points="739.5,2357.4 763.3,2361.4 794.9,2369.3 818.6,2357.4 846.3,2345.5 842.3,2321.7 834.4,2290.0 826.5,2266.3 826.5,2210.8 1047.8,2210.8 1063.7,2329.7 1016.2,2361.4 1000.4,2393.1 1024.1,2424.8 1055.7,2456.5 1071.6,2488.2 1047.8,2504.1 1016.2,2512.0 992.5,2527.8 968.8,2504.1 937.2,2496.1 897.7,2488.2 866.0,2496.1 834.4,2504.1 818.6,2496.1 802.8,2472.4 779.1,2448.6 747.4,2416.9 731.6,2385.1" fill="#6baed6"/>
<polygon points="818.6,2496.1 834.4,2504.1 866.0,2496.1 897.7,2488.2 937.2,2496.1 968.8,2504.1 992.5,2527.8 1016.2,2512.0 1047.8,2504.1 1071.6,2488.2 1103.2,2504.1 1126.9,2480.3 1119.0,2519.9 1103.2,2543.7 1111.1,2575.4 1119.0,2607.1 1126.9,2646.7 1119.0,2678.4 1095.3,2686.4 1063.7,2678.4 1032.0,2694.3 1008.3,2678.4 976.7,2662.6 945.1,2646.7 913.5,2654.7 881.9,2630.9 850.2,2615.0 826.5,2599.2 818.6,2575.4 802.8,2551.6 794.9,2519.9" fill="#3182bd"/>
<polygon points="826.5,2599.2 850.2,2615.0 881.9,2630.9 913.5,2654.7 945.1,2646.7 976.7,2662.6 1008.3,2678.4 1032.0,2694.3 1024.1,2718.1 1008.3,2749.8 992.5,2789.4 984.6,2821.1 953.0,2844.9 921.4,2876.6 889.8,2892.5 858.1,2900.4 842.3,2876.6 810.7,2860.8 787.0,2844.9 771.2,2821.1 747.4,2805.3 715.8,2797.4 692.1,2789.4 684.2,2757.7 692.1,2726.0 692.1,2702.2 723.7,2694.3 755.4,2678.4 747.4,2654.7 763.3,2630.9 794.9,2615.0" fill="#3182bd"/>
<polygon points="419.4,2718.1 462.9,2718.1 510.3,2714.1 541.9,2710.1 589.4,2722.0 628.9,2718.1 644.7,2686.4 668.4,2686.4 692.1,2702.2 692.1,2726.0 684.2,2757.7 692.1,2789.4 715.8,2797.4 747.4,2805.3 771.2,2821.1 787.0,2844.9 810.7,2860.8 842.3,2876.6 834.4,2908.3 818.6,2932.1 794.9,2955.9 794.9,3082.7 320.6,3082.7 364.1,2916.3 372.0,2892.5 383.9,2860.8 399.7,2829.1 407.6,2789.4 423.3,2749.8" fill="#3182bd"/>
<polygon points="1032.0,2694.3 1063.7,2678.4 1095.3,2686.4 1119.0,2678.4 1111.1,2702.2 1126.9,2726.0 1142.7,2718.1 1166.4,2734.0 1182.2,2765.7 1213.9,2789.4 1206.0,2821.1 1221.7,2860.8 1253.4,2884.6 1292.9,2916.3 1324.5,2940.0 1348.2,2971.7 1269.2,3082.7 794.9,3082.7 794.9,2955.9 818.6,2932.1 834.4,2908.3 842.3,2876.6 858.1,2900.4 889.8,2892.5 921.4,2876.6 953.0,2844.9 984.6,2821.1 992.5,2789.4 1008.3,2749.8 1024.1,2718.1" fill="#bdd7e7"/>
<polygon points="1111.1,2369.3 1285.0,2369.3 1261.3,2448.6 1237.5,2472.4 1221.7,2504.1 1213.9,2543.7 1229.6,2583.3 1245.5,2607.1 1269.2,2591.3 1285.0,2599.2 1316.6,2623.0 1340.3,2646.7 1364.0,2670.5 1379.9,2694.3 1340.3,2718.1 1300.8,2734.0 1269.2,2749.8 1237.5,2773.6 1213.9,2789.4 1182.2,2765.7 1166.4,2734.0 1142.7,2718.1 1126.9,2726.0 1111.1,2702.2 1119.0,2678.4 1126.9,2646.7 1119.0,2607.1 1111.1,2575.4 1103.2,2543.7 1119.0,2519.9 1126.9,2480.3 1103.2,2504.1 1095.3,2432.7" fill="#3182bd"/>
<polygon points="1285.0,2369.3 1664.4,2448.6 1664.4,2765.7 1514.2,2741.9 1490.5,2734.0 1458.9,2718.1 1419.4,2702.2 1379.9,2694.3 1364.0,2670.5 1340.3,2646.7 1316.6,2623.0 1285.0,2599.2 1269.2,2591.3 1245.5,2607.1 1229.6,2583.3 1213.9,2543.7 1221.7,2504.1 1237.5,2472.4 1261.3,2448.6" fill="#bdd7e7"/>
<polygon points="1213.9,2789.4 1237.5,2773.6 1269.2,2749.8 1300.8,2734.0 1340.3,2718.1 1379.9,2694.3 1419.4,2702.2 1458.9,2718.1 1490.5,2734.0 1514.2,2741.9 1664.4,2765.7 1427.3,3003.4 1348.2,2971.7 1324.5,2940.0 1292.9,2916.3 1253.4,2884.6 1221.7,2860.8 1206.0,2821.1" fill="#6baed6"/>
</g>
<polygon points="544.3,2510.4 557.7,2502.5 572.0,2504.1 575.1,2518.3 561.7,2527.8 548.3,2524.7" fill="#fff" stroke="#666" stroke-width="0.8"/>
</g>
<use href="#cz" transform="matrix(0.47917,0,0,0.479,18.44,2083.375)" fill="none" stroke="#4d4d4d" stroke-width="7.3"/>
<circle cx="600.1" cy="2543.8" r="61.0" fill="#eda126" stroke="#1a1a1a" stroke-width="1.6"/><path d="M600.1,2543.8L626.1,2599.0A61.0,61.0 0 0 1 542.1,2524.9Z" fill="#d4682a"/><path d="M600.1,2543.8L542.1,2524.9A61.0,61.0 0 0 1 574.1,2488.6Z" fill="#dc2a0e"/><path d="M600.1,2543.8L574.1,2488.6A61.0,61.0 0 0 1 588.7,2483.9Z" fill="#d9308c"/><path d="M600.1,2543.8L588.7,2483.9A61.0,61.0 0 0 1 600.1,2482.8Z" fill="#4f5b4b"/>
<circle cx="1087.6" cy="2868.8" r="50.7" fill="#d4682a" stroke="#1a1a1a" stroke-width="1.6"/><path d="M1087.6,2868.8L1087.6,2818.1A50.7,50.7 0 0 1 1138.2,2872.0Z" fill="#eda126"/><path d="M1087.6,2868.8L1036.9,2868.8A50.7,50.7 0 0 1 1071.9,2820.6Z" fill="#dc2a0e"/><path d="M1087.6,2868.8L1071.9,2820.6A50.7,50.7 0 0 1 1081.2,2818.5Z" fill="#d9308c"/><path d="M1087.6,2868.8L1081.2,2818.5A50.7,50.7 0 0 1 1087.6,2818.1Z" fill="#4f5b4b"/>
<circle cx="1392.7" cy="2593.7" r="46.8" fill="#d4682a" stroke="#1a1a1a" stroke-width="1.6"/><path d="M1392.7,2593.7L1392.7,2546.9A46.8,46.8 0 0 1 1424.7,2559.6Z" fill="#eda126"/><path d="M1392.7,2593.7L1351.7,2616.2A46.8,46.8 0 0 1 1358.6,2561.7Z" fill="#dc2a0e"/><path d="M1392.7,2593.7L1358.6,2561.7A46.8,46.8 0 0 1 1392.7,2546.9Z" fill="#d9308c"/>
<circle cx="1210.4" cy="2615.9" r="35.7" fill="#d4682a" stroke="#1a1a1a" stroke-width="1.6"/><path d="M1210.4,2615.9L1210.4,2580.2A35.7,35.7 0 0 1 1245.5,2609.2Z" fill="#eda126"/><path d="M1210.4,2615.9L1175.3,2622.6A35.7,35.7 0 0 1 1193.2,2584.6Z" fill="#dc2a0e"/><path d="M1210.4,2615.9L1193.2,2584.6A35.7,35.7 0 0 1 1203.7,2580.8Z" fill="#d9308c"/><path d="M1210.4,2615.9L1203.7,2580.8A35.7,35.7 0 0 1 1210.4,2580.2Z" fill="#4f5b4b"/>
<circle cx="569.9" cy="2867.2" r="34.9" fill="#d4682a" stroke="#1a1a1a" stroke-width="1.6"/><path d="M569.9,2867.2L569.9,2832.3A34.9,34.9 0 0 1 601.5,2852.3Z" fill="#eda126"/><path d="M569.9,2867.2L553.1,2897.8A34.9,34.9 0 0 1 555.0,2835.6Z" fill="#dc2a0e"/><path d="M569.9,2867.2L555.0,2835.6A34.9,34.9 0 0 1 569.9,2832.3Z" fill="#d9308c"/>
<circle cx="979.0" cy="2576.3" r="31.7" fill="#d4682a" stroke="#1a1a1a" stroke-width="1.6"/><path d="M979.0,2576.3L979.0,2544.6A31.7,31.7 0 0 1 1000.7,2553.2Z" fill="#eda126"/><path d="M979.0,2576.3L975.0,2607.8A31.7,31.7 0 0 1 947.9,2582.2Z" fill="#dc2a0e"/><path d="M979.0,2576.3L947.9,2582.2A31.7,31.7 0 0 1 953.4,2557.7Z" fill="#d9308c"/><path d="M979.0,2576.3L953.4,2557.7A31.7,31.7 0 0 1 979.0,2544.6Z" fill="#4f5b4b"/>
<circle cx="860.1" cy="2752.3" r="30.9" fill="#d4682a" stroke="#1a1a1a" stroke-width="1.6"/><path d="M860.1,2752.3L860.1,2721.4A30.9,30.9 0 0 1 890.5,2746.5Z" fill="#eda126"/><path d="M860.1,2752.3L829.3,2754.2A30.9,30.9 0 0 1 856.2,2721.6Z" fill="#dc2a0e"/><path d="M860.1,2752.3L856.2,2721.6A30.9,30.9 0 0 1 860.1,2721.4Z" fill="#d9308c"/>
<circle cx="703.1" cy="2290.9" r="30.1" fill="#dc2a0e" stroke="#1a1a1a" stroke-width="1.6"/><path d="M703.1,2290.9L703.1,2260.8A30.1,30.1 0 0 1 731.7,2300.2Z" fill="#eda126"/><path d="M703.1,2290.9L731.7,2300.2A30.1,30.1 0 0 1 685.4,2315.3Z" fill="#d4682a"/><path d="M703.1,2290.9L699.3,2261.0A30.1,30.1 0 0 1 703.1,2260.8Z" fill="#d9308c"/>
<circle cx="901.3" cy="2405.1" r="29.3" fill="#d4682a" stroke="#1a1a1a" stroke-width="1.6"/><path d="M901.3,2405.1L901.3,2375.8A29.3,29.3 0 0 1 915.4,2379.4Z" fill="#eda126"/><path d="M901.3,2405.1L884.1,2428.8A29.3,29.3 0 0 1 887.2,2379.4Z" fill="#dc2a0e"/><path d="M901.3,2405.1L887.2,2379.4A29.3,29.3 0 0 1 892.2,2377.2Z" fill="#d9308c"/><path d="M901.3,2405.1L892.2,2377.2A29.3,29.3 0 0 1 901.3,2375.8Z" fill="#4f5b4b"/>
<circle cx="1346.0" cy="2810.1" r="29.3" fill="#d4682a" stroke="#1a1a1a" stroke-width="1.6"/><path d="M1346.0,2810.1L1346.0,2780.8A29.3,29.3 0 0 1 1367.4,2790.0Z" fill="#eda126"/><path d="M1346.0,2810.1L1319.5,2822.6A29.3,29.3 0 0 1 1336.9,2782.2Z" fill="#dc2a0e"/><path d="M1346.0,2810.1L1336.9,2782.2A29.3,29.3 0 0 1 1346.0,2780.8Z" fill="#d9308c"/>
<circle cx="439.9" cy="2352.0" r="27.7" fill="#d4682a" stroke="#1a1a1a" stroke-width="1.6"/><path d="M439.9,2352.0L439.9,2324.3A27.7,27.7 0 0 1 460.1,2333.0Z" fill="#eda126"/><path d="M439.9,2352.0L419.7,2371.0A27.7,27.7 0 0 1 431.3,2325.7Z" fill="#dc2a0e"/><path d="M439.9,2352.0L431.3,2325.7A27.7,27.7 0 0 1 439.9,2324.3Z" fill="#d9308c"/>
<circle cx="291.7" cy="2681.7" r="19.0" fill="#d4682a" stroke="#1a1a1a" stroke-width="1.6"/><path d="M291.7,2681.7L291.7,2662.7A19.0,19.0 0 0 1 302.9,2666.3Z" fill="#eda126"/><path d="M291.7,2681.7L276.3,2692.9A19.0,19.0 0 0 1 285.8,2663.6Z" fill="#dc2a0e"/><path d="M291.7,2681.7L285.8,2663.6A19.0,19.0 0 0 1 291.7,2662.7Z" fill="#d9308c"/>
<circle cx="187.9" cy="2473.2" r="10.3" fill="#d4682a" stroke="#1a1a1a" stroke-width="1.6"/><path d="M187.9,2473.2L179.6,2467.1A10.3,10.3 0 0 1 184.7,2463.4Z" fill="#dc2a0e"/><path d="M187.9,2473.2L184.7,2463.4A10.3,10.3 0 0 1 187.9,2462.9Z" fill="#d9308c"/>
<clipPath id="c6"><use href="#cz" transform="matrix(0.2492,0,0,0.2491,1648,2317.7)"/></clipPath>
<g clip-path="url(#c6)">
<use href="#cz" transform="matrix(0.2492,0,0,0.2491,1648,2317.7)" fill="#fcc5c0"/>
<g stroke="#555" stroke-opacity="0.55" stroke-width="1.2">
<polygon points="1640.7,2466.4 1764.0,2476.7 1780.5,2487.0 1796.9,2493.2 1792.8,2507.6 1801.0,2524.1 1805.1,2536.5 1801.0,2544.7 1780.5,2553.0 1764.0,2557.1 1755.8,2567.4 1731.1,2567.4 1710.6,2571.5 1681.8,2573.6 1640.7,2573.6" fill="#fcc5c0"/>
<polygon points="1681.8,2573.6 1710.6,2571.5 1731.1,2567.4 1755.8,2567.4 1764.0,2557.1 1780.5,2553.0 1801.0,2544.7 1813.4,2544.7 1825.7,2548.8 1846.3,2557.1 1862.7,2573.6 1864.8,2590.1 1862.7,2606.6 1866.8,2623.0 1858.6,2639.5 1856.5,2647.8 1858.6,2664.3 1850.4,2684.9 1846.3,2705.5 1838.0,2722.0 1831.9,2738.5 1827.7,2750.8 1805.1,2837.4 1640.7,2837.4 1640.7,2573.6" fill="#fcc5c0"/>
<polygon points="1764.0,2476.7 1780.5,2487.0 1796.9,2493.2 1792.8,2507.6 1801.0,2524.1 1805.1,2536.5 1801.0,2544.7 1813.4,2544.7 1817.5,2536.5 1825.7,2528.2 1842.2,2520.0 1862.7,2511.7 1883.2,2503.5 1887.4,2493.2 1903.8,2491.1 1920.3,2482.9 1936.7,2474.6 1940.8,2462.3 1932.6,2445.8 1930.5,2431.4 1936.7,2419.0 1944.9,2412.8 1961.4,2408.7 1981.9,2392.2 1998.4,2384.0 2002.5,2359.2 1887.4,2342.7 1764.0,2425.2" fill="#fa9fb5"/>
<polygon points="1940.8,2462.3 1953.1,2462.3 1969.6,2460.2 1986.0,2454.0 1998.4,2445.8 2010.7,2449.9 2023.0,2460.2 2018.9,2474.6 2027.1,2491.1 2043.6,2507.6 2055.9,2520.0 2064.1,2532.3 2051.8,2544.7 2055.9,2561.2 2064.1,2573.6 2068.3,2585.9 2051.8,2594.2 2035.4,2602.4 2027.1,2614.8 2031.2,2627.2 2014.8,2635.4 1998.4,2639.5 1986.0,2631.3 1973.7,2631.3 1965.5,2647.8 1944.9,2649.8 1920.3,2643.6 1903.8,2645.7 1879.1,2647.8 1856.5,2647.8 1858.6,2639.5 1866.8,2623.0 1862.7,2606.6 1864.8,2590.1 1862.7,2573.6 1846.3,2557.1 1825.7,2548.8 1813.4,2544.7 1817.5,2536.5 1825.7,2528.2 1842.2,2520.0 1862.7,2511.7 1883.2,2503.5 1887.4,2493.2 1903.8,2491.1 1920.3,2482.9 1936.7,2474.6" fill="#fa9fb5"/>
<polygon points="1944.9,2412.8 1961.4,2408.7 1981.9,2392.2 1998.4,2384.0 2002.5,2359.2 2047.7,2359.2 2051.8,2404.6 2068.3,2412.8 2072.4,2425.2 2076.5,2441.7 2078.5,2454.0 2064.1,2460.2 2051.8,2466.4 2035.4,2462.3 2023.0,2460.2 2010.7,2449.9 1998.4,2445.8 1986.0,2454.0 1969.6,2460.2 1953.1,2462.3 1940.8,2462.3 1932.6,2445.8 1930.5,2431.4 1936.7,2419.0" fill="#c51b8a"/>
<polygon points="2023.0,2460.2 2035.4,2462.3 2051.8,2466.4 2064.1,2460.2 2078.5,2454.0 2076.5,2441.7 2072.4,2425.2 2068.3,2412.8 2068.3,2384.0 2183.4,2384.0 2191.6,2445.8 2166.9,2462.3 2158.7,2478.8 2171.0,2495.3 2187.5,2511.7 2195.7,2528.2 2183.4,2536.5 2166.9,2540.6 2154.6,2548.8 2142.2,2536.5 2125.8,2532.3 2105.3,2528.2 2088.8,2532.3 2072.4,2536.5 2064.1,2532.3 2055.9,2520.0 2043.6,2507.6 2027.1,2491.1 2018.9,2474.6" fill="#c51b8a"/>
<polygon points="2064.1,2532.3 2072.4,2536.5 2088.8,2532.3 2105.3,2528.2 2125.8,2532.3 2142.2,2536.5 2154.6,2548.8 2166.9,2540.6 2183.4,2536.5 2195.7,2528.2 2212.1,2536.5 2224.5,2524.1 2220.4,2544.7 2212.1,2557.1 2216.3,2573.6 2220.4,2590.1 2224.5,2610.7 2220.4,2627.2 2208.0,2631.3 2191.6,2627.2 2175.1,2635.4 2162.8,2627.2 2146.4,2618.9 2129.9,2610.7 2113.5,2614.8 2097.0,2602.4 2080.6,2594.2 2068.3,2585.9 2064.1,2573.6 2055.9,2561.2 2051.8,2544.7" fill="#c51b8a"/>
<polygon points="2068.3,2585.9 2080.6,2594.2 2097.0,2602.4 2113.5,2614.8 2129.9,2610.7 2146.4,2618.9 2162.8,2627.2 2175.1,2635.4 2171.0,2647.8 2162.8,2664.3 2154.6,2684.9 2150.5,2701.4 2134.0,2713.7 2117.6,2730.2 2101.1,2738.5 2084.7,2742.6 2076.5,2730.2 2060.0,2722.0 2047.7,2713.7 2039.5,2701.4 2027.1,2693.1 2010.7,2689.0 1998.4,2684.9 1994.2,2668.4 1998.4,2651.9 1998.4,2639.5 2014.8,2635.4 2031.2,2627.2 2027.1,2614.8 2035.4,2602.4 2051.8,2594.2" fill="#7a0177"/>
<polygon points="1856.5,2647.8 1879.1,2647.8 1903.8,2645.7 1920.3,2643.6 1944.9,2649.8 1965.5,2647.8 1973.7,2631.3 1986.0,2631.3 1998.4,2639.5 1998.4,2651.9 1994.2,2668.4 1998.4,2684.9 2010.7,2689.0 2027.1,2693.1 2039.5,2701.4 2047.7,2713.7 2060.0,2722.0 2076.5,2730.2 2072.4,2746.7 2064.1,2759.1 2051.8,2771.4 2051.8,2837.4 1805.1,2837.4 1827.7,2750.8 1831.9,2738.5 1838.0,2722.0 1846.3,2705.5 1850.4,2684.9 1858.6,2664.3" fill="#c51b8a"/>
<polygon points="2175.1,2635.4 2191.6,2627.2 2208.0,2631.3 2220.4,2627.2 2216.3,2639.5 2224.5,2651.9 2232.7,2647.8 2245.0,2656.0 2253.3,2672.5 2269.7,2684.9 2265.6,2701.4 2273.8,2722.0 2290.2,2734.3 2310.8,2750.8 2327.2,2763.2 2339.6,2779.7 2298.5,2837.4 2051.8,2837.4 2051.8,2771.4 2064.1,2759.1 2072.4,2746.7 2076.5,2730.2 2084.7,2742.6 2101.1,2738.5 2117.6,2730.2 2134.0,2713.7 2150.5,2701.4 2154.6,2684.9 2162.8,2664.3 2171.0,2647.8" fill="#f768a1"/>
<polygon points="2216.3,2466.4 2306.7,2466.4 2294.4,2507.6 2282.0,2520.0 2273.8,2536.5 2269.7,2557.1 2277.9,2577.7 2286.1,2590.1 2298.5,2581.8 2306.7,2585.9 2323.1,2598.3 2335.5,2610.7 2347.8,2623.0 2356.0,2635.4 2335.5,2647.8 2314.9,2656.0 2298.5,2664.3 2282.0,2676.6 2269.7,2684.9 2253.3,2672.5 2245.0,2656.0 2232.7,2647.8 2224.5,2651.9 2216.3,2639.5 2220.4,2627.2 2224.5,2610.7 2220.4,2590.1 2216.3,2573.6 2212.1,2557.1 2220.4,2544.7 2224.5,2524.1 2212.1,2536.5 2208.0,2499.4" fill="#f768a1"/>
<polygon points="2306.7,2466.4 2504.0,2507.6 2504.0,2672.5 2425.9,2660.1 2413.6,2656.0 2397.1,2647.8 2376.6,2639.5 2356.0,2635.4 2347.8,2623.0 2335.5,2610.7 2323.1,2598.3 2306.7,2585.9 2298.5,2581.8 2286.1,2590.1 2277.9,2577.7 2269.7,2557.1 2273.8,2536.5 2282.0,2520.0 2294.4,2507.6" fill="#fa9fb5"/>
<polygon points="2269.7,2684.9 2282.0,2676.6 2298.5,2664.3 2314.9,2656.0 2335.5,2647.8 2356.0,2635.4 2376.6,2639.5 2397.1,2647.8 2413.6,2656.0 2425.9,2660.1 2504.0,2672.5 2380.7,2796.2 2339.6,2779.7 2327.2,2763.2 2310.8,2750.8 2290.2,2734.3 2273.8,2722.0 2265.6,2701.4" fill="#c51b8a"/>
</g>
<polygon points="1921.5,2539.8 1928.5,2535.6 1935.9,2536.5 1937.5,2543.9 1930.5,2548.8 1923.5,2547.2" fill="#fff" stroke="#666" stroke-width="0.8"/>
</g>
<use href="#cz" transform="matrix(0.2492,0,0,0.2491,1648,2317.7)" fill="none" stroke="#4d4d4d" stroke-width="8.03"/>
<circle cx="1951.2" cy="2556.8" r="32.2" fill="#eda126" stroke="#1a1a1a" stroke-width="1"/><path d="M1951.2,2556.8L1961.2,2587.4A32.2,32.2 0 0 1 1925.1,2537.9Z" fill="#d4682a"/><path d="M1951.2,2556.8L1925.1,2537.9A32.2,32.2 0 0 1 1932.3,2530.7Z" fill="#dc2a0e"/><path d="M1951.2,2556.8L1932.3,2530.7A32.2,32.2 0 0 1 1937.5,2527.7Z" fill="#d9308c"/><path d="M1951.2,2556.8L1937.5,2527.7A32.2,32.2 0 0 1 1951.2,2524.6Z" fill="#4f5b4b"/>
<circle cx="2204.2" cy="2725.4" r="30.7" fill="#d4682a" stroke="#1a1a1a" stroke-width="1"/><path d="M2204.2,2725.4L2204.2,2694.7A30.7,30.7 0 0 1 2233.4,2734.9Z" fill="#eda126"/><path d="M2204.2,2725.4L2173.5,2725.4A30.7,30.7 0 0 1 2194.7,2696.2Z" fill="#dc2a0e"/><path d="M2204.2,2725.4L2194.7,2696.2A30.7,30.7 0 0 1 2204.2,2694.7Z" fill="#4f5b4b"/>
<circle cx="2362.1" cy="2582.9" r="24.5" fill="#d4682a" stroke="#1a1a1a" stroke-width="1"/><path d="M2362.1,2582.9L2362.1,2558.4A24.5,24.5 0 0 1 2385.4,2575.3Z" fill="#eda126"/><path d="M2362.1,2582.9L2337.6,2582.9A24.5,24.5 0 0 1 2347.7,2563.1Z" fill="#dc2a0e"/><path d="M2362.1,2582.9L2347.7,2563.1A24.5,24.5 0 0 1 2362.1,2558.4Z" fill="#d9308c"/>
<circle cx="2086.1" cy="2664.9" r="23.0" fill="#d4682a" stroke="#1a1a1a" stroke-width="1"/><path d="M2086.1,2664.9L2086.1,2641.9A23.0,23.0 0 0 1 2108.0,2657.8Z" fill="#eda126"/><path d="M2086.1,2664.9L2064.2,2672.0A23.0,23.0 0 0 1 2086.1,2641.9Z" fill="#dc2a0e"/>
<circle cx="1935.9" cy="2723.9" r="22.2" fill="#d4682a" stroke="#1a1a1a" stroke-width="1"/><path d="M1935.9,2723.9L1935.9,2701.7A22.2,22.2 0 0 1 1953.9,2710.9Z" fill="#eda126"/><path d="M1935.9,2723.9L1929.0,2745.0A22.2,22.2 0 0 1 1929.0,2702.8Z" fill="#dc2a0e"/><path d="M1935.9,2723.9L1929.0,2702.8A22.2,22.2 0 0 1 1933.1,2701.9Z" fill="#d9308c"/><path d="M1935.9,2723.9L1933.1,2701.9A22.2,22.2 0 0 1 1935.9,2701.7Z" fill="#4f5b4b"/>
<circle cx="2338.3" cy="2695.5" r="19.9" fill="#d4682a" stroke="#1a1a1a" stroke-width="1"/><path d="M2338.3,2695.5L2338.3,2675.6A19.9,19.9 0 0 1 2350.0,2679.4Z" fill="#eda126"/><path d="M2338.3,2695.5L2319.4,2701.6A19.9,19.9 0 0 1 2332.2,2676.6Z" fill="#dc2a0e"/><path d="M2338.3,2695.5L2332.2,2676.6A19.9,19.9 0 0 1 2335.8,2675.8Z" fill="#d9308c"/><path d="M2338.3,2695.5L2335.8,2675.8A19.9,19.9 0 0 1 2338.3,2675.6Z" fill="#4f5b4b"/>
<circle cx="2267.8" cy="2594.4" r="19.2" fill="#d4682a" stroke="#1a1a1a" stroke-width="1"/><path d="M2267.8,2594.4L2267.8,2575.2A19.2,19.2 0 0 1 2283.3,2583.1Z" fill="#eda126"/><path d="M2267.8,2594.4L2249.5,2600.3A19.2,19.2 0 0 1 2252.3,2583.1Z" fill="#dc2a0e"/><path d="M2267.8,2594.4L2252.3,2583.1A19.2,19.2 0 0 1 2256.5,2578.9Z" fill="#d9308c"/><path d="M2267.8,2594.4L2256.5,2578.9A19.2,19.2 0 0 1 2267.8,2575.2Z" fill="#4f5b4b"/>
<circle cx="2107.6" cy="2484.7" r="18.4" fill="#d4682a" stroke="#1a1a1a" stroke-width="1"/><path d="M2107.6,2484.7L2107.6,2466.3A18.4,18.4 0 0 1 2116.5,2468.6Z" fill="#eda126"/><path d="M2107.6,2484.7L2098.7,2500.8A18.4,18.4 0 0 1 2095.0,2471.3Z" fill="#dc2a0e"/><path d="M2107.6,2484.7L2095.0,2471.3A18.4,18.4 0 0 1 2096.8,2469.8Z" fill="#d9308c"/><path d="M2107.6,2484.7L2096.8,2469.8A18.4,18.4 0 0 1 2107.6,2466.3Z" fill="#4f5b4b"/>
<circle cx="2147.5" cy="2573.7" r="17.6" fill="#d4682a" stroke="#1a1a1a" stroke-width="1"/><path d="M2147.5,2573.7L2147.5,2556.1A17.6,17.6 0 0 1 2164.2,2568.3Z" fill="#eda126"/><path d="M2147.5,2573.7L2137.2,2587.9A17.6,17.6 0 0 1 2130.8,2568.3Z" fill="#dc2a0e"/><path d="M2147.5,2573.7L2130.8,2568.3A17.6,17.6 0 0 1 2133.3,2563.4Z" fill="#d9308c"/><path d="M2147.5,2573.7L2133.3,2563.4A17.6,17.6 0 0 1 2147.5,2556.1Z" fill="#4f5b4b"/>
<circle cx="1868.4" cy="2457.1" r="16.9" fill="#d4682a" stroke="#1a1a1a" stroke-width="1"/><path d="M1868.4,2457.1L1868.4,2440.2A16.9,16.9 0 0 1 1878.3,2443.4Z" fill="#eda126"/><path d="M1868.4,2457.1L1852.3,2462.3A16.9,16.9 0 0 1 1863.2,2441.0Z" fill="#dc2a0e"/><path d="M1868.4,2457.1L1863.2,2441.0A16.9,16.9 0 0 1 1868.4,2440.2Z" fill="#d9308c"/>
<circle cx="2004.9" cy="2424.9" r="16.1" fill="#eda126" stroke="#1a1a1a" stroke-width="1"/><path d="M2004.9,2424.9L2017.9,2434.4A16.1,16.1 0 0 1 1991.9,2434.4Z" fill="#d4682a"/><path d="M2004.9,2424.9L1991.9,2434.4A16.1,16.1 0 0 1 1999.9,2409.6Z" fill="#dc2a0e"/><path d="M2004.9,2424.9L1999.9,2409.6A16.1,16.1 0 0 1 2004.9,2408.8Z" fill="#4f5b4b"/>
<circle cx="1791.8" cy="2628.9" r="9.2" fill="#d4682a" stroke="#1a1a1a" stroke-width="1"/><path d="M1791.8,2628.9L1791.8,2619.7A9.2,9.2 0 0 1 1797.2,2621.5Z" fill="#eda126"/><path d="M1791.8,2628.9L1783.1,2631.7A9.2,9.2 0 0 1 1791.8,2619.7Z" fill="#dc2a0e"/>
<circle cx="1737.4" cy="2520.0" r="5.4" fill="#d4682a" stroke="#1a1a1a" stroke-width="1"/><path d="M1737.4,2520.0L1734.2,2515.6A5.4,5.4 0 0 1 1737.4,2514.6Z" fill="#dc2a0e"/>
<clipPath id="c7"><use href="#cz" transform="matrix(0.2508,0,0,0.2491,2471.9,2317.6)"/></clipPath>
<g clip-path="url(#c7)">
<use href="#cz" transform="matrix(0.2508,0,0,0.2491,2471.9,2317.6)" fill="#b5e1fa"/>
<g stroke="#555" stroke-opacity="0.55" stroke-width="1.2">
<polygon points="2464.6,2466.3 2588.7,2476.6 2605.2,2486.9 2621.8,2493.1 2617.6,2507.5 2625.9,2524.0 2630.1,2536.4 2625.9,2544.6 2605.2,2552.9 2588.7,2557.0 2580.4,2567.3 2555.6,2567.3 2534.9,2571.4 2505.9,2573.5 2464.6,2573.5" fill="#b5e1fa"/>
<polygon points="2505.9,2573.5 2534.9,2571.4 2555.6,2567.3 2580.4,2567.3 2588.7,2557.0 2605.2,2552.9 2625.9,2544.6 2638.3,2544.6 2650.7,2548.7 2671.4,2557.0 2688.0,2573.5 2690.0,2590.0 2688.0,2606.5 2692.1,2622.9 2683.8,2639.4 2681.8,2647.7 2683.8,2664.2 2675.6,2684.8 2671.4,2705.4 2663.2,2721.9 2656.9,2738.4 2652.8,2750.7 2630.1,2837.3 2464.6,2837.3 2464.6,2573.5" fill="#7dc0f7"/>
<polygon points="2588.7,2476.6 2605.2,2486.9 2621.8,2493.1 2617.6,2507.5 2625.9,2524.0 2630.1,2536.4 2625.9,2544.6 2638.3,2544.6 2642.5,2536.4 2650.7,2528.1 2667.3,2519.9 2688.0,2511.6 2708.7,2503.4 2712.8,2493.1 2729.3,2491.0 2745.9,2482.8 2762.5,2474.5 2766.6,2462.2 2758.3,2445.7 2756.2,2431.3 2762.5,2418.9 2770.7,2412.7 2787.3,2408.6 2808.0,2392.1 2824.5,2383.9 2828.6,2359.1 2712.8,2342.6 2588.7,2425.1" fill="#dceeff"/>
<polygon points="2766.6,2462.2 2779.0,2462.2 2795.6,2460.1 2812.1,2453.9 2824.5,2445.7 2836.9,2449.8 2849.3,2460.1 2845.2,2474.5 2853.5,2491.0 2870.0,2507.5 2882.4,2519.9 2890.7,2532.2 2878.3,2544.6 2882.4,2561.1 2890.7,2573.5 2894.8,2585.8 2878.3,2594.1 2861.7,2602.3 2853.5,2614.7 2857.6,2627.1 2841.1,2635.3 2824.5,2639.4 2812.1,2631.2 2799.7,2631.2 2791.4,2647.7 2770.7,2649.7 2745.9,2643.5 2729.3,2645.6 2704.5,2647.7 2681.8,2647.7 2683.8,2639.4 2692.1,2622.9 2688.0,2606.5 2690.0,2590.0 2688.0,2573.5 2671.4,2557.0 2650.7,2548.7 2638.3,2544.6 2642.5,2536.4 2650.7,2528.1 2667.3,2519.9 2688.0,2511.6 2708.7,2503.4 2712.8,2493.1 2729.3,2491.0 2745.9,2482.8 2762.5,2474.5" fill="#7dc0f7"/>
<polygon points="2770.7,2412.7 2787.3,2408.6 2808.0,2392.1 2824.5,2383.9 2828.6,2359.1 2874.2,2359.1 2878.3,2404.5 2894.8,2412.7 2899.0,2425.1 2903.1,2441.6 2905.2,2453.9 2890.7,2460.1 2878.3,2466.3 2861.7,2462.2 2849.3,2460.1 2836.9,2449.8 2824.5,2445.7 2812.1,2453.9 2795.6,2460.1 2779.0,2462.2 2766.6,2462.2 2758.3,2445.7 2756.2,2431.3 2762.5,2418.9" fill="#0570b0"/>
<polygon points="2849.3,2460.1 2861.7,2462.2 2878.3,2466.3 2890.7,2460.1 2905.2,2453.9 2903.1,2441.6 2899.0,2425.1 2894.8,2412.7 2894.8,2383.9 3010.7,2383.9 3019.0,2445.7 2994.1,2462.2 2985.9,2478.7 2998.3,2495.2 3014.8,2511.6 3023.1,2528.1 3010.7,2536.4 2994.1,2540.5 2981.7,2548.7 2969.3,2536.4 2952.8,2532.2 2932.1,2528.1 2915.5,2532.2 2899.0,2536.4 2890.7,2532.2 2882.4,2519.9 2870.0,2507.5 2853.5,2491.0 2845.2,2474.5" fill="#b5e1fa"/>
<polygon points="2890.7,2532.2 2899.0,2536.4 2915.5,2532.2 2932.1,2528.1 2952.8,2532.2 2969.3,2536.4 2981.7,2548.7 2994.1,2540.5 3010.7,2536.4 3023.1,2528.1 3039.7,2536.4 3052.1,2524.0 3047.9,2544.6 3039.7,2557.0 3043.8,2573.5 3047.9,2590.0 3052.1,2610.6 3047.9,2627.1 3035.5,2631.2 3019.0,2627.1 3002.4,2635.3 2990.0,2627.1 2973.4,2618.8 2956.9,2610.6 2940.4,2614.7 2923.8,2602.3 2907.3,2594.1 2894.8,2585.8 2890.7,2573.5 2882.4,2561.1 2878.3,2544.6" fill="#3594d8"/>
<polygon points="2894.8,2585.8 2907.3,2594.1 2923.8,2602.3 2940.4,2614.7 2956.9,2610.6 2973.4,2618.8 2990.0,2627.1 3002.4,2635.3 2998.3,2647.7 2990.0,2664.2 2981.7,2684.8 2977.6,2701.3 2961.0,2713.6 2944.5,2730.1 2928.0,2738.4 2911.4,2742.5 2903.1,2730.1 2886.6,2721.9 2874.2,2713.6 2865.9,2701.3 2853.5,2693.0 2836.9,2688.9 2824.5,2684.8 2820.4,2668.3 2824.5,2651.8 2824.5,2639.4 2841.1,2635.3 2857.6,2627.1 2853.5,2614.7 2861.7,2602.3 2878.3,2594.1" fill="#dceeff"/>
<polygon points="2681.8,2647.7 2704.5,2647.7 2729.3,2645.6 2745.9,2643.5 2770.7,2649.7 2791.4,2647.7 2799.7,2631.2 2812.1,2631.2 2824.5,2639.4 2824.5,2651.8 2820.4,2668.3 2824.5,2684.8 2836.9,2688.9 2853.5,2693.0 2865.9,2701.3 2874.2,2713.6 2886.6,2721.9 2903.1,2730.1 2899.0,2746.6 2890.7,2759.0 2878.3,2771.3 2878.3,2837.3 2630.1,2837.3 2652.8,2750.7 2656.9,2738.4 2663.2,2721.9 2671.4,2705.4 2675.6,2684.8 2683.8,2664.2" fill="#b5e1fa"/>
<polygon points="3002.4,2635.3 3019.0,2627.1 3035.5,2631.2 3047.9,2627.1 3043.8,2639.4 3052.1,2651.8 3060.4,2647.7 3072.8,2655.9 3081.0,2672.4 3097.6,2684.8 3093.5,2701.3 3101.7,2721.9 3118.3,2734.2 3139.0,2750.7 3155.5,2763.1 3167.9,2779.6 3126.5,2837.3 2878.3,2837.3 2878.3,2771.3 2890.7,2759.0 2899.0,2746.6 2903.1,2730.1 2911.4,2742.5 2928.0,2738.4 2944.5,2730.1 2961.0,2713.6 2977.6,2701.3 2981.7,2684.8 2990.0,2664.2 2998.3,2647.7" fill="#b5e1fa"/>
<polygon points="3043.8,2466.3 3134.8,2466.3 3122.4,2507.5 3110.0,2519.9 3101.7,2536.4 3097.6,2557.0 3105.8,2577.6 3114.1,2590.0 3126.5,2581.7 3134.8,2585.8 3151.4,2598.2 3163.8,2610.6 3176.2,2622.9 3184.5,2635.3 3163.8,2647.7 3143.1,2655.9 3126.5,2664.2 3110.0,2676.5 3097.6,2684.8 3081.0,2672.4 3072.8,2655.9 3060.4,2647.7 3052.1,2651.8 3043.8,2639.4 3047.9,2627.1 3052.1,2610.6 3047.9,2590.0 3043.8,2573.5 3039.7,2557.0 3047.9,2544.6 3052.1,2524.0 3039.7,2536.4 3035.5,2499.3" fill="#3594d8"/>
<polygon points="3134.8,2466.3 3333.4,2507.5 3333.4,2672.4 3254.8,2660.0 3242.4,2655.9 3225.9,2647.7 3205.2,2639.4 3184.5,2635.3 3176.2,2622.9 3163.8,2610.6 3151.4,2598.2 3134.8,2585.8 3126.5,2581.7 3114.1,2590.0 3105.8,2577.6 3097.6,2557.0 3101.7,2536.4 3110.0,2519.9 3122.4,2507.5" fill="#7dc0f7"/>
<polygon points="3097.6,2684.8 3110.0,2676.5 3126.5,2664.2 3143.1,2655.9 3163.8,2647.7 3184.5,2635.3 3205.2,2639.4 3225.9,2647.7 3242.4,2655.9 3254.8,2660.0 3333.4,2672.4 3209.3,2796.1 3167.9,2779.6 3155.5,2763.1 3139.0,2750.7 3118.3,2734.2 3101.7,2721.9 3093.5,2701.3" fill="#dceeff"/>
</g>
<polygon points="2747.2,2539.7 2754.2,2535.5 2761.6,2536.4 2763.3,2543.8 2756.2,2548.7 2749.2,2547.1" fill="#fff" stroke="#666" stroke-width="0.8"/>
</g>
<use href="#cz" transform="matrix(0.2508,0,0,0.2491,2471.9,2317.6)" fill="none" stroke="#4d4d4d" stroke-width="7.97"/>
<circle cx="2777.6" cy="2555.3" r="32.2" fill="#eda126" stroke="#1a1a1a" stroke-width="1"/><path d="M2777.6,2555.3L2793.1,2583.5A32.2,32.2 0 0 1 2747.0,2545.3Z" fill="#d4682a"/><path d="M2777.6,2555.3L2747.0,2545.3A32.2,32.2 0 0 1 2777.6,2523.1Z" fill="#dc2a0e"/>
<circle cx="3190.0" cy="2582.1" r="30.7" fill="#d4682a" stroke="#1a1a1a" stroke-width="1"/><path d="M3190.0,2582.1L3204.8,2609.0A30.7,30.7 0 0 1 3159.3,2582.1Z" fill="#dc2a0e"/><path d="M3190.0,2582.1L3159.3,2582.1A30.7,30.7 0 0 1 3190.0,2551.4Z" fill="#d9308c"/>
<circle cx="3094.9" cy="2593.6" r="22.2" fill="#d4682a" stroke="#1a1a1a" stroke-width="1"/><path d="M3094.9,2593.6L3094.9,2571.4A22.2,22.2 0 0 1 3110.1,2577.4Z" fill="#eda126"/><path d="M3094.9,2593.6L3073.1,2597.8A22.2,22.2 0 0 1 3088.0,2572.5Z" fill="#dc2a0e"/><path d="M3094.9,2593.6L3088.0,2572.5A22.2,22.2 0 0 1 3094.9,2571.4Z" fill="#d9308c"/>
<circle cx="2831.2" cy="2424.2" r="19.9" fill="#eda126" stroke="#1a1a1a" stroke-width="1"/><path d="M2831.2,2424.2L2842.9,2440.3A19.9,19.9 0 0 1 2811.3,2424.2Z" fill="#d4682a"/><path d="M2831.2,2424.2L2811.3,2424.2A19.9,19.9 0 0 1 2831.2,2404.3Z" fill="#dc2a0e"/>
<circle cx="3030.5" cy="2725.4" r="19.2" fill="#d4682a" stroke="#1a1a1a" stroke-width="1"/><path d="M3030.5,2725.4L3030.5,2706.2A19.2,19.2 0 0 1 3049.7,2725.4Z" fill="#eda126"/><path d="M3030.5,2725.4L3011.3,2725.4A19.2,19.2 0 0 1 3030.5,2706.2Z" fill="#dc2a0e"/>
<circle cx="2974.6" cy="2572.9" r="16.9" fill="#d4682a" stroke="#1a1a1a" stroke-width="1"/><path d="M2974.6,2572.9L2984.5,2586.6A16.9,16.9 0 0 1 2964.7,2586.6Z" fill="#dc2a0e"/><path d="M2974.6,2572.9L2964.7,2586.6A16.9,16.9 0 0 1 2974.6,2556.0Z" fill="#d9308c"/>
<circle cx="2617.4" cy="2628.1" r="14.6" fill="#d4682a" stroke="#1a1a1a" stroke-width="1"/><path d="M2617.4,2628.1L2605.6,2636.7A14.6,14.6 0 0 1 2617.4,2613.5Z" fill="#dc2a0e"/>
<circle cx="2761.5" cy="2723.9" r="12.3" fill="#d4682a" stroke="#1a1a1a" stroke-width="1"/><path d="M2761.5,2723.9L2761.5,2711.6A12.3,12.3 0 0 1 2771.5,2731.1Z" fill="#eda126"/><path d="M2761.5,2723.9L2749.2,2723.9A12.3,12.3 0 0 1 2761.5,2711.6Z" fill="#dc2a0e"/>
<circle cx="2934.7" cy="2484.0" r="11.5" fill="#d4682a" stroke="#1a1a1a" stroke-width="1"/><path d="M2934.7,2484.0L2934.7,2472.5A11.5,11.5 0 0 1 2941.5,2474.7Z" fill="#eda126"/><path d="M2934.7,2484.0L2923.8,2487.6A11.5,11.5 0 0 1 2934.7,2472.5Z" fill="#dc2a0e"/>
<circle cx="2694.8" cy="2455.6" r="10.7" fill="#dc2a0e" stroke="#1a1a1a" stroke-width="1"/><path d="M2694.8,2455.6L2694.8,2444.9A10.7,10.7 0 0 1 2701.1,2446.9Z" fill="#d4682a"/>
<circle cx="2562.9" cy="2519.2" r="7.7" fill="#d4682a" stroke="#1a1a1a" stroke-width="1"/><path d="M2562.9,2519.2L2562.9,2511.5A7.7,7.7 0 0 1 2567.4,2513.0Z" fill="#eda126"/><path d="M2562.9,2519.2L2555.6,2521.6A7.7,7.7 0 0 1 2562.9,2511.5Z" fill="#dc2a0e"/>
<circle cx="3166.2" cy="2694.8" r="7.7" fill="#dc2a0e" stroke="#1a1a1a" stroke-width="1"/><path d="M3166.2,2694.8L3166.2,2687.1A7.7,7.7 0 0 1 3170.7,2688.6Z" fill="#eda126"/><path d="M3166.2,2694.8L3170.7,2688.6A7.7,7.7 0 0 1 3170.7,2701.0Z" fill="#d4682a"/>
<circle cx="2913.2" cy="2664.9" r="5.4" fill="#eda126" stroke="#1a1a1a" stroke-width="1"/>
<clipPath id="c8"><use href="#cz" transform="matrix(0.2508,0,0,0.2491,2471.9,2919.5)"/></clipPath>
<g clip-path="url(#c8)">
<use href="#cz" transform="matrix(0.2508,0,0,0.2491,2471.9,2919.5)" fill="#a1d99b"/>
<g stroke="#555" stroke-opacity="0.55" stroke-width="1.2">
<polygon points="2464.6,3068.2 2588.7,3078.5 2605.2,3088.8 2621.8,3095.0 2617.6,3109.4 2625.9,3125.9 2630.1,3138.3 2625.9,3146.5 2605.2,3154.8 2588.7,3158.9 2580.4,3169.2 2555.6,3169.2 2534.9,3173.3 2505.9,3175.4 2464.6,3175.4" fill="#a1d99b"/>
<polygon points="2505.9,3175.4 2534.9,3173.3 2555.6,3169.2 2580.4,3169.2 2588.7,3158.9 2605.2,3154.8 2625.9,3146.5 2638.3,3146.5 2650.7,3150.6 2671.4,3158.9 2688.0,3175.4 2690.0,3191.9 2688.0,3208.4 2692.1,3224.8 2683.8,3241.3 2681.8,3249.6 2683.8,3266.1 2675.6,3286.7 2671.4,3307.3 2663.2,3323.8 2656.9,3340.3 2652.8,3352.6 2630.1,3439.2 2464.6,3439.2 2464.6,3175.4" fill="#a1d99b"/>
<polygon points="2588.7,3078.5 2605.2,3088.8 2621.8,3095.0 2617.6,3109.4 2625.9,3125.9 2630.1,3138.3 2625.9,3146.5 2638.3,3146.5 2642.5,3138.3 2650.7,3130.0 2667.3,3121.8 2688.0,3113.5 2708.7,3105.3 2712.8,3095.0 2729.3,3092.9 2745.9,3084.7 2762.5,3076.4 2766.6,3064.1 2758.3,3047.6 2756.2,3033.2 2762.5,3020.8 2770.7,3014.6 2787.3,3010.5 2808.0,2994.0 2824.5,2985.8 2828.6,2961.0 2712.8,2944.5 2588.7,3027.0" fill="#74c476"/>
<polygon points="2766.6,3064.1 2779.0,3064.1 2795.6,3062.0 2812.1,3055.8 2824.5,3047.6 2836.9,3051.7 2849.3,3062.0 2845.2,3076.4 2853.5,3092.9 2870.0,3109.4 2882.4,3121.8 2890.7,3134.1 2878.3,3146.5 2882.4,3163.0 2890.7,3175.4 2894.8,3187.7 2878.3,3196.0 2861.7,3204.2 2853.5,3216.6 2857.6,3229.0 2841.1,3237.2 2824.5,3241.3 2812.1,3233.1 2799.7,3233.1 2791.4,3249.6 2770.7,3251.6 2745.9,3245.4 2729.3,3247.5 2704.5,3249.6 2681.8,3249.6 2683.8,3241.3 2692.1,3224.8 2688.0,3208.4 2690.0,3191.9 2688.0,3175.4 2671.4,3158.9 2650.7,3150.6 2638.3,3146.5 2642.5,3138.3 2650.7,3130.0 2667.3,3121.8 2688.0,3113.5 2708.7,3105.3 2712.8,3095.0 2729.3,3092.9 2745.9,3084.7 2762.5,3076.4" fill="#31a354"/>
<polygon points="2770.7,3014.6 2787.3,3010.5 2808.0,2994.0 2824.5,2985.8 2828.6,2961.0 2874.2,2961.0 2878.3,3006.4 2894.8,3014.6 2899.0,3027.0 2903.1,3043.5 2905.2,3055.8 2890.7,3062.0 2878.3,3068.2 2861.7,3064.1 2849.3,3062.0 2836.9,3051.7 2824.5,3047.6 2812.1,3055.8 2795.6,3062.0 2779.0,3064.1 2766.6,3064.1 2758.3,3047.6 2756.2,3033.2 2762.5,3020.8" fill="#31a354"/>
<polygon points="2849.3,3062.0 2861.7,3064.1 2878.3,3068.2 2890.7,3062.0 2905.2,3055.8 2903.1,3043.5 2899.0,3027.0 2894.8,3014.6 2894.8,2985.8 3010.7,2985.8 3019.0,3047.6 2994.1,3064.1 2985.9,3080.6 2998.3,3097.1 3014.8,3113.5 3023.1,3130.0 3010.7,3138.3 2994.1,3142.4 2981.7,3150.6 2969.3,3138.3 2952.8,3134.1 2932.1,3130.0 2915.5,3134.1 2899.0,3138.3 2890.7,3134.1 2882.4,3121.8 2870.0,3109.4 2853.5,3092.9 2845.2,3076.4" fill="#31a354"/>
<polygon points="2890.7,3134.1 2899.0,3138.3 2915.5,3134.1 2932.1,3130.0 2952.8,3134.1 2969.3,3138.3 2981.7,3150.6 2994.1,3142.4 3010.7,3138.3 3023.1,3130.0 3039.7,3138.3 3052.1,3125.9 3047.9,3146.5 3039.7,3158.9 3043.8,3175.4 3047.9,3191.9 3052.1,3212.5 3047.9,3229.0 3035.5,3233.1 3019.0,3229.0 3002.4,3237.2 2990.0,3229.0 2973.4,3220.7 2956.9,3212.5 2940.4,3216.6 2923.8,3204.2 2907.3,3196.0 2894.8,3187.7 2890.7,3175.4 2882.4,3163.0 2878.3,3146.5" fill="#006d2c"/>
<polygon points="2894.8,3187.7 2907.3,3196.0 2923.8,3204.2 2940.4,3216.6 2956.9,3212.5 2973.4,3220.7 2990.0,3229.0 3002.4,3237.2 2998.3,3249.6 2990.0,3266.1 2981.7,3286.7 2977.6,3303.2 2961.0,3315.5 2944.5,3332.0 2928.0,3340.3 2911.4,3344.4 2903.1,3332.0 2886.6,3323.8 2874.2,3315.5 2865.9,3303.2 2853.5,3294.9 2836.9,3290.8 2824.5,3286.7 2820.4,3270.2 2824.5,3253.7 2824.5,3241.3 2841.1,3237.2 2857.6,3229.0 2853.5,3216.6 2861.7,3204.2 2878.3,3196.0" fill="#31a354"/>
<polygon points="2681.8,3249.6 2704.5,3249.6 2729.3,3247.5 2745.9,3245.4 2770.7,3251.6 2791.4,3249.6 2799.7,3233.1 2812.1,3233.1 2824.5,3241.3 2824.5,3253.7 2820.4,3270.2 2824.5,3286.7 2836.9,3290.8 2853.5,3294.9 2865.9,3303.2 2874.2,3315.5 2886.6,3323.8 2903.1,3332.0 2899.0,3348.5 2890.7,3360.9 2878.3,3373.2 2878.3,3439.2 2630.1,3439.2 2652.8,3352.6 2656.9,3340.3 2663.2,3323.8 2671.4,3307.3 2675.6,3286.7 2683.8,3266.1" fill="#006d2c"/>
<polygon points="3002.4,3237.2 3019.0,3229.0 3035.5,3233.1 3047.9,3229.0 3043.8,3241.3 3052.1,3253.7 3060.4,3249.6 3072.8,3257.8 3081.0,3274.3 3097.6,3286.7 3093.5,3303.2 3101.7,3323.8 3118.3,3336.1 3139.0,3352.6 3155.5,3365.0 3167.9,3381.5 3126.5,3439.2 2878.3,3439.2 2878.3,3373.2 2890.7,3360.9 2899.0,3348.5 2903.1,3332.0 2911.4,3344.4 2928.0,3340.3 2944.5,3332.0 2961.0,3315.5 2977.6,3303.2 2981.7,3286.7 2990.0,3266.1 2998.3,3249.6" fill="#74c476"/>
<polygon points="3043.8,3068.2 3134.8,3068.2 3122.4,3109.4 3110.0,3121.8 3101.7,3138.3 3097.6,3158.9 3105.8,3179.5 3114.1,3191.9 3126.5,3183.6 3134.8,3187.7 3151.4,3200.1 3163.8,3212.5 3176.2,3224.8 3184.5,3237.2 3163.8,3249.6 3143.1,3257.8 3126.5,3266.1 3110.0,3278.4 3097.6,3286.7 3081.0,3274.3 3072.8,3257.8 3060.4,3249.6 3052.1,3253.7 3043.8,3241.3 3047.9,3229.0 3052.1,3212.5 3047.9,3191.9 3043.8,3175.4 3039.7,3158.9 3047.9,3146.5 3052.1,3125.9 3039.7,3138.3 3035.5,3101.2" fill="#74c476"/>
<polygon points="3134.8,3068.2 3333.4,3109.4 3333.4,3274.3 3254.8,3261.9 3242.4,3257.8 3225.9,3249.6 3205.2,3241.3 3184.5,3237.2 3176.2,3224.8 3163.8,3212.5 3151.4,3200.1 3134.8,3187.7 3126.5,3183.6 3114.1,3191.9 3105.8,3179.5 3097.6,3158.9 3101.7,3138.3 3110.0,3121.8 3122.4,3109.4" fill="#c7e9c0"/>
<polygon points="3097.6,3286.7 3110.0,3278.4 3126.5,3266.1 3143.1,3257.8 3163.8,3249.6 3184.5,3237.2 3205.2,3241.3 3225.9,3249.6 3242.4,3257.8 3254.8,3261.9 3333.4,3274.3 3209.3,3398.0 3167.9,3381.5 3155.5,3365.0 3139.0,3352.6 3118.3,3336.1 3101.7,3323.8 3093.5,3303.2" fill="#74c476"/>
</g>
<polygon points="2747.2,3141.6 2754.2,3137.4 2761.6,3138.3 2763.3,3145.7 2756.2,3150.6 2749.2,3149.0" fill="#fff" stroke="#666" stroke-width="0.8"/>
</g>
<use href="#cz" transform="matrix(0.2508,0,0,0.2491,2471.9,2919.5)" fill="none" stroke="#4d4d4d" stroke-width="7.97"/>
<circle cx="2777.6" cy="3156.2" r="32.2" fill="#d4682a" stroke="#1a1a1a" stroke-width="1"/><path d="M2777.6,3156.2L2777.6,3124.0A32.2,32.2 0 0 1 2809.2,3150.2Z" fill="#eda126"/><path d="M2777.6,3156.2L2758.7,3130.1A32.2,32.2 0 0 1 2777.6,3124.0Z" fill="#d9308c"/>
<circle cx="3031.3" cy="3325.6" r="22.2" fill="#d4682a" stroke="#1a1a1a" stroke-width="1"/><path d="M3031.3,3325.6L3031.3,3303.4A22.2,22.2 0 0 1 3044.3,3307.6Z" fill="#eda126"/><path d="M3031.3,3325.6L3018.3,3307.6A22.2,22.2 0 0 1 3031.3,3303.4Z" fill="#d9308c"/>
<circle cx="2694.8" cy="3057.4" r="16.9" fill="#d4682a" stroke="#1a1a1a" stroke-width="1"/><path d="M2694.8,3057.4L2686.7,3042.6A16.9,16.9 0 0 1 2694.8,3040.5Z" fill="#d9308c"/>
<circle cx="2762.2" cy="3324.9" r="16.1" fill="#d4682a" stroke="#1a1a1a" stroke-width="1"/><path d="M2762.2,3324.9L2752.7,3311.9A16.1,16.1 0 0 1 2762.2,3308.8Z" fill="#d9308c"/>
<circle cx="2974.6" cy="3173.9" r="15.3" fill="#d4682a" stroke="#1a1a1a" stroke-width="1"/><path d="M2974.6,3173.9L2974.6,3158.6A15.3,15.3 0 0 1 2977.5,3158.9Z" fill="#eda126"/><path d="M2974.6,3173.9L2959.4,3175.8A15.3,15.3 0 0 1 2968.1,3160.1Z" fill="#dc2a0e"/><path d="M2974.6,3173.9L2968.1,3160.1A15.3,15.3 0 0 1 2974.6,3158.6Z" fill="#d9308c"/>
<circle cx="3190.0" cy="3183.1" r="13.8" fill="#d4682a" stroke="#1a1a1a" stroke-width="1"/><path d="M3190.0,3183.1L3183.4,3171.0A13.8,13.8 0 0 1 3190.0,3169.3Z" fill="#d9308c"/>
<circle cx="2934.7" cy="3084.9" r="12.3" fill="#d4682a" stroke="#1a1a1a" stroke-width="1"/><path d="M2934.7,3084.9L2928.8,3074.1A12.3,12.3 0 0 1 2934.7,3072.6Z" fill="#d9308c"/>
<circle cx="2913.2" cy="3265.1" r="12.3" fill="#d4682a" stroke="#1a1a1a" stroke-width="1"/><path d="M2913.2,3265.1L2907.3,3254.3A12.3,12.3 0 0 1 2913.2,3252.8Z" fill="#d9308c"/>
<circle cx="3094.9" cy="3193.8" r="11.5" fill="#d4682a" stroke="#1a1a1a" stroke-width="1"/><path d="M3094.9,3193.8L3094.9,3182.3A11.5,11.5 0 0 1 3098.5,3182.9Z" fill="#eda126"/><path d="M3094.9,3193.8L3098.5,3204.7A11.5,11.5 0 0 1 3085.6,3187.0Z" fill="#dc2a0e"/><path d="M3094.9,3193.8L3085.6,3187.0A11.5,11.5 0 0 1 3094.9,3182.3Z" fill="#d9308c"/>
<circle cx="3166.2" cy="3295.7" r="11.5" fill="#d4682a" stroke="#1a1a1a" stroke-width="1"/><path d="M3166.2,3295.7L3160.7,3285.6A11.5,11.5 0 0 1 3166.2,3284.2Z" fill="#d9308c"/>
<circle cx="2831.2" cy="3024.4" r="10.7" fill="#d4682a" stroke="#1a1a1a" stroke-width="1"/><path d="M2831.2,3024.4L2831.2,3013.7A10.7,10.7 0 0 1 2834.5,3014.2Z" fill="#eda126"/><path d="M2831.2,3024.4L2820.5,3024.4A10.7,10.7 0 0 1 2822.5,3018.1Z" fill="#dc2a0e"/><path d="M2831.2,3024.4L2822.5,3018.1A10.7,10.7 0 0 1 2831.2,3013.7Z" fill="#d9308c"/>
<circle cx="2617.4" cy="3229.1" r="10.0" fill="#d4682a" stroke="#1a1a1a" stroke-width="1"/><path d="M2617.4,3229.1L2612.6,3220.3A10.0,10.0 0 0 1 2617.4,3219.1Z" fill="#d9308c"/>
<circle cx="2562.9" cy="3120.2" r="5.4" fill="#d4682a" stroke="#1a1a1a" stroke-width="1"/>
<text x="551" y="104" font-size="88" fill="#000" font-weight="bold" textLength="3850" lengthAdjust="spacingAndGlyphs">Regionální rozmístění investic do vzdělávací infrastruktury financované z IROP (2014-2020)</text>
<text x="39" y="343" font-size="58" fill="#000" textLength="765" lengthAdjust="spacingAndGlyphs">IROP celkem: SC 2.4 a SC 4.1</text>
<text x="1074" y="2316" font-size="42" fill="#000" textLength="551" lengthAdjust="spacingAndGlyphs">IROP celkem: SC 2.4 a SC 4.1</text>
<text x="4472" y="198.5" font-size="40" fill="#000" textLength="450" lengthAdjust="spacingAndGlyphs">SC 2.4 individuální projekty</text>
<text x="4281.5" y="1242.4" font-size="40" fill="#000" textLength="644" lengthAdjust="spacingAndGlyphs">SC 2.4 integrované projekty ITI a IPRÚ</text>
<text x="4372" y="2352.2" font-size="40" fill="#000" textLength="554" lengthAdjust="spacingAndGlyphs">SC 4.1 integrované projekty CLLD</text>
<text x="2061.6" y="2388" font-size="40" fill="#000" textLength="450" lengthAdjust="spacingAndGlyphs">SC 2.4 individuální projekty</text>
<text x="2887" y="2393.5" font-size="40" fill="#000" textLength="641" lengthAdjust="spacingAndGlyphs">SC 2.4 integrované projekty ITI a IPRÚ</text>
<text x="2887" y="2993.7" font-size="40" fill="#000" textLength="555" lengthAdjust="spacingAndGlyphs">SC 4.1 integrované projekty CLLD</text>
<text x="232" y="1930" font-size="40" fill="#6e6e6e" textLength="288" lengthAdjust="spacingAndGlyphs">Typy vzdělávání</text>
<rect x="52" y="1975" width="36" height="35" fill="#eda126" stroke="#999" stroke-width="1"/>
<text x="113" y="2005" font-size="31" fill="#6e6e6e">MŠ</text>
<rect x="212" y="1975" width="36" height="35" fill="#d4682a" stroke="#999" stroke-width="1"/>
<text x="272" y="2005" font-size="31" fill="#6e6e6e">ZŠ</text>
<rect x="347" y="1972" width="36" height="35" fill="#dc2a0e" stroke="#999" stroke-width="1"/>
<text x="408" y="2003" font-size="31" fill="#6e6e6e">SŠ</text>
<rect x="470" y="1975" width="36" height="35" fill="#d9308c" stroke="#999" stroke-width="1"/>
<text x="530" y="2005" font-size="31" fill="#6e6e6e">Zájm.</text>
<rect x="650" y="1972" width="36" height="35" fill="#4f5b4b" stroke="#999" stroke-width="1"/>
<text x="708" y="2003" font-size="31" fill="#6e6e6e">Spec.</text>
<text x="1308" y="2032" font-size="39" fill="#6e6e6e" textLength="632" lengthAdjust="spacingAndGlyphs">Celkové způsobilé výdaje na obyvatele</text>
<text x="1455" y="2085" font-size="31" fill="#6e6e6e" textLength="350" lengthAdjust="spacingAndGlyphs">CZV/OB celkem v tisících</text>
<rect x="1478.0" y="2105" width="62.3" height="31" fill="#eff3ff"/>
<rect x="1539.8" y="2105" width="62.3" height="31" fill="#9ecae1"/>
<rect x="1601.6" y="2105" width="62.3" height="31" fill="#4292c6"/>
<rect x="1663.4" y="2105" width="62.3" height="31" fill="#08519c"/>
<rect x="1725.2" y="2105" width="62.3" height="31" fill="#08306b"/>
<rect x="1478" y="2105" width="309" height="31" fill="none" stroke="#999" stroke-width="1"/>
<text x="1540" y="2167" font-size="28" fill="#6e6e6e" text-anchor="middle">2</text>
<text x="1605" y="2167" font-size="28" fill="#6e6e6e" text-anchor="middle">4</text>
<text x="1661" y="2167" font-size="28" fill="#6e6e6e" text-anchor="middle">6</text>
<text x="1724" y="2167" font-size="28" fill="#6e6e6e" text-anchor="middle">8</text>
<text x="2130" y="2032" font-size="39" fill="#9a9a9a" textLength="515" lengthAdjust="spacingAndGlyphs">Celkové způsobilé výdaje za SC</text>
<circle cx="2277" cy="2125" r="55" fill="none" stroke="#707070" stroke-width="2.4"/>
<circle cx="2277" cy="2147" r="33" fill="none" stroke="#707070" stroke-width="2.4"/>
<circle cx="2277" cy="2169.5" r="10.5" fill="none" stroke="#707070" stroke-width="2.4"/>
<line x1="2277" y1="2070" x2="2355" y2="2070" stroke="#bbb" stroke-width="1"/>
<text x="2538" y="2080.4" font-size="29" fill="#6e6e6e" text-anchor="end">950 000 000</text>
<line x1="2277" y1="2114" x2="2355" y2="2114" stroke="#bbb" stroke-width="1"/>
<text x="2538" y="2124.4" font-size="29" fill="#6e6e6e" text-anchor="end">480 000 000</text>
<line x1="2277" y1="2159.0" x2="2355" y2="2159.0" stroke="#bbb" stroke-width="1"/>
<text x="2538" y="2169.4" font-size="29" fill="#6e6e6e" text-anchor="end">4 400 000</text>
<path d="M2572,1932V1950H3244V1932M2908.0,1950V1932" fill="none" stroke="#555" stroke-width="2"/>
<text x="2572" y="1917" font-size="30" fill="#6e6e6e" text-anchor="middle">0</text>
<text x="2908.0" y="1917" font-size="30" fill="#6e6e6e" text-anchor="middle">50</text>
<text x="3271.0" y="1917" font-size="30" fill="#6e6e6e" text-anchor="middle">100 km</text>
<text x="3364.7" y="1054" font-size="24" fill="#6e6e6e" textLength="350" lengthAdjust="spacingAndGlyphs">Celkové způsobilé výdaje za SC</text>
<circle cx="3465" cy="1129.7" r="40" fill="none" stroke="#707070" stroke-width="2"/>
<circle cx="3465" cy="1145.0" r="24.7" fill="none" stroke="#707070" stroke-width="2"/>
<circle cx="3465" cy="1161.9" r="7.8" fill="none" stroke="#707070" stroke-width="2"/>
<line x1="3465" y1="1089.7" x2="3523" y2="1089.7" stroke="#bbb" stroke-width="1"/>
<text x="3655.7" y="1097.3" font-size="21" fill="#6e6e6e" text-anchor="end">470 000 000</text>
<line x1="3465" y1="1120.3" x2="3523" y2="1120.3" stroke="#bbb" stroke-width="1"/>
<text x="3655.7" y="1127.9" font-size="21" fill="#6e6e6e" text-anchor="end">240 000 000</text>
<line x1="3465" y1="1154.1" x2="3523" y2="1154.1" stroke="#bbb" stroke-width="1"/>
<text x="3655.7" y="1161.7" font-size="21" fill="#6e6e6e" text-anchor="end">1 400 000</text>
<path d="M3951,1156V1167H4267.4V1156M4109.2,1167V1156" fill="none" stroke="#555" stroke-width="2"/>
<text x="3951" y="1141.4" font-size="21" fill="#6e6e6e" text-anchor="middle">0</text>
<text x="4109.2" y="1141.4" font-size="21" fill="#6e6e6e" text-anchor="middle">50</text>
<text x="4286.299999999999" y="1141.4" font-size="21" fill="#6e6e6e" text-anchor="middle">100 km</text>
<text x="4461" y="1061" font-size="29" fill="#6e6e6e" textLength="479" lengthAdjust="spacingAndGlyphs">Celkové způsobilé výdaje na obyvatele</text>
<text x="4567.6" y="1099" font-size="23" fill="#6e6e6e" textLength="264" lengthAdjust="spacingAndGlyphs">CZV/OB celkem v tisících</text>
<rect x="4565.5" y="1123.8" width="45.8" height="23.3" fill="#feebe2"/>
<rect x="4610.8" y="1123.8" width="45.8" height="23.3" fill="#fcc5c0"/>
<rect x="4656.1" y="1123.8" width="45.8" height="23.3" fill="#fa9fb5"/>
<rect x="4701.4" y="1123.8" width="45.8" height="23.3" fill="#f768a1"/>
<rect x="4746.8" y="1123.8" width="45.8" height="23.3" fill="#c51b8a"/>
<rect x="4792.1" y="1123.8" width="45.8" height="23.3" fill="#7a0177"/>
<rect x="4565.5" y="1123.8" width="271.9" height="23.3" fill="none" stroke="#999" stroke-width="1"/>
<text x="4613.5" y="1168.3" font-size="16" fill="#6e6e6e" text-anchor="middle">1</text>
<text x="4658.7" y="1168.3" font-size="16" fill="#6e6e6e" text-anchor="middle">2</text>
<text x="4703.2" y="1168.3" font-size="16" fill="#6e6e6e" text-anchor="middle">4</text>
<text x="4747.7" y="1168.3" font-size="16" fill="#6e6e6e" text-anchor="middle">6</text>
<text x="4792.2" y="1168.3" font-size="16" fill="#6e6e6e" text-anchor="middle">8</text>
<text x="3382.4" y="2120.3" font-size="24" fill="#6e6e6e" textLength="350" lengthAdjust="spacingAndGlyphs">Celkové způsobilé výdaje za SC</text>
<circle cx="3503.9" cy="2195.9" r="40.3" fill="none" stroke="#707070" stroke-width="2"/>
<circle cx="3503.9" cy="2211.5" r="24.7" fill="none" stroke="#707070" stroke-width="2"/>
<circle cx="3503.9" cy="2228.4" r="7.8" fill="none" stroke="#707070" stroke-width="2"/>
<line x1="3503.9" y1="2155.6" x2="3562" y2="2155.6" stroke="#bbb" stroke-width="1"/>
<text x="3695.3" y="2163.2" font-size="21" fill="#6e6e6e" text-anchor="end">480 000 000</text>
<line x1="3503.9" y1="2186.8" x2="3562" y2="2186.8" stroke="#bbb" stroke-width="1"/>
<text x="3695.3" y="2194.4" font-size="21" fill="#6e6e6e" text-anchor="end">240 000 000</text>
<line x1="3503.9" y1="2220.6" x2="3562" y2="2220.6" stroke="#bbb" stroke-width="1"/>
<text x="3695.3" y="2228.2" font-size="21" fill="#6e6e6e" text-anchor="end">2 500 000</text>
<path d="M3935.4,2243.5V2254.5H4252.6V2243.5M4094.0,2254.5V2243.5" fill="none" stroke="#555" stroke-width="2"/>
<text x="3935.4" y="2229.1" font-size="21" fill="#6e6e6e" text-anchor="middle">0</text>
<text x="4094.0" y="2229.1" font-size="21" fill="#6e6e6e" text-anchor="middle">50</text>
<text x="4271.5" y="2229.1" font-size="21" fill="#6e6e6e" text-anchor="middle">100 km</text>
<text x="4432.7" y="2151.4" font-size="29" fill="#6e6e6e" textLength="479" lengthAdjust="spacingAndGlyphs">Celkové způsobilé výdaje na obyvatele</text>
<text x="4538.6" y="2190.3" font-size="23" fill="#6e6e6e" textLength="265" lengthAdjust="spacingAndGlyphs">CZV/OB celkem v tisících</text>
<rect x="4572.5" y="2217.8" width="40.8" height="18.4" fill="#dceeff"/>
<rect x="4612.8" y="2217.8" width="40.8" height="18.4" fill="#b5e1fa"/>
<rect x="4653.0" y="2217.8" width="40.8" height="18.4" fill="#7dc0f7"/>
<rect x="4693.3" y="2217.8" width="40.8" height="18.4" fill="#3594d8"/>
<rect x="4733.5" y="2217.8" width="40.8" height="18.4" fill="#0570b0"/>
<rect x="4572.5" y="2217.8" width="201.3" height="18.4" fill="none" stroke="#ccc" stroke-width="1"/>
<text x="4613.5" y="2251" font-size="13" fill="#6e6e6e" text-anchor="middle">0,6</text>
<text x="4652.3" y="2251" font-size="13" fill="#6e6e6e" text-anchor="middle">1,2</text>
<text x="4694.7" y="2251" font-size="13" fill="#6e6e6e" text-anchor="middle">1,8</text>
<text x="4732.9" y="2251" font-size="13" fill="#6e6e6e" text-anchor="middle">2,4</text>
<text x="3400" y="3190.6" font-size="24" fill="#6e6e6e" textLength="350" lengthAdjust="spacingAndGlyphs">Celkové způsobilé výdaje za SC</text>
<circle cx="3511.6" cy="3266.7" r="40.3" fill="none" stroke="#707070" stroke-width="2"/>
<circle cx="3511.6" cy="3282.3" r="24.7" fill="none" stroke="#707070" stroke-width="2"/>
<circle cx="3511.6" cy="3299.2" r="7.8" fill="none" stroke="#707070" stroke-width="2"/>
<line x1="3511.6" y1="3226.4" x2="3570" y2="3226.4" stroke="#bbb" stroke-width="1"/>
<text x="3679" y="3233.6" font-size="20" fill="#6e6e6e" text-anchor="end">48 000 000</text>
<line x1="3511.6" y1="3257.6" x2="3570" y2="3257.6" stroke="#bbb" stroke-width="1"/>
<text x="3679" y="3264.8" font-size="20" fill="#6e6e6e" text-anchor="end">25 000 000</text>
<line x1="3511.6" y1="3291.4" x2="3570" y2="3291.4" stroke="#bbb" stroke-width="1"/>
<text x="3679" y="3298.6" font-size="20" fill="#6e6e6e" text-anchor="end">1 100 000</text>
<path d="M3935.4,3280.6V3291.6H4252.6V3280.6M4094.0,3291.6V3280.6" fill="none" stroke="#555" stroke-width="2"/>
<text x="3935.4" y="3266.1" font-size="21" fill="#6e6e6e" text-anchor="middle">0</text>
<text x="4094.0" y="3266.1" font-size="21" fill="#6e6e6e" text-anchor="middle">50</text>
<text x="4271.5" y="3266.1" font-size="21" fill="#6e6e6e" text-anchor="middle">100 km</text>
<text x="4438.3" y="3212.4" font-size="29" fill="#6e6e6e" textLength="478" lengthAdjust="spacingAndGlyphs">Celkové způsobilé výdaje na obyvatele</text>
<text x="4588.8" y="3249.2" font-size="23" fill="#6e6e6e" textLength="164" lengthAdjust="spacingAndGlyphs">CZV/OB celkem</text>
<rect x="4586.6" y="3268.2" width="47.1" height="17.7" fill="#a1d99b"/>
<rect x="4633.2" y="3268.2" width="47.1" height="17.7" fill="#74c476"/>
<rect x="4679.8" y="3268.2" width="47.1" height="17.7" fill="#41ab5d"/>
<rect x="4726.5" y="3268.2" width="47.1" height="17.7" fill="#238b45"/>
<rect x="4773.1" y="3268.2" width="47.1" height="17.7" fill="#005a32"/>
<rect x="4586.6" y="3268.2" width="233.1" height="17.7" fill="none" stroke="#ccc" stroke-width="1"/>
<text x="4586.6" y="3302.1" font-size="14" fill="#6e6e6e" text-anchor="middle">300</text>
<text x="4632.6" y="3302.1" font-size="14" fill="#6e6e6e" text-anchor="middle">600</text>
<text x="4677.1" y="3302.1" font-size="14" fill="#6e6e6e" text-anchor="middle">900</text>
<text x="4724.4" y="3302.1" font-size="14" fill="#6e6e6e" text-anchor="middle">1200</text>
<text x="4768.9" y="3302.1" font-size="14" fill="#6e6e6e" text-anchor="middle">1500</text>
<path d="M35.7,3028.6V3041.6H356.7V3028.6M196.2,3041.6V3028.6" fill="none" stroke="#555" stroke-width="2"/>
<text x="35.7" y="3016" font-size="23" fill="#6e6e6e" text-anchor="middle">0</text>
<text x="196.2" y="3016" font-size="23" fill="#6e6e6e" text-anchor="middle">50</text>
<text x="377.4" y="3016" font-size="23" fill="#6e6e6e" text-anchor="middle">100 km</text>
<text x="648.4" y="3069" font-size="29" fill="#6e6e6e" textLength="483" lengthAdjust="spacingAndGlyphs">Celkové způsobilé výdaje na obyvatele</text>
<text x="756" y="3107" font-size="23" fill="#6e6e6e" textLength="266.6" lengthAdjust="spacingAndGlyphs">CZV/OB celkem v tisících</text>
<rect x="773.7" y="3132.8" width="47.6" height="21.4" fill="#eff3ff"/>
<rect x="820.8" y="3132.8" width="47.6" height="21.4" fill="#bdd7e7"/>
<rect x="867.9" y="3132.8" width="47.6" height="21.4" fill="#6baed6"/>
<rect x="914.9" y="3132.8" width="47.6" height="21.4" fill="#3182bd"/>
<rect x="962.0" y="3132.8" width="47.6" height="21.4" fill="#08519c"/>
<rect x="773.7" y="3132.8" width="235.4" height="21.4" fill="none" stroke="#ccc" stroke-width="1"/>
<text x="818.9" y="3170" font-size="14" fill="#6e6e6e" text-anchor="middle">1</text>
<text x="866.4" y="3170" font-size="14" fill="#6e6e6e" text-anchor="middle">2</text>
<text x="914" y="3170" font-size="14" fill="#6e6e6e" text-anchor="middle">3</text>
<text x="961.5" y="3170" font-size="14" fill="#6e6e6e" text-anchor="middle">4</text>
<text x="1206.5" y="3021.8" font-size="24" fill="#6e6e6e" textLength="353.5" lengthAdjust="spacingAndGlyphs">Celkové způsobilé výdaje za SC</text>
<circle cx="1276.3" cy="3106.6" r="61" fill="none" stroke="#707070" stroke-width="2"/>
<circle cx="1276.3" cy="3131.1" r="36.5" fill="none" stroke="#707070" stroke-width="2"/>
<circle cx="1276.3" cy="3157.3" r="10.3" fill="none" stroke="#707070" stroke-width="2"/>
<line x1="1276.3" y1="3045.6" x2="1350" y2="3045.6" stroke="#bbb" stroke-width="1"/>
<text x="1506" y="3053.3" font-size="21.5" fill="#6e6e6e" text-anchor="end">4 000 000 000</text>
<line x1="1276.3" y1="3094.6" x2="1350" y2="3094.6" stroke="#bbb" stroke-width="1"/>
<text x="1506" y="3102.3" font-size="21.5" fill="#6e6e6e" text-anchor="end">2 300 000 000</text>
<line x1="1276.3" y1="3147.0" x2="1350" y2="3147.0" stroke="#bbb" stroke-width="1"/>
<text x="1506" y="3154.7" font-size="21.5" fill="#6e6e6e" text-anchor="end">550 000 000</text>
<text x="1959.7" y="2857.3" font-size="12.5" fill="#6e6e6e" textLength="182" lengthAdjust="spacingAndGlyphs">Celkové způsobilé výdaje za SC</text>
<circle cx="2004.9" cy="2900.4" r="32" fill="none" stroke="#707070" stroke-width="1"/>
<circle cx="2004.9" cy="2911.7" r="20.7" fill="none" stroke="#707070" stroke-width="1"/>
<circle cx="2004.9" cy="2927.0" r="5.4" fill="none" stroke="#707070" stroke-width="1"/>
<line x1="2004.9" y1="2868.4" x2="2042.4" y2="2868.4" stroke="#bbb" stroke-width="1"/>
<text x="2121.4" y="2877.2" font-size="10.5" fill="#6e6e6e" text-anchor="end">2 500 000 000</text>
<line x1="2004.9" y1="2891.0" x2="2042.4" y2="2891.0" stroke="#bbb" stroke-width="1"/>
<text x="2121.4" y="2901.7" font-size="10.5" fill="#6e6e6e" text-anchor="end">1 400 000 000</text>
<line x1="2004.9" y1="2921.6" x2="2042.4" y2="2921.6" stroke="#bbb" stroke-width="1"/>
<text x="2121.4" y="2924.0" font-size="10.5" fill="#6e6e6e" text-anchor="end">360 000 000</text>
<text x="2166.6" y="2859.6" font-size="20" fill="#6e6e6e" textLength="338" lengthAdjust="spacingAndGlyphs">Celkové způsobilé výdaje na obyvatele</text>
<text x="2241.7" y="2887.2" font-size="16" fill="#6e6e6e" textLength="186" lengthAdjust="spacingAndGlyphs">CZV/OB celkem v tisících</text>
<rect x="2254.0" y="2903.3" width="33.6" height="15.3" fill="#fcc5c0"/>
<rect x="2287.1" y="2903.3" width="33.6" height="15.3" fill="#fa9fb5"/>
<rect x="2320.2" y="2903.3" width="33.6" height="15.3" fill="#f768a1"/>
<rect x="2353.4" y="2903.3" width="33.6" height="15.3" fill="#c51b8a"/>
<rect x="2386.5" y="2903.3" width="33.6" height="15.3" fill="#7a0177"/>
<rect x="2254.0" y="2903.3" width="165.6" height="15.3" fill="none" stroke="#ddd" stroke-width="1"/>
<text x="2287.0" y="2930.1" font-size="10" fill="#6e6e6e" text-anchor="middle">1,5</text>
<text x="2319.2" y="2930.1" font-size="10" fill="#6e6e6e" text-anchor="middle">2</text>
<text x="2352.1" y="2930.1" font-size="10" fill="#6e6e6e" text-anchor="middle">2,5</text>
<text x="2385.9" y="2930.1" font-size="10" fill="#6e6e6e" text-anchor="middle">3</text>
<text x="2828.2" y="2832.8" font-size="12.5" fill="#6e6e6e" textLength="184" lengthAdjust="spacingAndGlyphs">Celkové způsobilé výdaje za SC</text>
<circle cx="2874.1" cy="2877.2" r="31.4" fill="none" stroke="#707070" stroke-width="1"/>
<circle cx="2874.1" cy="2888.6" r="20" fill="none" stroke="#707070" stroke-width="1"/>
<circle cx="2874.1" cy="2903.6" r="5" fill="none" stroke="#707070" stroke-width="1"/>
<line x1="2874.1" y1="2845.8" x2="2912.5" y2="2845.8" stroke="#bbb" stroke-width="1"/>
<text x="2996.8" y="2851.1" font-size="10.5" fill="#6e6e6e" text-anchor="end">1 000 000 000</text>
<line x1="2874.1" y1="2868.6" x2="2912.5" y2="2868.6" stroke="#bbb" stroke-width="1"/>
<text x="2996.8" y="2876.4" font-size="10.5" fill="#6e6e6e" text-anchor="end">530 000 000</text>
<line x1="2874.1" y1="2898.6" x2="2912.5" y2="2898.6" stroke="#bbb" stroke-width="1"/>
<text x="2996.8" y="2902.5" font-size="10.5" fill="#6e6e6e" text-anchor="end">35 000 000</text>
<text x="3033.6" y="2838.1" font-size="20" fill="#6e6e6e" textLength="330" lengthAdjust="spacingAndGlyphs">Celkové způsobilé výdaje na obyvatele</text>
<text x="3106.4" y="2865.7" font-size="16" fill="#6e6e6e" textLength="182" lengthAdjust="spacingAndGlyphs">CZV/OB celkem v tisících</text>
<rect x="3119.4" y="2881.8" width="32.6" height="15.3" fill="#dceeff"/>
<rect x="3151.5" y="2881.8" width="32.6" height="15.3" fill="#b5e1fa"/>
<rect x="3183.5" y="2881.8" width="32.6" height="15.3" fill="#7dc0f7"/>
<rect x="3215.6" y="2881.8" width="32.6" height="15.3" fill="#3594d8"/>
<rect x="3247.6" y="2881.8" width="32.6" height="15.3" fill="#0570b0"/>
<rect x="3119.4" y="2881.8" width="160.3" height="15.3" fill="none" stroke="#ddd" stroke-width="1"/>
<text x="3150.1" y="2907.9" font-size="10" fill="#6e6e6e" text-anchor="middle">0,3</text>
<text x="3182.3" y="2907.9" font-size="10" fill="#6e6e6e" text-anchor="middle">0,6</text>
<text x="3214.5" y="2907.9" font-size="10" fill="#6e6e6e" text-anchor="middle">0,9</text>
<text x="3247.5" y="2907.9" font-size="10" fill="#6e6e6e" text-anchor="middle">1,2</text>
<text x="2843.5" y="3414.6" font-size="12.5" fill="#6e6e6e" textLength="184" lengthAdjust="spacingAndGlyphs">Celkové způsobilé výdaje za SC</text>
<circle cx="2889.5" cy="3460.0" r="32" fill="none" stroke="#707070" stroke-width="1"/>
<circle cx="2889.5" cy="3472.0" r="20" fill="none" stroke="#707070" stroke-width="1"/>
<circle cx="2889.5" cy="3487.0" r="5" fill="none" stroke="#707070" stroke-width="1"/>
<line x1="2889.5" y1="3428.0" x2="2927.8" y2="3428.0" stroke="#bbb" stroke-width="1"/>
<text x="3000.6" y="3431.4" font-size="10.5" fill="#6e6e6e" text-anchor="end">470 000 000</text>
<line x1="2889.5" y1="3452.0" x2="2927.8" y2="3452.0" stroke="#bbb" stroke-width="1"/>
<text x="3000.6" y="3458.3" font-size="10.5" fill="#6e6e6e" text-anchor="end">270 000 000</text>
<line x1="2889.5" y1="3482.0" x2="2927.8" y2="3482.0" stroke="#bbb" stroke-width="1"/>
<text x="3000.6" y="3485.1" font-size="10.5" fill="#6e6e6e" text-anchor="end">69 000 000</text>
<text x="3107.9" y="3416.9" font-size="20" fill="#6e6e6e" textLength="330" lengthAdjust="spacingAndGlyphs">Celkové způsobilé výdaje na obyvatele</text>
<text x="3209.9" y="3443.7" font-size="16" fill="#6e6e6e" textLength="109" lengthAdjust="spacingAndGlyphs">CZV/OB celkem</text>
<rect x="3163.1" y="3458.3" width="41.7" height="14.5" fill="#c7e9c0"/>
<rect x="3204.3" y="3458.3" width="41.7" height="14.5" fill="#a1d99b"/>
<rect x="3245.6" y="3458.3" width="41.7" height="14.5" fill="#74c476"/>
<rect x="3286.8" y="3458.3" width="41.7" height="14.5" fill="#31a354"/>
<rect x="3328.1" y="3458.3" width="41.7" height="14.5" fill="#006d2c"/>
<rect x="3163.1" y="3458.3" width="206.2" height="14.5" fill="none" stroke="#ddd" stroke-width="1"/>
<text x="3202.2" y="3483.6" font-size="10" fill="#6e6e6e" text-anchor="middle">200</text>
<text x="3243.6" y="3483.6" font-size="10" fill="#6e6e6e" text-anchor="middle">250</text>
<text x="3284.3" y="3483.6" font-size="10" fill="#6e6e6e" text-anchor="middle">300</text>
<text x="3326.4" y="3483.6" font-size="10" fill="#6e6e6e" text-anchor="middle">350</text>
<text x="-6" y="2978" font-size="29" fill="#6e6e6e">e</text>
<text x="574.9" y="3251.9" font-size="21" fill="#000" textLength="1828.6" lengthAdjust="spacingAndGlyphs">Mapy poskytují základní přehled o rozmístění investic do vzdělávací infrastruktury financované z IROP (2014-2020) na úrovni krajů a SO ORP za specifické cíle a formy podpory IROP za IROP celkem a</text>
<text x="574.9" y="3272.8" font-size="21" fill="#000" textLength="1860.8" lengthAdjust="spacingAndGlyphs">samostatně za SC 2.4 individuální projekty, SC 2.4 integrované projekty ITI a IPRÚ a SC 4.1 integrované projekty CLLD a za vzdělávací aktivity celkem a v členění za předškolní, základní, střední, zájmové</text>
<text x="574.9" y="3293.7" font-size="21" fill="#000" textLength="1845.1" lengthAdjust="spacingAndGlyphs">a speciální vzdělávání. Terče (kartodiagramy) svojí velikostí zobrazují objem celkových způsobilé výdajů. Terče jsou dále členěné podle podílu typů vzdělávání. Intenzita podkladového zbarvení územních</text>
<text x="574.9" y="3314.6" font-size="21" fill="#000" textLength="1848.5" lengthAdjust="spacingAndGlyphs">celků (kartogramy) zobrazují celkové způsobilé výdaje na obyvatele. Mapy vznikly na základě analýzy dat poskytnutých IROP. Data o počtu obyvatel jsou průměrem za roky 2015-2022, kdy byly projekty</text>
<text x="574.9" y="3335.5" font-size="21" fill="#000">realizované. Použitá územní struktura je k 1.1.2023.</text>
<text x="574.9" y="3369.5" font-size="21" fill="#000" textLength="1832.1" lengthAdjust="spacingAndGlyphs">Mapy jsou výstupem „Hodnocení regionálního rozložení investic do vzdělávací infrastruktury Integrovaného regionálního operačního programu 2014-2020“ které pro MMR ČR a IROP zpracoval tým pod</text>
<text x="574.9" y="3390.4" font-size="21" fill="#000" textLength="1528.9" lengthAdjust="spacingAndGlyphs">vedením prof. Luďka Sýkory z Univerzity Karlovy, Přírodovědecké fakulty, katedry sociální geografie a regionálního rozvoje, Centra pro výzkum měst a regionů (CVMR).</text>
<text x="574.9" y="3423" font-size="21" fill="#000" textLength="1830.1" lengthAdjust="spacingAndGlyphs">Autoři: Luděk Sýkora (Univerzita Karlova, Přírodovědecká fakulta, katedra sociální geografie a regionálního rozvoje) a Vojtěch Blažek (Jihočeská univerzita v Českých Budějovicích, pedagogická fakulta,</text>
<text x="574.9" y="3443.9" font-size="21" fill="#000">katedra geografie)</text>
<circle cx="109" cy="3306" r="37" fill="#fbe9ec" stroke="#d22d40" stroke-width="2"/><circle cx="109" cy="3306" r="29" fill="none" stroke="#d22d40" stroke-width="1.5"/><circle cx="109" cy="3306" r="18" fill="#e57f8a" fill-opacity="0.6"/>
<g font-family="'Liberation Serif','DejaVu Serif',serif" font-size="13.5"><text x="164.6" y="3294.3" fill="#222" textLength="168.6" lengthAdjust="spacing">PŘÍRODOVĚDECKÁ</text><text x="164.6" y="3310.7" fill="#222" textLength="80.4" lengthAdjust="spacing">FAKULTA</text><text x="164.6" y="3327.6" fill="#d22d40" textLength="134" lengthAdjust="spacing">Univerzita Karlova</text></g>
<path d="M437,3270 L452,3272 L470,3264 L479,3272 L476,3284 L486,3291 L478,3296 L470,3303 L455,3301 L441,3306 L438,3292 L444,3283 Z" fill="#cddc29" stroke="#1a9ad6" stroke-width="1.5"/>
<text x="439.7" y="3321.8" font-size="15" fill="#1a8fd0" font-weight="bold" textLength="36" lengthAdjust="spacingAndGlyphs">cvmr</text>
<text x="439.7" y="3334.8" font-size="9.5" fill="#333" textLength="92.8" lengthAdjust="spacingAndGlyphs">centrum pro výzkum</text>
<text x="439.7" y="3344" font-size="9.5" fill="#333" textLength="67" lengthAdjust="spacingAndGlyphs">měst a regionů</text>
<rect x="67.3" y="3379.3" width="73.2" height="47.7" fill="#003399"/>
<circle cx="103.9" cy="3388.2" r="2" fill="#ffcc00"/>
<circle cx="111.4" cy="3390.2" r="2" fill="#ffcc00"/>
<circle cx="116.9" cy="3395.7" r="2" fill="#ffcc00"/>
<circle cx="118.9" cy="3403.2" r="2" fill="#ffcc00"/>
<circle cx="116.9" cy="3410.7" r="2" fill="#ffcc00"/>
<circle cx="111.4" cy="3416.2" r="2" fill="#ffcc00"/>
<circle cx="103.9" cy="3418.2" r="2" fill="#ffcc00"/>
<circle cx="96.4" cy="3416.2" r="2" fill="#ffcc00"/>
<circle cx="90.9" cy="3410.7" r="2" fill="#ffcc00"/>
<circle cx="88.9" cy="3403.2" r="2" fill="#ffcc00"/>
<circle cx="90.9" cy="3395.7" r="2" fill="#ffcc00"/>
<circle cx="96.4" cy="3390.2" r="2" fill="#ffcc00"/>
<text x="148.3" y="3393" font-size="8.6" fill="#333" textLength="75.8" lengthAdjust="spacingAndGlyphs" font-family="'Liberation Sans',sans-serif">EVROPSKÁ UNIE</text>
<text x="148.3" y="3404.7" font-size="8.6" fill="#333" textLength="142.4" lengthAdjust="spacingAndGlyphs" font-family="'Liberation Sans',sans-serif">Evropský fond pro regionální rozvoj</text>
<text x="148.3" y="3417.1" font-size="8.6" fill="#333" textLength="163.3" lengthAdjust="spacingAndGlyphs" font-family="'Liberation Sans',sans-serif">Integrovaný regionální operační program</text>
<path d="M337,3412 C345,3392 375,3380 405,3385 C385,3388 360,3398 352,3414 Z" fill="#2e9b3a"/><path d="M337,3414 C350,3402 385,3396 408,3400 C395,3416 360,3428 337,3414 Z" fill="#f4d21f"/><path d="M337,3414 C352,3412 372,3416 384,3422 C365,3428 345,3424 337,3414 Z" fill="#1b3a8c"/>
<line x1="416.1" y1="3382.5" x2="416.1" y2="3425" stroke="#222" stroke-width="1.3"/>
<text x="426.6" y="3391.7" font-size="12" fill="#222" font-weight="bold" textLength="103.9" lengthAdjust="spacingAndGlyphs">MINISTERSTVO</text>
<text x="426.6" y="3407.3" font-size="12" fill="#222" font-weight="bold" textLength="82.3" lengthAdjust="spacingAndGlyphs">PRO MÍSTNÍ</text>
<text x="426.6" y="3423" font-size="12" fill="#222" font-weight="bold" textLength="78.4" lengthAdjust="spacingAndGlyphs">ROZVOJ ČR</text>
</svg></body></html>
